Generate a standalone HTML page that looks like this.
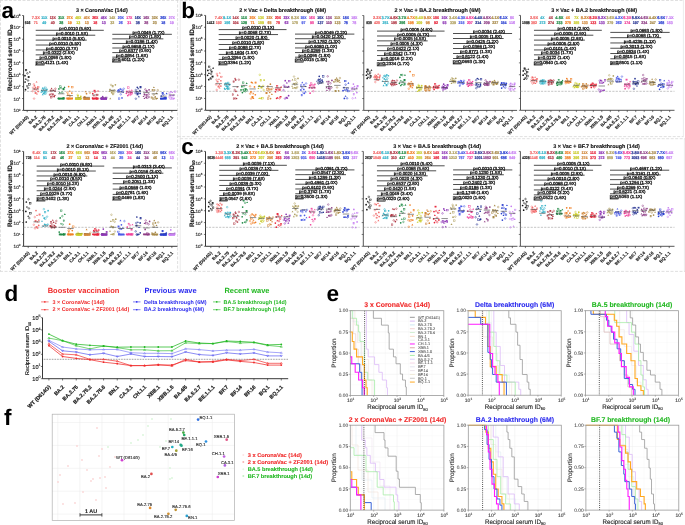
<!DOCTYPE html><html><head><meta charset="utf-8"><style>html,body{margin:0;padding:0;background:#fff;overflow:hidden;width:685px;height:525px;}svg{display:block;will-change:transform;}text{font-family:"Liberation Sans", sans-serif;}</style></head><body>
<svg width="685" height="525" viewBox="0 0 685 525" text-rendering="geometricPrecision">
<rect width="685" height="525" fill="#fff"/>
<line x1="0" y1="0.5" x2="684" y2="0.5" stroke="#d8d8d8" stroke-width="0.8" stroke-dasharray="3,1.5"/>
<line x1="0.5" y1="0" x2="0.5" y2="271.4" stroke="#d8d8d8" stroke-width="0.8" stroke-dasharray="3,1.5"/>
<line x1="177.6" y1="0" x2="177.6" y2="271.4" stroke="#d8d8d8" stroke-width="0.8" stroke-dasharray="3,1.5"/>
<line x1="180.2" y1="0" x2="180.2" y2="271.4" stroke="#e4e4e4" stroke-width="0.7"/>
<line x1="683.4" y1="0" x2="683.4" y2="136.6" stroke="#e4e4e4" stroke-width="0.7"/>
<line x1="684.4" y1="139" x2="684.4" y2="271.4" stroke="#e4e4e4" stroke-width="0.7"/>
<line x1="177.7" y1="136.6" x2="683.4" y2="136.6" stroke="#d8d8d8" stroke-width="0.8" stroke-dasharray="3,1.5"/>
<line x1="180.2" y1="138.7" x2="685" y2="138.7" stroke="#d8d8d8" stroke-width="0.8" stroke-dasharray="3,1.5"/>
<line x1="0" y1="271.4" x2="685" y2="271.4" stroke="#d8d8d8" stroke-width="0.8" stroke-dasharray="3,1.5"/>
<text x="101.8" y="12" font-size="5.42" fill="#111" font-weight="bold" text-anchor="middle" stroke="#111" stroke-width="0.12">3 × CoronaVac (14d)</text>
<text x="35.71" y="18.8" font-size="4" fill="#f26b6b" font-weight="bold" text-anchor="middle" textLength="8.1" lengthAdjust="spacingAndGlyphs" stroke="#f26b6b" stroke-width="0.22">7.3X</text>
<text x="35.71" y="24" font-size="4" fill="#f26b6b" font-weight="bold" text-anchor="middle" textLength="4" lengthAdjust="spacingAndGlyphs" stroke="#f26b6b" stroke-width="0.22">71</text>
<text x="44.22" y="18.8" font-size="4" fill="#36b3c9" font-weight="bold" text-anchor="middle" textLength="6.15" lengthAdjust="spacingAndGlyphs" stroke="#36b3c9" stroke-width="0.22">11X</text>
<text x="44.22" y="24" font-size="4" fill="#36b3c9" font-weight="bold" text-anchor="middle" textLength="4" lengthAdjust="spacingAndGlyphs" stroke="#36b3c9" stroke-width="0.22">49</text>
<text x="52.73" y="18.8" font-size="4" fill="#b03845" font-weight="bold" text-anchor="middle" textLength="6.15" lengthAdjust="spacingAndGlyphs" stroke="#b03845" stroke-width="0.22">13X</text>
<text x="52.73" y="24" font-size="4" fill="#b03845" font-weight="bold" text-anchor="middle" textLength="4" lengthAdjust="spacingAndGlyphs" stroke="#b03845" stroke-width="0.22">40</text>
<text x="61.24" y="18.8" font-size="4" fill="#1f8a45" font-weight="bold" text-anchor="middle" textLength="6.15" lengthAdjust="spacingAndGlyphs" stroke="#1f8a45" stroke-width="0.22">31X</text>
<text x="61.24" y="24" font-size="4" fill="#1f8a45" font-weight="bold" text-anchor="middle" textLength="4" lengthAdjust="spacingAndGlyphs" stroke="#1f8a45" stroke-width="0.22">28</text>
<text x="69.75" y="18.8" font-size="4" fill="#f07f24" font-weight="bold" text-anchor="middle" textLength="6.15" lengthAdjust="spacingAndGlyphs" stroke="#f07f24" stroke-width="0.22">27X</text>
<text x="69.75" y="24" font-size="4" fill="#f07f24" font-weight="bold" text-anchor="middle" textLength="4" lengthAdjust="spacingAndGlyphs" stroke="#f07f24" stroke-width="0.22">19</text>
<text x="78.26" y="18.8" font-size="4" fill="#c9cc2a" font-weight="bold" text-anchor="middle" textLength="6.15" lengthAdjust="spacingAndGlyphs" stroke="#c9cc2a" stroke-width="0.22">48X</text>
<text x="78.26" y="24" font-size="4" fill="#c9cc2a" font-weight="bold" text-anchor="middle" textLength="4" lengthAdjust="spacingAndGlyphs" stroke="#c9cc2a" stroke-width="0.22">13</text>
<text x="86.77" y="18.8" font-size="4" fill="#d1873a" font-weight="bold" text-anchor="middle" textLength="6.15" lengthAdjust="spacingAndGlyphs" stroke="#d1873a" stroke-width="0.22">40X</text>
<text x="86.77" y="24" font-size="4" fill="#d1873a" font-weight="bold" text-anchor="middle" textLength="4" lengthAdjust="spacingAndGlyphs" stroke="#d1873a" stroke-width="0.22">13</text>
<text x="95.28" y="18.8" font-size="4" fill="#e8263b" font-weight="bold" text-anchor="middle" textLength="6.15" lengthAdjust="spacingAndGlyphs" stroke="#e8263b" stroke-width="0.22">26X</text>
<text x="95.28" y="24" font-size="4" fill="#e8263b" font-weight="bold" text-anchor="middle" textLength="4" lengthAdjust="spacingAndGlyphs" stroke="#e8263b" stroke-width="0.22">18</text>
<text x="103.79" y="18.8" font-size="4" fill="#8d35b5" font-weight="bold" text-anchor="middle" textLength="6.15" lengthAdjust="spacingAndGlyphs" stroke="#8d35b5" stroke-width="0.22">48X</text>
<text x="103.79" y="24" font-size="4" fill="#8d35b5" font-weight="bold" text-anchor="middle" textLength="4" lengthAdjust="spacingAndGlyphs" stroke="#8d35b5" stroke-width="0.22">13</text>
<text x="112.3" y="18.8" font-size="4" fill="#b0a060" font-weight="bold" text-anchor="middle" textLength="6.15" lengthAdjust="spacingAndGlyphs" stroke="#b0a060" stroke-width="0.22">14X</text>
<text x="112.3" y="24" font-size="4" fill="#b0a060" font-weight="bold" text-anchor="middle" textLength="4" lengthAdjust="spacingAndGlyphs" stroke="#b0a060" stroke-width="0.22">32</text>
<text x="120.81" y="18.8" font-size="4" fill="#4b5be6" font-weight="bold" text-anchor="middle" textLength="6.15" lengthAdjust="spacingAndGlyphs" stroke="#4b5be6" stroke-width="0.22">20X</text>
<text x="120.81" y="24" font-size="4" fill="#4b5be6" font-weight="bold" text-anchor="middle" textLength="4" lengthAdjust="spacingAndGlyphs" stroke="#4b5be6" stroke-width="0.22">26</text>
<text x="129.32" y="18.8" font-size="4" fill="#f0409a" font-weight="bold" text-anchor="middle" textLength="6.15" lengthAdjust="spacingAndGlyphs" stroke="#f0409a" stroke-width="0.22">17X</text>
<text x="129.32" y="24" font-size="4" fill="#f0409a" font-weight="bold" text-anchor="middle" textLength="4" lengthAdjust="spacingAndGlyphs" stroke="#f0409a" stroke-width="0.22">31</text>
<text x="137.83" y="18.8" font-size="4" fill="#283593" font-weight="bold" text-anchor="middle" textLength="6.15" lengthAdjust="spacingAndGlyphs" stroke="#283593" stroke-width="0.22">16X</text>
<text x="137.83" y="24" font-size="4" fill="#283593" font-weight="bold" text-anchor="middle" textLength="4" lengthAdjust="spacingAndGlyphs" stroke="#283593" stroke-width="0.22">38</text>
<text x="146.34" y="18.8" font-size="4" fill="#8e3d85" font-weight="bold" text-anchor="middle" textLength="6.15" lengthAdjust="spacingAndGlyphs" stroke="#8e3d85" stroke-width="0.22">16X</text>
<text x="146.34" y="24" font-size="4" fill="#8e3d85" font-weight="bold" text-anchor="middle" textLength="4" lengthAdjust="spacingAndGlyphs" stroke="#8e3d85" stroke-width="0.22">28</text>
<text x="154.85" y="18.8" font-size="4" fill="#a88a4a" font-weight="bold" text-anchor="middle" textLength="6.15" lengthAdjust="spacingAndGlyphs" stroke="#a88a4a" stroke-width="0.22">32X</text>
<text x="154.85" y="24" font-size="4" fill="#a88a4a" font-weight="bold" text-anchor="middle" textLength="4" lengthAdjust="spacingAndGlyphs" stroke="#a88a4a" stroke-width="0.22">23</text>
<text x="163.36" y="18.8" font-size="4" fill="#2a3fd0" font-weight="bold" text-anchor="middle" textLength="6.15" lengthAdjust="spacingAndGlyphs" stroke="#2a3fd0" stroke-width="0.22">26X</text>
<text x="163.36" y="24" font-size="4" fill="#2a3fd0" font-weight="bold" text-anchor="middle" textLength="4" lengthAdjust="spacingAndGlyphs" stroke="#2a3fd0" stroke-width="0.22">18</text>
<text x="171.87" y="18.8" font-size="4" fill="#c77ef2" font-weight="bold" text-anchor="middle" textLength="6.15" lengthAdjust="spacingAndGlyphs" stroke="#c77ef2" stroke-width="0.22">27X</text>
<text x="171.87" y="24" font-size="4" fill="#c77ef2" font-weight="bold" text-anchor="middle" textLength="4" lengthAdjust="spacingAndGlyphs" stroke="#c77ef2" stroke-width="0.22">19</text>
<text x="27.6" y="24" font-size="4" fill="#222" font-weight="bold" text-anchor="middle" textLength="5.7" lengthAdjust="spacingAndGlyphs" stroke="#222" stroke-width="0.2">516</text>
<line x1="23.6" y1="15.52" x2="23.6" y2="110.4" stroke="#222" stroke-width="0.9" />
<line x1="23.6" y1="110.4" x2="177.3" y2="110.4" stroke="#222" stroke-width="0.9" />
<line x1="22" y1="110.4" x2="23.6" y2="110.4" stroke="#222" stroke-width="0.6" />
<text x="20.4" y="112.4" font-size="4.6" fill="#333" text-anchor="end" stroke="#333" stroke-width="0.15">10<tspan font-size="2.99" dy="-1.84">0</tspan></text>
<line x1="22" y1="98.54" x2="23.6" y2="98.54" stroke="#222" stroke-width="0.6" />
<text x="20.4" y="100.54" font-size="4.6" fill="#333" text-anchor="end" stroke="#333" stroke-width="0.15">10<tspan font-size="2.99" dy="-1.84">1</tspan></text>
<line x1="22" y1="86.68" x2="23.6" y2="86.68" stroke="#222" stroke-width="0.6" />
<text x="20.4" y="88.68" font-size="4.6" fill="#333" text-anchor="end" stroke="#333" stroke-width="0.15">10<tspan font-size="2.99" dy="-1.84">2</tspan></text>
<line x1="22" y1="74.82" x2="23.6" y2="74.82" stroke="#222" stroke-width="0.6" />
<text x="20.4" y="76.82" font-size="4.6" fill="#333" text-anchor="end" stroke="#333" stroke-width="0.15">10<tspan font-size="2.99" dy="-1.84">3</tspan></text>
<line x1="22" y1="62.96" x2="23.6" y2="62.96" stroke="#222" stroke-width="0.6" />
<text x="20.4" y="64.96" font-size="4.6" fill="#333" text-anchor="end" stroke="#333" stroke-width="0.15">10<tspan font-size="2.99" dy="-1.84">4</tspan></text>
<line x1="22" y1="51.1" x2="23.6" y2="51.1" stroke="#222" stroke-width="0.6" />
<text x="20.4" y="53.1" font-size="4.6" fill="#333" text-anchor="end" stroke="#333" stroke-width="0.15">10<tspan font-size="2.99" dy="-1.84">5</tspan></text>
<line x1="22" y1="39.24" x2="23.6" y2="39.24" stroke="#222" stroke-width="0.6" />
<text x="20.4" y="41.24" font-size="4.6" fill="#333" text-anchor="end" stroke="#333" stroke-width="0.15">10<tspan font-size="2.99" dy="-1.84">6</tspan></text>
<line x1="22" y1="27.38" x2="23.6" y2="27.38" stroke="#222" stroke-width="0.6" />
<text x="20.4" y="29.38" font-size="4.6" fill="#333" text-anchor="end" stroke="#333" stroke-width="0.15">10<tspan font-size="2.99" dy="-1.84">7</tspan></text>
<line x1="22" y1="15.52" x2="23.6" y2="15.52" stroke="#222" stroke-width="0.6" />
<text x="20.4" y="17.52" font-size="4.6" fill="#333" text-anchor="end" stroke="#333" stroke-width="0.15">10<tspan font-size="2.99" dy="-1.84">8</tspan></text>
<line x1="27.2" y1="110.4" x2="27.2" y2="112.2" stroke="#222" stroke-width="0.6" />
<line x1="35.71" y1="110.4" x2="35.71" y2="112.2" stroke="#222" stroke-width="0.6" />
<line x1="44.22" y1="110.4" x2="44.22" y2="112.2" stroke="#222" stroke-width="0.6" />
<line x1="52.73" y1="110.4" x2="52.73" y2="112.2" stroke="#222" stroke-width="0.6" />
<line x1="61.24" y1="110.4" x2="61.24" y2="112.2" stroke="#222" stroke-width="0.6" />
<line x1="69.75" y1="110.4" x2="69.75" y2="112.2" stroke="#222" stroke-width="0.6" />
<line x1="78.26" y1="110.4" x2="78.26" y2="112.2" stroke="#222" stroke-width="0.6" />
<line x1="86.77" y1="110.4" x2="86.77" y2="112.2" stroke="#222" stroke-width="0.6" />
<line x1="95.28" y1="110.4" x2="95.28" y2="112.2" stroke="#222" stroke-width="0.6" />
<line x1="103.79" y1="110.4" x2="103.79" y2="112.2" stroke="#222" stroke-width="0.6" />
<line x1="112.3" y1="110.4" x2="112.3" y2="112.2" stroke="#222" stroke-width="0.6" />
<line x1="120.81" y1="110.4" x2="120.81" y2="112.2" stroke="#222" stroke-width="0.6" />
<line x1="129.32" y1="110.4" x2="129.32" y2="112.2" stroke="#222" stroke-width="0.6" />
<line x1="137.83" y1="110.4" x2="137.83" y2="112.2" stroke="#222" stroke-width="0.6" />
<line x1="146.34" y1="110.4" x2="146.34" y2="112.2" stroke="#222" stroke-width="0.6" />
<line x1="154.85" y1="110.4" x2="154.85" y2="112.2" stroke="#222" stroke-width="0.6" />
<line x1="163.36" y1="110.4" x2="163.36" y2="112.2" stroke="#222" stroke-width="0.6" />
<line x1="171.87" y1="110.4" x2="171.87" y2="112.2" stroke="#222" stroke-width="0.6" />
<text transform="translate(11.9,57.86) rotate(-90)" font-size="6.4" font-weight="bold" fill="#111" stroke="#111" stroke-width="0.15" text-anchor="middle">Reciprocal serum ID<tspan font-size="4.2" dy="1.5">50</tspan></text>
<text transform="translate(28.9,117.4) rotate(-45)" font-size="4.4" font-weight="bold" fill="#1a1a1a" stroke="#1a1a1a" stroke-width="0.12" text-anchor="end">WT (D614G)</text>
<text transform="translate(37.41,117.4) rotate(-45)" font-size="4.4" font-weight="bold" fill="#1a1a1a" stroke="#1a1a1a" stroke-width="0.12" text-anchor="end">BA.2</text>
<text transform="translate(45.92,117.4) rotate(-45)" font-size="4.4" font-weight="bold" fill="#1a1a1a" stroke="#1a1a1a" stroke-width="0.12" text-anchor="end">BA.2.75</text>
<text transform="translate(54.43,117.4) rotate(-45)" font-size="4.4" font-weight="bold" fill="#1a1a1a" stroke="#1a1a1a" stroke-width="0.12" text-anchor="end">BA.2.75.2</text>
<text transform="translate(62.94,117.4) rotate(-45)" font-size="4.4" font-weight="bold" fill="#1a1a1a" stroke="#1a1a1a" stroke-width="0.12" text-anchor="end">BA.2.75.6</text>
<text transform="translate(71.45,117.4) rotate(-45)" font-size="4.4" font-weight="bold" fill="#1a1a1a" stroke="#1a1a1a" stroke-width="0.12" text-anchor="end">BN.1</text>
<text transform="translate(79.96,117.4) rotate(-45)" font-size="4.4" font-weight="bold" fill="#1a1a1a" stroke="#1a1a1a" stroke-width="0.12" text-anchor="end">CA.3.1</text>
<text transform="translate(88.47,117.4) rotate(-45)" font-size="4.4" font-weight="bold" fill="#1a1a1a" stroke="#1a1a1a" stroke-width="0.12" text-anchor="end">CH.1.1</text>
<text transform="translate(96.98,117.4) rotate(-45)" font-size="4.4" font-weight="bold" fill="#1a1a1a" stroke="#1a1a1a" stroke-width="0.12" text-anchor="end">XBB.1</text>
<text transform="translate(105.49,117.4) rotate(-45)" font-size="4.4" font-weight="bold" fill="#1a1a1a" stroke="#1a1a1a" stroke-width="0.12" text-anchor="end">XBB.1.5</text>
<text transform="translate(114,117.4) rotate(-45)" font-size="4.4" font-weight="bold" fill="#1a1a1a" stroke="#1a1a1a" stroke-width="0.12" text-anchor="end">BA.4/5</text>
<text transform="translate(122.51,117.4) rotate(-45)" font-size="4.4" font-weight="bold" fill="#1a1a1a" stroke="#1a1a1a" stroke-width="0.12" text-anchor="end">BA.5.2.7</text>
<text transform="translate(131.02,117.4) rotate(-45)" font-size="4.4" font-weight="bold" fill="#1a1a1a" stroke="#1a1a1a" stroke-width="0.12" text-anchor="end">BE.1.1.1</text>
<text transform="translate(139.53,117.4) rotate(-45)" font-size="4.4" font-weight="bold" fill="#1a1a1a" stroke="#1a1a1a" stroke-width="0.12" text-anchor="end">BF.7</text>
<text transform="translate(148.04,117.4) rotate(-45)" font-size="4.4" font-weight="bold" fill="#1a1a1a" stroke="#1a1a1a" stroke-width="0.12" text-anchor="end">BF.14</text>
<text transform="translate(156.55,117.4) rotate(-45)" font-size="4.4" font-weight="bold" fill="#1a1a1a" stroke="#1a1a1a" stroke-width="0.12" text-anchor="end">BF.16</text>
<text transform="translate(165.06,117.4) rotate(-45)" font-size="4.4" font-weight="bold" fill="#1a1a1a" stroke="#1a1a1a" stroke-width="0.12" text-anchor="end">BQ.1</text>
<text transform="translate(173.57,117.4) rotate(-45)" font-size="4.4" font-weight="bold" fill="#1a1a1a" stroke="#1a1a1a" stroke-width="0.12" text-anchor="end">BQ.1.1</text>
<line x1="23.6" y1="91.42" x2="177.3" y2="91.42" stroke="#999" stroke-width="0.55" stroke-dasharray="2.2,1.2"/>
<rect x="35.71" y="61.87" width="8.51" height="3.6" fill="none" stroke="#555" stroke-width="0.45"/>
<rect x="112.3" y="58.92" width="8.51" height="3.6" fill="none" stroke="#555" stroke-width="0.45"/>
<line x1="35.71" y1="30.3" x2="103.79" y2="30.3" stroke="#222" stroke-width="0.8" />
<text x="59.21" y="29.9" font-size="4.3" fill="#111" text-anchor="start" textLength="32" lengthAdjust="spacingAndGlyphs" stroke="#111" stroke-width="0.28">p=0.0010 (5.6X)</text>
<line x1="35.71" y1="35.21" x2="95.28" y2="35.21" stroke="#222" stroke-width="0.8" />
<text x="55.91" y="34.81" font-size="4.3" fill="#111" text-anchor="start" textLength="32" lengthAdjust="spacingAndGlyphs" stroke="#111" stroke-width="0.28">p=0.0010 (1.5X)</text>
<line x1="35.71" y1="40.12" x2="86.77" y2="40.12" stroke="#222" stroke-width="0.8" />
<text x="52.61" y="39.72" font-size="4.3" fill="#111" text-anchor="start" textLength="32" lengthAdjust="spacingAndGlyphs" stroke="#111" stroke-width="0.28">p=0.0010 (5.5X)</text>
<line x1="35.71" y1="45.03" x2="78.26" y2="45.03" stroke="#222" stroke-width="0.8" />
<text x="49.31" y="44.63" font-size="4.3" fill="#111" text-anchor="start" textLength="32" lengthAdjust="spacingAndGlyphs" stroke="#111" stroke-width="0.28">p=0.0010 (5.5X)</text>
<line x1="35.71" y1="49.94" x2="69.75" y2="49.94" stroke="#222" stroke-width="0.8" />
<text x="46.01" y="49.54" font-size="4.3" fill="#111" text-anchor="start" textLength="32" lengthAdjust="spacingAndGlyphs" stroke="#111" stroke-width="0.28">p=0.0020 (3.7X)</text>
<line x1="35.71" y1="54.85" x2="61.24" y2="54.85" stroke="#222" stroke-width="0.8" />
<text x="42.71" y="54.45" font-size="4.3" fill="#111" text-anchor="start" textLength="32" lengthAdjust="spacingAndGlyphs" stroke="#111" stroke-width="0.28">p=0.0322 (2.5X)</text>
<line x1="35.71" y1="59.76" x2="52.73" y2="59.76" stroke="#222" stroke-width="0.8" />
<text x="39.41" y="59.36" font-size="4.3" fill="#111" text-anchor="start" textLength="32" lengthAdjust="spacingAndGlyphs" stroke="#111" stroke-width="0.28">p=0.0098 (1.8X)</text>
<line x1="35.71" y1="64.67" x2="44.22" y2="64.67" stroke="#222" stroke-width="0.8" />
<text x="36.11" y="64.27" font-size="4.3" fill="#111" text-anchor="start" textLength="32" lengthAdjust="spacingAndGlyphs" stroke="#111" stroke-width="0.28">p=0.4121 (1.4X)</text>
<line x1="112.3" y1="34.3" x2="171.87" y2="34.3" stroke="#222" stroke-width="0.8" />
<text x="132.4" y="33.9" font-size="4.3" fill="#111" text-anchor="start" textLength="32" lengthAdjust="spacingAndGlyphs" stroke="#111" stroke-width="0.28">p=0.0049 (1.7X)</text>
<line x1="112.3" y1="38.87" x2="163.36" y2="38.87" stroke="#222" stroke-width="0.8" />
<text x="129.1" y="38.47" font-size="4.3" fill="#111" text-anchor="start" textLength="32" lengthAdjust="spacingAndGlyphs" stroke="#111" stroke-width="0.28">p=0.0020 (1.8X)</text>
<line x1="112.3" y1="43.44" x2="154.85" y2="43.44" stroke="#222" stroke-width="0.8" />
<text x="125.8" y="43.04" font-size="4.3" fill="#111" text-anchor="start" textLength="32" lengthAdjust="spacingAndGlyphs" stroke="#111" stroke-width="0.28">p=0.0186 (1.4X)</text>
<line x1="112.3" y1="48.01" x2="146.34" y2="48.01" stroke="#222" stroke-width="0.8" />
<text x="122.5" y="47.61" font-size="4.3" fill="#111" text-anchor="start" textLength="32" lengthAdjust="spacingAndGlyphs" stroke="#111" stroke-width="0.28">p=0.9658 (1.1X)</text>
<line x1="112.3" y1="52.58" x2="137.83" y2="52.58" stroke="#222" stroke-width="0.8" />
<text x="119.2" y="52.18" font-size="4.3" fill="#111" text-anchor="start" textLength="32" lengthAdjust="spacingAndGlyphs" stroke="#111" stroke-width="0.28">p=0.6377 (0.9X)</text>
<line x1="112.3" y1="57.15" x2="129.32" y2="57.15" stroke="#222" stroke-width="0.8" />
<text x="115.9" y="56.75" font-size="4.3" fill="#111" text-anchor="start" textLength="32" lengthAdjust="spacingAndGlyphs" stroke="#111" stroke-width="0.28">p=0.0854 (1.6X)</text>
<line x1="112.3" y1="61.72" x2="120.81" y2="61.72" stroke="#222" stroke-width="0.8" />
<text x="112.6" y="61.32" font-size="4.3" fill="#111" text-anchor="start" textLength="32" lengthAdjust="spacingAndGlyphs" stroke="#111" stroke-width="0.28">p=0.6011 (1.2X)</text>
<circle cx="25.53" cy="89.67" r="0.85" fill="#111111"/>
<circle cx="28.01" cy="87.83" r="0.8" fill="none" stroke="#111111" stroke-width="0.5"/>
<path d="M27.02 84.86l1.0 1.6h-2.0z" fill="#111111"/>
<rect x="28.67" y="83.68" width="1.5" height="1.5" fill="none" stroke="#111111" stroke-width="0.5"/>
<circle cx="25.11" cy="82.01" r="0.85" fill="#111111"/>
<circle cx="28" cy="80.51" r="0.8" fill="none" stroke="#111111" stroke-width="0.5"/>
<path d="M25.86 78.04l1.0 1.6h-2.0z" fill="#111111"/>
<rect x="28.02" y="76.26" width="1.5" height="1.5" fill="none" stroke="#111111" stroke-width="0.5"/>
<circle cx="24.99" cy="75.64" r="0.85" fill="#111111"/>
<circle cx="27.39" cy="73.36" r="0.8" fill="none" stroke="#111111" stroke-width="0.5"/>
<path d="M29.84 70.89l1.0 1.6h-2.0z" fill="#111111"/>
<rect x="25.32" y="69.35" width="1.5" height="1.5" fill="none" stroke="#111111" stroke-width="0.5"/>
<circle cx="34.07" cy="98.58" r="0.8" fill="none" stroke="#f26b6b" stroke-width="0.5"/>
<path d="M36.97 92.96l1.0 1.6h-2.0z" fill="#f26b6b"/>
<rect x="34.93" y="92.28" width="1.5" height="1.5" fill="none" stroke="#f26b6b" stroke-width="0.5"/>
<circle cx="38.09" cy="91.41" r="0.85" fill="#f26b6b"/>
<circle cx="32.66" cy="91.1" r="0.8" fill="none" stroke="#f26b6b" stroke-width="0.5"/>
<path d="M36.43 89.01l1.0 1.6h-2.0z" fill="#f26b6b"/>
<rect x="34.02" y="88.43" width="1.5" height="1.5" fill="none" stroke="#f26b6b" stroke-width="0.5"/>
<circle cx="37.52" cy="88.4" r="0.85" fill="#f26b6b"/>
<circle cx="33.13" cy="87.62" r="0.8" fill="none" stroke="#f26b6b" stroke-width="0.5"/>
<path d="M35.54 86.33l1.0 1.6h-2.0z" fill="#f26b6b"/>
<rect x="37.51" y="86.28" width="1.5" height="1.5" fill="none" stroke="#f26b6b" stroke-width="0.5"/>
<circle cx="34.51" cy="85.76" r="0.85" fill="#f26b6b"/>
<circle cx="33.82" cy="84.32" r="0.8" fill="none" stroke="#f26b6b" stroke-width="0.5"/>
<path d="M36.57 80.96l1.0 1.6h-2.0z" fill="#f26b6b"/>
<line x1="32.51" y1="89.05" x2="38.91" y2="89.05" stroke="#444" stroke-width="0.6" />
<path d="M42.72 93.59l1.0 1.6h-2.0z" fill="#36b3c9"/>
<rect x="44.58" y="93.18" width="1.5" height="1.5" fill="none" stroke="#36b3c9" stroke-width="0.5"/>
<circle cx="43.6" cy="93.31" r="0.85" fill="#36b3c9"/>
<circle cx="46.27" cy="92.15" r="0.8" fill="none" stroke="#36b3c9" stroke-width="0.5"/>
<path d="M41.29 91.14l1.0 1.6h-2.0z" fill="#36b3c9"/>
<rect x="43.94" y="91.26" width="1.5" height="1.5" fill="none" stroke="#36b3c9" stroke-width="0.5"/>
<circle cx="42.62" cy="91.43" r="0.85" fill="#36b3c9"/>
<circle cx="45.8" cy="90.74" r="0.8" fill="none" stroke="#36b3c9" stroke-width="0.5"/>
<path d="M41.64 89.51l1.0 1.6h-2.0z" fill="#36b3c9"/>
<rect x="43.66" y="89.02" width="1.5" height="1.5" fill="none" stroke="#36b3c9" stroke-width="0.5"/>
<circle cx="46.92" cy="89.34" r="0.85" fill="#36b3c9"/>
<circle cx="43.21" cy="88.67" r="0.8" fill="none" stroke="#36b3c9" stroke-width="0.5"/>
<path d="M42.7 87.03l1.0 1.6h-2.0z" fill="#36b3c9"/>
<rect x="44.64" y="87.02" width="1.5" height="1.5" fill="none" stroke="#36b3c9" stroke-width="0.5"/>
<line x1="41.02" y1="90.24" x2="47.42" y2="90.24" stroke="#444" stroke-width="0.6" />
<rect x="50.43" y="96.56" width="1.5" height="1.5" fill="none" stroke="#b03845" stroke-width="0.5"/>
<circle cx="54.21" cy="96.57" r="0.85" fill="#b03845"/>
<circle cx="52.68" cy="96.15" r="0.8" fill="none" stroke="#b03845" stroke-width="0.5"/>
<path d="M54.91 94.43l1.0 1.6h-2.0z" fill="#b03845"/>
<rect x="49.16" y="94.06" width="1.5" height="1.5" fill="none" stroke="#b03845" stroke-width="0.5"/>
<circle cx="52.95" cy="94.21" r="0.85" fill="#b03845"/>
<circle cx="51.34" cy="94.17" r="0.8" fill="none" stroke="#b03845" stroke-width="0.5"/>
<path d="M55 90.03l1.0 1.6h-2.0z" fill="#b03845"/>
<rect x="50.13" y="89.93" width="1.5" height="1.5" fill="none" stroke="#b03845" stroke-width="0.5"/>
<circle cx="53.19" cy="90.37" r="0.85" fill="#b03845"/>
<circle cx="55.41" cy="88.79" r="0.8" fill="none" stroke="#b03845" stroke-width="0.5"/>
<path d="M51.59 87.58l1.0 1.6h-2.0z" fill="#b03845"/>
<line x1="49.53" y1="90.83" x2="55.93" y2="90.83" stroke="#444" stroke-width="0.6" />
<circle cx="59.31" cy="98.66" r="0.85" fill="#1f8a45"/>
<circle cx="62.82" cy="98.5" r="0.8" fill="none" stroke="#1f8a45" stroke-width="0.5"/>
<path d="M60.86 97.77l1.0 1.6h-2.0z" fill="#1f8a45"/>
<rect x="63.07" y="97.66" width="1.5" height="1.5" fill="none" stroke="#1f8a45" stroke-width="0.5"/>
<circle cx="58.24" cy="98.4" r="0.85" fill="#1f8a45"/>
<circle cx="62.16" cy="92.51" r="0.8" fill="none" stroke="#1f8a45" stroke-width="0.5"/>
<path d="M59.76 91.56l1.0 1.6h-2.0z" fill="#1f8a45"/>
<rect x="62.77" y="88.42" width="1.5" height="1.5" fill="none" stroke="#1f8a45" stroke-width="0.5"/>
<circle cx="58.92" cy="88.88" r="0.85" fill="#1f8a45"/>
<circle cx="61.04" cy="88.16" r="0.8" fill="none" stroke="#1f8a45" stroke-width="0.5"/>
<path d="M64.52 86.28l1.0 1.6h-2.0z" fill="#1f8a45"/>
<rect x="59.61" y="85.8" width="1.5" height="1.5" fill="none" stroke="#1f8a45" stroke-width="0.5"/>
<line x1="58.04" y1="93.8" x2="64.44" y2="93.8" stroke="#444" stroke-width="0.6" />
<rect x="58.04" y="97.64" width="6.4" height="1.8" fill="#1f8a45"/>
<circle cx="68.02" cy="98.7" r="0.8" fill="none" stroke="#f07f24" stroke-width="0.5"/>
<path d="M70.89 97.76l1.0 1.6h-2.0z" fill="#f07f24"/>
<rect x="68.7" y="97.8" width="1.5" height="1.5" fill="none" stroke="#f07f24" stroke-width="0.5"/>
<circle cx="72.17" cy="98.35" r="0.85" fill="#f07f24"/>
<circle cx="67" cy="98.41" r="0.8" fill="none" stroke="#f07f24" stroke-width="0.5"/>
<path d="M69.95 94.85l1.0 1.6h-2.0z" fill="#f07f24"/>
<rect x="67.54" y="93.96" width="1.5" height="1.5" fill="none" stroke="#f07f24" stroke-width="0.5"/>
<circle cx="71.83" cy="93.1" r="0.85" fill="#f07f24"/>
<circle cx="67.41" cy="92.57" r="0.8" fill="none" stroke="#f07f24" stroke-width="0.5"/>
<path d="M69.89 90.05l1.0 1.6h-2.0z" fill="#f07f24"/>
<rect x="71.58" y="86.44" width="1.5" height="1.5" fill="none" stroke="#f07f24" stroke-width="0.5"/>
<circle cx="68.65" cy="86.58" r="0.85" fill="#f07f24"/>
<line x1="66.55" y1="95.58" x2="72.95" y2="95.58" stroke="#444" stroke-width="0.6" />
<rect x="66.55" y="97.64" width="6.4" height="1.8" fill="#f07f24"/>
<path d="M76.55 97.59l1.0 1.6h-2.0z" fill="#c9cc2a"/>
<rect x="78.72" y="97.87" width="1.5" height="1.5" fill="none" stroke="#c9cc2a" stroke-width="0.5"/>
<circle cx="77.92" cy="98.55" r="0.85" fill="#c9cc2a"/>
<circle cx="80.64" cy="98.72" r="0.8" fill="none" stroke="#c9cc2a" stroke-width="0.5"/>
<path d="M75.72 97.74l1.0 1.6h-2.0z" fill="#c9cc2a"/>
<rect x="78.46" y="97.69" width="1.5" height="1.5" fill="none" stroke="#c9cc2a" stroke-width="0.5"/>
<circle cx="77.11" cy="98.72" r="0.85" fill="#c9cc2a"/>
<circle cx="80.43" cy="98.39" r="0.8" fill="none" stroke="#c9cc2a" stroke-width="0.5"/>
<path d="M75.76 97.57l1.0 1.6h-2.0z" fill="#c9cc2a"/>
<rect x="77.27" y="95.65" width="1.5" height="1.5" fill="none" stroke="#c9cc2a" stroke-width="0.5"/>
<circle cx="80.82" cy="96.27" r="0.85" fill="#c9cc2a"/>
<circle cx="77.59" cy="94.92" r="0.8" fill="none" stroke="#c9cc2a" stroke-width="0.5"/>
<line x1="75.06" y1="97.95" x2="81.46" y2="97.95" stroke="#444" stroke-width="0.6" />
<rect x="75.06" y="97.64" width="6.4" height="2.2" fill="#c9cc2a"/>
<rect x="84.14" y="97.78" width="1.5" height="1.5" fill="none" stroke="#d1873a" stroke-width="0.5"/>
<circle cx="88.36" cy="98.67" r="0.85" fill="#d1873a"/>
<circle cx="86.2" cy="98.51" r="0.8" fill="none" stroke="#d1873a" stroke-width="0.5"/>
<path d="M89.18 97.53l1.0 1.6h-2.0z" fill="#d1873a"/>
<rect x="83.08" y="97.72" width="1.5" height="1.5" fill="none" stroke="#d1873a" stroke-width="0.5"/>
<circle cx="87.55" cy="98.35" r="0.85" fill="#d1873a"/>
<circle cx="85.61" cy="98.52" r="0.8" fill="none" stroke="#d1873a" stroke-width="0.5"/>
<path d="M88.28 97.52l1.0 1.6h-2.0z" fill="#d1873a"/>
<rect x="83.92" y="96.7" width="1.5" height="1.5" fill="none" stroke="#d1873a" stroke-width="0.5"/>
<circle cx="86.52" cy="93.64" r="0.85" fill="#d1873a"/>
<circle cx="89.9" cy="92.78" r="0.8" fill="none" stroke="#d1873a" stroke-width="0.5"/>
<path d="M85.55 90.72l1.0 1.6h-2.0z" fill="#d1873a"/>
<line x1="83.57" y1="97.35" x2="89.97" y2="97.35" stroke="#444" stroke-width="0.6" />
<rect x="83.57" y="97.64" width="6.4" height="2.2" fill="#d1873a"/>
<circle cx="93.14" cy="98.72" r="0.85" fill="#e8263b"/>
<circle cx="96.59" cy="98.66" r="0.8" fill="none" stroke="#e8263b" stroke-width="0.5"/>
<path d="M94.65 97.73l1.0 1.6h-2.0z" fill="#e8263b"/>
<rect x="96.58" y="97.94" width="1.5" height="1.5" fill="none" stroke="#e8263b" stroke-width="0.5"/>
<circle cx="92.54" cy="98" r="0.85" fill="#e8263b"/>
<circle cx="95.92" cy="97.64" r="0.8" fill="none" stroke="#e8263b" stroke-width="0.5"/>
<path d="M93.89 94.68l1.0 1.6h-2.0z" fill="#e8263b"/>
<rect x="96.45" y="94.14" width="1.5" height="1.5" fill="none" stroke="#e8263b" stroke-width="0.5"/>
<circle cx="92.77" cy="93.54" r="0.85" fill="#e8263b"/>
<circle cx="95.02" cy="91.95" r="0.8" fill="none" stroke="#e8263b" stroke-width="0.5"/>
<path d="M98.03 89.95l1.0 1.6h-2.0z" fill="#e8263b"/>
<rect x="93.84" y="90.08" width="1.5" height="1.5" fill="none" stroke="#e8263b" stroke-width="0.5"/>
<line x1="92.08" y1="94.98" x2="98.48" y2="94.98" stroke="#444" stroke-width="0.6" />
<rect x="92.08" y="97.64" width="6.4" height="1.8" fill="#e8263b"/>
<circle cx="101.74" cy="98.53" r="0.8" fill="none" stroke="#8d35b5" stroke-width="0.5"/>
<path d="M105.34 97.43l1.0 1.6h-2.0z" fill="#8d35b5"/>
<rect x="103" y="97.76" width="1.5" height="1.5" fill="none" stroke="#8d35b5" stroke-width="0.5"/>
<circle cx="106.19" cy="98.67" r="0.85" fill="#8d35b5"/>
<circle cx="101" cy="98.54" r="0.8" fill="none" stroke="#8d35b5" stroke-width="0.5"/>
<path d="M104.54 97.78l1.0 1.6h-2.0z" fill="#8d35b5"/>
<rect x="101.71" y="97.92" width="1.5" height="1.5" fill="none" stroke="#8d35b5" stroke-width="0.5"/>
<circle cx="105.86" cy="98.59" r="0.85" fill="#8d35b5"/>
<circle cx="101.51" cy="98.41" r="0.8" fill="none" stroke="#8d35b5" stroke-width="0.5"/>
<path d="M103.53 97.36l1.0 1.6h-2.0z" fill="#8d35b5"/>
<rect x="105.6" y="97.04" width="1.5" height="1.5" fill="none" stroke="#8d35b5" stroke-width="0.5"/>
<circle cx="102.69" cy="96.63" r="0.85" fill="#8d35b5"/>
<line x1="100.59" y1="97.95" x2="106.99" y2="97.95" stroke="#444" stroke-width="0.6" />
<rect x="100.59" y="97.64" width="6.4" height="2.2" fill="#8d35b5"/>
<path d="M110.26 97.59l1.0 1.6h-2.0z" fill="#b0a060"/>
<rect x="112.35" y="93.35" width="1.5" height="1.5" fill="none" stroke="#b0a060" stroke-width="0.5"/>
<circle cx="111.67" cy="92.66" r="0.85" fill="#b0a060"/>
<circle cx="114.33" cy="92.18" r="0.8" fill="none" stroke="#b0a060" stroke-width="0.5"/>
<path d="M109.44 90.48l1.0 1.6h-2.0z" fill="#b0a060"/>
<rect x="112.22" y="90.62" width="1.5" height="1.5" fill="none" stroke="#b0a060" stroke-width="0.5"/>
<circle cx="111.3" cy="90.86" r="0.85" fill="#b0a060"/>
<circle cx="114.37" cy="90.38" r="0.8" fill="none" stroke="#b0a060" stroke-width="0.5"/>
<path d="M110.01 88.34l1.0 1.6h-2.0z" fill="#b0a060"/>
<rect x="112.04" y="85.49" width="1.5" height="1.5" fill="none" stroke="#b0a060" stroke-width="0.5"/>
<circle cx="115.38" cy="84.86" r="0.85" fill="#b0a060"/>
<circle cx="111.04" cy="84.89" r="0.8" fill="none" stroke="#b0a060" stroke-width="0.5"/>
<line x1="109.1" y1="90.24" x2="115.5" y2="90.24" stroke="#444" stroke-width="0.6" />
<rect x="118.36" y="97.86" width="1.5" height="1.5" fill="none" stroke="#4b5be6" stroke-width="0.5"/>
<circle cx="122" cy="97.97" r="0.85" fill="#4b5be6"/>
<circle cx="120.75" cy="94.36" r="0.8" fill="none" stroke="#4b5be6" stroke-width="0.5"/>
<path d="M123.21 91.39l1.0 1.6h-2.0z" fill="#4b5be6"/>
<rect x="117.49" y="90.61" width="1.5" height="1.5" fill="none" stroke="#4b5be6" stroke-width="0.5"/>
<circle cx="121.6" cy="91.43" r="0.85" fill="#4b5be6"/>
<circle cx="119.27" cy="90.99" r="0.8" fill="none" stroke="#4b5be6" stroke-width="0.5"/>
<path d="M122.89 89.06l1.0 1.6h-2.0z" fill="#4b5be6"/>
<rect x="118.05" y="89.44" width="1.5" height="1.5" fill="none" stroke="#4b5be6" stroke-width="0.5"/>
<circle cx="120.91" cy="89.24" r="0.85" fill="#4b5be6"/>
<circle cx="123.69" cy="88.71" r="0.8" fill="none" stroke="#4b5be6" stroke-width="0.5"/>
<path d="M120.12 87.72l1.0 1.6h-2.0z" fill="#4b5be6"/>
<line x1="117.61" y1="92.02" x2="124.01" y2="92.02" stroke="#444" stroke-width="0.6" />
<circle cx="127.78" cy="95.61" r="0.85" fill="#f0409a"/>
<circle cx="130.48" cy="94.81" r="0.8" fill="none" stroke="#f0409a" stroke-width="0.5"/>
<path d="M128.79 93.54l1.0 1.6h-2.0z" fill="#f0409a"/>
<rect x="130.74" y="92.74" width="1.5" height="1.5" fill="none" stroke="#f0409a" stroke-width="0.5"/>
<circle cx="126.33" cy="93.31" r="0.85" fill="#f0409a"/>
<circle cx="130.28" cy="93.05" r="0.8" fill="none" stroke="#f0409a" stroke-width="0.5"/>
<path d="M128.38 91.63l1.0 1.6h-2.0z" fill="#f0409a"/>
<rect x="130.78" y="91.83" width="1.5" height="1.5" fill="none" stroke="#f0409a" stroke-width="0.5"/>
<circle cx="126.91" cy="91.43" r="0.85" fill="#f0409a"/>
<circle cx="129.41" cy="91.02" r="0.8" fill="none" stroke="#f0409a" stroke-width="0.5"/>
<path d="M131.82 89.17l1.0 1.6h-2.0z" fill="#f0409a"/>
<rect x="127.63" y="86.77" width="1.5" height="1.5" fill="none" stroke="#f0409a" stroke-width="0.5"/>
<line x1="126.12" y1="92.02" x2="132.52" y2="92.02" stroke="#444" stroke-width="0.6" />
<circle cx="135.86" cy="98.71" r="0.8" fill="none" stroke="#283593" stroke-width="0.5"/>
<path d="M138.83 95.74l1.0 1.6h-2.0z" fill="#283593"/>
<rect x="136.79" y="93.57" width="1.5" height="1.5" fill="none" stroke="#283593" stroke-width="0.5"/>
<circle cx="140.13" cy="93.46" r="0.85" fill="#283593"/>
<circle cx="135.44" cy="92.96" r="0.8" fill="none" stroke="#283593" stroke-width="0.5"/>
<path d="M138.53 91.91l1.0 1.6h-2.0z" fill="#283593"/>
<rect x="136.23" y="91.55" width="1.5" height="1.5" fill="none" stroke="#283593" stroke-width="0.5"/>
<circle cx="139.91" cy="90.69" r="0.85" fill="#283593"/>
<circle cx="135.82" cy="89.97" r="0.8" fill="none" stroke="#283593" stroke-width="0.5"/>
<path d="M138.13 87.56l1.0 1.6h-2.0z" fill="#283593"/>
<rect x="139.81" y="86.52" width="1.5" height="1.5" fill="none" stroke="#283593" stroke-width="0.5"/>
<circle cx="137.27" cy="87.24" r="0.85" fill="#283593"/>
<line x1="134.63" y1="91.42" x2="141.03" y2="91.42" stroke="#444" stroke-width="0.6" />
<path d="M144.41 97.43l1.0 1.6h-2.0z" fill="#8e3d85"/>
<rect x="146.58" y="96.83" width="1.5" height="1.5" fill="none" stroke="#8e3d85" stroke-width="0.5"/>
<circle cx="146.1" cy="97.37" r="0.85" fill="#8e3d85"/>
<circle cx="148.94" cy="96.97" r="0.8" fill="none" stroke="#8e3d85" stroke-width="0.5"/>
<path d="M143.57 95.51l1.0 1.6h-2.0z" fill="#8e3d85"/>
<rect x="146.09" y="94.46" width="1.5" height="1.5" fill="none" stroke="#8e3d85" stroke-width="0.5"/>
<circle cx="144.79" cy="94.63" r="0.85" fill="#8e3d85"/>
<circle cx="148.61" cy="94.28" r="0.8" fill="none" stroke="#8e3d85" stroke-width="0.5"/>
<path d="M144.14 92.93l1.0 1.6h-2.0z" fill="#8e3d85"/>
<rect x="145.98" y="90.66" width="1.5" height="1.5" fill="none" stroke="#8e3d85" stroke-width="0.5"/>
<circle cx="149.06" cy="89.84" r="0.85" fill="#8e3d85"/>
<circle cx="145.36" cy="89.38" r="0.8" fill="none" stroke="#8e3d85" stroke-width="0.5"/>
<line x1="143.14" y1="92.61" x2="149.54" y2="92.61" stroke="#444" stroke-width="0.6" />
<rect x="152.32" y="97.86" width="1.5" height="1.5" fill="none" stroke="#a88a4a" stroke-width="0.5"/>
<circle cx="156.4" cy="98.63" r="0.85" fill="#a88a4a"/>
<circle cx="154.67" cy="98.65" r="0.8" fill="none" stroke="#a88a4a" stroke-width="0.5"/>
<path d="M157.22 97.51l1.0 1.6h-2.0z" fill="#a88a4a"/>
<rect x="151.03" y="96.8" width="1.5" height="1.5" fill="none" stroke="#a88a4a" stroke-width="0.5"/>
<circle cx="155.24" cy="96.88" r="0.85" fill="#a88a4a"/>
<circle cx="153.77" cy="94.72" r="0.8" fill="none" stroke="#a88a4a" stroke-width="0.5"/>
<path d="M156.45 92.3l1.0 1.6h-2.0z" fill="#a88a4a"/>
<rect x="152.01" y="89.58" width="1.5" height="1.5" fill="none" stroke="#a88a4a" stroke-width="0.5"/>
<circle cx="154.64" cy="90" r="0.85" fill="#a88a4a"/>
<circle cx="157.77" cy="90.16" r="0.8" fill="none" stroke="#a88a4a" stroke-width="0.5"/>
<path d="M153.86 86.49l1.0 1.6h-2.0z" fill="#a88a4a"/>
<line x1="151.65" y1="93.8" x2="158.05" y2="93.8" stroke="#444" stroke-width="0.6" />
<circle cx="161.93" cy="98.62" r="0.85" fill="#2a3fd0"/>
<circle cx="164.41" cy="98.35" r="0.8" fill="none" stroke="#2a3fd0" stroke-width="0.5"/>
<path d="M163.06 97.66l1.0 1.6h-2.0z" fill="#2a3fd0"/>
<rect x="164.95" y="97.69" width="1.5" height="1.5" fill="none" stroke="#2a3fd0" stroke-width="0.5"/>
<circle cx="160.79" cy="98.71" r="0.85" fill="#2a3fd0"/>
<circle cx="163.74" cy="98.35" r="0.8" fill="none" stroke="#2a3fd0" stroke-width="0.5"/>
<path d="M162.03 97.56l1.0 1.6h-2.0z" fill="#2a3fd0"/>
<rect x="164.66" y="97.15" width="1.5" height="1.5" fill="none" stroke="#2a3fd0" stroke-width="0.5"/>
<circle cx="161.4" cy="96" r="0.85" fill="#2a3fd0"/>
<circle cx="163.46" cy="94.57" r="0.8" fill="none" stroke="#2a3fd0" stroke-width="0.5"/>
<path d="M166.64 92.6l1.0 1.6h-2.0z" fill="#2a3fd0"/>
<rect x="161.97" y="92.62" width="1.5" height="1.5" fill="none" stroke="#2a3fd0" stroke-width="0.5"/>
<line x1="160.16" y1="96.17" x2="166.56" y2="96.17" stroke="#444" stroke-width="0.6" />
<rect x="160.16" y="97.64" width="6.4" height="1.8" fill="#2a3fd0"/>
<circle cx="170.39" cy="98.69" r="0.8" fill="none" stroke="#c77ef2" stroke-width="0.5"/>
<path d="M173.26 97.79l1.0 1.6h-2.0z" fill="#c77ef2"/>
<rect x="171.17" y="97.72" width="1.5" height="1.5" fill="none" stroke="#c77ef2" stroke-width="0.5"/>
<circle cx="174.02" cy="98.35" r="0.85" fill="#c77ef2"/>
<circle cx="169.37" cy="97.02" r="0.8" fill="none" stroke="#c77ef2" stroke-width="0.5"/>
<path d="M172.6 94.74l1.0 1.6h-2.0z" fill="#c77ef2"/>
<rect x="169.82" y="94.92" width="1.5" height="1.5" fill="none" stroke="#c77ef2" stroke-width="0.5"/>
<circle cx="173.51" cy="95.37" r="0.85" fill="#c77ef2"/>
<circle cx="169.49" cy="93.07" r="0.8" fill="none" stroke="#c77ef2" stroke-width="0.5"/>
<path d="M172.33 91.46l1.0 1.6h-2.0z" fill="#c77ef2"/>
<rect x="174.39" y="90.9" width="1.5" height="1.5" fill="none" stroke="#c77ef2" stroke-width="0.5"/>
<circle cx="170.86" cy="91.74" r="0.85" fill="#c77ef2"/>
<line x1="168.67" y1="94.98" x2="175.07" y2="94.98" stroke="#444" stroke-width="0.6" />
<text x="282.6" y="12" font-size="5.42" fill="#111" font-weight="bold" text-anchor="middle" stroke="#111" stroke-width="0.12">2 × Vac + Delta breakthrough (6M)</text>
<text x="218.68" y="18.8" font-size="4" fill="#f26b6b" font-weight="bold" text-anchor="middle" textLength="8.1" lengthAdjust="spacingAndGlyphs" stroke="#f26b6b" stroke-width="0.22">7.4X</text>
<text x="218.68" y="24" font-size="4" fill="#f26b6b" font-weight="bold" text-anchor="middle" textLength="6" lengthAdjust="spacingAndGlyphs" stroke="#f26b6b" stroke-width="0.22">192</text>
<text x="227.16" y="18.8" font-size="4" fill="#36b3c9" font-weight="bold" text-anchor="middle" textLength="8.1" lengthAdjust="spacingAndGlyphs" stroke="#36b3c9" stroke-width="0.22">9.1X</text>
<text x="227.16" y="24" font-size="4" fill="#36b3c9" font-weight="bold" text-anchor="middle" textLength="6" lengthAdjust="spacingAndGlyphs" stroke="#36b3c9" stroke-width="0.22">156</text>
<text x="235.64" y="18.8" font-size="4" fill="#b03845" font-weight="bold" text-anchor="middle" textLength="6.15" lengthAdjust="spacingAndGlyphs" stroke="#b03845" stroke-width="0.22">14X</text>
<text x="235.64" y="24" font-size="4" fill="#b03845" font-weight="bold" text-anchor="middle" textLength="6" lengthAdjust="spacingAndGlyphs" stroke="#b03845" stroke-width="0.22">104</text>
<text x="244.12" y="18.8" font-size="4" fill="#1f8a45" font-weight="bold" text-anchor="middle" textLength="6.15" lengthAdjust="spacingAndGlyphs" stroke="#1f8a45" stroke-width="0.22">11X</text>
<text x="244.12" y="24" font-size="4" fill="#1f8a45" font-weight="bold" text-anchor="middle" textLength="6" lengthAdjust="spacingAndGlyphs" stroke="#1f8a45" stroke-width="0.22">128</text>
<text x="252.6" y="18.8" font-size="4" fill="#f07f24" font-weight="bold" text-anchor="middle" textLength="6.15" lengthAdjust="spacingAndGlyphs" stroke="#f07f24" stroke-width="0.22">20X</text>
<text x="252.6" y="24" font-size="4" fill="#f07f24" font-weight="bold" text-anchor="middle" textLength="4" lengthAdjust="spacingAndGlyphs" stroke="#f07f24" stroke-width="0.22">71</text>
<text x="261.08" y="18.8" font-size="4" fill="#c9cc2a" font-weight="bold" text-anchor="middle" textLength="6.15" lengthAdjust="spacingAndGlyphs" stroke="#c9cc2a" stroke-width="0.22">13X</text>
<text x="261.08" y="24" font-size="4" fill="#c9cc2a" font-weight="bold" text-anchor="middle" textLength="6" lengthAdjust="spacingAndGlyphs" stroke="#c9cc2a" stroke-width="0.22">109</text>
<text x="269.56" y="18.8" font-size="4" fill="#d1873a" font-weight="bold" text-anchor="middle" textLength="6.15" lengthAdjust="spacingAndGlyphs" stroke="#d1873a" stroke-width="0.22">22X</text>
<text x="269.56" y="24" font-size="4" fill="#d1873a" font-weight="bold" text-anchor="middle" textLength="4" lengthAdjust="spacingAndGlyphs" stroke="#d1873a" stroke-width="0.22">65</text>
<text x="278.04" y="18.8" font-size="4" fill="#e8263b" font-weight="bold" text-anchor="middle" textLength="6.15" lengthAdjust="spacingAndGlyphs" stroke="#e8263b" stroke-width="0.22">20X</text>
<text x="278.04" y="24" font-size="4" fill="#e8263b" font-weight="bold" text-anchor="middle" textLength="4" lengthAdjust="spacingAndGlyphs" stroke="#e8263b" stroke-width="0.22">70</text>
<text x="286.52" y="18.8" font-size="4" fill="#8d35b5" font-weight="bold" text-anchor="middle" textLength="6.15" lengthAdjust="spacingAndGlyphs" stroke="#8d35b5" stroke-width="0.22">23X</text>
<text x="286.52" y="24" font-size="4" fill="#8d35b5" font-weight="bold" text-anchor="middle" textLength="4" lengthAdjust="spacingAndGlyphs" stroke="#8d35b5" stroke-width="0.22">62</text>
<text x="295" y="18.8" font-size="4" fill="#b0a060" font-weight="bold" text-anchor="middle" textLength="8.1" lengthAdjust="spacingAndGlyphs" stroke="#b0a060" stroke-width="0.22">8.3X</text>
<text x="295" y="24" font-size="4" fill="#b0a060" font-weight="bold" text-anchor="middle" textLength="6" lengthAdjust="spacingAndGlyphs" stroke="#b0a060" stroke-width="0.22">170</text>
<text x="303.48" y="18.8" font-size="4" fill="#4b5be6" font-weight="bold" text-anchor="middle" textLength="6.15" lengthAdjust="spacingAndGlyphs" stroke="#4b5be6" stroke-width="0.22">15X</text>
<text x="303.48" y="24" font-size="4" fill="#4b5be6" font-weight="bold" text-anchor="middle" textLength="4" lengthAdjust="spacingAndGlyphs" stroke="#4b5be6" stroke-width="0.22">97</text>
<text x="311.96" y="18.8" font-size="4" fill="#f0409a" font-weight="bold" text-anchor="middle" textLength="6.15" lengthAdjust="spacingAndGlyphs" stroke="#f0409a" stroke-width="0.22">16X</text>
<text x="311.96" y="24" font-size="4" fill="#f0409a" font-weight="bold" text-anchor="middle" textLength="4" lengthAdjust="spacingAndGlyphs" stroke="#f0409a" stroke-width="0.22">90</text>
<text x="320.44" y="18.8" font-size="4" fill="#283593" font-weight="bold" text-anchor="middle" textLength="6.15" lengthAdjust="spacingAndGlyphs" stroke="#283593" stroke-width="0.22">10X</text>
<text x="320.44" y="24" font-size="4" fill="#283593" font-weight="bold" text-anchor="middle" textLength="6" lengthAdjust="spacingAndGlyphs" stroke="#283593" stroke-width="0.22">137</text>
<text x="328.92" y="18.8" font-size="4" fill="#8e3d85" font-weight="bold" text-anchor="middle" textLength="6.15" lengthAdjust="spacingAndGlyphs" stroke="#8e3d85" stroke-width="0.22">13X</text>
<text x="328.92" y="24" font-size="4" fill="#8e3d85" font-weight="bold" text-anchor="middle" textLength="6" lengthAdjust="spacingAndGlyphs" stroke="#8e3d85" stroke-width="0.22">110</text>
<text x="337.4" y="18.8" font-size="4" fill="#a88a4a" font-weight="bold" text-anchor="middle" textLength="6.15" lengthAdjust="spacingAndGlyphs" stroke="#a88a4a" stroke-width="0.22">11X</text>
<text x="337.4" y="24" font-size="4" fill="#a88a4a" font-weight="bold" text-anchor="middle" textLength="6" lengthAdjust="spacingAndGlyphs" stroke="#a88a4a" stroke-width="0.22">133</text>
<text x="345.88" y="18.8" font-size="4" fill="#2a3fd0" font-weight="bold" text-anchor="middle" textLength="6.15" lengthAdjust="spacingAndGlyphs" stroke="#2a3fd0" stroke-width="0.22">18X</text>
<text x="345.88" y="24" font-size="4" fill="#2a3fd0" font-weight="bold" text-anchor="middle" textLength="4" lengthAdjust="spacingAndGlyphs" stroke="#2a3fd0" stroke-width="0.22">78</text>
<text x="354.36" y="18.8" font-size="4" fill="#c77ef2" font-weight="bold" text-anchor="middle" textLength="6.15" lengthAdjust="spacingAndGlyphs" stroke="#c77ef2" stroke-width="0.22">18X</text>
<text x="354.36" y="24" font-size="4" fill="#c77ef2" font-weight="bold" text-anchor="middle" textLength="4" lengthAdjust="spacingAndGlyphs" stroke="#c77ef2" stroke-width="0.22">78</text>
<text x="210.6" y="24" font-size="4" fill="#222" font-weight="bold" text-anchor="middle" textLength="7.6" lengthAdjust="spacingAndGlyphs" stroke="#222" stroke-width="0.2">1412</text>
<line x1="205.6" y1="15.42" x2="205.6" y2="110.3" stroke="#222" stroke-width="0.9" />
<line x1="205.6" y1="110.3" x2="359.5" y2="110.3" stroke="#222" stroke-width="0.9" />
<line x1="204" y1="110.3" x2="205.6" y2="110.3" stroke="#222" stroke-width="0.6" />
<text x="202.4" y="112.3" font-size="4.6" fill="#333" text-anchor="end" stroke="#333" stroke-width="0.15">10<tspan font-size="2.99" dy="-1.84">0</tspan></text>
<line x1="204" y1="98.44" x2="205.6" y2="98.44" stroke="#222" stroke-width="0.6" />
<text x="202.4" y="100.44" font-size="4.6" fill="#333" text-anchor="end" stroke="#333" stroke-width="0.15">10<tspan font-size="2.99" dy="-1.84">1</tspan></text>
<line x1="204" y1="86.58" x2="205.6" y2="86.58" stroke="#222" stroke-width="0.6" />
<text x="202.4" y="88.58" font-size="4.6" fill="#333" text-anchor="end" stroke="#333" stroke-width="0.15">10<tspan font-size="2.99" dy="-1.84">2</tspan></text>
<line x1="204" y1="74.72" x2="205.6" y2="74.72" stroke="#222" stroke-width="0.6" />
<text x="202.4" y="76.72" font-size="4.6" fill="#333" text-anchor="end" stroke="#333" stroke-width="0.15">10<tspan font-size="2.99" dy="-1.84">3</tspan></text>
<line x1="204" y1="62.86" x2="205.6" y2="62.86" stroke="#222" stroke-width="0.6" />
<text x="202.4" y="64.86" font-size="4.6" fill="#333" text-anchor="end" stroke="#333" stroke-width="0.15">10<tspan font-size="2.99" dy="-1.84">4</tspan></text>
<line x1="204" y1="51" x2="205.6" y2="51" stroke="#222" stroke-width="0.6" />
<text x="202.4" y="53" font-size="4.6" fill="#333" text-anchor="end" stroke="#333" stroke-width="0.15">10<tspan font-size="2.99" dy="-1.84">5</tspan></text>
<line x1="204" y1="39.14" x2="205.6" y2="39.14" stroke="#222" stroke-width="0.6" />
<text x="202.4" y="41.14" font-size="4.6" fill="#333" text-anchor="end" stroke="#333" stroke-width="0.15">10<tspan font-size="2.99" dy="-1.84">6</tspan></text>
<line x1="204" y1="27.28" x2="205.6" y2="27.28" stroke="#222" stroke-width="0.6" />
<text x="202.4" y="29.28" font-size="4.6" fill="#333" text-anchor="end" stroke="#333" stroke-width="0.15">10<tspan font-size="2.99" dy="-1.84">7</tspan></text>
<line x1="204" y1="15.42" x2="205.6" y2="15.42" stroke="#222" stroke-width="0.6" />
<text x="202.4" y="17.42" font-size="4.6" fill="#333" text-anchor="end" stroke="#333" stroke-width="0.15">10<tspan font-size="2.99" dy="-1.84">8</tspan></text>
<line x1="210.2" y1="110.3" x2="210.2" y2="112.1" stroke="#222" stroke-width="0.6" />
<line x1="218.68" y1="110.3" x2="218.68" y2="112.1" stroke="#222" stroke-width="0.6" />
<line x1="227.16" y1="110.3" x2="227.16" y2="112.1" stroke="#222" stroke-width="0.6" />
<line x1="235.64" y1="110.3" x2="235.64" y2="112.1" stroke="#222" stroke-width="0.6" />
<line x1="244.12" y1="110.3" x2="244.12" y2="112.1" stroke="#222" stroke-width="0.6" />
<line x1="252.6" y1="110.3" x2="252.6" y2="112.1" stroke="#222" stroke-width="0.6" />
<line x1="261.08" y1="110.3" x2="261.08" y2="112.1" stroke="#222" stroke-width="0.6" />
<line x1="269.56" y1="110.3" x2="269.56" y2="112.1" stroke="#222" stroke-width="0.6" />
<line x1="278.04" y1="110.3" x2="278.04" y2="112.1" stroke="#222" stroke-width="0.6" />
<line x1="286.52" y1="110.3" x2="286.52" y2="112.1" stroke="#222" stroke-width="0.6" />
<line x1="295" y1="110.3" x2="295" y2="112.1" stroke="#222" stroke-width="0.6" />
<line x1="303.48" y1="110.3" x2="303.48" y2="112.1" stroke="#222" stroke-width="0.6" />
<line x1="311.96" y1="110.3" x2="311.96" y2="112.1" stroke="#222" stroke-width="0.6" />
<line x1="320.44" y1="110.3" x2="320.44" y2="112.1" stroke="#222" stroke-width="0.6" />
<line x1="328.92" y1="110.3" x2="328.92" y2="112.1" stroke="#222" stroke-width="0.6" />
<line x1="337.4" y1="110.3" x2="337.4" y2="112.1" stroke="#222" stroke-width="0.6" />
<line x1="345.88" y1="110.3" x2="345.88" y2="112.1" stroke="#222" stroke-width="0.6" />
<line x1="354.36" y1="110.3" x2="354.36" y2="112.1" stroke="#222" stroke-width="0.6" />
<text transform="translate(193.9,57.76) rotate(-90)" font-size="6.4" font-weight="bold" fill="#111" stroke="#111" stroke-width="0.15" text-anchor="middle">Reciprocal serum ID<tspan font-size="4.2" dy="1.5">50</tspan></text>
<text transform="translate(211.9,117.3) rotate(-45)" font-size="4.4" font-weight="bold" fill="#1a1a1a" stroke="#1a1a1a" stroke-width="0.12" text-anchor="end">WT (D614G)</text>
<text transform="translate(220.38,117.3) rotate(-45)" font-size="4.4" font-weight="bold" fill="#1a1a1a" stroke="#1a1a1a" stroke-width="0.12" text-anchor="end">BA.2</text>
<text transform="translate(228.86,117.3) rotate(-45)" font-size="4.4" font-weight="bold" fill="#1a1a1a" stroke="#1a1a1a" stroke-width="0.12" text-anchor="end">BA.2.75</text>
<text transform="translate(237.34,117.3) rotate(-45)" font-size="4.4" font-weight="bold" fill="#1a1a1a" stroke="#1a1a1a" stroke-width="0.12" text-anchor="end">BA.2.75.2</text>
<text transform="translate(245.82,117.3) rotate(-45)" font-size="4.4" font-weight="bold" fill="#1a1a1a" stroke="#1a1a1a" stroke-width="0.12" text-anchor="end">BA.2.75.6</text>
<text transform="translate(254.3,117.3) rotate(-45)" font-size="4.4" font-weight="bold" fill="#1a1a1a" stroke="#1a1a1a" stroke-width="0.12" text-anchor="end">BN.1</text>
<text transform="translate(262.78,117.3) rotate(-45)" font-size="4.4" font-weight="bold" fill="#1a1a1a" stroke="#1a1a1a" stroke-width="0.12" text-anchor="end">CA.3.1</text>
<text transform="translate(271.26,117.3) rotate(-45)" font-size="4.4" font-weight="bold" fill="#1a1a1a" stroke="#1a1a1a" stroke-width="0.12" text-anchor="end">CH.1.1</text>
<text transform="translate(279.74,117.3) rotate(-45)" font-size="4.4" font-weight="bold" fill="#1a1a1a" stroke="#1a1a1a" stroke-width="0.12" text-anchor="end">XBB.1</text>
<text transform="translate(288.22,117.3) rotate(-45)" font-size="4.4" font-weight="bold" fill="#1a1a1a" stroke="#1a1a1a" stroke-width="0.12" text-anchor="end">XBB.1.5</text>
<text transform="translate(296.7,117.3) rotate(-45)" font-size="4.4" font-weight="bold" fill="#1a1a1a" stroke="#1a1a1a" stroke-width="0.12" text-anchor="end">BA.4/5</text>
<text transform="translate(305.18,117.3) rotate(-45)" font-size="4.4" font-weight="bold" fill="#1a1a1a" stroke="#1a1a1a" stroke-width="0.12" text-anchor="end">BA.5.2.7</text>
<text transform="translate(313.66,117.3) rotate(-45)" font-size="4.4" font-weight="bold" fill="#1a1a1a" stroke="#1a1a1a" stroke-width="0.12" text-anchor="end">BE.1.1.1</text>
<text transform="translate(322.14,117.3) rotate(-45)" font-size="4.4" font-weight="bold" fill="#1a1a1a" stroke="#1a1a1a" stroke-width="0.12" text-anchor="end">BF.7</text>
<text transform="translate(330.62,117.3) rotate(-45)" font-size="4.4" font-weight="bold" fill="#1a1a1a" stroke="#1a1a1a" stroke-width="0.12" text-anchor="end">BF.14</text>
<text transform="translate(339.1,117.3) rotate(-45)" font-size="4.4" font-weight="bold" fill="#1a1a1a" stroke="#1a1a1a" stroke-width="0.12" text-anchor="end">BF.16</text>
<text transform="translate(347.58,117.3) rotate(-45)" font-size="4.4" font-weight="bold" fill="#1a1a1a" stroke="#1a1a1a" stroke-width="0.12" text-anchor="end">BQ.1</text>
<text transform="translate(356.06,117.3) rotate(-45)" font-size="4.4" font-weight="bold" fill="#1a1a1a" stroke="#1a1a1a" stroke-width="0.12" text-anchor="end">BQ.1.1</text>
<line x1="205.6" y1="91.32" x2="359.5" y2="91.32" stroke="#999" stroke-width="0.55" stroke-dasharray="2.2,1.2"/>
<rect x="218.68" y="61.59" width="8.48" height="3.6" fill="none" stroke="#555" stroke-width="0.45"/>
<rect x="295" y="59.02" width="8.48" height="3.6" fill="none" stroke="#555" stroke-width="0.45"/>
<line x1="218.68" y1="29.6" x2="286.52" y2="29.6" stroke="#222" stroke-width="0.8" />
<text x="242.18" y="29.2" font-size="4.3" fill="#111" text-anchor="start" textLength="32" lengthAdjust="spacingAndGlyphs" stroke="#111" stroke-width="0.28">p=0.0010 (3.1X)</text>
<line x1="218.68" y1="34.57" x2="278.04" y2="34.57" stroke="#222" stroke-width="0.8" />
<text x="238.88" y="34.17" font-size="4.3" fill="#111" text-anchor="start" textLength="32" lengthAdjust="spacingAndGlyphs" stroke="#111" stroke-width="0.28">p=0.0068 (2.7X)</text>
<line x1="218.68" y1="39.54" x2="269.56" y2="39.54" stroke="#222" stroke-width="0.8" />
<text x="235.58" y="39.14" font-size="4.3" fill="#111" text-anchor="start" textLength="32" lengthAdjust="spacingAndGlyphs" stroke="#111" stroke-width="0.28">p=0.0020 (1.8X)</text>
<line x1="218.68" y1="44.51" x2="261.08" y2="44.51" stroke="#222" stroke-width="0.8" />
<text x="232.28" y="44.11" font-size="4.3" fill="#111" text-anchor="start" textLength="32" lengthAdjust="spacingAndGlyphs" stroke="#111" stroke-width="0.28">p=0.0010 (1.8X)</text>
<line x1="218.68" y1="49.48" x2="252.6" y2="49.48" stroke="#222" stroke-width="0.8" />
<text x="228.98" y="49.08" font-size="4.3" fill="#111" text-anchor="start" textLength="32" lengthAdjust="spacingAndGlyphs" stroke="#111" stroke-width="0.28">p=0.0088 (2.7X)</text>
<line x1="218.68" y1="54.45" x2="244.12" y2="54.45" stroke="#222" stroke-width="0.8" />
<text x="225.68" y="54.05" font-size="4.3" fill="#111" text-anchor="start" textLength="32" lengthAdjust="spacingAndGlyphs" stroke="#111" stroke-width="0.28">p=0.1604 (1.5X)</text>
<line x1="218.68" y1="59.42" x2="235.64" y2="59.42" stroke="#222" stroke-width="0.8" />
<text x="222.38" y="59.02" font-size="4.3" fill="#111" text-anchor="start" textLength="32" lengthAdjust="spacingAndGlyphs" stroke="#111" stroke-width="0.28">p=0.3394 (1.8X)</text>
<line x1="218.68" y1="64.39" x2="227.16" y2="64.39" stroke="#222" stroke-width="0.8" />
<text x="219.08" y="63.99" font-size="4.3" fill="#111" text-anchor="start" textLength="32" lengthAdjust="spacingAndGlyphs" stroke="#111" stroke-width="0.28">p=0.3394 (1.2X)</text>
<line x1="295" y1="34.1" x2="354.36" y2="34.1" stroke="#222" stroke-width="0.8" />
<text x="315.1" y="33.7" font-size="4.3" fill="#111" text-anchor="start" textLength="32" lengthAdjust="spacingAndGlyphs" stroke="#111" stroke-width="0.28">p=0.0049 (2.2X)</text>
<line x1="295" y1="38.72" x2="345.88" y2="38.72" stroke="#222" stroke-width="0.8" />
<text x="311.8" y="38.32" font-size="4.3" fill="#111" text-anchor="start" textLength="32" lengthAdjust="spacingAndGlyphs" stroke="#111" stroke-width="0.28">p=0.0420 (2.3X)</text>
<line x1="295" y1="43.34" x2="337.4" y2="43.34" stroke="#222" stroke-width="0.8" />
<text x="308.5" y="42.94" font-size="4.3" fill="#111" text-anchor="start" textLength="32" lengthAdjust="spacingAndGlyphs" stroke="#111" stroke-width="0.28">p=0.1782 (1.3X)</text>
<line x1="295" y1="47.96" x2="328.92" y2="47.96" stroke="#222" stroke-width="0.8" />
<text x="305.2" y="47.56" font-size="4.3" fill="#111" text-anchor="start" textLength="32" lengthAdjust="spacingAndGlyphs" stroke="#111" stroke-width="0.28">p=0.9080 (1.0X)</text>
<line x1="295" y1="52.58" x2="320.44" y2="52.58" stroke="#222" stroke-width="0.8" />
<text x="301.9" y="52.18" font-size="4.3" fill="#111" text-anchor="start" textLength="32" lengthAdjust="spacingAndGlyphs" stroke="#111" stroke-width="0.28">p=0.0269 (1.3X)</text>
<line x1="295" y1="57.2" x2="311.96" y2="57.2" stroke="#222" stroke-width="0.8" />
<text x="298.6" y="56.8" font-size="4.3" fill="#111" text-anchor="start" textLength="32" lengthAdjust="spacingAndGlyphs" stroke="#111" stroke-width="0.28">p=0.0095 (1.8X)</text>
<line x1="295" y1="61.82" x2="303.48" y2="61.82" stroke="#222" stroke-width="0.8" />
<text x="295.3" y="61.42" font-size="4.3" fill="#111" text-anchor="start" textLength="32" lengthAdjust="spacingAndGlyphs" stroke="#111" stroke-width="0.28">p=0.0015 (1.8X)</text>
<circle cx="208.77" cy="79.64" r="0.85" fill="#111111"/>
<circle cx="210.95" cy="78.74" r="0.8" fill="none" stroke="#111111" stroke-width="0.5"/>
<path d="M210.23 76.96l1.0 1.6h-2.0z" fill="#111111"/>
<rect x="211.79" y="75.93" width="1.5" height="1.5" fill="none" stroke="#111111" stroke-width="0.5"/>
<circle cx="207.65" cy="75.31" r="0.85" fill="#111111"/>
<circle cx="211.07" cy="73.88" r="0.8" fill="none" stroke="#111111" stroke-width="0.5"/>
<path d="M208.95 72.3l1.0 1.6h-2.0z" fill="#111111"/>
<rect x="211.03" y="71.01" width="1.5" height="1.5" fill="none" stroke="#111111" stroke-width="0.5"/>
<circle cx="207.86" cy="70.39" r="0.85" fill="#111111"/>
<circle cx="210.59" cy="69.77" r="0.8" fill="none" stroke="#111111" stroke-width="0.5"/>
<path d="M213.13 67.12l1.0 1.6h-2.0z" fill="#111111"/>
<rect x="208.45" y="66.03" width="1.5" height="1.5" fill="none" stroke="#111111" stroke-width="0.5"/>
<circle cx="216.69" cy="89.93" r="0.8" fill="none" stroke="#f26b6b" stroke-width="0.5"/>
<path d="M219.56 86.97l1.0 1.6h-2.0z" fill="#f26b6b"/>
<rect x="217.8" y="85.79" width="1.5" height="1.5" fill="none" stroke="#f26b6b" stroke-width="0.5"/>
<circle cx="220.87" cy="86.12" r="0.85" fill="#f26b6b"/>
<circle cx="216.08" cy="84.53" r="0.8" fill="none" stroke="#f26b6b" stroke-width="0.5"/>
<path d="M219.48 83.59l1.0 1.6h-2.0z" fill="#f26b6b"/>
<rect x="216.86" y="81.06" width="1.5" height="1.5" fill="none" stroke="#f26b6b" stroke-width="0.5"/>
<circle cx="220.85" cy="80.76" r="0.85" fill="#f26b6b"/>
<circle cx="216.53" cy="79.77" r="0.8" fill="none" stroke="#f26b6b" stroke-width="0.5"/>
<path d="M218.97 78.25l1.0 1.6h-2.0z" fill="#f26b6b"/>
<rect x="220.63" y="76.19" width="1.5" height="1.5" fill="none" stroke="#f26b6b" stroke-width="0.5"/>
<circle cx="217.5" cy="75.64" r="0.85" fill="#f26b6b"/>
<circle cx="216.94" cy="73.89" r="0.8" fill="none" stroke="#f26b6b" stroke-width="0.5"/>
<path d="M219.8 71.97l1.0 1.6h-2.0z" fill="#f26b6b"/>
<line x1="215.48" y1="83.61" x2="221.88" y2="83.61" stroke="#444" stroke-width="0.6" />
<path d="M225.07 88.34l1.0 1.6h-2.0z" fill="#36b3c9"/>
<rect x="227.41" y="88.28" width="1.5" height="1.5" fill="none" stroke="#36b3c9" stroke-width="0.5"/>
<circle cx="226.98" cy="88.5" r="0.85" fill="#36b3c9"/>
<circle cx="229.17" cy="88.5" r="0.8" fill="none" stroke="#36b3c9" stroke-width="0.5"/>
<path d="M224.6 87.29l1.0 1.6h-2.0z" fill="#36b3c9"/>
<rect x="226.86" y="86.74" width="1.5" height="1.5" fill="none" stroke="#36b3c9" stroke-width="0.5"/>
<circle cx="226.2" cy="86.18" r="0.85" fill="#36b3c9"/>
<circle cx="228.71" cy="85.49" r="0.8" fill="none" stroke="#36b3c9" stroke-width="0.5"/>
<path d="M224.88 83.93l1.0 1.6h-2.0z" fill="#36b3c9"/>
<rect x="226.62" y="83.74" width="1.5" height="1.5" fill="none" stroke="#36b3c9" stroke-width="0.5"/>
<circle cx="229.79" cy="84.56" r="0.85" fill="#36b3c9"/>
<circle cx="226.19" cy="83.4" r="0.8" fill="none" stroke="#36b3c9" stroke-width="0.5"/>
<path d="M225.21 82.3l1.0 1.6h-2.0z" fill="#36b3c9"/>
<rect x="227.46" y="82.12" width="1.5" height="1.5" fill="none" stroke="#36b3c9" stroke-width="0.5"/>
<line x1="223.96" y1="84.21" x2="230.36" y2="84.21" stroke="#444" stroke-width="0.6" />
<rect x="233.2" y="97.85" width="1.5" height="1.5" fill="none" stroke="#b03845" stroke-width="0.5"/>
<circle cx="236.51" cy="98.49" r="0.85" fill="#b03845"/>
<circle cx="235.24" cy="98.44" r="0.8" fill="none" stroke="#b03845" stroke-width="0.5"/>
<path d="M237.76 94.03l1.0 1.6h-2.0z" fill="#b03845"/>
<rect x="232.21" y="93.77" width="1.5" height="1.5" fill="none" stroke="#b03845" stroke-width="0.5"/>
<circle cx="235.93" cy="91.36" r="0.85" fill="#b03845"/>
<circle cx="234.68" cy="89.98" r="0.8" fill="none" stroke="#b03845" stroke-width="0.5"/>
<path d="M237.3 85.89l1.0 1.6h-2.0z" fill="#b03845"/>
<rect x="233.04" y="80.85" width="1.5" height="1.5" fill="none" stroke="#b03845" stroke-width="0.5"/>
<circle cx="235.73" cy="79.94" r="0.85" fill="#b03845"/>
<circle cx="238.88" cy="79.68" r="0.8" fill="none" stroke="#b03845" stroke-width="0.5"/>
<path d="M235.06 77.57l1.0 1.6h-2.0z" fill="#b03845"/>
<line x1="232.44" y1="86.58" x2="238.84" y2="86.58" stroke="#444" stroke-width="0.6" />
<circle cx="242.42" cy="92.54" r="0.85" fill="#1f8a45"/>
<circle cx="245.26" cy="91.4" r="0.8" fill="none" stroke="#1f8a45" stroke-width="0.5"/>
<path d="M243.76 90.01l1.0 1.6h-2.0z" fill="#1f8a45"/>
<rect x="245.73" y="89.46" width="1.5" height="1.5" fill="none" stroke="#1f8a45" stroke-width="0.5"/>
<circle cx="241.04" cy="89.96" r="0.85" fill="#1f8a45"/>
<circle cx="244.71" cy="89.32" r="0.8" fill="none" stroke="#1f8a45" stroke-width="0.5"/>
<path d="M243.13 88.57l1.0 1.6h-2.0z" fill="#1f8a45"/>
<rect x="245.24" y="88.31" width="1.5" height="1.5" fill="none" stroke="#1f8a45" stroke-width="0.5"/>
<circle cx="241.9" cy="86.72" r="0.85" fill="#1f8a45"/>
<circle cx="243.92" cy="86.24" r="0.8" fill="none" stroke="#1f8a45" stroke-width="0.5"/>
<path d="M246.69 82.31l1.0 1.6h-2.0z" fill="#1f8a45"/>
<rect x="242.48" y="81.9" width="1.5" height="1.5" fill="none" stroke="#1f8a45" stroke-width="0.5"/>
<line x1="240.92" y1="85.39" x2="247.32" y2="85.39" stroke="#444" stroke-width="0.6" />
<circle cx="251.03" cy="98.61" r="0.8" fill="none" stroke="#f07f24" stroke-width="0.5"/>
<path d="M253.45 97.43l1.0 1.6h-2.0z" fill="#f07f24"/>
<rect x="251.75" y="96.65" width="1.5" height="1.5" fill="none" stroke="#f07f24" stroke-width="0.5"/>
<circle cx="255.32" cy="94.75" r="0.85" fill="#f07f24"/>
<circle cx="250.15" cy="93.67" r="0.8" fill="none" stroke="#f07f24" stroke-width="0.5"/>
<path d="M253.2 92.56l1.0 1.6h-2.0z" fill="#f07f24"/>
<rect x="250.42" y="91.32" width="1.5" height="1.5" fill="none" stroke="#f07f24" stroke-width="0.5"/>
<circle cx="254.5" cy="86.89" r="0.85" fill="#f07f24"/>
<circle cx="250.03" cy="86.38" r="0.8" fill="none" stroke="#f07f24" stroke-width="0.5"/>
<path d="M252.43 81.78l1.0 1.6h-2.0z" fill="#f07f24"/>
<rect x="254.89" y="81.92" width="1.5" height="1.5" fill="none" stroke="#f07f24" stroke-width="0.5"/>
<circle cx="251.43" cy="82.25" r="0.85" fill="#f07f24"/>
<line x1="249.4" y1="88.95" x2="255.8" y2="88.95" stroke="#444" stroke-width="0.6" />
<path d="M259.23 97.36l1.0 1.6h-2.0z" fill="#c9cc2a"/>
<rect x="261.72" y="97.51" width="1.5" height="1.5" fill="none" stroke="#c9cc2a" stroke-width="0.5"/>
<circle cx="261.04" cy="98.34" r="0.85" fill="#c9cc2a"/>
<circle cx="263.59" cy="90" r="0.8" fill="none" stroke="#c9cc2a" stroke-width="0.5"/>
<path d="M258.45 87.5l1.0 1.6h-2.0z" fill="#c9cc2a"/>
<rect x="260.78" y="86.96" width="1.5" height="1.5" fill="none" stroke="#c9cc2a" stroke-width="0.5"/>
<circle cx="259.51" cy="85.77" r="0.85" fill="#c9cc2a"/>
<circle cx="263.07" cy="85.82" r="0.8" fill="none" stroke="#c9cc2a" stroke-width="0.5"/>
<path d="M258.89 84.83l1.0 1.6h-2.0z" fill="#c9cc2a"/>
<rect x="260.14" y="79.61" width="1.5" height="1.5" fill="none" stroke="#c9cc2a" stroke-width="0.5"/>
<circle cx="264.1" cy="80.11" r="0.85" fill="#c9cc2a"/>
<circle cx="259.78" cy="74.83" r="0.8" fill="none" stroke="#c9cc2a" stroke-width="0.5"/>
<line x1="257.88" y1="86.58" x2="264.28" y2="86.58" stroke="#444" stroke-width="0.6" />
<rect x="267.36" y="97.78" width="1.5" height="1.5" fill="none" stroke="#d1873a" stroke-width="0.5"/>
<circle cx="270.56" cy="98.6" r="0.85" fill="#d1873a"/>
<circle cx="268.9" cy="96.15" r="0.8" fill="none" stroke="#d1873a" stroke-width="0.5"/>
<path d="M271.88 93.31l1.0 1.6h-2.0z" fill="#d1873a"/>
<rect x="265.76" y="92.29" width="1.5" height="1.5" fill="none" stroke="#d1873a" stroke-width="0.5"/>
<circle cx="269.77" cy="92.35" r="0.85" fill="#d1873a"/>
<circle cx="268.71" cy="90.29" r="0.8" fill="none" stroke="#d1873a" stroke-width="0.5"/>
<path d="M271.22 88.54l1.0 1.6h-2.0z" fill="#d1873a"/>
<rect x="266.62" y="88.74" width="1.5" height="1.5" fill="none" stroke="#d1873a" stroke-width="0.5"/>
<circle cx="269.91" cy="88.99" r="0.85" fill="#d1873a"/>
<circle cx="272.31" cy="88.52" r="0.8" fill="none" stroke="#d1873a" stroke-width="0.5"/>
<path d="M268.3 87.7l1.0 1.6h-2.0z" fill="#d1873a"/>
<rect x="267.24" y="85.82" width="1.5" height="1.5" fill="none" stroke="#d1873a" stroke-width="0.5"/>
<circle cx="270.37" cy="84.14" r="0.85" fill="#d1873a"/>
<line x1="266.36" y1="86.58" x2="272.76" y2="86.58" stroke="#444" stroke-width="0.6" />
<circle cx="276.61" cy="98.33" r="0.85" fill="#e8263b"/>
<circle cx="279.54" cy="98.25" r="0.8" fill="none" stroke="#e8263b" stroke-width="0.5"/>
<path d="M277.55 96.79l1.0 1.6h-2.0z" fill="#e8263b"/>
<rect x="279.89" y="96.24" width="1.5" height="1.5" fill="none" stroke="#e8263b" stroke-width="0.5"/>
<circle cx="275.54" cy="91.75" r="0.85" fill="#e8263b"/>
<circle cx="278.94" cy="89.9" r="0.8" fill="none" stroke="#e8263b" stroke-width="0.5"/>
<path d="M276.63 89.02l1.0 1.6h-2.0z" fill="#e8263b"/>
<rect x="279.29" y="89.02" width="1.5" height="1.5" fill="none" stroke="#e8263b" stroke-width="0.5"/>
<circle cx="275.97" cy="89.35" r="0.85" fill="#e8263b"/>
<circle cx="278.12" cy="88.68" r="0.8" fill="none" stroke="#e8263b" stroke-width="0.5"/>
<path d="M281.1 86.07l1.0 1.6h-2.0z" fill="#e8263b"/>
<rect x="276.34" y="85.73" width="1.5" height="1.5" fill="none" stroke="#e8263b" stroke-width="0.5"/>
<line x1="274.84" y1="87.77" x2="281.24" y2="87.77" stroke="#444" stroke-width="0.6" />
<circle cx="284.98" cy="98.6" r="0.8" fill="none" stroke="#8d35b5" stroke-width="0.5"/>
<path d="M287.37 97.13l1.0 1.6h-2.0z" fill="#8d35b5"/>
<rect x="285.8" y="97.08" width="1.5" height="1.5" fill="none" stroke="#8d35b5" stroke-width="0.5"/>
<circle cx="288.61" cy="95.63" r="0.85" fill="#8d35b5"/>
<circle cx="283.51" cy="90.14" r="0.8" fill="none" stroke="#8d35b5" stroke-width="0.5"/>
<path d="M287.4 86.41l1.0 1.6h-2.0z" fill="#8d35b5"/>
<rect x="284.68" y="86.16" width="1.5" height="1.5" fill="none" stroke="#8d35b5" stroke-width="0.5"/>
<circle cx="288.53" cy="86.54" r="0.85" fill="#8d35b5"/>
<circle cx="284" cy="85.51" r="0.8" fill="none" stroke="#8d35b5" stroke-width="0.5"/>
<path d="M286.83 81.86l1.0 1.6h-2.0z" fill="#8d35b5"/>
<rect x="288.53" y="80.38" width="1.5" height="1.5" fill="none" stroke="#8d35b5" stroke-width="0.5"/>
<circle cx="285.24" cy="80.71" r="0.85" fill="#8d35b5"/>
<line x1="283.32" y1="87.17" x2="289.72" y2="87.17" stroke="#444" stroke-width="0.6" />
<path d="M292.8 87.09l1.0 1.6h-2.0z" fill="#b0a060"/>
<rect x="295.44" y="87.34" width="1.5" height="1.5" fill="none" stroke="#b0a060" stroke-width="0.5"/>
<circle cx="294.45" cy="87.73" r="0.85" fill="#b0a060"/>
<circle cx="297.28" cy="86.97" r="0.8" fill="none" stroke="#b0a060" stroke-width="0.5"/>
<path d="M292.11 85.22l1.0 1.6h-2.0z" fill="#b0a060"/>
<rect x="294.68" y="83.6" width="1.5" height="1.5" fill="none" stroke="#b0a060" stroke-width="0.5"/>
<circle cx="293.96" cy="83.56" r="0.85" fill="#b0a060"/>
<circle cx="296.59" cy="82.53" r="0.8" fill="none" stroke="#b0a060" stroke-width="0.5"/>
<path d="M292.46 78.79l1.0 1.6h-2.0z" fill="#b0a060"/>
<rect x="294.51" y="78.8" width="1.5" height="1.5" fill="none" stroke="#b0a060" stroke-width="0.5"/>
<circle cx="298" cy="78.43" r="0.85" fill="#b0a060"/>
<circle cx="294.02" cy="76.55" r="0.8" fill="none" stroke="#b0a060" stroke-width="0.5"/>
<line x1="291.8" y1="84.21" x2="298.2" y2="84.21" stroke="#444" stroke-width="0.6" />
<rect x="301.15" y="94.42" width="1.5" height="1.5" fill="none" stroke="#4b5be6" stroke-width="0.5"/>
<circle cx="304.38" cy="93.33" r="0.85" fill="#4b5be6"/>
<circle cx="303.49" cy="92.78" r="0.8" fill="none" stroke="#4b5be6" stroke-width="0.5"/>
<path d="M305.63 90.8l1.0 1.6h-2.0z" fill="#4b5be6"/>
<rect x="300.19" y="89.36" width="1.5" height="1.5" fill="none" stroke="#4b5be6" stroke-width="0.5"/>
<circle cx="303.8" cy="89.46" r="0.85" fill="#4b5be6"/>
<circle cx="302.08" cy="87.76" r="0.8" fill="none" stroke="#4b5be6" stroke-width="0.5"/>
<path d="M305.4 85.47l1.0 1.6h-2.0z" fill="#4b5be6"/>
<rect x="300.39" y="84.82" width="1.5" height="1.5" fill="none" stroke="#4b5be6" stroke-width="0.5"/>
<circle cx="303.96" cy="84.82" r="0.85" fill="#4b5be6"/>
<circle cx="306.06" cy="83.44" r="0.8" fill="none" stroke="#4b5be6" stroke-width="0.5"/>
<path d="M302.26 81.58l1.0 1.6h-2.0z" fill="#4b5be6"/>
<line x1="300.28" y1="86.58" x2="306.68" y2="86.58" stroke="#444" stroke-width="0.6" />
<circle cx="310.1" cy="93.14" r="0.85" fill="#f0409a"/>
<circle cx="313.34" cy="91.15" r="0.8" fill="none" stroke="#f0409a" stroke-width="0.5"/>
<path d="M311.88 87.06l1.0 1.6h-2.0z" fill="#f0409a"/>
<rect x="313.89" y="87.22" width="1.5" height="1.5" fill="none" stroke="#f0409a" stroke-width="0.5"/>
<circle cx="309.37" cy="87.69" r="0.85" fill="#f0409a"/>
<circle cx="312.41" cy="87.51" r="0.8" fill="none" stroke="#f0409a" stroke-width="0.5"/>
<path d="M310.44 84.84l1.0 1.6h-2.0z" fill="#f0409a"/>
<rect x="313.34" y="84.81" width="1.5" height="1.5" fill="none" stroke="#f0409a" stroke-width="0.5"/>
<circle cx="309.86" cy="85.27" r="0.85" fill="#f0409a"/>
<circle cx="312" cy="85" r="0.8" fill="none" stroke="#f0409a" stroke-width="0.5"/>
<path d="M314.96 83.04l1.0 1.6h-2.0z" fill="#f0409a"/>
<rect x="310.45" y="82.8" width="1.5" height="1.5" fill="none" stroke="#f0409a" stroke-width="0.5"/>
<line x1="308.76" y1="87.77" x2="315.16" y2="87.77" stroke="#444" stroke-width="0.6" />
<circle cx="318.55" cy="83.57" r="0.8" fill="none" stroke="#283593" stroke-width="0.5"/>
<path d="M321.34 81.83l1.0 1.6h-2.0z" fill="#283593"/>
<rect x="319.27" y="81.64" width="1.5" height="1.5" fill="none" stroke="#283593" stroke-width="0.5"/>
<circle cx="322.66" cy="81.82" r="0.85" fill="#283593"/>
<circle cx="317.35" cy="81.42" r="0.8" fill="none" stroke="#283593" stroke-width="0.5"/>
<path d="M320.98 79.74l1.0 1.6h-2.0z" fill="#283593"/>
<rect x="318.37" y="79.57" width="1.5" height="1.5" fill="none" stroke="#283593" stroke-width="0.5"/>
<circle cx="322.12" cy="80.12" r="0.85" fill="#283593"/>
<circle cx="318.59" cy="79.6" r="0.8" fill="none" stroke="#283593" stroke-width="0.5"/>
<path d="M320.32 77.92l1.0 1.6h-2.0z" fill="#283593"/>
<rect x="322.5" y="75.72" width="1.5" height="1.5" fill="none" stroke="#283593" stroke-width="0.5"/>
<circle cx="319.24" cy="76.35" r="0.85" fill="#283593"/>
<line x1="317.24" y1="83.02" x2="323.64" y2="83.02" stroke="#444" stroke-width="0.6" />
<path d="M326.94 89.38l1.0 1.6h-2.0z" fill="#8e3d85"/>
<rect x="329.21" y="88.67" width="1.5" height="1.5" fill="none" stroke="#8e3d85" stroke-width="0.5"/>
<circle cx="328.56" cy="88.35" r="0.85" fill="#8e3d85"/>
<circle cx="331.45" cy="87.57" r="0.8" fill="none" stroke="#8e3d85" stroke-width="0.5"/>
<path d="M326.56 86.57l1.0 1.6h-2.0z" fill="#8e3d85"/>
<rect x="328.42" y="85.98" width="1.5" height="1.5" fill="none" stroke="#8e3d85" stroke-width="0.5"/>
<circle cx="328.04" cy="84.07" r="0.85" fill="#8e3d85"/>
<circle cx="330.53" cy="83.31" r="0.8" fill="none" stroke="#8e3d85" stroke-width="0.5"/>
<path d="M326.83 80.76l1.0 1.6h-2.0z" fill="#8e3d85"/>
<rect x="327.88" y="81.04" width="1.5" height="1.5" fill="none" stroke="#8e3d85" stroke-width="0.5"/>
<circle cx="331.94" cy="80.43" r="0.85" fill="#8e3d85"/>
<circle cx="327.7" cy="76.36" r="0.8" fill="none" stroke="#8e3d85" stroke-width="0.5"/>
<line x1="325.72" y1="86.58" x2="332.12" y2="86.58" stroke="#444" stroke-width="0.6" />
<rect x="334.84" y="90.29" width="1.5" height="1.5" fill="none" stroke="#a88a4a" stroke-width="0.5"/>
<circle cx="338.57" cy="90.84" r="0.85" fill="#a88a4a"/>
<circle cx="337.09" cy="87.45" r="0.8" fill="none" stroke="#a88a4a" stroke-width="0.5"/>
<path d="M339.83 81.18l1.0 1.6h-2.0z" fill="#a88a4a"/>
<rect x="333.56" y="81.22" width="1.5" height="1.5" fill="none" stroke="#a88a4a" stroke-width="0.5"/>
<circle cx="337.97" cy="81.4" r="0.85" fill="#a88a4a"/>
<circle cx="336.33" cy="81.26" r="0.8" fill="none" stroke="#a88a4a" stroke-width="0.5"/>
<path d="M339.2 79.51l1.0 1.6h-2.0z" fill="#a88a4a"/>
<rect x="334.82" y="79.22" width="1.5" height="1.5" fill="none" stroke="#a88a4a" stroke-width="0.5"/>
<circle cx="337.61" cy="79.94" r="0.85" fill="#a88a4a"/>
<circle cx="339.92" cy="78.04" r="0.8" fill="none" stroke="#a88a4a" stroke-width="0.5"/>
<path d="M336.65 77.07l1.0 1.6h-2.0z" fill="#a88a4a"/>
<line x1="334.2" y1="85.39" x2="340.6" y2="85.39" stroke="#444" stroke-width="0.6" />
<circle cx="344.34" cy="98.4" r="0.85" fill="#2a3fd0"/>
<circle cx="347.08" cy="98.35" r="0.8" fill="none" stroke="#2a3fd0" stroke-width="0.5"/>
<path d="M345.59 95.14l1.0 1.6h-2.0z" fill="#2a3fd0"/>
<rect x="347.65" y="90.35" width="1.5" height="1.5" fill="none" stroke="#2a3fd0" stroke-width="0.5"/>
<circle cx="343.04" cy="90.62" r="0.85" fill="#2a3fd0"/>
<circle cx="346.32" cy="90.03" r="0.8" fill="none" stroke="#2a3fd0" stroke-width="0.5"/>
<path d="M344.79 88.98l1.0 1.6h-2.0z" fill="#2a3fd0"/>
<rect x="346.66" y="87.92" width="1.5" height="1.5" fill="none" stroke="#2a3fd0" stroke-width="0.5"/>
<circle cx="343.99" cy="87.56" r="0.85" fill="#2a3fd0"/>
<circle cx="345.62" cy="84.65" r="0.8" fill="none" stroke="#2a3fd0" stroke-width="0.5"/>
<path d="M348.38 82.04l1.0 1.6h-2.0z" fill="#2a3fd0"/>
<rect x="344.57" y="80.27" width="1.5" height="1.5" fill="none" stroke="#2a3fd0" stroke-width="0.5"/>
<line x1="342.68" y1="87.77" x2="349.08" y2="87.77" stroke="#444" stroke-width="0.6" />
<circle cx="352.61" cy="98.34" r="0.8" fill="none" stroke="#c77ef2" stroke-width="0.5"/>
<path d="M355.4 96.8l1.0 1.6h-2.0z" fill="#c77ef2"/>
<rect x="353.16" y="93.53" width="1.5" height="1.5" fill="none" stroke="#c77ef2" stroke-width="0.5"/>
<circle cx="356.87" cy="92.62" r="0.85" fill="#c77ef2"/>
<circle cx="351.3" cy="90.58" r="0.8" fill="none" stroke="#c77ef2" stroke-width="0.5"/>
<path d="M354.59 88.55l1.0 1.6h-2.0z" fill="#c77ef2"/>
<rect x="352.66" y="87.65" width="1.5" height="1.5" fill="none" stroke="#c77ef2" stroke-width="0.5"/>
<circle cx="356.59" cy="88.2" r="0.85" fill="#c77ef2"/>
<circle cx="351.77" cy="88.03" r="0.8" fill="none" stroke="#c77ef2" stroke-width="0.5"/>
<path d="M354.53 85.49l1.0 1.6h-2.0z" fill="#c77ef2"/>
<rect x="356.89" y="85.47" width="1.5" height="1.5" fill="none" stroke="#c77ef2" stroke-width="0.5"/>
<circle cx="353.39" cy="84.05" r="0.85" fill="#c77ef2"/>
<line x1="351.16" y1="88.95" x2="357.56" y2="88.95" stroke="#444" stroke-width="0.6" />
<text x="437.5" y="12" font-size="5.42" fill="#111" font-weight="bold" text-anchor="middle" stroke="#111" stroke-width="0.12">2 × Vac + BA.2 breakthrough (6M)</text>
<text x="377.04" y="18.8" font-size="4" fill="#f26b6b" font-weight="bold" text-anchor="middle" textLength="8.1" lengthAdjust="spacingAndGlyphs" stroke="#f26b6b" stroke-width="0.22">2.2X</text>
<text x="377.04" y="24" font-size="4" fill="#f26b6b" font-weight="bold" text-anchor="middle" textLength="6" lengthAdjust="spacingAndGlyphs" stroke="#f26b6b" stroke-width="0.22">420</text>
<text x="385.48" y="18.8" font-size="4" fill="#36b3c9" font-weight="bold" text-anchor="middle" textLength="8.1" lengthAdjust="spacingAndGlyphs" stroke="#36b3c9" stroke-width="0.22">3.7X</text>
<text x="385.48" y="24" font-size="4" fill="#36b3c9" font-weight="bold" text-anchor="middle" textLength="6" lengthAdjust="spacingAndGlyphs" stroke="#36b3c9" stroke-width="0.22">251</text>
<text x="393.92" y="18.8" font-size="4" fill="#b03845" font-weight="bold" text-anchor="middle" textLength="8.1" lengthAdjust="spacingAndGlyphs" stroke="#b03845" stroke-width="0.22">4.8X</text>
<text x="393.92" y="24" font-size="4" fill="#b03845" font-weight="bold" text-anchor="middle" textLength="6" lengthAdjust="spacingAndGlyphs" stroke="#b03845" stroke-width="0.22">195</text>
<text x="402.36" y="18.8" font-size="4" fill="#1f8a45" font-weight="bold" text-anchor="middle" textLength="8.1" lengthAdjust="spacingAndGlyphs" stroke="#1f8a45" stroke-width="0.22">3.7X</text>
<text x="402.36" y="24" font-size="4" fill="#1f8a45" font-weight="bold" text-anchor="middle" textLength="6" lengthAdjust="spacingAndGlyphs" stroke="#1f8a45" stroke-width="0.22">256</text>
<text x="410.8" y="18.8" font-size="4" fill="#f07f24" font-weight="bold" text-anchor="middle" textLength="8.1" lengthAdjust="spacingAndGlyphs" stroke="#f07f24" stroke-width="0.22">4.7X</text>
<text x="410.8" y="24" font-size="4" fill="#f07f24" font-weight="bold" text-anchor="middle" textLength="6" lengthAdjust="spacingAndGlyphs" stroke="#f07f24" stroke-width="0.22">198</text>
<text x="419.24" y="18.8" font-size="4" fill="#c9cc2a" font-weight="bold" text-anchor="middle" textLength="8.1" lengthAdjust="spacingAndGlyphs" stroke="#c9cc2a" stroke-width="0.22">8.4X</text>
<text x="419.24" y="24" font-size="4" fill="#c9cc2a" font-weight="bold" text-anchor="middle" textLength="6" lengthAdjust="spacingAndGlyphs" stroke="#c9cc2a" stroke-width="0.22">109</text>
<text x="427.68" y="18.8" font-size="4" fill="#d1873a" font-weight="bold" text-anchor="middle" textLength="8.1" lengthAdjust="spacingAndGlyphs" stroke="#d1873a" stroke-width="0.22">9.5X</text>
<text x="427.68" y="24" font-size="4" fill="#d1873a" font-weight="bold" text-anchor="middle" textLength="4" lengthAdjust="spacingAndGlyphs" stroke="#d1873a" stroke-width="0.22">98</text>
<text x="436.12" y="18.8" font-size="4" fill="#e8263b" font-weight="bold" text-anchor="middle" textLength="6.15" lengthAdjust="spacingAndGlyphs" stroke="#e8263b" stroke-width="0.22">10X</text>
<text x="436.12" y="24" font-size="4" fill="#e8263b" font-weight="bold" text-anchor="middle" textLength="4" lengthAdjust="spacingAndGlyphs" stroke="#e8263b" stroke-width="0.22">92</text>
<text x="444.56" y="18.8" font-size="4" fill="#8d35b5" font-weight="bold" text-anchor="middle" textLength="6.15" lengthAdjust="spacingAndGlyphs" stroke="#8d35b5" stroke-width="0.22">10X</text>
<text x="444.56" y="24" font-size="4" fill="#8d35b5" font-weight="bold" text-anchor="middle" textLength="4" lengthAdjust="spacingAndGlyphs" stroke="#8d35b5" stroke-width="0.22">93</text>
<text x="453" y="18.8" font-size="4" fill="#b0a060" font-weight="bold" text-anchor="middle" textLength="8.1" lengthAdjust="spacingAndGlyphs" stroke="#b0a060" stroke-width="0.22">3.4X</text>
<text x="453" y="24" font-size="4" fill="#b0a060" font-weight="bold" text-anchor="middle" textLength="6" lengthAdjust="spacingAndGlyphs" stroke="#b0a060" stroke-width="0.22">339</text>
<text x="461.44" y="18.8" font-size="4" fill="#4b5be6" font-weight="bold" text-anchor="middle" textLength="8.1" lengthAdjust="spacingAndGlyphs" stroke="#4b5be6" stroke-width="0.22">4.3X</text>
<text x="461.44" y="24" font-size="4" fill="#4b5be6" font-weight="bold" text-anchor="middle" textLength="6" lengthAdjust="spacingAndGlyphs" stroke="#4b5be6" stroke-width="0.22">215</text>
<text x="469.88" y="18.8" font-size="4" fill="#f0409a" font-weight="bold" text-anchor="middle" textLength="8.1" lengthAdjust="spacingAndGlyphs" stroke="#f0409a" stroke-width="0.22">4.5X</text>
<text x="469.88" y="24" font-size="4" fill="#f0409a" font-weight="bold" text-anchor="middle" textLength="6" lengthAdjust="spacingAndGlyphs" stroke="#f0409a" stroke-width="0.22">207</text>
<text x="478.32" y="18.8" font-size="4" fill="#283593" font-weight="bold" text-anchor="middle" textLength="8.1" lengthAdjust="spacingAndGlyphs" stroke="#283593" stroke-width="0.22">4.4X</text>
<text x="478.32" y="24" font-size="4" fill="#283593" font-weight="bold" text-anchor="middle" textLength="6" lengthAdjust="spacingAndGlyphs" stroke="#283593" stroke-width="0.22">214</text>
<text x="486.76" y="18.8" font-size="4" fill="#8e3d85" font-weight="bold" text-anchor="middle" textLength="8.1" lengthAdjust="spacingAndGlyphs" stroke="#8e3d85" stroke-width="0.22">4.5X</text>
<text x="486.76" y="24" font-size="4" fill="#8e3d85" font-weight="bold" text-anchor="middle" textLength="6" lengthAdjust="spacingAndGlyphs" stroke="#8e3d85" stroke-width="0.22">209</text>
<text x="495.2" y="18.8" font-size="4" fill="#a88a4a" font-weight="bold" text-anchor="middle" textLength="8.1" lengthAdjust="spacingAndGlyphs" stroke="#a88a4a" stroke-width="0.22">4.1X</text>
<text x="495.2" y="24" font-size="4" fill="#a88a4a" font-weight="bold" text-anchor="middle" textLength="6" lengthAdjust="spacingAndGlyphs" stroke="#a88a4a" stroke-width="0.22">227</text>
<text x="503.64" y="18.8" font-size="4" fill="#2a3fd0" font-weight="bold" text-anchor="middle" textLength="8.1" lengthAdjust="spacingAndGlyphs" stroke="#2a3fd0" stroke-width="0.22">6.1X</text>
<text x="503.64" y="24" font-size="4" fill="#2a3fd0" font-weight="bold" text-anchor="middle" textLength="6" lengthAdjust="spacingAndGlyphs" stroke="#2a3fd0" stroke-width="0.22">154</text>
<text x="512.08" y="18.8" font-size="4" fill="#c77ef2" font-weight="bold" text-anchor="middle" textLength="4.2" lengthAdjust="spacingAndGlyphs" stroke="#c77ef2" stroke-width="0.22">8X</text>
<text x="512.08" y="24" font-size="4" fill="#c77ef2" font-weight="bold" text-anchor="middle" textLength="6" lengthAdjust="spacingAndGlyphs" stroke="#c77ef2" stroke-width="0.22">116</text>
<text x="369" y="24" font-size="4" fill="#222" font-weight="bold" text-anchor="middle" textLength="5.7" lengthAdjust="spacingAndGlyphs" stroke="#222" stroke-width="0.2">930</text>
<line x1="363.8" y1="15.52" x2="363.8" y2="110.4" stroke="#444" stroke-width="0.9" />
<line x1="363.8" y1="110.4" x2="517.1" y2="110.4" stroke="#444" stroke-width="0.9" />
<line x1="362.2" y1="110.4" x2="363.8" y2="110.4" stroke="#222" stroke-width="0.6" />
<line x1="362.2" y1="98.54" x2="363.8" y2="98.54" stroke="#222" stroke-width="0.6" />
<line x1="362.2" y1="86.68" x2="363.8" y2="86.68" stroke="#222" stroke-width="0.6" />
<line x1="362.2" y1="74.82" x2="363.8" y2="74.82" stroke="#222" stroke-width="0.6" />
<line x1="362.2" y1="62.96" x2="363.8" y2="62.96" stroke="#222" stroke-width="0.6" />
<line x1="362.2" y1="51.1" x2="363.8" y2="51.1" stroke="#222" stroke-width="0.6" />
<line x1="362.2" y1="39.24" x2="363.8" y2="39.24" stroke="#222" stroke-width="0.6" />
<line x1="362.2" y1="27.38" x2="363.8" y2="27.38" stroke="#222" stroke-width="0.6" />
<line x1="362.2" y1="15.52" x2="363.8" y2="15.52" stroke="#222" stroke-width="0.6" />
<line x1="368.6" y1="110.4" x2="368.6" y2="112.2" stroke="#222" stroke-width="0.6" />
<line x1="377.04" y1="110.4" x2="377.04" y2="112.2" stroke="#222" stroke-width="0.6" />
<line x1="385.48" y1="110.4" x2="385.48" y2="112.2" stroke="#222" stroke-width="0.6" />
<line x1="393.92" y1="110.4" x2="393.92" y2="112.2" stroke="#222" stroke-width="0.6" />
<line x1="402.36" y1="110.4" x2="402.36" y2="112.2" stroke="#222" stroke-width="0.6" />
<line x1="410.8" y1="110.4" x2="410.8" y2="112.2" stroke="#222" stroke-width="0.6" />
<line x1="419.24" y1="110.4" x2="419.24" y2="112.2" stroke="#222" stroke-width="0.6" />
<line x1="427.68" y1="110.4" x2="427.68" y2="112.2" stroke="#222" stroke-width="0.6" />
<line x1="436.12" y1="110.4" x2="436.12" y2="112.2" stroke="#222" stroke-width="0.6" />
<line x1="444.56" y1="110.4" x2="444.56" y2="112.2" stroke="#222" stroke-width="0.6" />
<line x1="453" y1="110.4" x2="453" y2="112.2" stroke="#222" stroke-width="0.6" />
<line x1="461.44" y1="110.4" x2="461.44" y2="112.2" stroke="#222" stroke-width="0.6" />
<line x1="469.88" y1="110.4" x2="469.88" y2="112.2" stroke="#222" stroke-width="0.6" />
<line x1="478.32" y1="110.4" x2="478.32" y2="112.2" stroke="#222" stroke-width="0.6" />
<line x1="486.76" y1="110.4" x2="486.76" y2="112.2" stroke="#222" stroke-width="0.6" />
<line x1="495.2" y1="110.4" x2="495.2" y2="112.2" stroke="#222" stroke-width="0.6" />
<line x1="503.64" y1="110.4" x2="503.64" y2="112.2" stroke="#222" stroke-width="0.6" />
<line x1="512.08" y1="110.4" x2="512.08" y2="112.2" stroke="#222" stroke-width="0.6" />
<text transform="translate(370.3,117.4) rotate(-45)" font-size="4.4" font-weight="bold" fill="#1a1a1a" stroke="#1a1a1a" stroke-width="0.12" text-anchor="end">WT (D614G)</text>
<text transform="translate(378.74,117.4) rotate(-45)" font-size="4.4" font-weight="bold" fill="#1a1a1a" stroke="#1a1a1a" stroke-width="0.12" text-anchor="end">BA.2</text>
<text transform="translate(387.18,117.4) rotate(-45)" font-size="4.4" font-weight="bold" fill="#1a1a1a" stroke="#1a1a1a" stroke-width="0.12" text-anchor="end">BA.2.75</text>
<text transform="translate(395.62,117.4) rotate(-45)" font-size="4.4" font-weight="bold" fill="#1a1a1a" stroke="#1a1a1a" stroke-width="0.12" text-anchor="end">BA.2.75.2</text>
<text transform="translate(404.06,117.4) rotate(-45)" font-size="4.4" font-weight="bold" fill="#1a1a1a" stroke="#1a1a1a" stroke-width="0.12" text-anchor="end">BA.2.75.6</text>
<text transform="translate(412.5,117.4) rotate(-45)" font-size="4.4" font-weight="bold" fill="#1a1a1a" stroke="#1a1a1a" stroke-width="0.12" text-anchor="end">BN.1</text>
<text transform="translate(420.94,117.4) rotate(-45)" font-size="4.4" font-weight="bold" fill="#1a1a1a" stroke="#1a1a1a" stroke-width="0.12" text-anchor="end">CA.3.1</text>
<text transform="translate(429.38,117.4) rotate(-45)" font-size="4.4" font-weight="bold" fill="#1a1a1a" stroke="#1a1a1a" stroke-width="0.12" text-anchor="end">CH.1.1</text>
<text transform="translate(437.82,117.4) rotate(-45)" font-size="4.4" font-weight="bold" fill="#1a1a1a" stroke="#1a1a1a" stroke-width="0.12" text-anchor="end">XBB.1</text>
<text transform="translate(446.26,117.4) rotate(-45)" font-size="4.4" font-weight="bold" fill="#1a1a1a" stroke="#1a1a1a" stroke-width="0.12" text-anchor="end">XBB.1.5</text>
<text transform="translate(454.7,117.4) rotate(-45)" font-size="4.4" font-weight="bold" fill="#1a1a1a" stroke="#1a1a1a" stroke-width="0.12" text-anchor="end">BA.4/5</text>
<text transform="translate(463.14,117.4) rotate(-45)" font-size="4.4" font-weight="bold" fill="#1a1a1a" stroke="#1a1a1a" stroke-width="0.12" text-anchor="end">BA.5.2.7</text>
<text transform="translate(471.58,117.4) rotate(-45)" font-size="4.4" font-weight="bold" fill="#1a1a1a" stroke="#1a1a1a" stroke-width="0.12" text-anchor="end">BE.1.1.1</text>
<text transform="translate(480.02,117.4) rotate(-45)" font-size="4.4" font-weight="bold" fill="#1a1a1a" stroke="#1a1a1a" stroke-width="0.12" text-anchor="end">BF.7</text>
<text transform="translate(488.46,117.4) rotate(-45)" font-size="4.4" font-weight="bold" fill="#1a1a1a" stroke="#1a1a1a" stroke-width="0.12" text-anchor="end">BF.14</text>
<text transform="translate(496.9,117.4) rotate(-45)" font-size="4.4" font-weight="bold" fill="#1a1a1a" stroke="#1a1a1a" stroke-width="0.12" text-anchor="end">BF.16</text>
<text transform="translate(505.34,117.4) rotate(-45)" font-size="4.4" font-weight="bold" fill="#1a1a1a" stroke="#1a1a1a" stroke-width="0.12" text-anchor="end">BQ.1</text>
<text transform="translate(513.78,117.4) rotate(-45)" font-size="4.4" font-weight="bold" fill="#1a1a1a" stroke="#1a1a1a" stroke-width="0.12" text-anchor="end">BQ.1.1</text>
<line x1="363.8" y1="91.42" x2="517.1" y2="91.42" stroke="#999" stroke-width="0.55" stroke-dasharray="2.2,1.2"/>
<rect x="377.04" y="62.53" width="8.44" height="3.6" fill="none" stroke="#555" stroke-width="0.45"/>
<rect x="453" y="60.7" width="8.44" height="3.6" fill="none" stroke="#555" stroke-width="0.45"/>
<line x1="377.04" y1="31.1" x2="444.56" y2="31.1" stroke="#222" stroke-width="0.8" />
<text x="400.54" y="30.7" font-size="4.3" fill="#111" text-anchor="start" textLength="32" lengthAdjust="spacingAndGlyphs" stroke="#111" stroke-width="0.28">p=0.0005 (4.6X)</text>
<line x1="377.04" y1="35.99" x2="436.12" y2="35.99" stroke="#222" stroke-width="0.8" />
<text x="397.24" y="35.59" font-size="4.3" fill="#111" text-anchor="start" textLength="32" lengthAdjust="spacingAndGlyphs" stroke="#111" stroke-width="0.28">p=0.0005 (4.7X)</text>
<line x1="377.04" y1="40.88" x2="427.68" y2="40.88" stroke="#222" stroke-width="0.8" />
<text x="393.94" y="40.48" font-size="4.3" fill="#111" text-anchor="start" textLength="32" lengthAdjust="spacingAndGlyphs" stroke="#111" stroke-width="0.28">p=0.0005 (4.5X)</text>
<line x1="377.04" y1="45.77" x2="419.24" y2="45.77" stroke="#222" stroke-width="0.8" />
<text x="390.64" y="45.37" font-size="4.3" fill="#111" text-anchor="start" textLength="32" lengthAdjust="spacingAndGlyphs" stroke="#111" stroke-width="0.28">p=0.0005 (4.3X)</text>
<line x1="377.04" y1="50.66" x2="410.8" y2="50.66" stroke="#222" stroke-width="0.8" />
<text x="387.34" y="50.26" font-size="4.3" fill="#111" text-anchor="start" textLength="32" lengthAdjust="spacingAndGlyphs" stroke="#111" stroke-width="0.28">p=0.0422 (2.1X)</text>
<line x1="377.04" y1="55.55" x2="402.36" y2="55.55" stroke="#222" stroke-width="0.8" />
<text x="384.04" y="55.15" font-size="4.3" fill="#111" text-anchor="start" textLength="32" lengthAdjust="spacingAndGlyphs" stroke="#111" stroke-width="0.28">p=0.0342 (1.7X)</text>
<line x1="377.04" y1="60.44" x2="393.92" y2="60.44" stroke="#222" stroke-width="0.8" />
<text x="380.74" y="60.04" font-size="4.3" fill="#111" text-anchor="start" textLength="32" lengthAdjust="spacingAndGlyphs" stroke="#111" stroke-width="0.28">p=0.0016 (2.2X)</text>
<line x1="377.04" y1="65.33" x2="385.48" y2="65.33" stroke="#222" stroke-width="0.8" />
<text x="377.44" y="64.93" font-size="4.3" fill="#111" text-anchor="start" textLength="32" lengthAdjust="spacingAndGlyphs" stroke="#111" stroke-width="0.28">p=0.2334 (1.7X)</text>
<line x1="453" y1="33.5" x2="512.08" y2="33.5" stroke="#222" stroke-width="0.8" />
<text x="473.1" y="33.1" font-size="4.3" fill="#111" text-anchor="start" textLength="32" lengthAdjust="spacingAndGlyphs" stroke="#111" stroke-width="0.28">p=0.0034 (2.4X)</text>
<line x1="453" y1="38.5" x2="503.64" y2="38.5" stroke="#222" stroke-width="0.8" />
<text x="469.8" y="38.1" font-size="4.3" fill="#111" text-anchor="start" textLength="32" lengthAdjust="spacingAndGlyphs" stroke="#111" stroke-width="0.28">p=0.0005 (1.8X)</text>
<line x1="453" y1="43.5" x2="495.2" y2="43.5" stroke="#222" stroke-width="0.8" />
<text x="466.5" y="43.1" font-size="4.3" fill="#111" text-anchor="start" textLength="32" lengthAdjust="spacingAndGlyphs" stroke="#111" stroke-width="0.28">p=0.0425 (1.2X)</text>
<line x1="453" y1="48.5" x2="486.76" y2="48.5" stroke="#222" stroke-width="0.8" />
<text x="463.2" y="48.1" font-size="4.3" fill="#111" text-anchor="start" textLength="32" lengthAdjust="spacingAndGlyphs" stroke="#111" stroke-width="0.28">p=0.0366 (1.3X)</text>
<line x1="453" y1="53.5" x2="478.32" y2="53.5" stroke="#222" stroke-width="0.8" />
<text x="459.9" y="53.1" font-size="4.3" fill="#111" text-anchor="start" textLength="32" lengthAdjust="spacingAndGlyphs" stroke="#111" stroke-width="0.28">p=0.8771 (1.3X)</text>
<line x1="453" y1="58.5" x2="469.88" y2="58.5" stroke="#222" stroke-width="0.8" />
<text x="456.6" y="58.1" font-size="4.3" fill="#111" text-anchor="start" textLength="32" lengthAdjust="spacingAndGlyphs" stroke="#111" stroke-width="0.28">p=0.8122 (1.4X)</text>
<line x1="453" y1="63.5" x2="461.44" y2="63.5" stroke="#222" stroke-width="0.8" />
<text x="453.3" y="63.1" font-size="4.3" fill="#111" text-anchor="start" textLength="32" lengthAdjust="spacingAndGlyphs" stroke="#111" stroke-width="0.28">p=0.0693 (1.3X)</text>
<circle cx="367.14" cy="78.38" r="0.85" fill="#111111"/>
<circle cx="369.85" cy="77.73" r="0.8" fill="none" stroke="#111111" stroke-width="0.5"/>
<path d="M368.01 76.21l1.0 1.6h-2.0z" fill="#111111"/>
<rect x="370.16" y="75.67" width="1.5" height="1.5" fill="none" stroke="#111111" stroke-width="0.5"/>
<circle cx="366.34" cy="75.27" r="0.85" fill="#111111"/>
<circle cx="369.23" cy="74.34" r="0.8" fill="none" stroke="#111111" stroke-width="0.5"/>
<path d="M367.49 72.92l1.0 1.6h-2.0z" fill="#111111"/>
<rect x="369.38" y="71.87" width="1.5" height="1.5" fill="none" stroke="#111111" stroke-width="0.5"/>
<circle cx="366.78" cy="71.84" r="0.85" fill="#111111"/>
<circle cx="368.34" cy="70.86" r="0.8" fill="none" stroke="#111111" stroke-width="0.5"/>
<path d="M371.44 69.22l1.0 1.6h-2.0z" fill="#111111"/>
<rect x="366.9" y="68.89" width="1.5" height="1.5" fill="none" stroke="#111111" stroke-width="0.5"/>
<circle cx="375.32" cy="82.05" r="0.8" fill="none" stroke="#f26b6b" stroke-width="0.5"/>
<path d="M378.18 79.11l1.0 1.6h-2.0z" fill="#f26b6b"/>
<rect x="375.89" y="78.67" width="1.5" height="1.5" fill="none" stroke="#f26b6b" stroke-width="0.5"/>
<circle cx="379.52" cy="77.83" r="0.85" fill="#f26b6b"/>
<circle cx="374.59" cy="77.32" r="0.8" fill="none" stroke="#f26b6b" stroke-width="0.5"/>
<path d="M377.24 76.2l1.0 1.6h-2.0z" fill="#f26b6b"/>
<rect x="375.03" y="76.35" width="1.5" height="1.5" fill="none" stroke="#f26b6b" stroke-width="0.5"/>
<circle cx="379.19" cy="77.06" r="0.85" fill="#f26b6b"/>
<circle cx="374.47" cy="77.01" r="0.8" fill="none" stroke="#f26b6b" stroke-width="0.5"/>
<path d="M377.39 75.98l1.0 1.6h-2.0z" fill="#f26b6b"/>
<rect x="379.25" y="75" width="1.5" height="1.5" fill="none" stroke="#f26b6b" stroke-width="0.5"/>
<circle cx="376.42" cy="75.87" r="0.85" fill="#f26b6b"/>
<circle cx="375.39" cy="75.36" r="0.8" fill="none" stroke="#f26b6b" stroke-width="0.5"/>
<path d="M378.12 73.1l1.0 1.6h-2.0z" fill="#f26b6b"/>
<line x1="373.84" y1="79.68" x2="380.24" y2="79.68" stroke="#444" stroke-width="0.6" />
<path d="M383.57 84.56l1.0 1.6h-2.0z" fill="#36b3c9"/>
<rect x="385.85" y="84.49" width="1.5" height="1.5" fill="none" stroke="#36b3c9" stroke-width="0.5"/>
<circle cx="384.9" cy="83.19" r="0.85" fill="#36b3c9"/>
<circle cx="388.28" cy="83.31" r="0.8" fill="none" stroke="#36b3c9" stroke-width="0.5"/>
<path d="M382.46 80.26l1.0 1.6h-2.0z" fill="#36b3c9"/>
<rect x="385.56" y="79.69" width="1.5" height="1.5" fill="none" stroke="#36b3c9" stroke-width="0.5"/>
<circle cx="384.36" cy="78.89" r="0.85" fill="#36b3c9"/>
<circle cx="387.4" cy="78.42" r="0.8" fill="none" stroke="#36b3c9" stroke-width="0.5"/>
<path d="M382.91 76.66l1.0 1.6h-2.0z" fill="#36b3c9"/>
<rect x="385.12" y="75.92" width="1.5" height="1.5" fill="none" stroke="#36b3c9" stroke-width="0.5"/>
<circle cx="388.43" cy="75.73" r="0.85" fill="#36b3c9"/>
<circle cx="384.8" cy="75.78" r="0.8" fill="none" stroke="#36b3c9" stroke-width="0.5"/>
<path d="M384.04 74.87l1.0 1.6h-2.0z" fill="#36b3c9"/>
<rect x="386.19" y="74.28" width="1.5" height="1.5" fill="none" stroke="#36b3c9" stroke-width="0.5"/>
<line x1="382.28" y1="81.46" x2="388.68" y2="81.46" stroke="#444" stroke-width="0.6" />
<rect x="391.74" y="84.4" width="1.5" height="1.5" fill="none" stroke="#b03845" stroke-width="0.5"/>
<circle cx="394.9" cy="84.7" r="0.85" fill="#b03845"/>
<circle cx="393.42" cy="84.28" r="0.8" fill="none" stroke="#b03845" stroke-width="0.5"/>
<path d="M396.64 83.46l1.0 1.6h-2.0z" fill="#b03845"/>
<rect x="390.74" y="83.31" width="1.5" height="1.5" fill="none" stroke="#b03845" stroke-width="0.5"/>
<circle cx="394.75" cy="83.01" r="0.85" fill="#b03845"/>
<circle cx="392.84" cy="83.11" r="0.8" fill="none" stroke="#b03845" stroke-width="0.5"/>
<path d="M395.46 81.23l1.0 1.6h-2.0z" fill="#b03845"/>
<rect x="391.17" y="80.85" width="1.5" height="1.5" fill="none" stroke="#b03845" stroke-width="0.5"/>
<circle cx="394.16" cy="80.81" r="0.85" fill="#b03845"/>
<circle cx="396.89" cy="80.52" r="0.8" fill="none" stroke="#b03845" stroke-width="0.5"/>
<path d="M392.7 79.34l1.0 1.6h-2.0z" fill="#b03845"/>
<line x1="390.72" y1="82.65" x2="397.12" y2="82.65" stroke="#444" stroke-width="0.6" />
<circle cx="400.82" cy="85.51" r="0.85" fill="#1f8a45"/>
<circle cx="403.66" cy="84.65" r="0.8" fill="none" stroke="#1f8a45" stroke-width="0.5"/>
<path d="M401.84 83.43l1.0 1.6h-2.0z" fill="#1f8a45"/>
<rect x="404.18" y="83.52" width="1.5" height="1.5" fill="none" stroke="#1f8a45" stroke-width="0.5"/>
<circle cx="399.38" cy="83.31" r="0.85" fill="#1f8a45"/>
<circle cx="402.77" cy="82.1" r="0.8" fill="none" stroke="#1f8a45" stroke-width="0.5"/>
<path d="M400.88 79.77l1.0 1.6h-2.0z" fill="#1f8a45"/>
<rect x="403.78" y="79.3" width="1.5" height="1.5" fill="none" stroke="#1f8a45" stroke-width="0.5"/>
<circle cx="399.89" cy="77.34" r="0.85" fill="#1f8a45"/>
<circle cx="402.31" cy="75.04" r="0.8" fill="none" stroke="#1f8a45" stroke-width="0.5"/>
<path d="M404.95 74.11l1.0 1.6h-2.0z" fill="#1f8a45"/>
<rect x="400.36" y="74.21" width="1.5" height="1.5" fill="none" stroke="#1f8a45" stroke-width="0.5"/>
<line x1="399.16" y1="82.17" x2="405.56" y2="82.17" stroke="#444" stroke-width="0.6" />
<circle cx="408.75" cy="88.76" r="0.8" fill="none" stroke="#f07f24" stroke-width="0.5"/>
<path d="M412.33 86.59l1.0 1.6h-2.0z" fill="#f07f24"/>
<rect x="409.81" y="85.72" width="1.5" height="1.5" fill="none" stroke="#f07f24" stroke-width="0.5"/>
<circle cx="412.94" cy="85.43" r="0.85" fill="#f07f24"/>
<circle cx="408.27" cy="84.48" r="0.8" fill="none" stroke="#f07f24" stroke-width="0.5"/>
<path d="M411.06 82.74l1.0 1.6h-2.0z" fill="#f07f24"/>
<rect x="408.94" y="83.09" width="1.5" height="1.5" fill="none" stroke="#f07f24" stroke-width="0.5"/>
<circle cx="412.52" cy="83.69" r="0.85" fill="#f07f24"/>
<circle cx="408.69" cy="83.5" r="0.8" fill="none" stroke="#f07f24" stroke-width="0.5"/>
<path d="M411.15 80.69l1.0 1.6h-2.0z" fill="#f07f24"/>
<rect x="412.71" y="74.59" width="1.5" height="1.5" fill="none" stroke="#f07f24" stroke-width="0.5"/>
<circle cx="410.09" cy="71.62" r="0.85" fill="#f07f24"/>
<line x1="407.6" y1="83.95" x2="414" y2="83.95" stroke="#444" stroke-width="0.6" />
<path d="M417.69 90.39l1.0 1.6h-2.0z" fill="#c9cc2a"/>
<rect x="419.55" y="89.44" width="1.5" height="1.5" fill="none" stroke="#c9cc2a" stroke-width="0.5"/>
<circle cx="418.85" cy="90.18" r="0.85" fill="#c9cc2a"/>
<circle cx="421.29" cy="88.77" r="0.8" fill="none" stroke="#c9cc2a" stroke-width="0.5"/>
<path d="M416.9 87.34l1.0 1.6h-2.0z" fill="#c9cc2a"/>
<rect x="419.1" y="86.98" width="1.5" height="1.5" fill="none" stroke="#c9cc2a" stroke-width="0.5"/>
<circle cx="418.07" cy="87.32" r="0.85" fill="#c9cc2a"/>
<circle cx="421.51" cy="87.37" r="0.8" fill="none" stroke="#c9cc2a" stroke-width="0.5"/>
<path d="M416.79 85.82l1.0 1.6h-2.0z" fill="#c9cc2a"/>
<rect x="418.39" y="85.43" width="1.5" height="1.5" fill="none" stroke="#c9cc2a" stroke-width="0.5"/>
<circle cx="421.76" cy="85.7" r="0.85" fill="#c9cc2a"/>
<circle cx="418.5" cy="85.07" r="0.8" fill="none" stroke="#c9cc2a" stroke-width="0.5"/>
<line x1="416.04" y1="87.63" x2="422.44" y2="87.63" stroke="#444" stroke-width="0.6" />
<rect x="425.05" y="89.98" width="1.5" height="1.5" fill="none" stroke="#d1873a" stroke-width="0.5"/>
<circle cx="429.1" cy="90.48" r="0.85" fill="#d1873a"/>
<circle cx="427.17" cy="90.39" r="0.8" fill="none" stroke="#d1873a" stroke-width="0.5"/>
<path d="M430.03 88.93l1.0 1.6h-2.0z" fill="#d1873a"/>
<rect x="424.47" y="88.67" width="1.5" height="1.5" fill="none" stroke="#d1873a" stroke-width="0.5"/>
<circle cx="428.53" cy="88.85" r="0.85" fill="#d1873a"/>
<circle cx="426.12" cy="88.22" r="0.8" fill="none" stroke="#d1873a" stroke-width="0.5"/>
<path d="M429.95 87l1.0 1.6h-2.0z" fill="#d1873a"/>
<rect x="424.53" y="86.87" width="1.5" height="1.5" fill="none" stroke="#d1873a" stroke-width="0.5"/>
<circle cx="427.89" cy="87.58" r="0.85" fill="#d1873a"/>
<circle cx="430.6" cy="87.44" r="0.8" fill="none" stroke="#d1873a" stroke-width="0.5"/>
<path d="M426.73 86.07l1.0 1.6h-2.0z" fill="#d1873a"/>
<rect x="424.75" y="85.56" width="1.5" height="1.5" fill="none" stroke="#d1873a" stroke-width="0.5"/>
<circle cx="429.26" cy="86.13" r="0.85" fill="#d1873a"/>
<line x1="424.48" y1="87.15" x2="430.88" y2="87.15" stroke="#444" stroke-width="0.6" />
<circle cx="434.13" cy="89.41" r="0.85" fill="#e8263b"/>
<circle cx="437.35" cy="87.89" r="0.8" fill="none" stroke="#e8263b" stroke-width="0.5"/>
<path d="M435.52 86.87l1.0 1.6h-2.0z" fill="#e8263b"/>
<rect x="437.6" y="87.15" width="1.5" height="1.5" fill="none" stroke="#e8263b" stroke-width="0.5"/>
<circle cx="433.25" cy="87.77" r="0.85" fill="#e8263b"/>
<circle cx="436.39" cy="87.53" r="0.8" fill="none" stroke="#e8263b" stroke-width="0.5"/>
<path d="M435.19 86.17l1.0 1.6h-2.0z" fill="#e8263b"/>
<rect x="437.33" y="85.98" width="1.5" height="1.5" fill="none" stroke="#e8263b" stroke-width="0.5"/>
<circle cx="433.68" cy="86.59" r="0.85" fill="#e8263b"/>
<circle cx="436.19" cy="86.19" r="0.8" fill="none" stroke="#e8263b" stroke-width="0.5"/>
<path d="M439.11 84.52l1.0 1.6h-2.0z" fill="#e8263b"/>
<rect x="434.32" y="83.57" width="1.5" height="1.5" fill="none" stroke="#e8263b" stroke-width="0.5"/>
<line x1="432.92" y1="87.15" x2="439.32" y2="87.15" stroke="#444" stroke-width="0.6" />
<circle cx="443.13" cy="89.91" r="0.8" fill="none" stroke="#8d35b5" stroke-width="0.5"/>
<path d="M445.48 87.81l1.0 1.6h-2.0z" fill="#8d35b5"/>
<rect x="443.39" y="87.58" width="1.5" height="1.5" fill="none" stroke="#8d35b5" stroke-width="0.5"/>
<circle cx="447.05" cy="88.16" r="0.85" fill="#8d35b5"/>
<circle cx="442.12" cy="87.81" r="0.8" fill="none" stroke="#8d35b5" stroke-width="0.5"/>
<path d="M445.35 86.7l1.0 1.6h-2.0z" fill="#8d35b5"/>
<rect x="442.82" y="86.62" width="1.5" height="1.5" fill="none" stroke="#8d35b5" stroke-width="0.5"/>
<circle cx="446.69" cy="87.1" r="0.85" fill="#8d35b5"/>
<circle cx="442.69" cy="86.41" r="0.8" fill="none" stroke="#8d35b5" stroke-width="0.5"/>
<path d="M444.96 84.47l1.0 1.6h-2.0z" fill="#8d35b5"/>
<rect x="446.92" y="84.67" width="1.5" height="1.5" fill="none" stroke="#8d35b5" stroke-width="0.5"/>
<circle cx="443.66" cy="84.22" r="0.85" fill="#8d35b5"/>
<line x1="441.36" y1="87.63" x2="447.76" y2="87.63" stroke="#444" stroke-width="0.6" />
<path d="M451.54 82.32l1.0 1.6h-2.0z" fill="#b0a060"/>
<rect x="453.72" y="81.49" width="1.5" height="1.5" fill="none" stroke="#b0a060" stroke-width="0.5"/>
<circle cx="453.07" cy="81.81" r="0.85" fill="#b0a060"/>
<circle cx="455.34" cy="82.03" r="0.8" fill="none" stroke="#b0a060" stroke-width="0.5"/>
<path d="M449.91 80.28l1.0 1.6h-2.0z" fill="#b0a060"/>
<rect x="452.9" y="80.46" width="1.5" height="1.5" fill="none" stroke="#b0a060" stroke-width="0.5"/>
<circle cx="452.14" cy="80.82" r="0.85" fill="#b0a060"/>
<circle cx="454.93" cy="80.78" r="0.8" fill="none" stroke="#b0a060" stroke-width="0.5"/>
<path d="M450.81 78.66l1.0 1.6h-2.0z" fill="#b0a060"/>
<rect x="452.5" y="78.61" width="1.5" height="1.5" fill="none" stroke="#b0a060" stroke-width="0.5"/>
<circle cx="455.79" cy="78.28" r="0.85" fill="#b0a060"/>
<circle cx="451.98" cy="78.18" r="0.8" fill="none" stroke="#b0a060" stroke-width="0.5"/>
<line x1="449.8" y1="81.46" x2="456.2" y2="81.46" stroke="#444" stroke-width="0.6" />
<rect x="459.15" y="84.96" width="1.5" height="1.5" fill="none" stroke="#4b5be6" stroke-width="0.5"/>
<circle cx="462.95" cy="83.95" r="0.85" fill="#4b5be6"/>
<circle cx="460.87" cy="83.49" r="0.8" fill="none" stroke="#4b5be6" stroke-width="0.5"/>
<path d="M463.85 82.33l1.0 1.6h-2.0z" fill="#4b5be6"/>
<rect x="457.74" y="81.82" width="1.5" height="1.5" fill="none" stroke="#4b5be6" stroke-width="0.5"/>
<circle cx="462.14" cy="82.59" r="0.85" fill="#4b5be6"/>
<circle cx="460.12" cy="82.39" r="0.8" fill="none" stroke="#4b5be6" stroke-width="0.5"/>
<path d="M463.45 80.73l1.0 1.6h-2.0z" fill="#4b5be6"/>
<rect x="458.42" y="81.1" width="1.5" height="1.5" fill="none" stroke="#4b5be6" stroke-width="0.5"/>
<circle cx="461.39" cy="81.22" r="0.85" fill="#4b5be6"/>
<circle cx="463.94" cy="80.7" r="0.8" fill="none" stroke="#4b5be6" stroke-width="0.5"/>
<path d="M460.81 79.41l1.0 1.6h-2.0z" fill="#4b5be6"/>
<line x1="458.24" y1="82.65" x2="464.64" y2="82.65" stroke="#444" stroke-width="0.6" />
<circle cx="468.25" cy="86.19" r="0.85" fill="#f0409a"/>
<circle cx="470.82" cy="85.26" r="0.8" fill="none" stroke="#f0409a" stroke-width="0.5"/>
<path d="M469.26 84.48l1.0 1.6h-2.0z" fill="#f0409a"/>
<rect x="471.6" y="84.12" width="1.5" height="1.5" fill="none" stroke="#f0409a" stroke-width="0.5"/>
<circle cx="467.14" cy="84.38" r="0.85" fill="#f0409a"/>
<circle cx="470.12" cy="84.05" r="0.8" fill="none" stroke="#f0409a" stroke-width="0.5"/>
<path d="M468.75 82.82l1.0 1.6h-2.0z" fill="#f0409a"/>
<rect x="470.98" y="82.21" width="1.5" height="1.5" fill="none" stroke="#f0409a" stroke-width="0.5"/>
<circle cx="467.48" cy="82.15" r="0.85" fill="#f0409a"/>
<circle cx="470.32" cy="82.25" r="0.8" fill="none" stroke="#f0409a" stroke-width="0.5"/>
<path d="M472.63 80.46l1.0 1.6h-2.0z" fill="#f0409a"/>
<rect x="468.48" y="79.35" width="1.5" height="1.5" fill="none" stroke="#f0409a" stroke-width="0.5"/>
<line x1="466.68" y1="83.36" x2="473.08" y2="83.36" stroke="#444" stroke-width="0.6" />
<circle cx="476.22" cy="88.22" r="0.8" fill="none" stroke="#283593" stroke-width="0.5"/>
<path d="M479.4 85.85l1.0 1.6h-2.0z" fill="#283593"/>
<rect x="477.02" y="85.92" width="1.5" height="1.5" fill="none" stroke="#283593" stroke-width="0.5"/>
<circle cx="480.51" cy="85.83" r="0.85" fill="#283593"/>
<circle cx="475.75" cy="84.87" r="0.8" fill="none" stroke="#283593" stroke-width="0.5"/>
<path d="M478.64 83.69l1.0 1.6h-2.0z" fill="#283593"/>
<rect x="476.04" y="83.67" width="1.5" height="1.5" fill="none" stroke="#283593" stroke-width="0.5"/>
<circle cx="480.49" cy="84.22" r="0.85" fill="#283593"/>
<circle cx="476.07" cy="80.21" r="0.8" fill="none" stroke="#283593" stroke-width="0.5"/>
<path d="M478.66 78.16l1.0 1.6h-2.0z" fill="#283593"/>
<rect x="480.35" y="78.5" width="1.5" height="1.5" fill="none" stroke="#283593" stroke-width="0.5"/>
<circle cx="477.32" cy="78.52" r="0.85" fill="#283593"/>
<line x1="475.12" y1="82.65" x2="481.52" y2="82.65" stroke="#444" stroke-width="0.6" />
<path d="M484.87 84.4l1.0 1.6h-2.0z" fill="#8e3d85"/>
<rect x="486.95" y="84.31" width="1.5" height="1.5" fill="none" stroke="#8e3d85" stroke-width="0.5"/>
<circle cx="486.32" cy="84.87" r="0.85" fill="#8e3d85"/>
<circle cx="488.85" cy="84.79" r="0.8" fill="none" stroke="#8e3d85" stroke-width="0.5"/>
<path d="M483.95 83.33l1.0 1.6h-2.0z" fill="#8e3d85"/>
<rect x="486.45" y="83.13" width="1.5" height="1.5" fill="none" stroke="#8e3d85" stroke-width="0.5"/>
<circle cx="485.41" cy="83.74" r="0.85" fill="#8e3d85"/>
<circle cx="488.36" cy="83.06" r="0.8" fill="none" stroke="#8e3d85" stroke-width="0.5"/>
<path d="M484.39 81.91l1.0 1.6h-2.0z" fill="#8e3d85"/>
<rect x="486.44" y="81.63" width="1.5" height="1.5" fill="none" stroke="#8e3d85" stroke-width="0.5"/>
<circle cx="489.97" cy="81.71" r="0.85" fill="#8e3d85"/>
<circle cx="485.57" cy="80.37" r="0.8" fill="none" stroke="#8e3d85" stroke-width="0.5"/>
<line x1="483.56" y1="83.12" x2="489.96" y2="83.12" stroke="#444" stroke-width="0.6" />
<rect x="492.76" y="84.06" width="1.5" height="1.5" fill="none" stroke="#a88a4a" stroke-width="0.5"/>
<circle cx="496.67" cy="84.18" r="0.85" fill="#a88a4a"/>
<circle cx="495.07" cy="83.54" r="0.8" fill="none" stroke="#a88a4a" stroke-width="0.5"/>
<path d="M497.55 82.71l1.0 1.6h-2.0z" fill="#a88a4a"/>
<rect x="491.63" y="82.43" width="1.5" height="1.5" fill="none" stroke="#a88a4a" stroke-width="0.5"/>
<circle cx="496.07" cy="83.35" r="0.85" fill="#a88a4a"/>
<circle cx="493.83" cy="82.87" r="0.8" fill="none" stroke="#a88a4a" stroke-width="0.5"/>
<path d="M497.38 82.14l1.0 1.6h-2.0z" fill="#a88a4a"/>
<rect x="491.89" y="81.19" width="1.5" height="1.5" fill="none" stroke="#a88a4a" stroke-width="0.5"/>
<circle cx="494.99" cy="81.97" r="0.85" fill="#a88a4a"/>
<circle cx="497.87" cy="81.92" r="0.8" fill="none" stroke="#a88a4a" stroke-width="0.5"/>
<path d="M494.5 79.48l1.0 1.6h-2.0z" fill="#a88a4a"/>
<line x1="492" y1="82.65" x2="498.4" y2="82.65" stroke="#444" stroke-width="0.6" />
<circle cx="501.65" cy="88.11" r="0.85" fill="#2a3fd0"/>
<circle cx="505.22" cy="87.66" r="0.8" fill="none" stroke="#2a3fd0" stroke-width="0.5"/>
<path d="M503.38 85.7l1.0 1.6h-2.0z" fill="#2a3fd0"/>
<rect x="504.94" y="84.38" width="1.5" height="1.5" fill="none" stroke="#2a3fd0" stroke-width="0.5"/>
<circle cx="500.87" cy="84.93" r="0.85" fill="#2a3fd0"/>
<circle cx="504.09" cy="84.78" r="0.8" fill="none" stroke="#2a3fd0" stroke-width="0.5"/>
<path d="M502.61 83.8l1.0 1.6h-2.0z" fill="#2a3fd0"/>
<rect x="504.58" y="83.02" width="1.5" height="1.5" fill="none" stroke="#2a3fd0" stroke-width="0.5"/>
<circle cx="501.45" cy="83.2" r="0.85" fill="#2a3fd0"/>
<circle cx="504.09" cy="83.12" r="0.8" fill="none" stroke="#2a3fd0" stroke-width="0.5"/>
<path d="M506.38 82.28l1.0 1.6h-2.0z" fill="#2a3fd0"/>
<rect x="501.7" y="82.34" width="1.5" height="1.5" fill="none" stroke="#2a3fd0" stroke-width="0.5"/>
<line x1="500.44" y1="84.66" x2="506.84" y2="84.66" stroke="#444" stroke-width="0.6" />
<circle cx="509.94" cy="89.98" r="0.8" fill="none" stroke="#c77ef2" stroke-width="0.5"/>
<path d="M513.67 88.78l1.0 1.6h-2.0z" fill="#c77ef2"/>
<rect x="510.7" y="88.59" width="1.5" height="1.5" fill="none" stroke="#c77ef2" stroke-width="0.5"/>
<circle cx="514.86" cy="88.53" r="0.85" fill="#c77ef2"/>
<circle cx="509.07" cy="88.42" r="0.8" fill="none" stroke="#c77ef2" stroke-width="0.5"/>
<path d="M512.63 85.56l1.0 1.6h-2.0z" fill="#c77ef2"/>
<rect x="510.16" y="85.63" width="1.5" height="1.5" fill="none" stroke="#c77ef2" stroke-width="0.5"/>
<circle cx="514.32" cy="84.72" r="0.85" fill="#c77ef2"/>
<circle cx="509.98" cy="84.49" r="0.8" fill="none" stroke="#c77ef2" stroke-width="0.5"/>
<path d="M512.3 83.22l1.0 1.6h-2.0z" fill="#c77ef2"/>
<rect x="514.03" y="82.83" width="1.5" height="1.5" fill="none" stroke="#c77ef2" stroke-width="0.5"/>
<circle cx="510.8" cy="83.29" r="0.85" fill="#c77ef2"/>
<line x1="508.88" y1="86.44" x2="515.28" y2="86.44" stroke="#444" stroke-width="0.6" />
<text x="594.1" y="12" font-size="5.42" fill="#111" font-weight="bold" text-anchor="middle" stroke="#111" stroke-width="0.12">3 × Vac + BA.2 breakthrough (6M)</text>
<text x="533.98" y="18.8" font-size="4" fill="#f26b6b" font-weight="bold" text-anchor="middle" textLength="8.1" lengthAdjust="spacingAndGlyphs" stroke="#f26b6b" stroke-width="0.22">2.5X</text>
<text x="533.98" y="24" font-size="4" fill="#f26b6b" font-weight="bold" text-anchor="middle" textLength="6" lengthAdjust="spacingAndGlyphs" stroke="#f26b6b" stroke-width="0.22">382</text>
<text x="542.46" y="18.8" font-size="4" fill="#36b3c9" font-weight="bold" text-anchor="middle" textLength="4.2" lengthAdjust="spacingAndGlyphs" stroke="#36b3c9" stroke-width="0.22">4X</text>
<text x="542.46" y="24" font-size="4" fill="#36b3c9" font-weight="bold" text-anchor="middle" textLength="6" lengthAdjust="spacingAndGlyphs" stroke="#36b3c9" stroke-width="0.22">272</text>
<text x="550.94" y="18.8" font-size="4" fill="#b03845" font-weight="bold" text-anchor="middle" textLength="4.2" lengthAdjust="spacingAndGlyphs" stroke="#b03845" stroke-width="0.22">4X</text>
<text x="550.94" y="24" font-size="4" fill="#b03845" font-weight="bold" text-anchor="middle" textLength="6" lengthAdjust="spacingAndGlyphs" stroke="#b03845" stroke-width="0.22">274</text>
<text x="559.42" y="18.8" font-size="4" fill="#1f8a45" font-weight="bold" text-anchor="middle" textLength="8.1" lengthAdjust="spacingAndGlyphs" stroke="#1f8a45" stroke-width="0.22">4.5X</text>
<text x="559.42" y="24" font-size="4" fill="#1f8a45" font-weight="bold" text-anchor="middle" textLength="6" lengthAdjust="spacingAndGlyphs" stroke="#1f8a45" stroke-width="0.22">233</text>
<text x="567.9" y="18.8" font-size="4" fill="#f07f24" font-weight="bold" text-anchor="middle" textLength="4.2" lengthAdjust="spacingAndGlyphs" stroke="#f07f24" stroke-width="0.22">4X</text>
<text x="567.9" y="24" font-size="4" fill="#f07f24" font-weight="bold" text-anchor="middle" textLength="6" lengthAdjust="spacingAndGlyphs" stroke="#f07f24" stroke-width="0.22">270</text>
<text x="576.38" y="18.8" font-size="4" fill="#c9cc2a" font-weight="bold" text-anchor="middle" textLength="4.2" lengthAdjust="spacingAndGlyphs" stroke="#c9cc2a" stroke-width="0.22">7X</text>
<text x="576.38" y="24" font-size="4" fill="#c9cc2a" font-weight="bold" text-anchor="middle" textLength="6" lengthAdjust="spacingAndGlyphs" stroke="#c9cc2a" stroke-width="0.22">155</text>
<text x="584.86" y="18.8" font-size="4" fill="#d1873a" font-weight="bold" text-anchor="middle" textLength="8.1" lengthAdjust="spacingAndGlyphs" stroke="#d1873a" stroke-width="0.22">8.2X</text>
<text x="584.86" y="24" font-size="4" fill="#d1873a" font-weight="bold" text-anchor="middle" textLength="6" lengthAdjust="spacingAndGlyphs" stroke="#d1873a" stroke-width="0.22">133</text>
<text x="593.34" y="18.8" font-size="4" fill="#e8263b" font-weight="bold" text-anchor="middle" textLength="8.1" lengthAdjust="spacingAndGlyphs" stroke="#e8263b" stroke-width="0.22">8.2X</text>
<text x="593.34" y="24" font-size="4" fill="#e8263b" font-weight="bold" text-anchor="middle" textLength="6" lengthAdjust="spacingAndGlyphs" stroke="#e8263b" stroke-width="0.22">133</text>
<text x="601.82" y="18.8" font-size="4" fill="#8d35b5" font-weight="bold" text-anchor="middle" textLength="8.1" lengthAdjust="spacingAndGlyphs" stroke="#8d35b5" stroke-width="0.22">8.2X</text>
<text x="601.82" y="24" font-size="4" fill="#8d35b5" font-weight="bold" text-anchor="middle" textLength="6" lengthAdjust="spacingAndGlyphs" stroke="#8d35b5" stroke-width="0.22">133</text>
<text x="610.3" y="18.8" font-size="4" fill="#b0a060" font-weight="bold" text-anchor="middle" textLength="8.1" lengthAdjust="spacingAndGlyphs" stroke="#b0a060" stroke-width="0.22">3.6X</text>
<text x="610.3" y="24" font-size="4" fill="#b0a060" font-weight="bold" text-anchor="middle" textLength="6" lengthAdjust="spacingAndGlyphs" stroke="#b0a060" stroke-width="0.22">279</text>
<text x="618.78" y="18.8" font-size="4" fill="#4b5be6" font-weight="bold" text-anchor="middle" textLength="8.1" lengthAdjust="spacingAndGlyphs" stroke="#4b5be6" stroke-width="0.22">4.2X</text>
<text x="618.78" y="24" font-size="4" fill="#4b5be6" font-weight="bold" text-anchor="middle" textLength="6" lengthAdjust="spacingAndGlyphs" stroke="#4b5be6" stroke-width="0.22">262</text>
<text x="627.26" y="18.8" font-size="4" fill="#f0409a" font-weight="bold" text-anchor="middle" textLength="8.1" lengthAdjust="spacingAndGlyphs" stroke="#f0409a" stroke-width="0.22">6.3X</text>
<text x="627.26" y="24" font-size="4" fill="#f0409a" font-weight="bold" text-anchor="middle" textLength="6" lengthAdjust="spacingAndGlyphs" stroke="#f0409a" stroke-width="0.22">174</text>
<text x="635.74" y="18.8" font-size="4" fill="#283593" font-weight="bold" text-anchor="middle" textLength="8.1" lengthAdjust="spacingAndGlyphs" stroke="#283593" stroke-width="0.22">5.5X</text>
<text x="635.74" y="24" font-size="4" fill="#283593" font-weight="bold" text-anchor="middle" textLength="6" lengthAdjust="spacingAndGlyphs" stroke="#283593" stroke-width="0.22">197</text>
<text x="644.22" y="18.8" font-size="4" fill="#8e3d85" font-weight="bold" text-anchor="middle" textLength="8.1" lengthAdjust="spacingAndGlyphs" stroke="#8e3d85" stroke-width="0.22">4.6X</text>
<text x="644.22" y="24" font-size="4" fill="#8e3d85" font-weight="bold" text-anchor="middle" textLength="6" lengthAdjust="spacingAndGlyphs" stroke="#8e3d85" stroke-width="0.22">234</text>
<text x="652.7" y="18.8" font-size="4" fill="#a88a4a" font-weight="bold" text-anchor="middle" textLength="8.1" lengthAdjust="spacingAndGlyphs" stroke="#a88a4a" stroke-width="0.22">4.4X</text>
<text x="652.7" y="24" font-size="4" fill="#a88a4a" font-weight="bold" text-anchor="middle" textLength="6" lengthAdjust="spacingAndGlyphs" stroke="#a88a4a" stroke-width="0.22">247</text>
<text x="661.18" y="18.8" font-size="4" fill="#2a3fd0" font-weight="bold" text-anchor="middle" textLength="8.1" lengthAdjust="spacingAndGlyphs" stroke="#2a3fd0" stroke-width="0.22">6.5X</text>
<text x="661.18" y="24" font-size="4" fill="#2a3fd0" font-weight="bold" text-anchor="middle" textLength="6" lengthAdjust="spacingAndGlyphs" stroke="#2a3fd0" stroke-width="0.22">168</text>
<text x="669.66" y="18.8" font-size="4" fill="#c77ef2" font-weight="bold" text-anchor="middle" textLength="8.1" lengthAdjust="spacingAndGlyphs" stroke="#c77ef2" stroke-width="0.22">7.1X</text>
<text x="669.66" y="24" font-size="4" fill="#c77ef2" font-weight="bold" text-anchor="middle" textLength="6" lengthAdjust="spacingAndGlyphs" stroke="#c77ef2" stroke-width="0.22">153</text>
<text x="525.9" y="24" font-size="4" fill="#222" font-weight="bold" text-anchor="middle" textLength="7.6" lengthAdjust="spacingAndGlyphs" stroke="#222" stroke-width="0.2">1088</text>
<line x1="520.5" y1="15.42" x2="520.5" y2="110.3" stroke="#444" stroke-width="0.9" />
<line x1="520.5" y1="110.3" x2="674.5" y2="110.3" stroke="#444" stroke-width="0.9" />
<line x1="518.9" y1="110.3" x2="520.5" y2="110.3" stroke="#222" stroke-width="0.6" />
<line x1="518.9" y1="98.44" x2="520.5" y2="98.44" stroke="#222" stroke-width="0.6" />
<line x1="518.9" y1="86.58" x2="520.5" y2="86.58" stroke="#222" stroke-width="0.6" />
<line x1="518.9" y1="74.72" x2="520.5" y2="74.72" stroke="#222" stroke-width="0.6" />
<line x1="518.9" y1="62.86" x2="520.5" y2="62.86" stroke="#222" stroke-width="0.6" />
<line x1="518.9" y1="51" x2="520.5" y2="51" stroke="#222" stroke-width="0.6" />
<line x1="518.9" y1="39.14" x2="520.5" y2="39.14" stroke="#222" stroke-width="0.6" />
<line x1="518.9" y1="27.28" x2="520.5" y2="27.28" stroke="#222" stroke-width="0.6" />
<line x1="518.9" y1="15.42" x2="520.5" y2="15.42" stroke="#222" stroke-width="0.6" />
<line x1="525.5" y1="110.3" x2="525.5" y2="112.1" stroke="#222" stroke-width="0.6" />
<line x1="533.98" y1="110.3" x2="533.98" y2="112.1" stroke="#222" stroke-width="0.6" />
<line x1="542.46" y1="110.3" x2="542.46" y2="112.1" stroke="#222" stroke-width="0.6" />
<line x1="550.94" y1="110.3" x2="550.94" y2="112.1" stroke="#222" stroke-width="0.6" />
<line x1="559.42" y1="110.3" x2="559.42" y2="112.1" stroke="#222" stroke-width="0.6" />
<line x1="567.9" y1="110.3" x2="567.9" y2="112.1" stroke="#222" stroke-width="0.6" />
<line x1="576.38" y1="110.3" x2="576.38" y2="112.1" stroke="#222" stroke-width="0.6" />
<line x1="584.86" y1="110.3" x2="584.86" y2="112.1" stroke="#222" stroke-width="0.6" />
<line x1="593.34" y1="110.3" x2="593.34" y2="112.1" stroke="#222" stroke-width="0.6" />
<line x1="601.82" y1="110.3" x2="601.82" y2="112.1" stroke="#222" stroke-width="0.6" />
<line x1="610.3" y1="110.3" x2="610.3" y2="112.1" stroke="#222" stroke-width="0.6" />
<line x1="618.78" y1="110.3" x2="618.78" y2="112.1" stroke="#222" stroke-width="0.6" />
<line x1="627.26" y1="110.3" x2="627.26" y2="112.1" stroke="#222" stroke-width="0.6" />
<line x1="635.74" y1="110.3" x2="635.74" y2="112.1" stroke="#222" stroke-width="0.6" />
<line x1="644.22" y1="110.3" x2="644.22" y2="112.1" stroke="#222" stroke-width="0.6" />
<line x1="652.7" y1="110.3" x2="652.7" y2="112.1" stroke="#222" stroke-width="0.6" />
<line x1="661.18" y1="110.3" x2="661.18" y2="112.1" stroke="#222" stroke-width="0.6" />
<line x1="669.66" y1="110.3" x2="669.66" y2="112.1" stroke="#222" stroke-width="0.6" />
<text transform="translate(527.2,117.3) rotate(-45)" font-size="4.4" font-weight="bold" fill="#1a1a1a" stroke="#1a1a1a" stroke-width="0.12" text-anchor="end">WT (D614G)</text>
<text transform="translate(535.68,117.3) rotate(-45)" font-size="4.4" font-weight="bold" fill="#1a1a1a" stroke="#1a1a1a" stroke-width="0.12" text-anchor="end">BA.2</text>
<text transform="translate(544.16,117.3) rotate(-45)" font-size="4.4" font-weight="bold" fill="#1a1a1a" stroke="#1a1a1a" stroke-width="0.12" text-anchor="end">BA.2.75</text>
<text transform="translate(552.64,117.3) rotate(-45)" font-size="4.4" font-weight="bold" fill="#1a1a1a" stroke="#1a1a1a" stroke-width="0.12" text-anchor="end">BA.2.75.2</text>
<text transform="translate(561.12,117.3) rotate(-45)" font-size="4.4" font-weight="bold" fill="#1a1a1a" stroke="#1a1a1a" stroke-width="0.12" text-anchor="end">BA.2.75.6</text>
<text transform="translate(569.6,117.3) rotate(-45)" font-size="4.4" font-weight="bold" fill="#1a1a1a" stroke="#1a1a1a" stroke-width="0.12" text-anchor="end">BN.1</text>
<text transform="translate(578.08,117.3) rotate(-45)" font-size="4.4" font-weight="bold" fill="#1a1a1a" stroke="#1a1a1a" stroke-width="0.12" text-anchor="end">CA.3.1</text>
<text transform="translate(586.56,117.3) rotate(-45)" font-size="4.4" font-weight="bold" fill="#1a1a1a" stroke="#1a1a1a" stroke-width="0.12" text-anchor="end">CH.1.1</text>
<text transform="translate(595.04,117.3) rotate(-45)" font-size="4.4" font-weight="bold" fill="#1a1a1a" stroke="#1a1a1a" stroke-width="0.12" text-anchor="end">XBB.1</text>
<text transform="translate(603.52,117.3) rotate(-45)" font-size="4.4" font-weight="bold" fill="#1a1a1a" stroke="#1a1a1a" stroke-width="0.12" text-anchor="end">XBB.1.5</text>
<text transform="translate(612,117.3) rotate(-45)" font-size="4.4" font-weight="bold" fill="#1a1a1a" stroke="#1a1a1a" stroke-width="0.12" text-anchor="end">BA.4/5</text>
<text transform="translate(620.48,117.3) rotate(-45)" font-size="4.4" font-weight="bold" fill="#1a1a1a" stroke="#1a1a1a" stroke-width="0.12" text-anchor="end">BA.5.2.7</text>
<text transform="translate(628.96,117.3) rotate(-45)" font-size="4.4" font-weight="bold" fill="#1a1a1a" stroke="#1a1a1a" stroke-width="0.12" text-anchor="end">BE.1.1.1</text>
<text transform="translate(637.44,117.3) rotate(-45)" font-size="4.4" font-weight="bold" fill="#1a1a1a" stroke="#1a1a1a" stroke-width="0.12" text-anchor="end">BF.7</text>
<text transform="translate(645.92,117.3) rotate(-45)" font-size="4.4" font-weight="bold" fill="#1a1a1a" stroke="#1a1a1a" stroke-width="0.12" text-anchor="end">BF.14</text>
<text transform="translate(654.4,117.3) rotate(-45)" font-size="4.4" font-weight="bold" fill="#1a1a1a" stroke="#1a1a1a" stroke-width="0.12" text-anchor="end">BF.16</text>
<text transform="translate(662.88,117.3) rotate(-45)" font-size="4.4" font-weight="bold" fill="#1a1a1a" stroke="#1a1a1a" stroke-width="0.12" text-anchor="end">BQ.1</text>
<text transform="translate(671.36,117.3) rotate(-45)" font-size="4.4" font-weight="bold" fill="#1a1a1a" stroke="#1a1a1a" stroke-width="0.12" text-anchor="end">BQ.1.1</text>
<line x1="520.5" y1="91.32" x2="674.5" y2="91.32" stroke="#999" stroke-width="0.55" stroke-dasharray="2.2,1.2"/>
<rect x="533.98" y="61.87" width="8.48" height="3.6" fill="none" stroke="#555" stroke-width="0.45"/>
<rect x="610.3" y="61.28" width="8.48" height="3.6" fill="none" stroke="#555" stroke-width="0.45"/>
<line x1="533.98" y1="30.3" x2="601.82" y2="30.3" stroke="#222" stroke-width="0.8" />
<text x="557.48" y="29.9" font-size="4.3" fill="#111" text-anchor="start" textLength="32" lengthAdjust="spacingAndGlyphs" stroke="#111" stroke-width="0.28">p=0.0010 (2.9X)</text>
<line x1="533.98" y1="35.21" x2="593.34" y2="35.21" stroke="#222" stroke-width="0.8" />
<text x="554.18" y="34.81" font-size="4.3" fill="#111" text-anchor="start" textLength="32" lengthAdjust="spacingAndGlyphs" stroke="#111" stroke-width="0.28">p=0.0005 (2.9X)</text>
<line x1="533.98" y1="40.12" x2="584.86" y2="40.12" stroke="#222" stroke-width="0.8" />
<text x="550.88" y="39.72" font-size="4.3" fill="#111" text-anchor="start" textLength="32" lengthAdjust="spacingAndGlyphs" stroke="#111" stroke-width="0.28">p=0.0005 (2.9X)</text>
<line x1="533.98" y1="45.03" x2="576.38" y2="45.03" stroke="#222" stroke-width="0.8" />
<text x="547.58" y="44.63" font-size="4.3" fill="#111" text-anchor="start" textLength="32" lengthAdjust="spacingAndGlyphs" stroke="#111" stroke-width="0.28">p=0.0005 (2.5X)</text>
<line x1="533.98" y1="49.94" x2="567.9" y2="49.94" stroke="#222" stroke-width="0.8" />
<text x="544.28" y="49.54" font-size="4.3" fill="#111" text-anchor="start" textLength="32" lengthAdjust="spacingAndGlyphs" stroke="#111" stroke-width="0.28">p=0.0101 (1.4X)</text>
<line x1="533.98" y1="54.85" x2="559.42" y2="54.85" stroke="#222" stroke-width="0.8" />
<text x="540.98" y="54.45" font-size="4.3" fill="#111" text-anchor="start" textLength="32" lengthAdjust="spacingAndGlyphs" stroke="#111" stroke-width="0.28">p=0.0034 (1.7X)</text>
<line x1="533.98" y1="59.76" x2="550.94" y2="59.76" stroke="#222" stroke-width="0.8" />
<text x="537.68" y="59.36" font-size="4.3" fill="#111" text-anchor="start" textLength="32" lengthAdjust="spacingAndGlyphs" stroke="#111" stroke-width="0.28">p=0.0122 (1.4X)</text>
<line x1="533.98" y1="64.67" x2="542.46" y2="64.67" stroke="#222" stroke-width="0.8" />
<text x="534.38" y="64.27" font-size="4.3" fill="#111" text-anchor="start" textLength="32" lengthAdjust="spacingAndGlyphs" stroke="#111" stroke-width="0.28">p=0.0840 (1.4X)</text>
<line x1="610.3" y1="32.4" x2="669.66" y2="32.4" stroke="#222" stroke-width="0.8" />
<text x="630.4" y="32" font-size="4.3" fill="#111" text-anchor="start" textLength="32" lengthAdjust="spacingAndGlyphs" stroke="#111" stroke-width="0.28">p=0.0693 (1.8X)</text>
<line x1="610.3" y1="37.68" x2="661.18" y2="37.68" stroke="#222" stroke-width="0.8" />
<text x="627.1" y="37.28" font-size="4.3" fill="#111" text-anchor="start" textLength="32" lengthAdjust="spacingAndGlyphs" stroke="#111" stroke-width="0.28">p=0.0068 (1.7X)</text>
<line x1="610.3" y1="42.96" x2="652.7" y2="42.96" stroke="#222" stroke-width="0.8" />
<text x="623.8" y="42.56" font-size="4.3" fill="#111" text-anchor="start" textLength="32" lengthAdjust="spacingAndGlyphs" stroke="#111" stroke-width="0.28">p=0.4235 (1.1X)</text>
<line x1="610.3" y1="48.24" x2="644.22" y2="48.24" stroke="#222" stroke-width="0.8" />
<text x="620.5" y="47.84" font-size="4.3" fill="#111" text-anchor="start" textLength="32" lengthAdjust="spacingAndGlyphs" stroke="#111" stroke-width="0.28">p=0.3013 (1.3X)</text>
<line x1="610.3" y1="53.52" x2="635.74" y2="53.52" stroke="#222" stroke-width="0.8" />
<text x="617.2" y="53.12" font-size="4.3" fill="#111" text-anchor="start" textLength="32" lengthAdjust="spacingAndGlyphs" stroke="#111" stroke-width="0.28">p=0.0834 (1.4X)</text>
<line x1="610.3" y1="58.8" x2="627.26" y2="58.8" stroke="#222" stroke-width="0.8" />
<text x="613.9" y="58.4" font-size="4.3" fill="#111" text-anchor="start" textLength="32" lengthAdjust="spacingAndGlyphs" stroke="#111" stroke-width="0.28">p=0.0815 (1.6X)</text>
<line x1="610.3" y1="64.08" x2="618.78" y2="64.08" stroke="#222" stroke-width="0.8" />
<text x="610.6" y="63.68" font-size="4.3" fill="#111" text-anchor="start" textLength="32" lengthAdjust="spacingAndGlyphs" stroke="#111" stroke-width="0.28">p=0.8501 (1.1X)</text>
<circle cx="524.11" cy="79.25" r="0.85" fill="#111111"/>
<circle cx="526.49" cy="78.65" r="0.8" fill="none" stroke="#111111" stroke-width="0.5"/>
<path d="M525.14 76.84l1.0 1.6h-2.0z" fill="#111111"/>
<rect x="526.72" y="75.41" width="1.5" height="1.5" fill="none" stroke="#111111" stroke-width="0.5"/>
<circle cx="523.12" cy="75.22" r="0.85" fill="#111111"/>
<circle cx="526.27" cy="74.17" r="0.8" fill="none" stroke="#111111" stroke-width="0.5"/>
<path d="M524.71 72.75l1.0 1.6h-2.0z" fill="#111111"/>
<rect x="526.46" y="71.35" width="1.5" height="1.5" fill="none" stroke="#111111" stroke-width="0.5"/>
<circle cx="523.27" cy="70.95" r="0.85" fill="#111111"/>
<circle cx="525.65" cy="69.88" r="0.8" fill="none" stroke="#111111" stroke-width="0.5"/>
<path d="M528.25 68.18l1.0 1.6h-2.0z" fill="#111111"/>
<rect x="523.9" y="67.76" width="1.5" height="1.5" fill="none" stroke="#111111" stroke-width="0.5"/>
<circle cx="532.56" cy="83.5" r="0.8" fill="none" stroke="#f26b6b" stroke-width="0.5"/>
<path d="M535.47 82.48l1.0 1.6h-2.0z" fill="#f26b6b"/>
<rect x="533.3" y="82.11" width="1.5" height="1.5" fill="none" stroke="#f26b6b" stroke-width="0.5"/>
<circle cx="536.63" cy="81.63" r="0.85" fill="#f26b6b"/>
<circle cx="531.42" cy="81.51" r="0.8" fill="none" stroke="#f26b6b" stroke-width="0.5"/>
<path d="M534.42 79.56l1.0 1.6h-2.0z" fill="#f26b6b"/>
<rect x="532.39" y="79.33" width="1.5" height="1.5" fill="none" stroke="#f26b6b" stroke-width="0.5"/>
<circle cx="536" cy="79.54" r="0.85" fill="#f26b6b"/>
<circle cx="531.65" cy="79.61" r="0.8" fill="none" stroke="#f26b6b" stroke-width="0.5"/>
<path d="M533.7 78.34l1.0 1.6h-2.0z" fill="#f26b6b"/>
<rect x="536.27" y="78.47" width="1.5" height="1.5" fill="none" stroke="#f26b6b" stroke-width="0.5"/>
<circle cx="532.75" cy="77.47" r="0.85" fill="#f26b6b"/>
<circle cx="532.08" cy="77.37" r="0.8" fill="none" stroke="#f26b6b" stroke-width="0.5"/>
<path d="M535.11 76.18l1.0 1.6h-2.0z" fill="#f26b6b"/>
<line x1="530.78" y1="80.65" x2="537.18" y2="80.65" stroke="#444" stroke-width="0.6" />
<path d="M541.05 83l1.0 1.6h-2.0z" fill="#36b3c9"/>
<rect x="542.59" y="83.14" width="1.5" height="1.5" fill="none" stroke="#36b3c9" stroke-width="0.5"/>
<circle cx="542.07" cy="83.22" r="0.85" fill="#36b3c9"/>
<circle cx="545.23" cy="83.15" r="0.8" fill="none" stroke="#36b3c9" stroke-width="0.5"/>
<path d="M539.98 81.92l1.0 1.6h-2.0z" fill="#36b3c9"/>
<rect x="542.53" y="81.99" width="1.5" height="1.5" fill="none" stroke="#36b3c9" stroke-width="0.5"/>
<circle cx="541.05" cy="81.75" r="0.85" fill="#36b3c9"/>
<circle cx="543.97" cy="81.81" r="0.8" fill="none" stroke="#36b3c9" stroke-width="0.5"/>
<path d="M540.03 80.55l1.0 1.6h-2.0z" fill="#36b3c9"/>
<rect x="541.98" y="80.71" width="1.5" height="1.5" fill="none" stroke="#36b3c9" stroke-width="0.5"/>
<circle cx="545.67" cy="81.42" r="0.85" fill="#36b3c9"/>
<circle cx="541.86" cy="80.99" r="0.8" fill="none" stroke="#36b3c9" stroke-width="0.5"/>
<path d="M540.99 79.32l1.0 1.6h-2.0z" fill="#36b3c9"/>
<rect x="542.64" y="79.46" width="1.5" height="1.5" fill="none" stroke="#36b3c9" stroke-width="0.5"/>
<line x1="539.26" y1="81.12" x2="545.66" y2="81.12" stroke="#444" stroke-width="0.6" />
<rect x="548.08" y="84.06" width="1.5" height="1.5" fill="none" stroke="#b03845" stroke-width="0.5"/>
<circle cx="551.89" cy="83.99" r="0.85" fill="#b03845"/>
<circle cx="550.47" cy="83.62" r="0.8" fill="none" stroke="#b03845" stroke-width="0.5"/>
<path d="M553.24 81.72l1.0 1.6h-2.0z" fill="#b03845"/>
<rect x="547.79" y="82.06" width="1.5" height="1.5" fill="none" stroke="#b03845" stroke-width="0.5"/>
<circle cx="551.69" cy="82.54" r="0.85" fill="#b03845"/>
<circle cx="550.1" cy="81.57" r="0.8" fill="none" stroke="#b03845" stroke-width="0.5"/>
<path d="M552.71 79.86l1.0 1.6h-2.0z" fill="#b03845"/>
<rect x="547.99" y="80.12" width="1.5" height="1.5" fill="none" stroke="#b03845" stroke-width="0.5"/>
<circle cx="551.28" cy="80.33" r="0.85" fill="#b03845"/>
<circle cx="553.59" cy="80.4" r="0.8" fill="none" stroke="#b03845" stroke-width="0.5"/>
<path d="M550.18 78.87l1.0 1.6h-2.0z" fill="#b03845"/>
<line x1="547.74" y1="81.84" x2="554.14" y2="81.84" stroke="#444" stroke-width="0.6" />
<circle cx="557.26" cy="85.14" r="0.85" fill="#1f8a45"/>
<circle cx="560.76" cy="84.44" r="0.8" fill="none" stroke="#1f8a45" stroke-width="0.5"/>
<path d="M558.94 83.56l1.0 1.6h-2.0z" fill="#1f8a45"/>
<rect x="560.88" y="82.84" width="1.5" height="1.5" fill="none" stroke="#1f8a45" stroke-width="0.5"/>
<circle cx="556.74" cy="83.61" r="0.85" fill="#1f8a45"/>
<circle cx="560.41" cy="83.2" r="0.8" fill="none" stroke="#1f8a45" stroke-width="0.5"/>
<path d="M558.27 81.95l1.0 1.6h-2.0z" fill="#1f8a45"/>
<rect x="560.87" y="81.54" width="1.5" height="1.5" fill="none" stroke="#1f8a45" stroke-width="0.5"/>
<circle cx="557.33" cy="82.22" r="0.85" fill="#1f8a45"/>
<circle cx="559.41" cy="82.06" r="0.8" fill="none" stroke="#1f8a45" stroke-width="0.5"/>
<path d="M562.56 79.61l1.0 1.6h-2.0z" fill="#1f8a45"/>
<rect x="558.12" y="79.22" width="1.5" height="1.5" fill="none" stroke="#1f8a45" stroke-width="0.5"/>
<line x1="556.22" y1="82.31" x2="562.62" y2="82.31" stroke="#444" stroke-width="0.6" />
<circle cx="565.84" cy="83.29" r="0.8" fill="none" stroke="#f07f24" stroke-width="0.5"/>
<path d="M568.94 81.9l1.0 1.6h-2.0z" fill="#f07f24"/>
<rect x="567.03" y="81.64" width="1.5" height="1.5" fill="none" stroke="#f07f24" stroke-width="0.5"/>
<circle cx="570.65" cy="82.14" r="0.85" fill="#f07f24"/>
<circle cx="565.54" cy="81.99" r="0.8" fill="none" stroke="#f07f24" stroke-width="0.5"/>
<path d="M568.16 80.7l1.0 1.6h-2.0z" fill="#f07f24"/>
<rect x="566.01" y="81.22" width="1.5" height="1.5" fill="none" stroke="#f07f24" stroke-width="0.5"/>
<circle cx="569.69" cy="81.7" r="0.85" fill="#f07f24"/>
<circle cx="565.64" cy="81.43" r="0.8" fill="none" stroke="#f07f24" stroke-width="0.5"/>
<path d="M567.65 79.09l1.0 1.6h-2.0z" fill="#f07f24"/>
<rect x="570.37" y="78.62" width="1.5" height="1.5" fill="none" stroke="#f07f24" stroke-width="0.5"/>
<circle cx="566.81" cy="78.62" r="0.85" fill="#f07f24"/>
<line x1="564.7" y1="81.12" x2="571.1" y2="81.12" stroke="#444" stroke-width="0.6" />
<path d="M574.44 86.7l1.0 1.6h-2.0z" fill="#c9cc2a"/>
<rect x="576.95" y="86.38" width="1.5" height="1.5" fill="none" stroke="#c9cc2a" stroke-width="0.5"/>
<circle cx="576.22" cy="87.09" r="0.85" fill="#c9cc2a"/>
<circle cx="578.43" cy="86.74" r="0.8" fill="none" stroke="#c9cc2a" stroke-width="0.5"/>
<path d="M573.32 85.56l1.0 1.6h-2.0z" fill="#c9cc2a"/>
<rect x="576.1" y="85.64" width="1.5" height="1.5" fill="none" stroke="#c9cc2a" stroke-width="0.5"/>
<circle cx="575.26" cy="86.26" r="0.85" fill="#c9cc2a"/>
<circle cx="578.25" cy="84.98" r="0.8" fill="none" stroke="#c9cc2a" stroke-width="0.5"/>
<path d="M574.52 83.97l1.0 1.6h-2.0z" fill="#c9cc2a"/>
<rect x="576.12" y="83.02" width="1.5" height="1.5" fill="none" stroke="#c9cc2a" stroke-width="0.5"/>
<circle cx="579.37" cy="83.97" r="0.85" fill="#c9cc2a"/>
<circle cx="575.34" cy="83.06" r="0.8" fill="none" stroke="#c9cc2a" stroke-width="0.5"/>
<line x1="573.18" y1="85.28" x2="579.58" y2="85.28" stroke="#444" stroke-width="0.6" />
<rect x="582.53" y="88.1" width="1.5" height="1.5" fill="none" stroke="#d1873a" stroke-width="0.5"/>
<circle cx="586.45" cy="88.08" r="0.85" fill="#d1873a"/>
<circle cx="584.77" cy="87.6" r="0.8" fill="none" stroke="#d1873a" stroke-width="0.5"/>
<path d="M586.88 86.37l1.0 1.6h-2.0z" fill="#d1873a"/>
<rect x="581.06" y="86.18" width="1.5" height="1.5" fill="none" stroke="#d1873a" stroke-width="0.5"/>
<circle cx="585.5" cy="86.61" r="0.85" fill="#d1873a"/>
<circle cx="584.01" cy="86.61" r="0.8" fill="none" stroke="#d1873a" stroke-width="0.5"/>
<path d="M586.48 85.29l1.0 1.6h-2.0z" fill="#d1873a"/>
<rect x="582.1" y="85.23" width="1.5" height="1.5" fill="none" stroke="#d1873a" stroke-width="0.5"/>
<circle cx="584.69" cy="85.51" r="0.85" fill="#d1873a"/>
<circle cx="587.98" cy="85.35" r="0.8" fill="none" stroke="#d1873a" stroke-width="0.5"/>
<path d="M584.35 84.4l1.0 1.6h-2.0z" fill="#d1873a"/>
<rect x="582.42" y="83.34" width="1.5" height="1.5" fill="none" stroke="#d1873a" stroke-width="0.5"/>
<circle cx="586.3" cy="83.91" r="0.85" fill="#d1873a"/>
<line x1="581.66" y1="85.99" x2="588.06" y2="85.99" stroke="#444" stroke-width="0.6" />
<circle cx="591.31" cy="87.42" r="0.85" fill="#e8263b"/>
<circle cx="594.27" cy="87.31" r="0.8" fill="none" stroke="#e8263b" stroke-width="0.5"/>
<path d="M593.34 85.26l1.0 1.6h-2.0z" fill="#e8263b"/>
<rect x="595.19" y="85.06" width="1.5" height="1.5" fill="none" stroke="#e8263b" stroke-width="0.5"/>
<circle cx="590.47" cy="85.38" r="0.85" fill="#e8263b"/>
<circle cx="593.93" cy="85.56" r="0.8" fill="none" stroke="#e8263b" stroke-width="0.5"/>
<path d="M591.87 84.42l1.0 1.6h-2.0z" fill="#e8263b"/>
<rect x="594.57" y="84.11" width="1.5" height="1.5" fill="none" stroke="#e8263b" stroke-width="0.5"/>
<circle cx="591.2" cy="84.41" r="0.85" fill="#e8263b"/>
<circle cx="593.21" cy="84.23" r="0.8" fill="none" stroke="#e8263b" stroke-width="0.5"/>
<path d="M596.13 83.16l1.0 1.6h-2.0z" fill="#e8263b"/>
<rect x="591.98" y="82.76" width="1.5" height="1.5" fill="none" stroke="#e8263b" stroke-width="0.5"/>
<line x1="590.14" y1="85.51" x2="596.54" y2="85.51" stroke="#444" stroke-width="0.6" />
<circle cx="600.02" cy="91.75" r="0.8" fill="none" stroke="#8d35b5" stroke-width="0.5"/>
<path d="M602.96 89.46l1.0 1.6h-2.0z" fill="#8d35b5"/>
<rect x="600.39" y="89.9" width="1.5" height="1.5" fill="none" stroke="#8d35b5" stroke-width="0.5"/>
<circle cx="604.07" cy="90.22" r="0.85" fill="#8d35b5"/>
<circle cx="598.82" cy="89.53" r="0.8" fill="none" stroke="#8d35b5" stroke-width="0.5"/>
<path d="M602.13 82.1l1.0 1.6h-2.0z" fill="#8d35b5"/>
<rect x="599.61" y="82.14" width="1.5" height="1.5" fill="none" stroke="#8d35b5" stroke-width="0.5"/>
<circle cx="603.44" cy="82.48" r="0.85" fill="#8d35b5"/>
<circle cx="599.62" cy="80.76" r="0.8" fill="none" stroke="#8d35b5" stroke-width="0.5"/>
<path d="M601.8 79.87l1.0 1.6h-2.0z" fill="#8d35b5"/>
<rect x="604.3" y="79.64" width="1.5" height="1.5" fill="none" stroke="#8d35b5" stroke-width="0.5"/>
<circle cx="600.69" cy="80.32" r="0.85" fill="#8d35b5"/>
<line x1="598.62" y1="85.99" x2="605.02" y2="85.99" stroke="#444" stroke-width="0.6" />
<path d="M608.41 83.58l1.0 1.6h-2.0z" fill="#b0a060"/>
<rect x="610.68" y="83.11" width="1.5" height="1.5" fill="none" stroke="#b0a060" stroke-width="0.5"/>
<circle cx="610.4" cy="82.74" r="0.85" fill="#b0a060"/>
<circle cx="612.79" cy="81.72" r="0.8" fill="none" stroke="#b0a060" stroke-width="0.5"/>
<path d="M607.4 78.77l1.0 1.6h-2.0z" fill="#b0a060"/>
<rect x="610.05" y="78.62" width="1.5" height="1.5" fill="none" stroke="#b0a060" stroke-width="0.5"/>
<circle cx="608.86" cy="79.13" r="0.85" fill="#b0a060"/>
<circle cx="612.47" cy="79.32" r="0.8" fill="none" stroke="#b0a060" stroke-width="0.5"/>
<path d="M608.43 77.89l1.0 1.6h-2.0z" fill="#b0a060"/>
<rect x="609.81" y="78.1" width="1.5" height="1.5" fill="none" stroke="#b0a060" stroke-width="0.5"/>
<circle cx="613.32" cy="75.9" r="0.85" fill="#b0a060"/>
<circle cx="609.25" cy="75.29" r="0.8" fill="none" stroke="#b0a060" stroke-width="0.5"/>
<line x1="607.1" y1="81.12" x2="613.5" y2="81.12" stroke="#444" stroke-width="0.6" />
<rect x="616.25" y="81.09" width="1.5" height="1.5" fill="none" stroke="#4b5be6" stroke-width="0.5"/>
<circle cx="619.76" cy="81.45" r="0.85" fill="#4b5be6"/>
<circle cx="618.82" cy="81.54" r="0.8" fill="none" stroke="#4b5be6" stroke-width="0.5"/>
<path d="M621.2 80.02l1.0 1.6h-2.0z" fill="#4b5be6"/>
<rect x="615.58" y="79.93" width="1.5" height="1.5" fill="none" stroke="#4b5be6" stroke-width="0.5"/>
<circle cx="619.12" cy="79.44" r="0.85" fill="#4b5be6"/>
<circle cx="617.55" cy="79.36" r="0.8" fill="none" stroke="#4b5be6" stroke-width="0.5"/>
<path d="M620.94 78.37l1.0 1.6h-2.0z" fill="#4b5be6"/>
<rect x="616.12" y="77.42" width="1.5" height="1.5" fill="none" stroke="#4b5be6" stroke-width="0.5"/>
<circle cx="618.79" cy="78.27" r="0.85" fill="#4b5be6"/>
<circle cx="621.93" cy="76.56" r="0.8" fill="none" stroke="#4b5be6" stroke-width="0.5"/>
<path d="M617.6 75.38l1.0 1.6h-2.0z" fill="#4b5be6"/>
<line x1="615.58" y1="81.84" x2="621.98" y2="81.84" stroke="#444" stroke-width="0.6" />
<circle cx="625.11" cy="88.66" r="0.85" fill="#f0409a"/>
<circle cx="628.63" cy="88.06" r="0.8" fill="none" stroke="#f0409a" stroke-width="0.5"/>
<path d="M626.82 85.73l1.0 1.6h-2.0z" fill="#f0409a"/>
<rect x="629.18" y="85.49" width="1.5" height="1.5" fill="none" stroke="#f0409a" stroke-width="0.5"/>
<circle cx="624.67" cy="85.99" r="0.85" fill="#f0409a"/>
<circle cx="627.62" cy="85.66" r="0.8" fill="none" stroke="#f0409a" stroke-width="0.5"/>
<path d="M626.29 84.06l1.0 1.6h-2.0z" fill="#f0409a"/>
<rect x="628.31" y="83.61" width="1.5" height="1.5" fill="none" stroke="#f0409a" stroke-width="0.5"/>
<circle cx="625.01" cy="84.15" r="0.85" fill="#f0409a"/>
<circle cx="627.53" cy="83.66" r="0.8" fill="none" stroke="#f0409a" stroke-width="0.5"/>
<path d="M630.09 80.77l1.0 1.6h-2.0z" fill="#f0409a"/>
<rect x="625.86" y="79.04" width="1.5" height="1.5" fill="none" stroke="#f0409a" stroke-width="0.5"/>
<line x1="624.06" y1="84.21" x2="630.46" y2="84.21" stroke="#444" stroke-width="0.6" />
<circle cx="633.89" cy="88.79" r="0.8" fill="none" stroke="#283593" stroke-width="0.5"/>
<path d="M636.95 84.88l1.0 1.6h-2.0z" fill="#283593"/>
<rect x="634.83" y="83.43" width="1.5" height="1.5" fill="none" stroke="#283593" stroke-width="0.5"/>
<circle cx="638.06" cy="83.78" r="0.85" fill="#283593"/>
<circle cx="633.18" cy="83.86" r="0.8" fill="none" stroke="#283593" stroke-width="0.5"/>
<path d="M636.56 82.7l1.0 1.6h-2.0z" fill="#283593"/>
<rect x="633.48" y="81.66" width="1.5" height="1.5" fill="none" stroke="#283593" stroke-width="0.5"/>
<circle cx="637.3" cy="82.48" r="0.85" fill="#283593"/>
<circle cx="633.22" cy="81.66" r="0.8" fill="none" stroke="#283593" stroke-width="0.5"/>
<path d="M636.04 80.54l1.0 1.6h-2.0z" fill="#283593"/>
<rect x="637.53" y="80.78" width="1.5" height="1.5" fill="none" stroke="#283593" stroke-width="0.5"/>
<circle cx="635.01" cy="78.67" r="0.85" fill="#283593"/>
<line x1="632.54" y1="83.02" x2="638.94" y2="83.02" stroke="#444" stroke-width="0.6" />
<path d="M642.71 82.98l1.0 1.6h-2.0z" fill="#8e3d85"/>
<rect x="644.43" y="83.01" width="1.5" height="1.5" fill="none" stroke="#8e3d85" stroke-width="0.5"/>
<circle cx="643.95" cy="83.83" r="0.85" fill="#8e3d85"/>
<circle cx="646.59" cy="83.41" r="0.8" fill="none" stroke="#8e3d85" stroke-width="0.5"/>
<path d="M641.59 80.99l1.0 1.6h-2.0z" fill="#8e3d85"/>
<rect x="644.31" y="79.91" width="1.5" height="1.5" fill="none" stroke="#8e3d85" stroke-width="0.5"/>
<circle cx="643.36" cy="80.73" r="0.85" fill="#8e3d85"/>
<circle cx="645.76" cy="79.9" r="0.8" fill="none" stroke="#8e3d85" stroke-width="0.5"/>
<path d="M642.05 77.77l1.0 1.6h-2.0z" fill="#8e3d85"/>
<rect x="643.62" y="77.83" width="1.5" height="1.5" fill="none" stroke="#8e3d85" stroke-width="0.5"/>
<circle cx="646.94" cy="78.73" r="0.85" fill="#8e3d85"/>
<circle cx="643.15" cy="75.06" r="0.8" fill="none" stroke="#8e3d85" stroke-width="0.5"/>
<line x1="641.02" y1="81.12" x2="647.42" y2="81.12" stroke="#444" stroke-width="0.6" />
<rect x="650.48" y="83.98" width="1.5" height="1.5" fill="none" stroke="#a88a4a" stroke-width="0.5"/>
<circle cx="653.58" cy="84.44" r="0.85" fill="#a88a4a"/>
<circle cx="652.63" cy="84.64" r="0.8" fill="none" stroke="#a88a4a" stroke-width="0.5"/>
<path d="M655.03 83.13l1.0 1.6h-2.0z" fill="#a88a4a"/>
<rect x="649.06" y="83.21" width="1.5" height="1.5" fill="none" stroke="#a88a4a" stroke-width="0.5"/>
<circle cx="653.45" cy="82.71" r="0.85" fill="#a88a4a"/>
<circle cx="651.15" cy="82.42" r="0.8" fill="none" stroke="#a88a4a" stroke-width="0.5"/>
<path d="M654.23 81.3l1.0 1.6h-2.0z" fill="#a88a4a"/>
<rect x="649.58" y="81.14" width="1.5" height="1.5" fill="none" stroke="#a88a4a" stroke-width="0.5"/>
<circle cx="652.87" cy="81.57" r="0.85" fill="#a88a4a"/>
<circle cx="655.65" cy="79.5" r="0.8" fill="none" stroke="#a88a4a" stroke-width="0.5"/>
<path d="M652.13 78.2l1.0 1.6h-2.0z" fill="#a88a4a"/>
<line x1="649.5" y1="82.31" x2="655.9" y2="82.31" stroke="#444" stroke-width="0.6" />
<circle cx="659.58" cy="89.34" r="0.85" fill="#2a3fd0"/>
<circle cx="662.72" cy="87.16" r="0.8" fill="none" stroke="#2a3fd0" stroke-width="0.5"/>
<path d="M660.87 86.44l1.0 1.6h-2.0z" fill="#2a3fd0"/>
<rect x="662.91" y="86.23" width="1.5" height="1.5" fill="none" stroke="#2a3fd0" stroke-width="0.5"/>
<circle cx="658.15" cy="86.09" r="0.85" fill="#2a3fd0"/>
<circle cx="661.6" cy="85.28" r="0.8" fill="none" stroke="#2a3fd0" stroke-width="0.5"/>
<path d="M660.26 84.03l1.0 1.6h-2.0z" fill="#2a3fd0"/>
<rect x="662.67" y="83.7" width="1.5" height="1.5" fill="none" stroke="#2a3fd0" stroke-width="0.5"/>
<circle cx="659.06" cy="84.48" r="0.85" fill="#2a3fd0"/>
<circle cx="661.16" cy="83.53" r="0.8" fill="none" stroke="#2a3fd0" stroke-width="0.5"/>
<path d="M664.21 79.68l1.0 1.6h-2.0z" fill="#2a3fd0"/>
<rect x="659.4" y="79.49" width="1.5" height="1.5" fill="none" stroke="#2a3fd0" stroke-width="0.5"/>
<line x1="657.98" y1="84.8" x2="664.38" y2="84.8" stroke="#444" stroke-width="0.6" />
<circle cx="667.73" cy="88.45" r="0.8" fill="none" stroke="#c77ef2" stroke-width="0.5"/>
<path d="M671.16 86.2l1.0 1.6h-2.0z" fill="#c77ef2"/>
<rect x="668.33" y="85.69" width="1.5" height="1.5" fill="none" stroke="#c77ef2" stroke-width="0.5"/>
<circle cx="672.36" cy="85.38" r="0.85" fill="#c77ef2"/>
<circle cx="666.96" cy="85.01" r="0.8" fill="none" stroke="#c77ef2" stroke-width="0.5"/>
<path d="M669.95 83.3l1.0 1.6h-2.0z" fill="#c77ef2"/>
<rect x="667.44" y="82.94" width="1.5" height="1.5" fill="none" stroke="#c77ef2" stroke-width="0.5"/>
<circle cx="671.57" cy="83.02" r="0.85" fill="#c77ef2"/>
<circle cx="667.22" cy="83.01" r="0.8" fill="none" stroke="#c77ef2" stroke-width="0.5"/>
<path d="M669.52 81.07l1.0 1.6h-2.0z" fill="#c77ef2"/>
<rect x="671.6" y="81.16" width="1.5" height="1.5" fill="none" stroke="#c77ef2" stroke-width="0.5"/>
<circle cx="668.76" cy="80.51" r="0.85" fill="#c77ef2"/>
<line x1="666.46" y1="85.28" x2="672.86" y2="85.28" stroke="#444" stroke-width="0.6" />
<text x="104.7" y="147.9" font-size="5.42" fill="#111" font-weight="bold" text-anchor="middle" stroke="#111" stroke-width="0.12">2 × CoronaVac + ZF2001 (14d)</text>
<text x="36.65" y="154.4" font-size="4" fill="#f26b6b" font-weight="bold" text-anchor="middle" textLength="8.1" lengthAdjust="spacingAndGlyphs" stroke="#f26b6b" stroke-width="0.22">6.4X</text>
<text x="36.65" y="159" font-size="4" fill="#f26b6b" font-weight="bold" text-anchor="middle" textLength="6" lengthAdjust="spacingAndGlyphs" stroke="#f26b6b" stroke-width="0.22">114</text>
<text x="45.1" y="154.4" font-size="4" fill="#36b3c9" font-weight="bold" text-anchor="middle" textLength="4.2" lengthAdjust="spacingAndGlyphs" stroke="#36b3c9" stroke-width="0.22">6X</text>
<text x="45.1" y="159" font-size="4" fill="#36b3c9" font-weight="bold" text-anchor="middle" textLength="4" lengthAdjust="spacingAndGlyphs" stroke="#36b3c9" stroke-width="0.22">91</text>
<text x="53.55" y="154.4" font-size="4" fill="#b03845" font-weight="bold" text-anchor="middle" textLength="6.15" lengthAdjust="spacingAndGlyphs" stroke="#b03845" stroke-width="0.22">17X</text>
<text x="53.55" y="159" font-size="4" fill="#b03845" font-weight="bold" text-anchor="middle" textLength="4" lengthAdjust="spacingAndGlyphs" stroke="#b03845" stroke-width="0.22">42</text>
<text x="62" y="154.4" font-size="4" fill="#1f8a45" font-weight="bold" text-anchor="middle" textLength="6.15" lengthAdjust="spacingAndGlyphs" stroke="#1f8a45" stroke-width="0.22">16X</text>
<text x="62" y="159" font-size="4" fill="#1f8a45" font-weight="bold" text-anchor="middle" textLength="4" lengthAdjust="spacingAndGlyphs" stroke="#1f8a45" stroke-width="0.22">46</text>
<text x="70.45" y="154.4" font-size="4" fill="#f07f24" font-weight="bold" text-anchor="middle" textLength="6.15" lengthAdjust="spacingAndGlyphs" stroke="#f07f24" stroke-width="0.22">27X</text>
<text x="70.45" y="159" font-size="4" fill="#f07f24" font-weight="bold" text-anchor="middle" textLength="4" lengthAdjust="spacingAndGlyphs" stroke="#f07f24" stroke-width="0.22">27</text>
<text x="78.9" y="154.4" font-size="4" fill="#c9cc2a" font-weight="bold" text-anchor="middle" textLength="6.15" lengthAdjust="spacingAndGlyphs" stroke="#c9cc2a" stroke-width="0.22">56X</text>
<text x="78.9" y="159" font-size="4" fill="#c9cc2a" font-weight="bold" text-anchor="middle" textLength="4" lengthAdjust="spacingAndGlyphs" stroke="#c9cc2a" stroke-width="0.22">13</text>
<text x="87.35" y="154.4" font-size="4" fill="#d1873a" font-weight="bold" text-anchor="middle" textLength="6.15" lengthAdjust="spacingAndGlyphs" stroke="#d1873a" stroke-width="0.22">56X</text>
<text x="87.35" y="159" font-size="4" fill="#d1873a" font-weight="bold" text-anchor="middle" textLength="4" lengthAdjust="spacingAndGlyphs" stroke="#d1873a" stroke-width="0.22">13</text>
<text x="95.8" y="154.4" font-size="4" fill="#e8263b" font-weight="bold" text-anchor="middle" textLength="6.15" lengthAdjust="spacingAndGlyphs" stroke="#e8263b" stroke-width="0.22">52X</text>
<text x="95.8" y="159" font-size="4" fill="#e8263b" font-weight="bold" text-anchor="middle" textLength="4" lengthAdjust="spacingAndGlyphs" stroke="#e8263b" stroke-width="0.22">14</text>
<text x="104.25" y="154.4" font-size="4" fill="#8d35b5" font-weight="bold" text-anchor="middle" textLength="6.15" lengthAdjust="spacingAndGlyphs" stroke="#8d35b5" stroke-width="0.22">56X</text>
<text x="104.25" y="159" font-size="4" fill="#8d35b5" font-weight="bold" text-anchor="middle" textLength="4" lengthAdjust="spacingAndGlyphs" stroke="#8d35b5" stroke-width="0.22">13</text>
<text x="112.7" y="154.4" font-size="4" fill="#b0a060" font-weight="bold" text-anchor="middle" textLength="6.15" lengthAdjust="spacingAndGlyphs" stroke="#b0a060" stroke-width="0.22">16X</text>
<text x="112.7" y="159" font-size="4" fill="#b0a060" font-weight="bold" text-anchor="middle" textLength="4" lengthAdjust="spacingAndGlyphs" stroke="#b0a060" stroke-width="0.22">44</text>
<text x="121.15" y="154.4" font-size="4" fill="#4b5be6" font-weight="bold" text-anchor="middle" textLength="6.15" lengthAdjust="spacingAndGlyphs" stroke="#4b5be6" stroke-width="0.22">28X</text>
<text x="121.15" y="159" font-size="4" fill="#4b5be6" font-weight="bold" text-anchor="middle" textLength="4" lengthAdjust="spacingAndGlyphs" stroke="#4b5be6" stroke-width="0.22">25</text>
<text x="129.6" y="154.4" font-size="4" fill="#f0409a" font-weight="bold" text-anchor="middle" textLength="6.15" lengthAdjust="spacingAndGlyphs" stroke="#f0409a" stroke-width="0.22">30X</text>
<text x="129.6" y="159" font-size="4" fill="#f0409a" font-weight="bold" text-anchor="middle" textLength="4" lengthAdjust="spacingAndGlyphs" stroke="#f0409a" stroke-width="0.22">24</text>
<text x="138.05" y="154.4" font-size="4" fill="#283593" font-weight="bold" text-anchor="middle" textLength="6.15" lengthAdjust="spacingAndGlyphs" stroke="#283593" stroke-width="0.22">16X</text>
<text x="138.05" y="159" font-size="4" fill="#283593" font-weight="bold" text-anchor="middle" textLength="4" lengthAdjust="spacingAndGlyphs" stroke="#283593" stroke-width="0.22">44</text>
<text x="146.5" y="154.4" font-size="4" fill="#8e3d85" font-weight="bold" text-anchor="middle" textLength="6.15" lengthAdjust="spacingAndGlyphs" stroke="#8e3d85" stroke-width="0.22">21X</text>
<text x="146.5" y="159" font-size="4" fill="#8e3d85" font-weight="bold" text-anchor="middle" textLength="4" lengthAdjust="spacingAndGlyphs" stroke="#8e3d85" stroke-width="0.22">34</text>
<text x="154.95" y="154.4" font-size="4" fill="#a88a4a" font-weight="bold" text-anchor="middle" textLength="6.15" lengthAdjust="spacingAndGlyphs" stroke="#a88a4a" stroke-width="0.22">16X</text>
<text x="154.95" y="159" font-size="4" fill="#a88a4a" font-weight="bold" text-anchor="middle" textLength="4" lengthAdjust="spacingAndGlyphs" stroke="#a88a4a" stroke-width="0.22">46</text>
<text x="163.4" y="154.4" font-size="4" fill="#2a3fd0" font-weight="bold" text-anchor="middle" textLength="6.15" lengthAdjust="spacingAndGlyphs" stroke="#2a3fd0" stroke-width="0.22">56X</text>
<text x="163.4" y="159" font-size="4" fill="#2a3fd0" font-weight="bold" text-anchor="middle" textLength="4" lengthAdjust="spacingAndGlyphs" stroke="#2a3fd0" stroke-width="0.22">13</text>
<text x="171.85" y="154.4" font-size="4" fill="#c77ef2" font-weight="bold" text-anchor="middle" textLength="6.15" lengthAdjust="spacingAndGlyphs" stroke="#c77ef2" stroke-width="0.22">56X</text>
<text x="171.85" y="159" font-size="4" fill="#c77ef2" font-weight="bold" text-anchor="middle" textLength="4" lengthAdjust="spacingAndGlyphs" stroke="#c77ef2" stroke-width="0.22">13</text>
<text x="28.6" y="159" font-size="4" fill="#222" font-weight="bold" text-anchor="middle" textLength="5.7" lengthAdjust="spacingAndGlyphs" stroke="#222" stroke-width="0.2">728</text>
<line x1="23.6" y1="151.42" x2="23.6" y2="246.3" stroke="#222" stroke-width="0.9" />
<line x1="23.6" y1="246.3" x2="177.5" y2="246.3" stroke="#222" stroke-width="0.9" />
<line x1="22" y1="246.3" x2="23.6" y2="246.3" stroke="#222" stroke-width="0.6" />
<text x="20.4" y="248.3" font-size="4.6" fill="#333" text-anchor="end" stroke="#333" stroke-width="0.15">10<tspan font-size="2.99" dy="-1.84">0</tspan></text>
<line x1="22" y1="234.44" x2="23.6" y2="234.44" stroke="#222" stroke-width="0.6" />
<text x="20.4" y="236.44" font-size="4.6" fill="#333" text-anchor="end" stroke="#333" stroke-width="0.15">10<tspan font-size="2.99" dy="-1.84">1</tspan></text>
<line x1="22" y1="222.58" x2="23.6" y2="222.58" stroke="#222" stroke-width="0.6" />
<text x="20.4" y="224.58" font-size="4.6" fill="#333" text-anchor="end" stroke="#333" stroke-width="0.15">10<tspan font-size="2.99" dy="-1.84">2</tspan></text>
<line x1="22" y1="210.72" x2="23.6" y2="210.72" stroke="#222" stroke-width="0.6" />
<text x="20.4" y="212.72" font-size="4.6" fill="#333" text-anchor="end" stroke="#333" stroke-width="0.15">10<tspan font-size="2.99" dy="-1.84">3</tspan></text>
<line x1="22" y1="198.86" x2="23.6" y2="198.86" stroke="#222" stroke-width="0.6" />
<text x="20.4" y="200.86" font-size="4.6" fill="#333" text-anchor="end" stroke="#333" stroke-width="0.15">10<tspan font-size="2.99" dy="-1.84">4</tspan></text>
<line x1="22" y1="187" x2="23.6" y2="187" stroke="#222" stroke-width="0.6" />
<text x="20.4" y="189" font-size="4.6" fill="#333" text-anchor="end" stroke="#333" stroke-width="0.15">10<tspan font-size="2.99" dy="-1.84">5</tspan></text>
<line x1="22" y1="175.14" x2="23.6" y2="175.14" stroke="#222" stroke-width="0.6" />
<text x="20.4" y="177.14" font-size="4.6" fill="#333" text-anchor="end" stroke="#333" stroke-width="0.15">10<tspan font-size="2.99" dy="-1.84">6</tspan></text>
<line x1="22" y1="163.28" x2="23.6" y2="163.28" stroke="#222" stroke-width="0.6" />
<text x="20.4" y="165.28" font-size="4.6" fill="#333" text-anchor="end" stroke="#333" stroke-width="0.15">10<tspan font-size="2.99" dy="-1.84">7</tspan></text>
<line x1="22" y1="151.42" x2="23.6" y2="151.42" stroke="#222" stroke-width="0.6" />
<text x="20.4" y="153.42" font-size="4.6" fill="#333" text-anchor="end" stroke="#333" stroke-width="0.15">10<tspan font-size="2.99" dy="-1.84">8</tspan></text>
<line x1="28.2" y1="246.3" x2="28.2" y2="248.1" stroke="#222" stroke-width="0.6" />
<line x1="36.65" y1="246.3" x2="36.65" y2="248.1" stroke="#222" stroke-width="0.6" />
<line x1="45.1" y1="246.3" x2="45.1" y2="248.1" stroke="#222" stroke-width="0.6" />
<line x1="53.55" y1="246.3" x2="53.55" y2="248.1" stroke="#222" stroke-width="0.6" />
<line x1="62" y1="246.3" x2="62" y2="248.1" stroke="#222" stroke-width="0.6" />
<line x1="70.45" y1="246.3" x2="70.45" y2="248.1" stroke="#222" stroke-width="0.6" />
<line x1="78.9" y1="246.3" x2="78.9" y2="248.1" stroke="#222" stroke-width="0.6" />
<line x1="87.35" y1="246.3" x2="87.35" y2="248.1" stroke="#222" stroke-width="0.6" />
<line x1="95.8" y1="246.3" x2="95.8" y2="248.1" stroke="#222" stroke-width="0.6" />
<line x1="104.25" y1="246.3" x2="104.25" y2="248.1" stroke="#222" stroke-width="0.6" />
<line x1="112.7" y1="246.3" x2="112.7" y2="248.1" stroke="#222" stroke-width="0.6" />
<line x1="121.15" y1="246.3" x2="121.15" y2="248.1" stroke="#222" stroke-width="0.6" />
<line x1="129.6" y1="246.3" x2="129.6" y2="248.1" stroke="#222" stroke-width="0.6" />
<line x1="138.05" y1="246.3" x2="138.05" y2="248.1" stroke="#222" stroke-width="0.6" />
<line x1="146.5" y1="246.3" x2="146.5" y2="248.1" stroke="#222" stroke-width="0.6" />
<line x1="154.95" y1="246.3" x2="154.95" y2="248.1" stroke="#222" stroke-width="0.6" />
<line x1="163.4" y1="246.3" x2="163.4" y2="248.1" stroke="#222" stroke-width="0.6" />
<line x1="171.85" y1="246.3" x2="171.85" y2="248.1" stroke="#222" stroke-width="0.6" />
<text transform="translate(11.9,193.76) rotate(-90)" font-size="6.4" font-weight="bold" fill="#111" stroke="#111" stroke-width="0.15" text-anchor="middle">Reciprocal serum ID<tspan font-size="4.2" dy="1.5">50</tspan></text>
<text transform="translate(29.9,253.3) rotate(-45)" font-size="4.4" font-weight="bold" fill="#1a1a1a" stroke="#1a1a1a" stroke-width="0.12" text-anchor="end">WT (D614G)</text>
<text transform="translate(38.35,253.3) rotate(-45)" font-size="4.4" font-weight="bold" fill="#1a1a1a" stroke="#1a1a1a" stroke-width="0.12" text-anchor="end">BA.2</text>
<text transform="translate(46.8,253.3) rotate(-45)" font-size="4.4" font-weight="bold" fill="#1a1a1a" stroke="#1a1a1a" stroke-width="0.12" text-anchor="end">BA.2.75</text>
<text transform="translate(55.25,253.3) rotate(-45)" font-size="4.4" font-weight="bold" fill="#1a1a1a" stroke="#1a1a1a" stroke-width="0.12" text-anchor="end">BA.2.75.2</text>
<text transform="translate(63.7,253.3) rotate(-45)" font-size="4.4" font-weight="bold" fill="#1a1a1a" stroke="#1a1a1a" stroke-width="0.12" text-anchor="end">BA.2.75.6</text>
<text transform="translate(72.15,253.3) rotate(-45)" font-size="4.4" font-weight="bold" fill="#1a1a1a" stroke="#1a1a1a" stroke-width="0.12" text-anchor="end">BN.1</text>
<text transform="translate(80.6,253.3) rotate(-45)" font-size="4.4" font-weight="bold" fill="#1a1a1a" stroke="#1a1a1a" stroke-width="0.12" text-anchor="end">CA.3.1</text>
<text transform="translate(89.05,253.3) rotate(-45)" font-size="4.4" font-weight="bold" fill="#1a1a1a" stroke="#1a1a1a" stroke-width="0.12" text-anchor="end">CH.1.1</text>
<text transform="translate(97.5,253.3) rotate(-45)" font-size="4.4" font-weight="bold" fill="#1a1a1a" stroke="#1a1a1a" stroke-width="0.12" text-anchor="end">XBB.1</text>
<text transform="translate(105.95,253.3) rotate(-45)" font-size="4.4" font-weight="bold" fill="#1a1a1a" stroke="#1a1a1a" stroke-width="0.12" text-anchor="end">XBB.1.5</text>
<text transform="translate(114.4,253.3) rotate(-45)" font-size="4.4" font-weight="bold" fill="#1a1a1a" stroke="#1a1a1a" stroke-width="0.12" text-anchor="end">BA.4/5</text>
<text transform="translate(122.85,253.3) rotate(-45)" font-size="4.4" font-weight="bold" fill="#1a1a1a" stroke="#1a1a1a" stroke-width="0.12" text-anchor="end">BA.5.2.7</text>
<text transform="translate(131.3,253.3) rotate(-45)" font-size="4.4" font-weight="bold" fill="#1a1a1a" stroke="#1a1a1a" stroke-width="0.12" text-anchor="end">BE.1.1.1</text>
<text transform="translate(139.75,253.3) rotate(-45)" font-size="4.4" font-weight="bold" fill="#1a1a1a" stroke="#1a1a1a" stroke-width="0.12" text-anchor="end">BF.7</text>
<text transform="translate(148.2,253.3) rotate(-45)" font-size="4.4" font-weight="bold" fill="#1a1a1a" stroke="#1a1a1a" stroke-width="0.12" text-anchor="end">BF.14</text>
<text transform="translate(156.65,253.3) rotate(-45)" font-size="4.4" font-weight="bold" fill="#1a1a1a" stroke="#1a1a1a" stroke-width="0.12" text-anchor="end">BF.16</text>
<text transform="translate(165.1,253.3) rotate(-45)" font-size="4.4" font-weight="bold" fill="#1a1a1a" stroke="#1a1a1a" stroke-width="0.12" text-anchor="end">BQ.1</text>
<text transform="translate(173.55,253.3) rotate(-45)" font-size="4.4" font-weight="bold" fill="#1a1a1a" stroke="#1a1a1a" stroke-width="0.12" text-anchor="end">BQ.1.1</text>
<line x1="23.6" y1="227.32" x2="177.5" y2="227.32" stroke="#999" stroke-width="0.55" stroke-dasharray="2.2,1.2"/>
<rect x="36.65" y="197.81" width="8.45" height="3.6" fill="none" stroke="#555" stroke-width="0.45"/>
<rect x="112.7" y="196.9" width="8.45" height="3.6" fill="none" stroke="#555" stroke-width="0.45"/>
<line x1="36.65" y1="166.1" x2="104.25" y2="166.1" stroke="#222" stroke-width="0.8" />
<text x="60.15" y="165.7" font-size="4.3" fill="#111" text-anchor="start" textLength="32" lengthAdjust="spacingAndGlyphs" stroke="#111" stroke-width="0.28">p=0.0010 (6.8X)</text>
<line x1="36.65" y1="171.03" x2="95.8" y2="171.03" stroke="#222" stroke-width="0.8" />
<text x="56.85" y="170.63" font-size="4.3" fill="#111" text-anchor="start" textLength="32" lengthAdjust="spacingAndGlyphs" stroke="#111" stroke-width="0.28">p=0.0010 (8.1X)</text>
<line x1="36.65" y1="175.96" x2="87.35" y2="175.96" stroke="#222" stroke-width="0.8" />
<text x="53.55" y="175.56" font-size="4.3" fill="#111" text-anchor="start" textLength="32" lengthAdjust="spacingAndGlyphs" stroke="#111" stroke-width="0.28">p=0.0010 (6.8X)</text>
<line x1="36.65" y1="180.89" x2="78.9" y2="180.89" stroke="#222" stroke-width="0.8" />
<text x="50.25" y="180.49" font-size="4.3" fill="#111" text-anchor="start" textLength="32" lengthAdjust="spacingAndGlyphs" stroke="#111" stroke-width="0.28">p=0.0010 (8.5X)</text>
<line x1="36.65" y1="185.82" x2="70.45" y2="185.82" stroke="#222" stroke-width="0.8" />
<text x="46.95" y="185.42" font-size="4.3" fill="#111" text-anchor="start" textLength="32" lengthAdjust="spacingAndGlyphs" stroke="#111" stroke-width="0.28">p=0.0010 (4.2X)</text>
<line x1="36.65" y1="190.75" x2="62" y2="190.75" stroke="#222" stroke-width="0.8" />
<text x="43.65" y="190.35" font-size="4.3" fill="#111" text-anchor="start" textLength="32" lengthAdjust="spacingAndGlyphs" stroke="#111" stroke-width="0.28">p=0.0244 (2.9X)</text>
<line x1="36.65" y1="195.68" x2="53.55" y2="195.68" stroke="#222" stroke-width="0.8" />
<text x="40.35" y="195.28" font-size="4.3" fill="#111" text-anchor="start" textLength="32" lengthAdjust="spacingAndGlyphs" stroke="#111" stroke-width="0.28">p=0.0029 (3.7X)</text>
<line x1="36.65" y1="200.61" x2="45.1" y2="200.61" stroke="#222" stroke-width="0.8" />
<text x="37.05" y="200.21" font-size="4.3" fill="#111" text-anchor="start" textLength="32" lengthAdjust="spacingAndGlyphs" stroke="#111" stroke-width="0.28">p=0.3402 (1.3X)</text>
<line x1="112.7" y1="167.9" x2="171.85" y2="167.9" stroke="#222" stroke-width="0.8" />
<text x="132.8" y="167.5" font-size="4.3" fill="#111" text-anchor="start" textLength="32" lengthAdjust="spacingAndGlyphs" stroke="#111" stroke-width="0.28">p=0.0313 (3.4X)</text>
<line x1="112.7" y1="173.2" x2="163.4" y2="173.2" stroke="#222" stroke-width="0.8" />
<text x="129.5" y="172.8" font-size="4.3" fill="#111" text-anchor="start" textLength="32" lengthAdjust="spacingAndGlyphs" stroke="#111" stroke-width="0.28">p=0.0156 (3.4X)</text>
<line x1="112.7" y1="178.5" x2="154.95" y2="178.5" stroke="#222" stroke-width="0.8" />
<text x="126.2" y="178.1" font-size="4.3" fill="#111" text-anchor="start" textLength="32" lengthAdjust="spacingAndGlyphs" stroke="#111" stroke-width="0.28">p=0.2500 (1.1X)</text>
<line x1="112.7" y1="183.8" x2="146.5" y2="183.8" stroke="#222" stroke-width="0.8" />
<text x="122.9" y="183.4" font-size="4.3" fill="#111" text-anchor="start" textLength="32" lengthAdjust="spacingAndGlyphs" stroke="#111" stroke-width="0.28">p=0.2051 (1.3X)</text>
<line x1="112.7" y1="189.1" x2="138.05" y2="189.1" stroke="#222" stroke-width="0.8" />
<text x="119.6" y="188.7" font-size="4.3" fill="#111" text-anchor="start" textLength="32" lengthAdjust="spacingAndGlyphs" stroke="#111" stroke-width="0.28">p=0.0569 (1.0X)</text>
<line x1="112.7" y1="194.4" x2="129.6" y2="194.4" stroke="#222" stroke-width="0.8" />
<text x="116.3" y="194" font-size="4.3" fill="#111" text-anchor="start" textLength="32" lengthAdjust="spacingAndGlyphs" stroke="#111" stroke-width="0.28">p=0.0781 (1.6X)</text>
<line x1="112.7" y1="199.7" x2="121.15" y2="199.7" stroke="#222" stroke-width="0.8" />
<text x="113" y="199.3" font-size="4.3" fill="#111" text-anchor="start" textLength="32" lengthAdjust="spacingAndGlyphs" stroke="#111" stroke-width="0.28">p=0.0469 (1.8X)</text>
<circle cx="26.24" cy="222.02" r="0.85" fill="#111111"/>
<circle cx="29.29" cy="218.1" r="0.8" fill="none" stroke="#111111" stroke-width="0.5"/>
<path d="M28.21 215.25l1.0 1.6h-2.0z" fill="#111111"/>
<rect x="29.67" y="212.57" width="1.5" height="1.5" fill="none" stroke="#111111" stroke-width="0.5"/>
<circle cx="25.84" cy="211.38" r="0.85" fill="#111111"/>
<circle cx="28.89" cy="208.42" r="0.8" fill="none" stroke="#111111" stroke-width="0.5"/>
<path d="M26.94 205.89l1.0 1.6h-2.0z" fill="#111111"/>
<rect x="29.51" y="202.59" width="1.5" height="1.5" fill="none" stroke="#111111" stroke-width="0.5"/>
<circle cx="26.31" cy="202" r="0.85" fill="#111111"/>
<circle cx="28.52" cy="199.21" r="0.8" fill="none" stroke="#111111" stroke-width="0.5"/>
<circle cx="35.05" cy="228.46" r="0.8" fill="none" stroke="#f26b6b" stroke-width="0.5"/>
<path d="M37.61 227.06l1.0 1.6h-2.0z" fill="#f26b6b"/>
<rect x="35.88" y="226.3" width="1.5" height="1.5" fill="none" stroke="#f26b6b" stroke-width="0.5"/>
<circle cx="38.72" cy="225.46" r="0.85" fill="#f26b6b"/>
<circle cx="33.83" cy="224.73" r="0.8" fill="none" stroke="#f26b6b" stroke-width="0.5"/>
<path d="M37.62 220.85l1.0 1.6h-2.0z" fill="#f26b6b"/>
<rect x="34.9" y="220.32" width="1.5" height="1.5" fill="none" stroke="#f26b6b" stroke-width="0.5"/>
<circle cx="38.81" cy="220.08" r="0.85" fill="#f26b6b"/>
<circle cx="34.77" cy="217.08" r="0.8" fill="none" stroke="#f26b6b" stroke-width="0.5"/>
<path d="M37.02 214.42l1.0 1.6h-2.0z" fill="#f26b6b"/>
<rect x="38.87" y="213.86" width="1.5" height="1.5" fill="none" stroke="#f26b6b" stroke-width="0.5"/>
<circle cx="36.01" cy="210.6" r="0.85" fill="#f26b6b"/>
<line x1="33.45" y1="221.87" x2="39.85" y2="221.87" stroke="#444" stroke-width="0.6" />
<path d="M43.22 225.43l1.0 1.6h-2.0z" fill="#36b3c9"/>
<rect x="45.67" y="224.62" width="1.5" height="1.5" fill="none" stroke="#36b3c9" stroke-width="0.5"/>
<circle cx="44.67" cy="224.41" r="0.85" fill="#36b3c9"/>
<circle cx="47.77" cy="224.48" r="0.8" fill="none" stroke="#36b3c9" stroke-width="0.5"/>
<path d="M42 220.27l1.0 1.6h-2.0z" fill="#36b3c9"/>
<rect x="44.56" y="217.83" width="1.5" height="1.5" fill="none" stroke="#36b3c9" stroke-width="0.5"/>
<circle cx="44.15" cy="218.19" r="0.85" fill="#36b3c9"/>
<circle cx="47.08" cy="216.62" r="0.8" fill="none" stroke="#36b3c9" stroke-width="0.5"/>
<path d="M42.77 214.67l1.0 1.6h-2.0z" fill="#36b3c9"/>
<rect x="44.33" y="211.42" width="1.5" height="1.5" fill="none" stroke="#36b3c9" stroke-width="0.5"/>
<circle cx="48.1" cy="210.72" r="0.85" fill="#36b3c9"/>
<circle cx="43.87" cy="209.14" r="0.8" fill="none" stroke="#36b3c9" stroke-width="0.5"/>
<line x1="41.9" y1="225.9" x2="48.3" y2="225.9" stroke="#444" stroke-width="0.6" />
<rect x="51.02" y="226.72" width="1.5" height="1.5" fill="none" stroke="#b03845" stroke-width="0.5"/>
<circle cx="54.49" cy="227.68" r="0.85" fill="#b03845"/>
<circle cx="53.21" cy="226.92" r="0.8" fill="none" stroke="#b03845" stroke-width="0.5"/>
<path d="M55.75 225.53l1.0 1.6h-2.0z" fill="#b03845"/>
<rect x="49.78" y="225.32" width="1.5" height="1.5" fill="none" stroke="#b03845" stroke-width="0.5"/>
<circle cx="54.44" cy="225.64" r="0.85" fill="#b03845"/>
<circle cx="52.25" cy="224.53" r="0.8" fill="none" stroke="#b03845" stroke-width="0.5"/>
<path d="M55.77 222.27l1.0 1.6h-2.0z" fill="#b03845"/>
<rect x="50.26" y="221.71" width="1.5" height="1.5" fill="none" stroke="#b03845" stroke-width="0.5"/>
<circle cx="53.61" cy="222.27" r="0.85" fill="#b03845"/>
<circle cx="56.34" cy="220.98" r="0.8" fill="none" stroke="#b03845" stroke-width="0.5"/>
<path d="M52.76 219.2l1.0 1.6h-2.0z" fill="#b03845"/>
<line x1="50.35" y1="227.32" x2="56.75" y2="227.32" stroke="#444" stroke-width="0.6" />
<circle cx="60.06" cy="234.29" r="0.85" fill="#1f8a45"/>
<circle cx="63.56" cy="234.6" r="0.8" fill="none" stroke="#1f8a45" stroke-width="0.5"/>
<path d="M61.42 233.53l1.0 1.6h-2.0z" fill="#1f8a45"/>
<rect x="63.71" y="233.51" width="1.5" height="1.5" fill="none" stroke="#1f8a45" stroke-width="0.5"/>
<circle cx="59.21" cy="232.07" r="0.85" fill="#1f8a45"/>
<circle cx="62.71" cy="224.49" r="0.8" fill="none" stroke="#1f8a45" stroke-width="0.5"/>
<path d="M61.01 222.66l1.0 1.6h-2.0z" fill="#1f8a45"/>
<rect x="63.19" y="219.94" width="1.5" height="1.5" fill="none" stroke="#1f8a45" stroke-width="0.5"/>
<circle cx="60.18" cy="217.97" r="0.85" fill="#1f8a45"/>
<circle cx="62.34" cy="216.16" r="0.8" fill="none" stroke="#1f8a45" stroke-width="0.5"/>
<path d="M64.8 213.28l1.0 1.6h-2.0z" fill="#1f8a45"/>
<rect x="60.52" y="209.92" width="1.5" height="1.5" fill="none" stroke="#1f8a45" stroke-width="0.5"/>
<line x1="58.8" y1="227.32" x2="65.2" y2="227.32" stroke="#444" stroke-width="0.6" />
<rect x="58.8" y="233.54" width="6.4" height="1.8" fill="#1f8a45"/>
<circle cx="68.5" cy="234.26" r="0.8" fill="none" stroke="#f07f24" stroke-width="0.5"/>
<path d="M71.49 233.44l1.0 1.6h-2.0z" fill="#f07f24"/>
<rect x="69.77" y="233.87" width="1.5" height="1.5" fill="none" stroke="#f07f24" stroke-width="0.5"/>
<circle cx="72.6" cy="234.36" r="0.85" fill="#f07f24"/>
<circle cx="68.1" cy="234.32" r="0.8" fill="none" stroke="#f07f24" stroke-width="0.5"/>
<path d="M70.91 233.47l1.0 1.6h-2.0z" fill="#f07f24"/>
<rect x="68.19" y="231.1" width="1.5" height="1.5" fill="none" stroke="#f07f24" stroke-width="0.5"/>
<circle cx="72.27" cy="230.54" r="0.85" fill="#f07f24"/>
<circle cx="68.62" cy="230.4" r="0.8" fill="none" stroke="#f07f24" stroke-width="0.5"/>
<path d="M70.31 228.02l1.0 1.6h-2.0z" fill="#f07f24"/>
<rect x="72.56" y="225.87" width="1.5" height="1.5" fill="none" stroke="#f07f24" stroke-width="0.5"/>
<circle cx="69.66" cy="224.18" r="0.85" fill="#f07f24"/>
<line x1="67.25" y1="228.51" x2="73.65" y2="228.51" stroke="#444" stroke-width="0.6" />
<rect x="67.25" y="233.54" width="6.4" height="1.8" fill="#f07f24"/>
<path d="M77.15 233.56l1.0 1.6h-2.0z" fill="#c9cc2a"/>
<rect x="79.55" y="233.6" width="1.5" height="1.5" fill="none" stroke="#c9cc2a" stroke-width="0.5"/>
<circle cx="78.49" cy="234.61" r="0.85" fill="#c9cc2a"/>
<circle cx="81.32" cy="234.36" r="0.8" fill="none" stroke="#c9cc2a" stroke-width="0.5"/>
<path d="M76.3 233.39l1.0 1.6h-2.0z" fill="#c9cc2a"/>
<rect x="78.97" y="233.51" width="1.5" height="1.5" fill="none" stroke="#c9cc2a" stroke-width="0.5"/>
<circle cx="77.96" cy="234.47" r="0.85" fill="#c9cc2a"/>
<circle cx="80.68" cy="234.62" r="0.8" fill="none" stroke="#c9cc2a" stroke-width="0.5"/>
<path d="M76.51 233.39l1.0 1.6h-2.0z" fill="#c9cc2a"/>
<rect x="77.91" y="233.71" width="1.5" height="1.5" fill="none" stroke="#c9cc2a" stroke-width="0.5"/>
<circle cx="82" cy="233.61" r="0.85" fill="#c9cc2a"/>
<circle cx="77.93" cy="232.73" r="0.8" fill="none" stroke="#c9cc2a" stroke-width="0.5"/>
<line x1="75.7" y1="233.85" x2="82.1" y2="233.85" stroke="#444" stroke-width="0.6" />
<rect x="75.7" y="233.54" width="6.4" height="2.2" fill="#c9cc2a"/>
<rect x="84.91" y="233.77" width="1.5" height="1.5" fill="none" stroke="#d1873a" stroke-width="0.5"/>
<circle cx="88.77" cy="234.4" r="0.85" fill="#d1873a"/>
<circle cx="87.4" cy="234.54" r="0.8" fill="none" stroke="#d1873a" stroke-width="0.5"/>
<path d="M89.62 233.45l1.0 1.6h-2.0z" fill="#d1873a"/>
<rect x="84.14" y="233.63" width="1.5" height="1.5" fill="none" stroke="#d1873a" stroke-width="0.5"/>
<circle cx="87.7" cy="234.59" r="0.85" fill="#d1873a"/>
<circle cx="86.18" cy="234.45" r="0.8" fill="none" stroke="#d1873a" stroke-width="0.5"/>
<path d="M89.39 233.65l1.0 1.6h-2.0z" fill="#d1873a"/>
<rect x="84.11" y="233.63" width="1.5" height="1.5" fill="none" stroke="#d1873a" stroke-width="0.5"/>
<circle cx="87.1" cy="234.41" r="0.85" fill="#d1873a"/>
<circle cx="90.25" cy="232.76" r="0.8" fill="none" stroke="#d1873a" stroke-width="0.5"/>
<path d="M86.58 228.61l1.0 1.6h-2.0z" fill="#d1873a"/>
<line x1="84.15" y1="233.85" x2="90.55" y2="233.85" stroke="#444" stroke-width="0.6" />
<rect x="84.15" y="233.54" width="6.4" height="2.2" fill="#d1873a"/>
<circle cx="94.19" cy="234.57" r="0.85" fill="#e8263b"/>
<circle cx="97.12" cy="234.59" r="0.8" fill="none" stroke="#e8263b" stroke-width="0.5"/>
<path d="M95.21 233.57l1.0 1.6h-2.0z" fill="#e8263b"/>
<rect x="97.61" y="233.73" width="1.5" height="1.5" fill="none" stroke="#e8263b" stroke-width="0.5"/>
<circle cx="92.92" cy="234.27" r="0.85" fill="#e8263b"/>
<circle cx="96.48" cy="234.57" r="0.8" fill="none" stroke="#e8263b" stroke-width="0.5"/>
<path d="M94.42 230.69l1.0 1.6h-2.0z" fill="#e8263b"/>
<rect x="96.73" y="230.13" width="1.5" height="1.5" fill="none" stroke="#e8263b" stroke-width="0.5"/>
<circle cx="93.74" cy="230.65" r="0.85" fill="#e8263b"/>
<circle cx="96.14" cy="230.3" r="0.8" fill="none" stroke="#e8263b" stroke-width="0.5"/>
<path d="M98.86 228.85l1.0 1.6h-2.0z" fill="#e8263b"/>
<rect x="94.42" y="228.61" width="1.5" height="1.5" fill="none" stroke="#e8263b" stroke-width="0.5"/>
<line x1="92.6" y1="232.07" x2="99" y2="232.07" stroke="#444" stroke-width="0.6" />
<rect x="92.6" y="233.54" width="6.4" height="1.8" fill="#e8263b"/>
<circle cx="102.1" cy="234.42" r="0.8" fill="none" stroke="#8d35b5" stroke-width="0.5"/>
<path d="M105.49 233.61l1.0 1.6h-2.0z" fill="#8d35b5"/>
<rect x="102.83" y="233.82" width="1.5" height="1.5" fill="none" stroke="#8d35b5" stroke-width="0.5"/>
<circle cx="106.34" cy="234.33" r="0.85" fill="#8d35b5"/>
<circle cx="101.65" cy="234.38" r="0.8" fill="none" stroke="#8d35b5" stroke-width="0.5"/>
<path d="M104.71 233.52l1.0 1.6h-2.0z" fill="#8d35b5"/>
<rect x="102.07" y="233.81" width="1.5" height="1.5" fill="none" stroke="#8d35b5" stroke-width="0.5"/>
<circle cx="105.92" cy="234.58" r="0.85" fill="#8d35b5"/>
<circle cx="102.3" cy="234.45" r="0.8" fill="none" stroke="#8d35b5" stroke-width="0.5"/>
<path d="M103.97 233.6l1.0 1.6h-2.0z" fill="#8d35b5"/>
<rect x="106.02" y="231.41" width="1.5" height="1.5" fill="none" stroke="#8d35b5" stroke-width="0.5"/>
<circle cx="103.29" cy="229.04" r="0.85" fill="#8d35b5"/>
<line x1="101.05" y1="233.85" x2="107.45" y2="233.85" stroke="#444" stroke-width="0.6" />
<rect x="101.05" y="233.54" width="6.4" height="2.2" fill="#8d35b5"/>
<path d="M111.07 233.47l1.0 1.6h-2.0z" fill="#b0a060"/>
<rect x="113.02" y="233.57" width="1.5" height="1.5" fill="none" stroke="#b0a060" stroke-width="0.5"/>
<circle cx="112.32" cy="234.35" r="0.85" fill="#b0a060"/>
<circle cx="114.86" cy="231.52" r="0.8" fill="none" stroke="#b0a060" stroke-width="0.5"/>
<path d="M110.01 230.08l1.0 1.6h-2.0z" fill="#b0a060"/>
<rect x="112.31" y="226.5" width="1.5" height="1.5" fill="none" stroke="#b0a060" stroke-width="0.5"/>
<circle cx="111.26" cy="226.25" r="0.85" fill="#b0a060"/>
<circle cx="114.65" cy="221.77" r="0.8" fill="none" stroke="#b0a060" stroke-width="0.5"/>
<path d="M110.88 220.32l1.0 1.6h-2.0z" fill="#b0a060"/>
<rect x="112.41" y="219.57" width="1.5" height="1.5" fill="none" stroke="#b0a060" stroke-width="0.5"/>
<circle cx="115.78" cy="219.14" r="0.85" fill="#b0a060"/>
<circle cx="111.45" cy="214.77" r="0.8" fill="none" stroke="#b0a060" stroke-width="0.5"/>
<line x1="109.5" y1="227.32" x2="115.9" y2="227.32" stroke="#444" stroke-width="0.6" />
<rect x="118.28" y="233.53" width="1.5" height="1.5" fill="none" stroke="#4b5be6" stroke-width="0.5"/>
<circle cx="122.07" cy="234.55" r="0.85" fill="#4b5be6"/>
<circle cx="120.83" cy="234.64" r="0.8" fill="none" stroke="#4b5be6" stroke-width="0.5"/>
<path d="M123.88 233.61l1.0 1.6h-2.0z" fill="#4b5be6"/>
<rect x="117.68" y="231.12" width="1.5" height="1.5" fill="none" stroke="#4b5be6" stroke-width="0.5"/>
<circle cx="121.45" cy="229" r="0.85" fill="#4b5be6"/>
<circle cx="120" cy="228.96" r="0.8" fill="none" stroke="#4b5be6" stroke-width="0.5"/>
<path d="M122.82 226.9l1.0 1.6h-2.0z" fill="#4b5be6"/>
<rect x="117.82" y="225.79" width="1.5" height="1.5" fill="none" stroke="#4b5be6" stroke-width="0.5"/>
<circle cx="121.42" cy="224.87" r="0.85" fill="#4b5be6"/>
<circle cx="124.43" cy="221.1" r="0.8" fill="none" stroke="#4b5be6" stroke-width="0.5"/>
<path d="M120.44 219.58l1.0 1.6h-2.0z" fill="#4b5be6"/>
<line x1="117.95" y1="228.51" x2="124.35" y2="228.51" stroke="#444" stroke-width="0.6" />
<rect x="117.95" y="233.54" width="6.4" height="1.8" fill="#4b5be6"/>
<circle cx="127.9" cy="234.59" r="0.85" fill="#f0409a"/>
<circle cx="130.79" cy="234.5" r="0.8" fill="none" stroke="#f0409a" stroke-width="0.5"/>
<path d="M129.06 233.39l1.0 1.6h-2.0z" fill="#f0409a"/>
<rect x="131.57" y="233.64" width="1.5" height="1.5" fill="none" stroke="#f0409a" stroke-width="0.5"/>
<circle cx="126.58" cy="234.34" r="0.85" fill="#f0409a"/>
<circle cx="129.9" cy="234.12" r="0.8" fill="none" stroke="#f0409a" stroke-width="0.5"/>
<path d="M128.37 232.86l1.0 1.6h-2.0z" fill="#f0409a"/>
<rect x="130.86" y="228.79" width="1.5" height="1.5" fill="none" stroke="#f0409a" stroke-width="0.5"/>
<circle cx="127.35" cy="227.1" r="0.85" fill="#f0409a"/>
<circle cx="129.88" cy="225.24" r="0.8" fill="none" stroke="#f0409a" stroke-width="0.5"/>
<path d="M132.48 223.63l1.0 1.6h-2.0z" fill="#f0409a"/>
<rect x="128.09" y="223.17" width="1.5" height="1.5" fill="none" stroke="#f0409a" stroke-width="0.5"/>
<line x1="126.4" y1="228.51" x2="132.8" y2="228.51" stroke="#444" stroke-width="0.6" />
<rect x="126.4" y="233.54" width="6.4" height="1.8" fill="#f0409a"/>
<circle cx="136.63" cy="234.56" r="0.8" fill="none" stroke="#283593" stroke-width="0.5"/>
<path d="M138.88 233.31l1.0 1.6h-2.0z" fill="#283593"/>
<rect x="136.79" y="233.86" width="1.5" height="1.5" fill="none" stroke="#283593" stroke-width="0.5"/>
<circle cx="140.23" cy="232.84" r="0.85" fill="#283593"/>
<circle cx="135.69" cy="231.39" r="0.8" fill="none" stroke="#283593" stroke-width="0.5"/>
<path d="M138.99 226.42l1.0 1.6h-2.0z" fill="#283593"/>
<rect x="135.82" y="224.97" width="1.5" height="1.5" fill="none" stroke="#283593" stroke-width="0.5"/>
<circle cx="140.16" cy="222.97" r="0.85" fill="#283593"/>
<circle cx="136.23" cy="222.97" r="0.8" fill="none" stroke="#283593" stroke-width="0.5"/>
<path d="M137.9 221.17l1.0 1.6h-2.0z" fill="#283593"/>
<rect x="139.93" y="217.52" width="1.5" height="1.5" fill="none" stroke="#283593" stroke-width="0.5"/>
<circle cx="136.83" cy="217" r="0.85" fill="#283593"/>
<line x1="134.85" y1="225.78" x2="141.25" y2="225.78" stroke="#444" stroke-width="0.6" />
<path d="M144.9 233.3l1.0 1.6h-2.0z" fill="#8e3d85"/>
<rect x="147.21" y="233.81" width="1.5" height="1.5" fill="none" stroke="#8e3d85" stroke-width="0.5"/>
<circle cx="146.17" cy="234.29" r="0.85" fill="#8e3d85"/>
<circle cx="149.02" cy="234.32" r="0.8" fill="none" stroke="#8e3d85" stroke-width="0.5"/>
<path d="M143.74 233.21l1.0 1.6h-2.0z" fill="#8e3d85"/>
<rect x="146.73" y="232.81" width="1.5" height="1.5" fill="none" stroke="#8e3d85" stroke-width="0.5"/>
<circle cx="145.18" cy="229.45" r="0.85" fill="#8e3d85"/>
<circle cx="148.58" cy="224.29" r="0.8" fill="none" stroke="#8e3d85" stroke-width="0.5"/>
<path d="M144.58 222.52l1.0 1.6h-2.0z" fill="#8e3d85"/>
<rect x="145.74" y="222.48" width="1.5" height="1.5" fill="none" stroke="#8e3d85" stroke-width="0.5"/>
<circle cx="149.61" cy="221.44" r="0.85" fill="#8e3d85"/>
<circle cx="145.69" cy="220.49" r="0.8" fill="none" stroke="#8e3d85" stroke-width="0.5"/>
<line x1="143.3" y1="227.92" x2="149.7" y2="227.92" stroke="#444" stroke-width="0.6" />
<rect x="143.3" y="233.54" width="6.4" height="1.8" fill="#8e3d85"/>
<rect x="152.57" y="233.5" width="1.5" height="1.5" fill="none" stroke="#a88a4a" stroke-width="0.5"/>
<circle cx="156.29" cy="234.58" r="0.85" fill="#a88a4a"/>
<circle cx="154.59" cy="234.59" r="0.8" fill="none" stroke="#a88a4a" stroke-width="0.5"/>
<path d="M157.09 233.67l1.0 1.6h-2.0z" fill="#a88a4a"/>
<rect x="151.45" y="232.84" width="1.5" height="1.5" fill="none" stroke="#a88a4a" stroke-width="0.5"/>
<circle cx="155.35" cy="232.34" r="0.85" fill="#a88a4a"/>
<circle cx="153.63" cy="226.26" r="0.8" fill="none" stroke="#a88a4a" stroke-width="0.5"/>
<path d="M156.53 224.41l1.0 1.6h-2.0z" fill="#a88a4a"/>
<rect x="152.38" y="222.88" width="1.5" height="1.5" fill="none" stroke="#a88a4a" stroke-width="0.5"/>
<circle cx="155.4" cy="222.97" r="0.85" fill="#a88a4a"/>
<circle cx="158.12" cy="222.41" r="0.8" fill="none" stroke="#a88a4a" stroke-width="0.5"/>
<path d="M154.25 219.59l1.0 1.6h-2.0z" fill="#a88a4a"/>
<line x1="151.75" y1="227.32" x2="158.15" y2="227.32" stroke="#444" stroke-width="0.6" />
<rect x="151.75" y="233.54" width="6.4" height="1.8" fill="#a88a4a"/>
<circle cx="161.91" cy="234.61" r="0.85" fill="#2a3fd0"/>
<circle cx="164.46" cy="234.55" r="0.8" fill="none" stroke="#2a3fd0" stroke-width="0.5"/>
<path d="M163.32 233.65l1.0 1.6h-2.0z" fill="#2a3fd0"/>
<rect x="165.29" y="233.7" width="1.5" height="1.5" fill="none" stroke="#2a3fd0" stroke-width="0.5"/>
<circle cx="160.38" cy="234.57" r="0.85" fill="#2a3fd0"/>
<circle cx="163.85" cy="234.49" r="0.8" fill="none" stroke="#2a3fd0" stroke-width="0.5"/>
<path d="M162.09 233.5l1.0 1.6h-2.0z" fill="#2a3fd0"/>
<rect x="164.92" y="233.55" width="1.5" height="1.5" fill="none" stroke="#2a3fd0" stroke-width="0.5"/>
<circle cx="161.22" cy="234.5" r="0.85" fill="#2a3fd0"/>
<circle cx="163.53" cy="234.62" r="0.8" fill="none" stroke="#2a3fd0" stroke-width="0.5"/>
<path d="M166.23 231.66l1.0 1.6h-2.0z" fill="#2a3fd0"/>
<rect x="161.9" y="230.31" width="1.5" height="1.5" fill="none" stroke="#2a3fd0" stroke-width="0.5"/>
<line x1="160.2" y1="233.85" x2="166.6" y2="233.85" stroke="#444" stroke-width="0.6" />
<rect x="160.2" y="233.54" width="6.4" height="2.2" fill="#2a3fd0"/>
<circle cx="169.66" cy="234.34" r="0.8" fill="none" stroke="#c77ef2" stroke-width="0.5"/>
<path d="M173.22 233.69l1.0 1.6h-2.0z" fill="#c77ef2"/>
<rect x="170.54" y="233.67" width="1.5" height="1.5" fill="none" stroke="#c77ef2" stroke-width="0.5"/>
<circle cx="174.4" cy="234.52" r="0.85" fill="#c77ef2"/>
<circle cx="169.35" cy="234.54" r="0.8" fill="none" stroke="#c77ef2" stroke-width="0.5"/>
<path d="M172.25 233.39l1.0 1.6h-2.0z" fill="#c77ef2"/>
<rect x="169.52" y="233.77" width="1.5" height="1.5" fill="none" stroke="#c77ef2" stroke-width="0.5"/>
<circle cx="173.52" cy="234.34" r="0.85" fill="#c77ef2"/>
<circle cx="170.02" cy="234.5" r="0.8" fill="none" stroke="#c77ef2" stroke-width="0.5"/>
<path d="M172.02 233.55l1.0 1.6h-2.0z" fill="#c77ef2"/>
<rect x="174.08" y="232.76" width="1.5" height="1.5" fill="none" stroke="#c77ef2" stroke-width="0.5"/>
<circle cx="170.79" cy="229.96" r="0.85" fill="#c77ef2"/>
<line x1="168.65" y1="233.85" x2="175.05" y2="233.85" stroke="#444" stroke-width="0.6" />
<rect x="168.65" y="233.54" width="6.4" height="2.2" fill="#c77ef2"/>
<text x="280" y="147.9" font-size="5.42" fill="#111" font-weight="bold" text-anchor="middle" stroke="#111" stroke-width="0.12">2 × Vac + BA.5 breakthrough (14d)</text>
<text x="219.25" y="154.4" font-size="4" fill="#f26b6b" font-weight="bold" text-anchor="middle" textLength="8.1" lengthAdjust="spacingAndGlyphs" stroke="#f26b6b" stroke-width="0.22">1.3X</text>
<text x="219.25" y="159" font-size="4" fill="#f26b6b" font-weight="bold" text-anchor="middle" textLength="8" lengthAdjust="spacingAndGlyphs" stroke="#f26b6b" stroke-width="0.22">4446</text>
<text x="227.7" y="154.4" font-size="4" fill="#36b3c9" font-weight="bold" text-anchor="middle" textLength="8.1" lengthAdjust="spacingAndGlyphs" stroke="#36b3c9" stroke-width="0.22">3.3X</text>
<text x="227.7" y="159" font-size="4" fill="#36b3c9" font-weight="bold" text-anchor="middle" textLength="6" lengthAdjust="spacingAndGlyphs" stroke="#36b3c9" stroke-width="0.22">555</text>
<text x="236.15" y="154.4" font-size="4" fill="#b03845" font-weight="bold" text-anchor="middle" textLength="8.1" lengthAdjust="spacingAndGlyphs" stroke="#b03845" stroke-width="0.22">6.2X</text>
<text x="236.15" y="159" font-size="4" fill="#b03845" font-weight="bold" text-anchor="middle" textLength="6" lengthAdjust="spacingAndGlyphs" stroke="#b03845" stroke-width="0.22">291</text>
<text x="244.6" y="154.4" font-size="4" fill="#1f8a45" font-weight="bold" text-anchor="middle" textLength="8.1" lengthAdjust="spacingAndGlyphs" stroke="#1f8a45" stroke-width="0.22">3.4X</text>
<text x="244.6" y="159" font-size="4" fill="#1f8a45" font-weight="bold" text-anchor="middle" textLength="6" lengthAdjust="spacingAndGlyphs" stroke="#1f8a45" stroke-width="0.22">542</text>
<text x="253.05" y="154.4" font-size="4" fill="#f07f24" font-weight="bold" text-anchor="middle" textLength="8.1" lengthAdjust="spacingAndGlyphs" stroke="#f07f24" stroke-width="0.22">6.7X</text>
<text x="253.05" y="159" font-size="4" fill="#f07f24" font-weight="bold" text-anchor="middle" textLength="6" lengthAdjust="spacingAndGlyphs" stroke="#f07f24" stroke-width="0.22">272</text>
<text x="261.5" y="154.4" font-size="4" fill="#c9cc2a" font-weight="bold" text-anchor="middle" textLength="8.1" lengthAdjust="spacingAndGlyphs" stroke="#c9cc2a" stroke-width="0.22">6.6X</text>
<text x="261.5" y="159" font-size="4" fill="#c9cc2a" font-weight="bold" text-anchor="middle" textLength="6" lengthAdjust="spacingAndGlyphs" stroke="#c9cc2a" stroke-width="0.22">207</text>
<text x="269.95" y="154.4" font-size="4" fill="#d1873a" font-weight="bold" text-anchor="middle" textLength="8.1" lengthAdjust="spacingAndGlyphs" stroke="#d1873a" stroke-width="0.22">5.6X</text>
<text x="269.95" y="159" font-size="4" fill="#d1873a" font-weight="bold" text-anchor="middle" textLength="6" lengthAdjust="spacingAndGlyphs" stroke="#d1873a" stroke-width="0.22">296</text>
<text x="278.4" y="154.4" font-size="4" fill="#e8263b" font-weight="bold" text-anchor="middle" textLength="4.2" lengthAdjust="spacingAndGlyphs" stroke="#e8263b" stroke-width="0.22">9X</text>
<text x="278.4" y="159" font-size="4" fill="#e8263b" font-weight="bold" text-anchor="middle" textLength="6" lengthAdjust="spacingAndGlyphs" stroke="#e8263b" stroke-width="0.22">283</text>
<text x="286.85" y="154.4" font-size="4" fill="#8d35b5" font-weight="bold" text-anchor="middle" textLength="4.2" lengthAdjust="spacingAndGlyphs" stroke="#8d35b5" stroke-width="0.22">5X</text>
<text x="286.85" y="159" font-size="4" fill="#8d35b5" font-weight="bold" text-anchor="middle" textLength="6" lengthAdjust="spacingAndGlyphs" stroke="#8d35b5" stroke-width="0.22">205</text>
<text x="295.3" y="154.4" font-size="4" fill="#b0a060" font-weight="bold" text-anchor="middle" textLength="8.1" lengthAdjust="spacingAndGlyphs" stroke="#b0a060" stroke-width="0.22">1.5X</text>
<text x="295.3" y="159" font-size="4" fill="#b0a060" font-weight="bold" text-anchor="middle" textLength="8" lengthAdjust="spacingAndGlyphs" stroke="#b0a060" stroke-width="0.22">1203</text>
<text x="303.75" y="154.4" font-size="4" fill="#4b5be6" font-weight="bold" text-anchor="middle" textLength="4.2" lengthAdjust="spacingAndGlyphs" stroke="#4b5be6" stroke-width="0.22">2X</text>
<text x="303.75" y="159" font-size="4" fill="#4b5be6" font-weight="bold" text-anchor="middle" textLength="6" lengthAdjust="spacingAndGlyphs" stroke="#4b5be6" stroke-width="0.22">931</text>
<text x="312.2" y="154.4" font-size="4" fill="#f0409a" font-weight="bold" text-anchor="middle" textLength="8.1" lengthAdjust="spacingAndGlyphs" stroke="#f0409a" stroke-width="0.22">2.6X</text>
<text x="312.2" y="159" font-size="4" fill="#f0409a" font-weight="bold" text-anchor="middle" textLength="6" lengthAdjust="spacingAndGlyphs" stroke="#f0409a" stroke-width="0.22">650</text>
<text x="320.65" y="154.4" font-size="4" fill="#283593" font-weight="bold" text-anchor="middle" textLength="8.1" lengthAdjust="spacingAndGlyphs" stroke="#283593" stroke-width="0.22">1.5X</text>
<text x="320.65" y="159" font-size="4" fill="#283593" font-weight="bold" text-anchor="middle" textLength="8" lengthAdjust="spacingAndGlyphs" stroke="#283593" stroke-width="0.22">1418</text>
<text x="329.1" y="154.4" font-size="4" fill="#8e3d85" font-weight="bold" text-anchor="middle" textLength="8.1" lengthAdjust="spacingAndGlyphs" stroke="#8e3d85" stroke-width="0.22">1.6X</text>
<text x="329.1" y="159" font-size="4" fill="#8e3d85" font-weight="bold" text-anchor="middle" textLength="8" lengthAdjust="spacingAndGlyphs" stroke="#8e3d85" stroke-width="0.22">1185</text>
<text x="337.55" y="154.4" font-size="4" fill="#a88a4a" font-weight="bold" text-anchor="middle" textLength="8.1" lengthAdjust="spacingAndGlyphs" stroke="#a88a4a" stroke-width="0.22">1.8X</text>
<text x="337.55" y="159" font-size="4" fill="#a88a4a" font-weight="bold" text-anchor="middle" textLength="6" lengthAdjust="spacingAndGlyphs" stroke="#a88a4a" stroke-width="0.22">991</text>
<text x="346" y="154.4" font-size="4" fill="#2a3fd0" font-weight="bold" text-anchor="middle" textLength="8.1" lengthAdjust="spacingAndGlyphs" stroke="#2a3fd0" stroke-width="0.22">3.5X</text>
<text x="346" y="159" font-size="4" fill="#2a3fd0" font-weight="bold" text-anchor="middle" textLength="6" lengthAdjust="spacingAndGlyphs" stroke="#2a3fd0" stroke-width="0.22">523</text>
<text x="354.45" y="154.4" font-size="4" fill="#c77ef2" font-weight="bold" text-anchor="middle" textLength="8.1" lengthAdjust="spacingAndGlyphs" stroke="#c77ef2" stroke-width="0.22">5.6X</text>
<text x="354.45" y="159" font-size="4" fill="#c77ef2" font-weight="bold" text-anchor="middle" textLength="6" lengthAdjust="spacingAndGlyphs" stroke="#c77ef2" stroke-width="0.22">327</text>
<text x="211.2" y="159" font-size="4" fill="#222" font-weight="bold" text-anchor="middle" textLength="7.6" lengthAdjust="spacingAndGlyphs" stroke="#222" stroke-width="0.2">5625</text>
<line x1="205.5" y1="151.42" x2="205.5" y2="246.3" stroke="#222" stroke-width="0.9" />
<line x1="205.5" y1="246.3" x2="359.5" y2="246.3" stroke="#222" stroke-width="0.9" />
<line x1="203.9" y1="246.3" x2="205.5" y2="246.3" stroke="#222" stroke-width="0.6" />
<text x="202.3" y="248.3" font-size="4.6" fill="#333" text-anchor="end" stroke="#333" stroke-width="0.15">10<tspan font-size="2.99" dy="-1.84">0</tspan></text>
<line x1="203.9" y1="234.44" x2="205.5" y2="234.44" stroke="#222" stroke-width="0.6" />
<text x="202.3" y="236.44" font-size="4.6" fill="#333" text-anchor="end" stroke="#333" stroke-width="0.15">10<tspan font-size="2.99" dy="-1.84">1</tspan></text>
<line x1="203.9" y1="222.58" x2="205.5" y2="222.58" stroke="#222" stroke-width="0.6" />
<text x="202.3" y="224.58" font-size="4.6" fill="#333" text-anchor="end" stroke="#333" stroke-width="0.15">10<tspan font-size="2.99" dy="-1.84">2</tspan></text>
<line x1="203.9" y1="210.72" x2="205.5" y2="210.72" stroke="#222" stroke-width="0.6" />
<text x="202.3" y="212.72" font-size="4.6" fill="#333" text-anchor="end" stroke="#333" stroke-width="0.15">10<tspan font-size="2.99" dy="-1.84">3</tspan></text>
<line x1="203.9" y1="198.86" x2="205.5" y2="198.86" stroke="#222" stroke-width="0.6" />
<text x="202.3" y="200.86" font-size="4.6" fill="#333" text-anchor="end" stroke="#333" stroke-width="0.15">10<tspan font-size="2.99" dy="-1.84">4</tspan></text>
<line x1="203.9" y1="187" x2="205.5" y2="187" stroke="#222" stroke-width="0.6" />
<text x="202.3" y="189" font-size="4.6" fill="#333" text-anchor="end" stroke="#333" stroke-width="0.15">10<tspan font-size="2.99" dy="-1.84">5</tspan></text>
<line x1="203.9" y1="175.14" x2="205.5" y2="175.14" stroke="#222" stroke-width="0.6" />
<text x="202.3" y="177.14" font-size="4.6" fill="#333" text-anchor="end" stroke="#333" stroke-width="0.15">10<tspan font-size="2.99" dy="-1.84">6</tspan></text>
<line x1="203.9" y1="163.28" x2="205.5" y2="163.28" stroke="#222" stroke-width="0.6" />
<text x="202.3" y="165.28" font-size="4.6" fill="#333" text-anchor="end" stroke="#333" stroke-width="0.15">10<tspan font-size="2.99" dy="-1.84">7</tspan></text>
<line x1="203.9" y1="151.42" x2="205.5" y2="151.42" stroke="#222" stroke-width="0.6" />
<text x="202.3" y="153.42" font-size="4.6" fill="#333" text-anchor="end" stroke="#333" stroke-width="0.15">10<tspan font-size="2.99" dy="-1.84">8</tspan></text>
<line x1="210.8" y1="246.3" x2="210.8" y2="248.1" stroke="#222" stroke-width="0.6" />
<line x1="219.25" y1="246.3" x2="219.25" y2="248.1" stroke="#222" stroke-width="0.6" />
<line x1="227.7" y1="246.3" x2="227.7" y2="248.1" stroke="#222" stroke-width="0.6" />
<line x1="236.15" y1="246.3" x2="236.15" y2="248.1" stroke="#222" stroke-width="0.6" />
<line x1="244.6" y1="246.3" x2="244.6" y2="248.1" stroke="#222" stroke-width="0.6" />
<line x1="253.05" y1="246.3" x2="253.05" y2="248.1" stroke="#222" stroke-width="0.6" />
<line x1="261.5" y1="246.3" x2="261.5" y2="248.1" stroke="#222" stroke-width="0.6" />
<line x1="269.95" y1="246.3" x2="269.95" y2="248.1" stroke="#222" stroke-width="0.6" />
<line x1="278.4" y1="246.3" x2="278.4" y2="248.1" stroke="#222" stroke-width="0.6" />
<line x1="286.85" y1="246.3" x2="286.85" y2="248.1" stroke="#222" stroke-width="0.6" />
<line x1="295.3" y1="246.3" x2="295.3" y2="248.1" stroke="#222" stroke-width="0.6" />
<line x1="303.75" y1="246.3" x2="303.75" y2="248.1" stroke="#222" stroke-width="0.6" />
<line x1="312.2" y1="246.3" x2="312.2" y2="248.1" stroke="#222" stroke-width="0.6" />
<line x1="320.65" y1="246.3" x2="320.65" y2="248.1" stroke="#222" stroke-width="0.6" />
<line x1="329.1" y1="246.3" x2="329.1" y2="248.1" stroke="#222" stroke-width="0.6" />
<line x1="337.55" y1="246.3" x2="337.55" y2="248.1" stroke="#222" stroke-width="0.6" />
<line x1="346" y1="246.3" x2="346" y2="248.1" stroke="#222" stroke-width="0.6" />
<line x1="354.45" y1="246.3" x2="354.45" y2="248.1" stroke="#222" stroke-width="0.6" />
<text transform="translate(193.8,193.76) rotate(-90)" font-size="6.4" font-weight="bold" fill="#111" stroke="#111" stroke-width="0.15" text-anchor="middle">Reciprocal serum ID<tspan font-size="4.2" dy="1.5">50</tspan></text>
<text transform="translate(212.5,253.3) rotate(-45)" font-size="4.4" font-weight="bold" fill="#1a1a1a" stroke="#1a1a1a" stroke-width="0.12" text-anchor="end">WT (D614G)</text>
<text transform="translate(220.95,253.3) rotate(-45)" font-size="4.4" font-weight="bold" fill="#1a1a1a" stroke="#1a1a1a" stroke-width="0.12" text-anchor="end">BA.2</text>
<text transform="translate(229.4,253.3) rotate(-45)" font-size="4.4" font-weight="bold" fill="#1a1a1a" stroke="#1a1a1a" stroke-width="0.12" text-anchor="end">BA.2.75</text>
<text transform="translate(237.85,253.3) rotate(-45)" font-size="4.4" font-weight="bold" fill="#1a1a1a" stroke="#1a1a1a" stroke-width="0.12" text-anchor="end">BA.2.75.2</text>
<text transform="translate(246.3,253.3) rotate(-45)" font-size="4.4" font-weight="bold" fill="#1a1a1a" stroke="#1a1a1a" stroke-width="0.12" text-anchor="end">BA.2.75.6</text>
<text transform="translate(254.75,253.3) rotate(-45)" font-size="4.4" font-weight="bold" fill="#1a1a1a" stroke="#1a1a1a" stroke-width="0.12" text-anchor="end">BN.1</text>
<text transform="translate(263.2,253.3) rotate(-45)" font-size="4.4" font-weight="bold" fill="#1a1a1a" stroke="#1a1a1a" stroke-width="0.12" text-anchor="end">CA.3.1</text>
<text transform="translate(271.65,253.3) rotate(-45)" font-size="4.4" font-weight="bold" fill="#1a1a1a" stroke="#1a1a1a" stroke-width="0.12" text-anchor="end">CH.1.1</text>
<text transform="translate(280.1,253.3) rotate(-45)" font-size="4.4" font-weight="bold" fill="#1a1a1a" stroke="#1a1a1a" stroke-width="0.12" text-anchor="end">XBB.1</text>
<text transform="translate(288.55,253.3) rotate(-45)" font-size="4.4" font-weight="bold" fill="#1a1a1a" stroke="#1a1a1a" stroke-width="0.12" text-anchor="end">XBB.1.5</text>
<text transform="translate(297,253.3) rotate(-45)" font-size="4.4" font-weight="bold" fill="#1a1a1a" stroke="#1a1a1a" stroke-width="0.12" text-anchor="end">BA.4/5</text>
<text transform="translate(305.45,253.3) rotate(-45)" font-size="4.4" font-weight="bold" fill="#1a1a1a" stroke="#1a1a1a" stroke-width="0.12" text-anchor="end">BA.5.2.7</text>
<text transform="translate(313.9,253.3) rotate(-45)" font-size="4.4" font-weight="bold" fill="#1a1a1a" stroke="#1a1a1a" stroke-width="0.12" text-anchor="end">BE.1.1.1</text>
<text transform="translate(322.35,253.3) rotate(-45)" font-size="4.4" font-weight="bold" fill="#1a1a1a" stroke="#1a1a1a" stroke-width="0.12" text-anchor="end">BF.7</text>
<text transform="translate(330.8,253.3) rotate(-45)" font-size="4.4" font-weight="bold" fill="#1a1a1a" stroke="#1a1a1a" stroke-width="0.12" text-anchor="end">BF.14</text>
<text transform="translate(339.25,253.3) rotate(-45)" font-size="4.4" font-weight="bold" fill="#1a1a1a" stroke="#1a1a1a" stroke-width="0.12" text-anchor="end">BF.16</text>
<text transform="translate(347.7,253.3) rotate(-45)" font-size="4.4" font-weight="bold" fill="#1a1a1a" stroke="#1a1a1a" stroke-width="0.12" text-anchor="end">BQ.1</text>
<text transform="translate(356.15,253.3) rotate(-45)" font-size="4.4" font-weight="bold" fill="#1a1a1a" stroke="#1a1a1a" stroke-width="0.12" text-anchor="end">BQ.1.1</text>
<line x1="205.5" y1="227.32" x2="359.5" y2="227.32" stroke="#999" stroke-width="0.55" stroke-dasharray="2.2,1.2"/>
<rect x="219.25" y="197.78" width="8.45" height="3.6" fill="none" stroke="#555" stroke-width="0.45"/>
<rect x="295.3" y="195.72" width="8.45" height="3.6" fill="none" stroke="#555" stroke-width="0.45"/>
<line x1="219.25" y1="165.3" x2="286.85" y2="165.3" stroke="#222" stroke-width="0.8" />
<text x="242.75" y="164.9" font-size="4.3" fill="#111" text-anchor="start" textLength="32" lengthAdjust="spacingAndGlyphs" stroke="#111" stroke-width="0.28">p=0.0039 (7.1X)</text>
<line x1="219.25" y1="170.34" x2="278.4" y2="170.34" stroke="#222" stroke-width="0.8" />
<text x="239.45" y="169.94" font-size="4.3" fill="#111" text-anchor="start" textLength="32" lengthAdjust="spacingAndGlyphs" stroke="#111" stroke-width="0.28">p=0.0039 (7.1X)</text>
<line x1="219.25" y1="175.38" x2="269.95" y2="175.38" stroke="#222" stroke-width="0.8" />
<text x="236.15" y="174.98" font-size="4.3" fill="#111" text-anchor="start" textLength="32" lengthAdjust="spacingAndGlyphs" stroke="#111" stroke-width="0.28">p=0.0039 (7.0X)</text>
<line x1="219.25" y1="180.42" x2="261.5" y2="180.42" stroke="#222" stroke-width="0.8" />
<text x="232.85" y="180.02" font-size="4.3" fill="#111" text-anchor="start" textLength="32" lengthAdjust="spacingAndGlyphs" stroke="#111" stroke-width="0.28">p=0.0039 (7.6X)</text>
<line x1="219.25" y1="185.46" x2="253.05" y2="185.46" stroke="#222" stroke-width="0.8" />
<text x="229.55" y="185.06" font-size="4.3" fill="#111" text-anchor="start" textLength="32" lengthAdjust="spacingAndGlyphs" stroke="#111" stroke-width="0.28">p=0.0039 (5.3X)</text>
<line x1="219.25" y1="190.5" x2="244.6" y2="190.5" stroke="#222" stroke-width="0.8" />
<text x="226.25" y="190.1" font-size="4.3" fill="#111" text-anchor="start" textLength="32" lengthAdjust="spacingAndGlyphs" stroke="#111" stroke-width="0.28">p=0.0391 (3.7X)</text>
<line x1="219.25" y1="195.54" x2="236.15" y2="195.54" stroke="#222" stroke-width="0.8" />
<text x="222.95" y="195.14" font-size="4.3" fill="#111" text-anchor="start" textLength="32" lengthAdjust="spacingAndGlyphs" stroke="#111" stroke-width="0.28">p=0.0039 (6.8X)</text>
<line x1="219.25" y1="200.58" x2="227.7" y2="200.58" stroke="#222" stroke-width="0.8" />
<text x="219.65" y="200.18" font-size="4.3" fill="#111" text-anchor="start" textLength="32" lengthAdjust="spacingAndGlyphs" stroke="#111" stroke-width="0.28">p=0.0547 (2.6X)</text>
<line x1="295.3" y1="169.9" x2="354.45" y2="169.9" stroke="#222" stroke-width="0.8" />
<text x="315.4" y="169.5" font-size="4.3" fill="#111" text-anchor="start" textLength="32" lengthAdjust="spacingAndGlyphs" stroke="#111" stroke-width="0.28">p=0.0391 (3.7X)</text>
<line x1="295.3" y1="174.67" x2="346" y2="174.67" stroke="#222" stroke-width="0.8" />
<text x="312.1" y="174.27" font-size="4.3" fill="#111" text-anchor="start" textLength="32" lengthAdjust="spacingAndGlyphs" stroke="#111" stroke-width="0.28">p=0.0547 (2.3X)</text>
<line x1="295.3" y1="179.44" x2="337.55" y2="179.44" stroke="#222" stroke-width="0.8" />
<text x="308.8" y="179.04" font-size="4.3" fill="#111" text-anchor="start" textLength="32" lengthAdjust="spacingAndGlyphs" stroke="#111" stroke-width="0.28">p=0.1289 (1.3X)</text>
<line x1="295.3" y1="184.21" x2="329.1" y2="184.21" stroke="#222" stroke-width="0.8" />
<text x="305.5" y="183.81" font-size="4.3" fill="#111" text-anchor="start" textLength="32" lengthAdjust="spacingAndGlyphs" stroke="#111" stroke-width="0.28">p=0.4961 (1.0X)</text>
<line x1="295.3" y1="188.98" x2="320.65" y2="188.98" stroke="#222" stroke-width="0.8" />
<text x="302.2" y="188.58" font-size="4.3" fill="#111" text-anchor="start" textLength="32" lengthAdjust="spacingAndGlyphs" stroke="#111" stroke-width="0.28">p=0.9102 (0.9X)</text>
<line x1="295.3" y1="193.75" x2="312.2" y2="193.75" stroke="#222" stroke-width="0.8" />
<text x="298.9" y="193.35" font-size="4.3" fill="#111" text-anchor="start" textLength="32" lengthAdjust="spacingAndGlyphs" stroke="#111" stroke-width="0.28">p=0.3742 (1.7X)</text>
<line x1="295.3" y1="198.52" x2="303.75" y2="198.52" stroke="#222" stroke-width="0.8" />
<text x="295.6" y="198.12" font-size="4.3" fill="#111" text-anchor="start" textLength="32" lengthAdjust="spacingAndGlyphs" stroke="#111" stroke-width="0.28">p=0.3500 (1.3X)</text>
<circle cx="208.95" cy="210.9" r="0.85" fill="#111111"/>
<circle cx="211.74" cy="209.99" r="0.8" fill="none" stroke="#111111" stroke-width="0.5"/>
<path d="M210.67 207.76l1.0 1.6h-2.0z" fill="#111111"/>
<rect x="212.37" y="206.89" width="1.5" height="1.5" fill="none" stroke="#111111" stroke-width="0.5"/>
<circle cx="208.68" cy="206.69" r="0.85" fill="#111111"/>
<circle cx="211.58" cy="205.26" r="0.8" fill="none" stroke="#111111" stroke-width="0.5"/>
<path d="M209.96 203.01l1.0 1.6h-2.0z" fill="#111111"/>
<rect x="212.02" y="202.56" width="1.5" height="1.5" fill="none" stroke="#111111" stroke-width="0.5"/>
<circle cx="208.94" cy="202.3" r="0.85" fill="#111111"/>
<circle cx="210.54" cy="200.88" r="0.8" fill="none" stroke="#111111" stroke-width="0.5"/>
<circle cx="217.28" cy="211.94" r="0.8" fill="none" stroke="#f26b6b" stroke-width="0.5"/>
<path d="M220.66 210.61l1.0 1.6h-2.0z" fill="#f26b6b"/>
<rect x="217.96" y="210.67" width="1.5" height="1.5" fill="none" stroke="#f26b6b" stroke-width="0.5"/>
<circle cx="221.56" cy="210.04" r="0.85" fill="#f26b6b"/>
<circle cx="216.66" cy="209.91" r="0.8" fill="none" stroke="#f26b6b" stroke-width="0.5"/>
<path d="M220.15 207.93l1.0 1.6h-2.0z" fill="#f26b6b"/>
<rect x="217.43" y="208.07" width="1.5" height="1.5" fill="none" stroke="#f26b6b" stroke-width="0.5"/>
<circle cx="220.94" cy="207.53" r="0.85" fill="#f26b6b"/>
<circle cx="217" cy="207.47" r="0.8" fill="none" stroke="#f26b6b" stroke-width="0.5"/>
<path d="M219.32 204.72l1.0 1.6h-2.0z" fill="#f26b6b"/>
<rect x="221.07" y="204.05" width="1.5" height="1.5" fill="none" stroke="#f26b6b" stroke-width="0.5"/>
<circle cx="218.33" cy="204.75" r="0.85" fill="#f26b6b"/>
<circle cx="217.23" cy="204.3" r="0.8" fill="none" stroke="#f26b6b" stroke-width="0.5"/>
<path d="M220.14 202.13l1.0 1.6h-2.0z" fill="#f26b6b"/>
<line x1="216.05" y1="208.47" x2="222.45" y2="208.47" stroke="#444" stroke-width="0.6" />
<path d="M225.86 216.19l1.0 1.6h-2.0z" fill="#36b3c9"/>
<rect x="227.91" y="216.5" width="1.5" height="1.5" fill="none" stroke="#36b3c9" stroke-width="0.5"/>
<circle cx="227.29" cy="216.52" r="0.85" fill="#36b3c9"/>
<circle cx="230.49" cy="216.4" r="0.8" fill="none" stroke="#36b3c9" stroke-width="0.5"/>
<path d="M224.74 214.62l1.0 1.6h-2.0z" fill="#36b3c9"/>
<rect x="227.67" y="214.74" width="1.5" height="1.5" fill="none" stroke="#36b3c9" stroke-width="0.5"/>
<circle cx="226.12" cy="213.41" r="0.85" fill="#36b3c9"/>
<circle cx="229.79" cy="212.91" r="0.8" fill="none" stroke="#36b3c9" stroke-width="0.5"/>
<path d="M225.29 211.77l1.0 1.6h-2.0z" fill="#36b3c9"/>
<rect x="227.13" y="211.95" width="1.5" height="1.5" fill="none" stroke="#36b3c9" stroke-width="0.5"/>
<circle cx="230.32" cy="212.69" r="0.85" fill="#36b3c9"/>
<circle cx="227.16" cy="207.16" r="0.8" fill="none" stroke="#36b3c9" stroke-width="0.5"/>
<line x1="224.5" y1="214.04" x2="230.9" y2="214.04" stroke="#444" stroke-width="0.6" />
<rect x="233.59" y="222.88" width="1.5" height="1.5" fill="none" stroke="#b03845" stroke-width="0.5"/>
<circle cx="237.45" cy="222.01" r="0.85" fill="#b03845"/>
<circle cx="236.12" cy="220.97" r="0.8" fill="none" stroke="#b03845" stroke-width="0.5"/>
<path d="M238.95 218.75l1.0 1.6h-2.0z" fill="#b03845"/>
<rect x="232.48" y="217.4" width="1.5" height="1.5" fill="none" stroke="#b03845" stroke-width="0.5"/>
<circle cx="236.61" cy="217.85" r="0.85" fill="#b03845"/>
<circle cx="234.82" cy="216.43" r="0.8" fill="none" stroke="#b03845" stroke-width="0.5"/>
<path d="M237.67 214.35l1.0 1.6h-2.0z" fill="#b03845"/>
<rect x="232.93" y="213.85" width="1.5" height="1.5" fill="none" stroke="#b03845" stroke-width="0.5"/>
<circle cx="235.85" cy="213.3" r="0.85" fill="#b03845"/>
<circle cx="238.86" cy="211.94" r="0.8" fill="none" stroke="#b03845" stroke-width="0.5"/>
<path d="M235.3 211.1l1.0 1.6h-2.0z" fill="#b03845"/>
<line x1="232.95" y1="216.29" x2="239.35" y2="216.29" stroke="#444" stroke-width="0.6" />
<circle cx="242.48" cy="222.78" r="0.85" fill="#1f8a45"/>
<circle cx="245.63" cy="222.08" r="0.8" fill="none" stroke="#1f8a45" stroke-width="0.5"/>
<path d="M244.67 221.21l1.0 1.6h-2.0z" fill="#1f8a45"/>
<rect x="246.19" y="219.49" width="1.5" height="1.5" fill="none" stroke="#1f8a45" stroke-width="0.5"/>
<circle cx="242.18" cy="216.74" r="0.85" fill="#1f8a45"/>
<circle cx="245.32" cy="214.31" r="0.8" fill="none" stroke="#1f8a45" stroke-width="0.5"/>
<path d="M243.09 212.59l1.0 1.6h-2.0z" fill="#1f8a45"/>
<rect x="245.88" y="210.45" width="1.5" height="1.5" fill="none" stroke="#1f8a45" stroke-width="0.5"/>
<circle cx="242.64" cy="207.04" r="0.85" fill="#1f8a45"/>
<circle cx="245.07" cy="202.89" r="0.8" fill="none" stroke="#1f8a45" stroke-width="0.5"/>
<path d="M247.16 201.52l1.0 1.6h-2.0z" fill="#1f8a45"/>
<rect x="243.01" y="200.22" width="1.5" height="1.5" fill="none" stroke="#1f8a45" stroke-width="0.5"/>
<line x1="241.4" y1="212.62" x2="247.8" y2="212.62" stroke="#444" stroke-width="0.6" />
<circle cx="251.18" cy="223.72" r="0.8" fill="none" stroke="#f07f24" stroke-width="0.5"/>
<path d="M254.57 221.95l1.0 1.6h-2.0z" fill="#f07f24"/>
<rect x="252.19" y="221.82" width="1.5" height="1.5" fill="none" stroke="#f07f24" stroke-width="0.5"/>
<circle cx="255.58" cy="222.24" r="0.85" fill="#f07f24"/>
<circle cx="250.05" cy="221.07" r="0.8" fill="none" stroke="#f07f24" stroke-width="0.5"/>
<path d="M253.42 219.13l1.0 1.6h-2.0z" fill="#f07f24"/>
<rect x="250.73" y="218.1" width="1.5" height="1.5" fill="none" stroke="#f07f24" stroke-width="0.5"/>
<circle cx="254.87" cy="216.1" r="0.85" fill="#f07f24"/>
<circle cx="250.51" cy="215.65" r="0.8" fill="none" stroke="#f07f24" stroke-width="0.5"/>
<path d="M253.5 214.11l1.0 1.6h-2.0z" fill="#f07f24"/>
<rect x="255.08" y="214.14" width="1.5" height="1.5" fill="none" stroke="#f07f24" stroke-width="0.5"/>
<circle cx="252.1" cy="214.05" r="0.85" fill="#f07f24"/>
<line x1="249.85" y1="217.6" x2="256.25" y2="217.6" stroke="#444" stroke-width="0.6" />
<path d="M259.88 222.7l1.0 1.6h-2.0z" fill="#c9cc2a"/>
<rect x="261.61" y="220.78" width="1.5" height="1.5" fill="none" stroke="#c9cc2a" stroke-width="0.5"/>
<circle cx="260.94" cy="221.21" r="0.85" fill="#c9cc2a"/>
<circle cx="263.5" cy="220.73" r="0.8" fill="none" stroke="#c9cc2a" stroke-width="0.5"/>
<path d="M258.61 218.52l1.0 1.6h-2.0z" fill="#c9cc2a"/>
<rect x="261.74" y="217.63" width="1.5" height="1.5" fill="none" stroke="#c9cc2a" stroke-width="0.5"/>
<circle cx="259.99" cy="218.6" r="0.85" fill="#c9cc2a"/>
<circle cx="263.78" cy="217.31" r="0.8" fill="none" stroke="#c9cc2a" stroke-width="0.5"/>
<path d="M259.17 216.49l1.0 1.6h-2.0z" fill="#c9cc2a"/>
<rect x="260.71" y="216.41" width="1.5" height="1.5" fill="none" stroke="#c9cc2a" stroke-width="0.5"/>
<circle cx="264.38" cy="216.27" r="0.85" fill="#c9cc2a"/>
<circle cx="260.24" cy="215.61" r="0.8" fill="none" stroke="#c9cc2a" stroke-width="0.5"/>
<line x1="258.3" y1="218.31" x2="264.7" y2="218.31" stroke="#444" stroke-width="0.6" />
<rect x="267.64" y="224.83" width="1.5" height="1.5" fill="none" stroke="#d1873a" stroke-width="0.5"/>
<circle cx="270.93" cy="224.51" r="0.85" fill="#d1873a"/>
<circle cx="269.78" cy="224.27" r="0.8" fill="none" stroke="#d1873a" stroke-width="0.5"/>
<path d="M272.06 220.65l1.0 1.6h-2.0z" fill="#d1873a"/>
<rect x="266.57" y="219.73" width="1.5" height="1.5" fill="none" stroke="#d1873a" stroke-width="0.5"/>
<circle cx="270.66" cy="220.17" r="0.85" fill="#d1873a"/>
<circle cx="268.56" cy="219.21" r="0.8" fill="none" stroke="#d1873a" stroke-width="0.5"/>
<path d="M271.88 218.1l1.0 1.6h-2.0z" fill="#d1873a"/>
<rect x="266.62" y="217.42" width="1.5" height="1.5" fill="none" stroke="#d1873a" stroke-width="0.5"/>
<circle cx="269.83" cy="217.63" r="0.85" fill="#d1873a"/>
<circle cx="272.96" cy="217.38" r="0.8" fill="none" stroke="#d1873a" stroke-width="0.5"/>
<path d="M269.14 215.87l1.0 1.6h-2.0z" fill="#d1873a"/>
<line x1="266.75" y1="218.31" x2="273.15" y2="218.31" stroke="#444" stroke-width="0.6" />
<circle cx="276.3" cy="227.17" r="0.85" fill="#e8263b"/>
<circle cx="279.62" cy="225.55" r="0.8" fill="none" stroke="#e8263b" stroke-width="0.5"/>
<path d="M278.27 223.95l1.0 1.6h-2.0z" fill="#e8263b"/>
<rect x="280.27" y="223.55" width="1.5" height="1.5" fill="none" stroke="#e8263b" stroke-width="0.5"/>
<circle cx="275.36" cy="223.11" r="0.85" fill="#e8263b"/>
<circle cx="278.99" cy="221.18" r="0.8" fill="none" stroke="#e8263b" stroke-width="0.5"/>
<path d="M277.33 219.63l1.0 1.6h-2.0z" fill="#e8263b"/>
<rect x="279.4" y="217.84" width="1.5" height="1.5" fill="none" stroke="#e8263b" stroke-width="0.5"/>
<circle cx="276.37" cy="216.99" r="0.85" fill="#e8263b"/>
<circle cx="278.4" cy="215.96" r="0.8" fill="none" stroke="#e8263b" stroke-width="0.5"/>
<path d="M281.64 214.67l1.0 1.6h-2.0z" fill="#e8263b"/>
<rect x="276.84" y="213.35" width="1.5" height="1.5" fill="none" stroke="#e8263b" stroke-width="0.5"/>
<line x1="275.2" y1="216.89" x2="281.6" y2="216.89" stroke="#444" stroke-width="0.6" />
<circle cx="284.78" cy="223.53" r="0.8" fill="none" stroke="#8d35b5" stroke-width="0.5"/>
<path d="M288.32 222.11l1.0 1.6h-2.0z" fill="#8d35b5"/>
<rect x="285.54" y="220.41" width="1.5" height="1.5" fill="none" stroke="#8d35b5" stroke-width="0.5"/>
<circle cx="289.19" cy="220.77" r="0.85" fill="#8d35b5"/>
<circle cx="283.85" cy="219.9" r="0.8" fill="none" stroke="#8d35b5" stroke-width="0.5"/>
<path d="M287.83 218.24l1.0 1.6h-2.0z" fill="#8d35b5"/>
<rect x="284.71" y="218.64" width="1.5" height="1.5" fill="none" stroke="#8d35b5" stroke-width="0.5"/>
<circle cx="289.06" cy="218.56" r="0.85" fill="#8d35b5"/>
<circle cx="284.63" cy="217.8" r="0.8" fill="none" stroke="#8d35b5" stroke-width="0.5"/>
<path d="M287.03 215.46l1.0 1.6h-2.0z" fill="#8d35b5"/>
<rect x="288.97" y="214.97" width="1.5" height="1.5" fill="none" stroke="#8d35b5" stroke-width="0.5"/>
<circle cx="286.14" cy="214.25" r="0.85" fill="#8d35b5"/>
<line x1="283.65" y1="216.89" x2="290.05" y2="216.89" stroke="#444" stroke-width="0.6" />
<path d="M293.86 215.56l1.0 1.6h-2.0z" fill="#b0a060"/>
<rect x="296.03" y="214.94" width="1.5" height="1.5" fill="none" stroke="#b0a060" stroke-width="0.5"/>
<circle cx="294.81" cy="214.37" r="0.85" fill="#b0a060"/>
<circle cx="297.6" cy="211.87" r="0.8" fill="none" stroke="#b0a060" stroke-width="0.5"/>
<path d="M292.5 210.73l1.0 1.6h-2.0z" fill="#b0a060"/>
<rect x="294.93" y="208.7" width="1.5" height="1.5" fill="none" stroke="#b0a060" stroke-width="0.5"/>
<circle cx="294.03" cy="207.25" r="0.85" fill="#b0a060"/>
<circle cx="297.51" cy="206.98" r="0.8" fill="none" stroke="#b0a060" stroke-width="0.5"/>
<path d="M292.9 205.25l1.0 1.6h-2.0z" fill="#b0a060"/>
<rect x="294.89" y="205.41" width="1.5" height="1.5" fill="none" stroke="#b0a060" stroke-width="0.5"/>
<circle cx="298.38" cy="206" r="0.85" fill="#b0a060"/>
<circle cx="294.65" cy="203.5" r="0.8" fill="none" stroke="#b0a060" stroke-width="0.5"/>
<line x1="292.1" y1="208.47" x2="298.5" y2="208.47" stroke="#444" stroke-width="0.6" />
<rect x="300.97" y="219.26" width="1.5" height="1.5" fill="none" stroke="#4b5be6" stroke-width="0.5"/>
<circle cx="304.75" cy="219.86" r="0.85" fill="#4b5be6"/>
<circle cx="303.31" cy="219.7" r="0.8" fill="none" stroke="#4b5be6" stroke-width="0.5"/>
<path d="M306.39 216.69l1.0 1.6h-2.0z" fill="#4b5be6"/>
<rect x="299.96" y="215.09" width="1.5" height="1.5" fill="none" stroke="#4b5be6" stroke-width="0.5"/>
<circle cx="304.54" cy="215.36" r="0.85" fill="#4b5be6"/>
<circle cx="302.52" cy="212.01" r="0.8" fill="none" stroke="#4b5be6" stroke-width="0.5"/>
<path d="M305.89 210.62l1.0 1.6h-2.0z" fill="#4b5be6"/>
<rect x="300.65" y="210.36" width="1.5" height="1.5" fill="none" stroke="#4b5be6" stroke-width="0.5"/>
<circle cx="304.17" cy="209.99" r="0.85" fill="#4b5be6"/>
<circle cx="306.97" cy="209.88" r="0.8" fill="none" stroke="#4b5be6" stroke-width="0.5"/>
<path d="M302.7 208.89l1.0 1.6h-2.0z" fill="#4b5be6"/>
<line x1="300.55" y1="209.89" x2="306.95" y2="209.89" stroke="#444" stroke-width="0.6" />
<circle cx="310.63" cy="224.76" r="0.85" fill="#f0409a"/>
<circle cx="313.18" cy="221.21" r="0.8" fill="none" stroke="#f0409a" stroke-width="0.5"/>
<path d="M312.14 218.48l1.0 1.6h-2.0z" fill="#f0409a"/>
<rect x="314.16" y="218.35" width="1.5" height="1.5" fill="none" stroke="#f0409a" stroke-width="0.5"/>
<circle cx="309.45" cy="217.15" r="0.85" fill="#f0409a"/>
<circle cx="312.97" cy="215.29" r="0.8" fill="none" stroke="#f0409a" stroke-width="0.5"/>
<path d="M310.76 211.63l1.0 1.6h-2.0z" fill="#f0409a"/>
<rect x="313.21" y="211.85" width="1.5" height="1.5" fill="none" stroke="#f0409a" stroke-width="0.5"/>
<circle cx="309.75" cy="211.15" r="0.85" fill="#f0409a"/>
<circle cx="312.3" cy="210.72" r="0.8" fill="none" stroke="#f0409a" stroke-width="0.5"/>
<path d="M314.81 208.72l1.0 1.6h-2.0z" fill="#f0409a"/>
<rect x="310.95" y="208.1" width="1.5" height="1.5" fill="none" stroke="#f0409a" stroke-width="0.5"/>
<line x1="309" y1="211.91" x2="315.4" y2="211.91" stroke="#444" stroke-width="0.6" />
<circle cx="318.79" cy="215.25" r="0.8" fill="none" stroke="#283593" stroke-width="0.5"/>
<path d="M321.82 211.73l1.0 1.6h-2.0z" fill="#283593"/>
<rect x="319.2" y="211.72" width="1.5" height="1.5" fill="none" stroke="#283593" stroke-width="0.5"/>
<circle cx="323.22" cy="212.26" r="0.85" fill="#283593"/>
<circle cx="317.74" cy="209.65" r="0.8" fill="none" stroke="#283593" stroke-width="0.5"/>
<path d="M321.26 208.65l1.0 1.6h-2.0z" fill="#283593"/>
<rect x="318.78" y="207.83" width="1.5" height="1.5" fill="none" stroke="#283593" stroke-width="0.5"/>
<circle cx="322.31" cy="208.01" r="0.85" fill="#283593"/>
<circle cx="318.63" cy="207.25" r="0.8" fill="none" stroke="#283593" stroke-width="0.5"/>
<path d="M320.92 206.07l1.0 1.6h-2.0z" fill="#283593"/>
<rect x="322.62" y="206.08" width="1.5" height="1.5" fill="none" stroke="#283593" stroke-width="0.5"/>
<circle cx="320.09" cy="206.44" r="0.85" fill="#283593"/>
<line x1="317.45" y1="209.18" x2="323.85" y2="209.18" stroke="#444" stroke-width="0.6" />
<path d="M327.05 216.38l1.0 1.6h-2.0z" fill="#8e3d85"/>
<rect x="329.5" y="215.05" width="1.5" height="1.5" fill="none" stroke="#8e3d85" stroke-width="0.5"/>
<circle cx="328.79" cy="215.71" r="0.85" fill="#8e3d85"/>
<circle cx="331.48" cy="215.13" r="0.8" fill="none" stroke="#8e3d85" stroke-width="0.5"/>
<path d="M326.47 211.48l1.0 1.6h-2.0z" fill="#8e3d85"/>
<rect x="328.69" y="211.16" width="1.5" height="1.5" fill="none" stroke="#8e3d85" stroke-width="0.5"/>
<circle cx="328.06" cy="212.06" r="0.85" fill="#8e3d85"/>
<circle cx="330.92" cy="211.19" r="0.8" fill="none" stroke="#8e3d85" stroke-width="0.5"/>
<path d="M326.84 209.78l1.0 1.6h-2.0z" fill="#8e3d85"/>
<rect x="328.6" y="208.21" width="1.5" height="1.5" fill="none" stroke="#8e3d85" stroke-width="0.5"/>
<circle cx="331.72" cy="207.73" r="0.85" fill="#8e3d85"/>
<circle cx="328.26" cy="204.52" r="0.8" fill="none" stroke="#8e3d85" stroke-width="0.5"/>
<line x1="325.9" y1="209.18" x2="332.3" y2="209.18" stroke="#444" stroke-width="0.6" />
<rect x="335.32" y="213.88" width="1.5" height="1.5" fill="none" stroke="#a88a4a" stroke-width="0.5"/>
<circle cx="338.37" cy="212.92" r="0.85" fill="#a88a4a"/>
<circle cx="337.23" cy="212.43" r="0.8" fill="none" stroke="#a88a4a" stroke-width="0.5"/>
<path d="M339.84 211.33l1.0 1.6h-2.0z" fill="#a88a4a"/>
<rect x="333.98" y="210.6" width="1.5" height="1.5" fill="none" stroke="#a88a4a" stroke-width="0.5"/>
<circle cx="338.49" cy="210.29" r="0.85" fill="#a88a4a"/>
<circle cx="336.33" cy="210.09" r="0.8" fill="none" stroke="#a88a4a" stroke-width="0.5"/>
<path d="M339.36 209.18l1.0 1.6h-2.0z" fill="#a88a4a"/>
<rect x="334.83" y="209" width="1.5" height="1.5" fill="none" stroke="#a88a4a" stroke-width="0.5"/>
<circle cx="337.55" cy="209.47" r="0.85" fill="#a88a4a"/>
<circle cx="340.34" cy="208.49" r="0.8" fill="none" stroke="#a88a4a" stroke-width="0.5"/>
<path d="M336.68 206.58l1.0 1.6h-2.0z" fill="#a88a4a"/>
<line x1="334.35" y1="210.36" x2="340.75" y2="210.36" stroke="#444" stroke-width="0.6" />
<circle cx="344.11" cy="217.15" r="0.85" fill="#2a3fd0"/>
<circle cx="347.5" cy="217.41" r="0.8" fill="none" stroke="#2a3fd0" stroke-width="0.5"/>
<path d="M345.78 216.11l1.0 1.6h-2.0z" fill="#2a3fd0"/>
<rect x="347.28" y="215.49" width="1.5" height="1.5" fill="none" stroke="#2a3fd0" stroke-width="0.5"/>
<circle cx="343" cy="211.89" r="0.85" fill="#2a3fd0"/>
<circle cx="346.77" cy="211.11" r="0.8" fill="none" stroke="#2a3fd0" stroke-width="0.5"/>
<path d="M344.49 209.57l1.0 1.6h-2.0z" fill="#2a3fd0"/>
<rect x="346.89" y="209.05" width="1.5" height="1.5" fill="none" stroke="#2a3fd0" stroke-width="0.5"/>
<circle cx="343.94" cy="209.79" r="0.85" fill="#2a3fd0"/>
<circle cx="345.99" cy="209.6" r="0.8" fill="none" stroke="#2a3fd0" stroke-width="0.5"/>
<path d="M348.85 208.31l1.0 1.6h-2.0z" fill="#2a3fd0"/>
<rect x="344.15" y="207.25" width="1.5" height="1.5" fill="none" stroke="#2a3fd0" stroke-width="0.5"/>
<line x1="342.8" y1="214.04" x2="349.2" y2="214.04" stroke="#444" stroke-width="0.6" />
<circle cx="352.36" cy="227.4" r="0.8" fill="none" stroke="#c77ef2" stroke-width="0.5"/>
<path d="M355.56 226.58l1.0 1.6h-2.0z" fill="#c77ef2"/>
<rect x="353" y="222.6" width="1.5" height="1.5" fill="none" stroke="#c77ef2" stroke-width="0.5"/>
<circle cx="357.08" cy="221.97" r="0.85" fill="#c77ef2"/>
<circle cx="351.35" cy="219.05" r="0.8" fill="none" stroke="#c77ef2" stroke-width="0.5"/>
<path d="M354.98 217.72l1.0 1.6h-2.0z" fill="#c77ef2"/>
<rect x="352.56" y="216.54" width="1.5" height="1.5" fill="none" stroke="#c77ef2" stroke-width="0.5"/>
<circle cx="356.28" cy="216.9" r="0.85" fill="#c77ef2"/>
<circle cx="352.61" cy="214.44" r="0.8" fill="none" stroke="#c77ef2" stroke-width="0.5"/>
<path d="M354.64 212.27l1.0 1.6h-2.0z" fill="#c77ef2"/>
<rect x="356.5" y="212.22" width="1.5" height="1.5" fill="none" stroke="#c77ef2" stroke-width="0.5"/>
<circle cx="353.87" cy="209.41" r="0.85" fill="#c77ef2"/>
<line x1="351.25" y1="216.06" x2="357.65" y2="216.06" stroke="#444" stroke-width="0.6" />
<text x="437.2" y="147.9" font-size="5.42" fill="#111" font-weight="bold" text-anchor="middle" stroke="#111" stroke-width="0.12">3 × Vac + BA.5 breakthrough (14d)</text>
<text x="376.96" y="154.4" font-size="4" fill="#f26b6b" font-weight="bold" text-anchor="middle" textLength="8.1" lengthAdjust="spacingAndGlyphs" stroke="#f26b6b" stroke-width="0.22">2.4X</text>
<text x="376.96" y="159" font-size="4" fill="#f26b6b" font-weight="bold" text-anchor="middle" textLength="8" lengthAdjust="spacingAndGlyphs" stroke="#f26b6b" stroke-width="0.22">1049</text>
<text x="385.42" y="154.4" font-size="4" fill="#36b3c9" font-weight="bold" text-anchor="middle" textLength="8.1" lengthAdjust="spacingAndGlyphs" stroke="#36b3c9" stroke-width="0.22">6.1X</text>
<text x="385.42" y="159" font-size="4" fill="#36b3c9" font-weight="bold" text-anchor="middle" textLength="6" lengthAdjust="spacingAndGlyphs" stroke="#36b3c9" stroke-width="0.22">416</text>
<text x="393.88" y="154.4" font-size="4" fill="#b03845" font-weight="bold" text-anchor="middle" textLength="8.1" lengthAdjust="spacingAndGlyphs" stroke="#b03845" stroke-width="0.22">8.2X</text>
<text x="393.88" y="159" font-size="4" fill="#b03845" font-weight="bold" text-anchor="middle" textLength="6" lengthAdjust="spacingAndGlyphs" stroke="#b03845" stroke-width="0.22">310</text>
<text x="402.34" y="154.4" font-size="4" fill="#1f8a45" font-weight="bold" text-anchor="middle" textLength="8.1" lengthAdjust="spacingAndGlyphs" stroke="#1f8a45" stroke-width="0.22">6.1X</text>
<text x="402.34" y="159" font-size="4" fill="#1f8a45" font-weight="bold" text-anchor="middle" textLength="6" lengthAdjust="spacingAndGlyphs" stroke="#1f8a45" stroke-width="0.22">417</text>
<text x="410.8" y="154.4" font-size="4" fill="#f07f24" font-weight="bold" text-anchor="middle" textLength="8.1" lengthAdjust="spacingAndGlyphs" stroke="#f07f24" stroke-width="0.22">6.2X</text>
<text x="410.8" y="159" font-size="4" fill="#f07f24" font-weight="bold" text-anchor="middle" textLength="6" lengthAdjust="spacingAndGlyphs" stroke="#f07f24" stroke-width="0.22">410</text>
<text x="419.26" y="154.4" font-size="4" fill="#c9cc2a" font-weight="bold" text-anchor="middle" textLength="6.15" lengthAdjust="spacingAndGlyphs" stroke="#c9cc2a" stroke-width="0.22">10X</text>
<text x="419.26" y="159" font-size="4" fill="#c9cc2a" font-weight="bold" text-anchor="middle" textLength="6" lengthAdjust="spacingAndGlyphs" stroke="#c9cc2a" stroke-width="0.22">255</text>
<text x="427.72" y="154.4" font-size="4" fill="#d1873a" font-weight="bold" text-anchor="middle" textLength="8.1" lengthAdjust="spacingAndGlyphs" stroke="#d1873a" stroke-width="0.22">9.6X</text>
<text x="427.72" y="159" font-size="4" fill="#d1873a" font-weight="bold" text-anchor="middle" textLength="6" lengthAdjust="spacingAndGlyphs" stroke="#d1873a" stroke-width="0.22">264</text>
<text x="436.18" y="154.4" font-size="4" fill="#e8263b" font-weight="bold" text-anchor="middle" textLength="6.15" lengthAdjust="spacingAndGlyphs" stroke="#e8263b" stroke-width="0.22">14X</text>
<text x="436.18" y="159" font-size="4" fill="#e8263b" font-weight="bold" text-anchor="middle" textLength="6" lengthAdjust="spacingAndGlyphs" stroke="#e8263b" stroke-width="0.22">186</text>
<text x="444.64" y="154.4" font-size="4" fill="#8d35b5" font-weight="bold" text-anchor="middle" textLength="6.15" lengthAdjust="spacingAndGlyphs" stroke="#8d35b5" stroke-width="0.22">15X</text>
<text x="444.64" y="159" font-size="4" fill="#8d35b5" font-weight="bold" text-anchor="middle" textLength="6" lengthAdjust="spacingAndGlyphs" stroke="#8d35b5" stroke-width="0.22">165</text>
<text x="453.1" y="154.4" font-size="4" fill="#b0a060" font-weight="bold" text-anchor="middle" textLength="8.1" lengthAdjust="spacingAndGlyphs" stroke="#b0a060" stroke-width="0.22">2.1X</text>
<text x="453.1" y="159" font-size="4" fill="#b0a060" font-weight="bold" text-anchor="middle" textLength="8" lengthAdjust="spacingAndGlyphs" stroke="#b0a060" stroke-width="0.22">1212</text>
<text x="461.56" y="154.4" font-size="4" fill="#4b5be6" font-weight="bold" text-anchor="middle" textLength="8.1" lengthAdjust="spacingAndGlyphs" stroke="#4b5be6" stroke-width="0.22">3.4X</text>
<text x="461.56" y="159" font-size="4" fill="#4b5be6" font-weight="bold" text-anchor="middle" textLength="6" lengthAdjust="spacingAndGlyphs" stroke="#4b5be6" stroke-width="0.22">757</text>
<text x="470.02" y="154.4" font-size="4" fill="#f0409a" font-weight="bold" text-anchor="middle" textLength="8.1" lengthAdjust="spacingAndGlyphs" stroke="#f0409a" stroke-width="0.22">1.4X</text>
<text x="470.02" y="159" font-size="4" fill="#f0409a" font-weight="bold" text-anchor="middle" textLength="6" lengthAdjust="spacingAndGlyphs" stroke="#f0409a" stroke-width="0.22">737</text>
<text x="478.48" y="154.4" font-size="4" fill="#283593" font-weight="bold" text-anchor="middle" textLength="8.1" lengthAdjust="spacingAndGlyphs" stroke="#283593" stroke-width="0.22">2.5X</text>
<text x="478.48" y="159" font-size="4" fill="#283593" font-weight="bold" text-anchor="middle" textLength="8" lengthAdjust="spacingAndGlyphs" stroke="#283593" stroke-width="0.22">1001</text>
<text x="486.94" y="154.4" font-size="4" fill="#8e3d85" font-weight="bold" text-anchor="middle" textLength="8.1" lengthAdjust="spacingAndGlyphs" stroke="#8e3d85" stroke-width="0.22">2.5X</text>
<text x="486.94" y="159" font-size="4" fill="#8e3d85" font-weight="bold" text-anchor="middle" textLength="8" lengthAdjust="spacingAndGlyphs" stroke="#8e3d85" stroke-width="0.22">1052</text>
<text x="495.4" y="154.4" font-size="4" fill="#a88a4a" font-weight="bold" text-anchor="middle" textLength="8.1" lengthAdjust="spacingAndGlyphs" stroke="#a88a4a" stroke-width="0.22">2.6X</text>
<text x="495.4" y="159" font-size="4" fill="#a88a4a" font-weight="bold" text-anchor="middle" textLength="6" lengthAdjust="spacingAndGlyphs" stroke="#a88a4a" stroke-width="0.22">901</text>
<text x="503.86" y="154.4" font-size="4" fill="#2a3fd0" font-weight="bold" text-anchor="middle" textLength="8.1" lengthAdjust="spacingAndGlyphs" stroke="#2a3fd0" stroke-width="0.22">3.9X</text>
<text x="503.86" y="159" font-size="4" fill="#2a3fd0" font-weight="bold" text-anchor="middle" textLength="6" lengthAdjust="spacingAndGlyphs" stroke="#2a3fd0" stroke-width="0.22">686</text>
<text x="512.32" y="154.4" font-size="4" fill="#c77ef2" font-weight="bold" text-anchor="middle" textLength="8.1" lengthAdjust="spacingAndGlyphs" stroke="#c77ef2" stroke-width="0.22">4.6X</text>
<text x="512.32" y="159" font-size="4" fill="#c77ef2" font-weight="bold" text-anchor="middle" textLength="6" lengthAdjust="spacingAndGlyphs" stroke="#c77ef2" stroke-width="0.22">549</text>
<text x="368.9" y="159" font-size="4" fill="#222" font-weight="bold" text-anchor="middle" textLength="7.6" lengthAdjust="spacingAndGlyphs" stroke="#222" stroke-width="0.2">2637</text>
<line x1="363.3" y1="151.42" x2="363.3" y2="246.3" stroke="#444" stroke-width="0.9" />
<line x1="363.3" y1="246.3" x2="517.5" y2="246.3" stroke="#444" stroke-width="0.9" />
<line x1="361.7" y1="246.3" x2="363.3" y2="246.3" stroke="#222" stroke-width="0.6" />
<line x1="361.7" y1="234.44" x2="363.3" y2="234.44" stroke="#222" stroke-width="0.6" />
<line x1="361.7" y1="222.58" x2="363.3" y2="222.58" stroke="#222" stroke-width="0.6" />
<line x1="361.7" y1="210.72" x2="363.3" y2="210.72" stroke="#222" stroke-width="0.6" />
<line x1="361.7" y1="198.86" x2="363.3" y2="198.86" stroke="#222" stroke-width="0.6" />
<line x1="361.7" y1="187" x2="363.3" y2="187" stroke="#222" stroke-width="0.6" />
<line x1="361.7" y1="175.14" x2="363.3" y2="175.14" stroke="#222" stroke-width="0.6" />
<line x1="361.7" y1="163.28" x2="363.3" y2="163.28" stroke="#222" stroke-width="0.6" />
<line x1="361.7" y1="151.42" x2="363.3" y2="151.42" stroke="#222" stroke-width="0.6" />
<line x1="368.5" y1="246.3" x2="368.5" y2="248.1" stroke="#222" stroke-width="0.6" />
<line x1="376.96" y1="246.3" x2="376.96" y2="248.1" stroke="#222" stroke-width="0.6" />
<line x1="385.42" y1="246.3" x2="385.42" y2="248.1" stroke="#222" stroke-width="0.6" />
<line x1="393.88" y1="246.3" x2="393.88" y2="248.1" stroke="#222" stroke-width="0.6" />
<line x1="402.34" y1="246.3" x2="402.34" y2="248.1" stroke="#222" stroke-width="0.6" />
<line x1="410.8" y1="246.3" x2="410.8" y2="248.1" stroke="#222" stroke-width="0.6" />
<line x1="419.26" y1="246.3" x2="419.26" y2="248.1" stroke="#222" stroke-width="0.6" />
<line x1="427.72" y1="246.3" x2="427.72" y2="248.1" stroke="#222" stroke-width="0.6" />
<line x1="436.18" y1="246.3" x2="436.18" y2="248.1" stroke="#222" stroke-width="0.6" />
<line x1="444.64" y1="246.3" x2="444.64" y2="248.1" stroke="#222" stroke-width="0.6" />
<line x1="453.1" y1="246.3" x2="453.1" y2="248.1" stroke="#222" stroke-width="0.6" />
<line x1="461.56" y1="246.3" x2="461.56" y2="248.1" stroke="#222" stroke-width="0.6" />
<line x1="470.02" y1="246.3" x2="470.02" y2="248.1" stroke="#222" stroke-width="0.6" />
<line x1="478.48" y1="246.3" x2="478.48" y2="248.1" stroke="#222" stroke-width="0.6" />
<line x1="486.94" y1="246.3" x2="486.94" y2="248.1" stroke="#222" stroke-width="0.6" />
<line x1="495.4" y1="246.3" x2="495.4" y2="248.1" stroke="#222" stroke-width="0.6" />
<line x1="503.86" y1="246.3" x2="503.86" y2="248.1" stroke="#222" stroke-width="0.6" />
<line x1="512.32" y1="246.3" x2="512.32" y2="248.1" stroke="#222" stroke-width="0.6" />
<text transform="translate(370.2,253.3) rotate(-45)" font-size="4.4" font-weight="bold" fill="#1a1a1a" stroke="#1a1a1a" stroke-width="0.12" text-anchor="end">WT (D614G)</text>
<text transform="translate(378.66,253.3) rotate(-45)" font-size="4.4" font-weight="bold" fill="#1a1a1a" stroke="#1a1a1a" stroke-width="0.12" text-anchor="end">BA.2</text>
<text transform="translate(387.12,253.3) rotate(-45)" font-size="4.4" font-weight="bold" fill="#1a1a1a" stroke="#1a1a1a" stroke-width="0.12" text-anchor="end">BA.2.75</text>
<text transform="translate(395.58,253.3) rotate(-45)" font-size="4.4" font-weight="bold" fill="#1a1a1a" stroke="#1a1a1a" stroke-width="0.12" text-anchor="end">BA.2.75.2</text>
<text transform="translate(404.04,253.3) rotate(-45)" font-size="4.4" font-weight="bold" fill="#1a1a1a" stroke="#1a1a1a" stroke-width="0.12" text-anchor="end">BA.2.75.6</text>
<text transform="translate(412.5,253.3) rotate(-45)" font-size="4.4" font-weight="bold" fill="#1a1a1a" stroke="#1a1a1a" stroke-width="0.12" text-anchor="end">BN.1</text>
<text transform="translate(420.96,253.3) rotate(-45)" font-size="4.4" font-weight="bold" fill="#1a1a1a" stroke="#1a1a1a" stroke-width="0.12" text-anchor="end">CA.3.1</text>
<text transform="translate(429.42,253.3) rotate(-45)" font-size="4.4" font-weight="bold" fill="#1a1a1a" stroke="#1a1a1a" stroke-width="0.12" text-anchor="end">CH.1.1</text>
<text transform="translate(437.88,253.3) rotate(-45)" font-size="4.4" font-weight="bold" fill="#1a1a1a" stroke="#1a1a1a" stroke-width="0.12" text-anchor="end">XBB.1</text>
<text transform="translate(446.34,253.3) rotate(-45)" font-size="4.4" font-weight="bold" fill="#1a1a1a" stroke="#1a1a1a" stroke-width="0.12" text-anchor="end">XBB.1.5</text>
<text transform="translate(454.8,253.3) rotate(-45)" font-size="4.4" font-weight="bold" fill="#1a1a1a" stroke="#1a1a1a" stroke-width="0.12" text-anchor="end">BA.4/5</text>
<text transform="translate(463.26,253.3) rotate(-45)" font-size="4.4" font-weight="bold" fill="#1a1a1a" stroke="#1a1a1a" stroke-width="0.12" text-anchor="end">BA.5.2.7</text>
<text transform="translate(471.72,253.3) rotate(-45)" font-size="4.4" font-weight="bold" fill="#1a1a1a" stroke="#1a1a1a" stroke-width="0.12" text-anchor="end">BE.1.1.1</text>
<text transform="translate(480.18,253.3) rotate(-45)" font-size="4.4" font-weight="bold" fill="#1a1a1a" stroke="#1a1a1a" stroke-width="0.12" text-anchor="end">BF.7</text>
<text transform="translate(488.64,253.3) rotate(-45)" font-size="4.4" font-weight="bold" fill="#1a1a1a" stroke="#1a1a1a" stroke-width="0.12" text-anchor="end">BF.14</text>
<text transform="translate(497.1,253.3) rotate(-45)" font-size="4.4" font-weight="bold" fill="#1a1a1a" stroke="#1a1a1a" stroke-width="0.12" text-anchor="end">BF.16</text>
<text transform="translate(505.56,253.3) rotate(-45)" font-size="4.4" font-weight="bold" fill="#1a1a1a" stroke="#1a1a1a" stroke-width="0.12" text-anchor="end">BQ.1</text>
<text transform="translate(514.02,253.3) rotate(-45)" font-size="4.4" font-weight="bold" fill="#1a1a1a" stroke="#1a1a1a" stroke-width="0.12" text-anchor="end">BQ.1.1</text>
<line x1="363.3" y1="227.32" x2="517.5" y2="227.32" stroke="#999" stroke-width="0.55" stroke-dasharray="2.2,1.2"/>
<rect x="376.96" y="198.07" width="8.46" height="3.6" fill="none" stroke="#555" stroke-width="0.45"/>
<rect x="453.1" y="196.32" width="8.46" height="3.6" fill="none" stroke="#555" stroke-width="0.45"/>
<line x1="376.96" y1="165.8" x2="444.64" y2="165.8" stroke="#222" stroke-width="0.8" />
<text x="400.46" y="165.4" font-size="4.3" fill="#111" text-anchor="start" textLength="32" lengthAdjust="spacingAndGlyphs" stroke="#111" stroke-width="0.28">p=0.0010 (5.4X)</text>
<line x1="376.96" y1="170.81" x2="436.18" y2="170.81" stroke="#222" stroke-width="0.8" />
<text x="397.16" y="170.41" font-size="4.3" fill="#111" text-anchor="start" textLength="32" lengthAdjust="spacingAndGlyphs" stroke="#111" stroke-width="0.28">p=0.0068 (5.6X)</text>
<line x1="376.96" y1="175.82" x2="427.72" y2="175.82" stroke="#222" stroke-width="0.8" />
<text x="393.86" y="175.42" font-size="4.3" fill="#111" text-anchor="start" textLength="32" lengthAdjust="spacingAndGlyphs" stroke="#111" stroke-width="0.28">p=0.0020 (4.3X)</text>
<line x1="376.96" y1="180.83" x2="419.26" y2="180.83" stroke="#222" stroke-width="0.8" />
<text x="390.56" y="180.43" font-size="4.3" fill="#111" text-anchor="start" textLength="32" lengthAdjust="spacingAndGlyphs" stroke="#111" stroke-width="0.28">p=0.0020 (4.3X)</text>
<line x1="376.96" y1="185.84" x2="410.8" y2="185.84" stroke="#222" stroke-width="0.8" />
<text x="387.26" y="185.44" font-size="4.3" fill="#111" text-anchor="start" textLength="32" lengthAdjust="spacingAndGlyphs" stroke="#111" stroke-width="0.28">p=0.6537 (2.8X)</text>
<line x1="376.96" y1="190.85" x2="402.34" y2="190.85" stroke="#222" stroke-width="0.8" />
<text x="383.96" y="190.45" font-size="4.3" fill="#111" text-anchor="start" textLength="32" lengthAdjust="spacingAndGlyphs" stroke="#111" stroke-width="0.28">p=0.0420 (1.5X)</text>
<line x1="376.96" y1="195.86" x2="393.88" y2="195.86" stroke="#222" stroke-width="0.8" />
<text x="380.66" y="195.46" font-size="4.3" fill="#111" text-anchor="start" textLength="32" lengthAdjust="spacingAndGlyphs" stroke="#111" stroke-width="0.28">p=0.0049 (3.4X)</text>
<line x1="376.96" y1="200.87" x2="385.42" y2="200.87" stroke="#222" stroke-width="0.8" />
<text x="377.36" y="200.47" font-size="4.3" fill="#111" text-anchor="start" textLength="32" lengthAdjust="spacingAndGlyphs" stroke="#111" stroke-width="0.28">p=0.0020 (2.6X)</text>
<line x1="453.1" y1="169.9" x2="512.32" y2="169.9" stroke="#222" stroke-width="0.8" />
<text x="473.2" y="169.5" font-size="4.3" fill="#111" text-anchor="start" textLength="32" lengthAdjust="spacingAndGlyphs" stroke="#111" stroke-width="0.28">p=0.0010 (3.3X)</text>
<line x1="453.1" y1="174.77" x2="503.86" y2="174.77" stroke="#222" stroke-width="0.8" />
<text x="469.9" y="174.37" font-size="4.3" fill="#111" text-anchor="start" textLength="32" lengthAdjust="spacingAndGlyphs" stroke="#111" stroke-width="0.28">p=0.1230 (1.5X)</text>
<line x1="453.1" y1="179.64" x2="495.4" y2="179.64" stroke="#222" stroke-width="0.8" />
<text x="466.6" y="179.24" font-size="4.3" fill="#111" text-anchor="start" textLength="32" lengthAdjust="spacingAndGlyphs" stroke="#111" stroke-width="0.28">p=0.1230 (1.3X)</text>
<line x1="453.1" y1="184.51" x2="486.94" y2="184.51" stroke="#222" stroke-width="0.8" />
<text x="463.3" y="184.11" font-size="4.3" fill="#111" text-anchor="start" textLength="32" lengthAdjust="spacingAndGlyphs" stroke="#111" stroke-width="0.28">p=0.2402 (1.3X)</text>
<line x1="453.1" y1="189.38" x2="478.48" y2="189.38" stroke="#222" stroke-width="0.8" />
<text x="460" y="188.98" font-size="4.3" fill="#111" text-anchor="start" textLength="32" lengthAdjust="spacingAndGlyphs" stroke="#111" stroke-width="0.28">p=0.0186 (1.3X)</text>
<line x1="453.1" y1="194.25" x2="470.02" y2="194.25" stroke="#222" stroke-width="0.8" />
<text x="456.7" y="193.85" font-size="4.3" fill="#111" text-anchor="start" textLength="32" lengthAdjust="spacingAndGlyphs" stroke="#111" stroke-width="0.28">p=0.1748 (1.6X)</text>
<line x1="453.1" y1="199.12" x2="461.56" y2="199.12" stroke="#222" stroke-width="0.8" />
<text x="453.4" y="198.72" font-size="4.3" fill="#111" text-anchor="start" textLength="32" lengthAdjust="spacingAndGlyphs" stroke="#111" stroke-width="0.28">p=0.0020 (1.6X)</text>
<circle cx="366.87" cy="209.67" r="0.85" fill="#111111"/>
<circle cx="369.88" cy="208.14" r="0.8" fill="none" stroke="#111111" stroke-width="0.5"/>
<path d="M368.54 205.9l1.0 1.6h-2.0z" fill="#111111"/>
<rect x="369.66" y="204.93" width="1.5" height="1.5" fill="none" stroke="#111111" stroke-width="0.5"/>
<circle cx="366.12" cy="204.63" r="0.85" fill="#111111"/>
<circle cx="369.1" cy="202.64" r="0.8" fill="none" stroke="#111111" stroke-width="0.5"/>
<path d="M367.73 200.56l1.0 1.6h-2.0z" fill="#111111"/>
<rect x="369.66" y="199.04" width="1.5" height="1.5" fill="none" stroke="#111111" stroke-width="0.5"/>
<circle cx="366.36" cy="198.76" r="0.85" fill="#111111"/>
<circle cx="368.86" cy="196.87" r="0.8" fill="none" stroke="#111111" stroke-width="0.5"/>
<circle cx="375.55" cy="222.37" r="0.8" fill="none" stroke="#f26b6b" stroke-width="0.5"/>
<path d="M378.35 219.58l1.0 1.6h-2.0z" fill="#f26b6b"/>
<rect x="376.02" y="217.12" width="1.5" height="1.5" fill="none" stroke="#f26b6b" stroke-width="0.5"/>
<circle cx="379.16" cy="216.53" r="0.85" fill="#f26b6b"/>
<circle cx="373.89" cy="215.59" r="0.8" fill="none" stroke="#f26b6b" stroke-width="0.5"/>
<path d="M377.23 214.41l1.0 1.6h-2.0z" fill="#f26b6b"/>
<rect x="375.32" y="213.18" width="1.5" height="1.5" fill="none" stroke="#f26b6b" stroke-width="0.5"/>
<circle cx="378.83" cy="212.39" r="0.85" fill="#f26b6b"/>
<circle cx="374.93" cy="210.17" r="0.8" fill="none" stroke="#f26b6b" stroke-width="0.5"/>
<path d="M376.93 208.06l1.0 1.6h-2.0z" fill="#f26b6b"/>
<rect x="378.86" y="205.11" width="1.5" height="1.5" fill="none" stroke="#f26b6b" stroke-width="0.5"/>
<circle cx="376.31" cy="204.62" r="0.85" fill="#f26b6b"/>
<circle cx="374.91" cy="204.11" r="0.8" fill="none" stroke="#f26b6b" stroke-width="0.5"/>
<path d="M378.03 202.47l1.0 1.6h-2.0z" fill="#f26b6b"/>
<line x1="373.76" y1="209.42" x2="380.16" y2="209.42" stroke="#444" stroke-width="0.6" />
<path d="M383.35 217.41l1.0 1.6h-2.0z" fill="#36b3c9"/>
<rect x="385.91" y="217.37" width="1.5" height="1.5" fill="none" stroke="#36b3c9" stroke-width="0.5"/>
<circle cx="384.85" cy="217.8" r="0.85" fill="#36b3c9"/>
<circle cx="387.8" cy="216.01" r="0.8" fill="none" stroke="#36b3c9" stroke-width="0.5"/>
<path d="M382.53 214.75l1.0 1.6h-2.0z" fill="#36b3c9"/>
<rect x="385.31" y="214.62" width="1.5" height="1.5" fill="none" stroke="#36b3c9" stroke-width="0.5"/>
<circle cx="384.29" cy="214.49" r="0.85" fill="#36b3c9"/>
<circle cx="387.63" cy="213.96" r="0.8" fill="none" stroke="#36b3c9" stroke-width="0.5"/>
<path d="M383.59 212.36l1.0 1.6h-2.0z" fill="#36b3c9"/>
<rect x="384.48" y="210.29" width="1.5" height="1.5" fill="none" stroke="#36b3c9" stroke-width="0.5"/>
<circle cx="388.69" cy="210.84" r="0.85" fill="#36b3c9"/>
<circle cx="384.56" cy="209.39" r="0.8" fill="none" stroke="#36b3c9" stroke-width="0.5"/>
<line x1="382.22" y1="215.11" x2="388.62" y2="215.11" stroke="#444" stroke-width="0.6" />
<rect x="391.34" y="223.89" width="1.5" height="1.5" fill="none" stroke="#b03845" stroke-width="0.5"/>
<circle cx="395.35" cy="221.62" r="0.85" fill="#b03845"/>
<circle cx="393.73" cy="220.4" r="0.8" fill="none" stroke="#b03845" stroke-width="0.5"/>
<path d="M396.67 218.75l1.0 1.6h-2.0z" fill="#b03845"/>
<rect x="390.6" y="215.33" width="1.5" height="1.5" fill="none" stroke="#b03845" stroke-width="0.5"/>
<circle cx="394.12" cy="216.08" r="0.85" fill="#b03845"/>
<circle cx="393.06" cy="215.02" r="0.8" fill="none" stroke="#b03845" stroke-width="0.5"/>
<path d="M395.83 213.79l1.0 1.6h-2.0z" fill="#b03845"/>
<rect x="390.86" y="214.32" width="1.5" height="1.5" fill="none" stroke="#b03845" stroke-width="0.5"/>
<circle cx="394.05" cy="209.32" r="0.85" fill="#b03845"/>
<circle cx="396.39" cy="208.74" r="0.8" fill="none" stroke="#b03845" stroke-width="0.5"/>
<path d="M392.72 207.98l1.0 1.6h-2.0z" fill="#b03845"/>
<line x1="390.68" y1="216.65" x2="397.08" y2="216.65" stroke="#444" stroke-width="0.6" />
<circle cx="400.72" cy="222.83" r="0.85" fill="#1f8a45"/>
<circle cx="403.43" cy="221.89" r="0.8" fill="none" stroke="#1f8a45" stroke-width="0.5"/>
<path d="M401.84 218.23l1.0 1.6h-2.0z" fill="#1f8a45"/>
<rect x="403.72" y="217.96" width="1.5" height="1.5" fill="none" stroke="#1f8a45" stroke-width="0.5"/>
<circle cx="399.71" cy="215.45" r="0.85" fill="#1f8a45"/>
<circle cx="402.67" cy="212.69" r="0.8" fill="none" stroke="#1f8a45" stroke-width="0.5"/>
<path d="M401.2 210.3l1.0 1.6h-2.0z" fill="#1f8a45"/>
<rect x="403.42" y="208.59" width="1.5" height="1.5" fill="none" stroke="#1f8a45" stroke-width="0.5"/>
<circle cx="399.75" cy="206.12" r="0.85" fill="#1f8a45"/>
<circle cx="402.38" cy="205.53" r="0.8" fill="none" stroke="#1f8a45" stroke-width="0.5"/>
<path d="M405.45 204.08l1.0 1.6h-2.0z" fill="#1f8a45"/>
<rect x="400.95" y="203.9" width="1.5" height="1.5" fill="none" stroke="#1f8a45" stroke-width="0.5"/>
<line x1="399.14" y1="213.33" x2="405.54" y2="213.33" stroke="#444" stroke-width="0.6" />
<circle cx="408.84" cy="226.71" r="0.8" fill="none" stroke="#f07f24" stroke-width="0.5"/>
<path d="M412.33 223.79l1.0 1.6h-2.0z" fill="#f07f24"/>
<rect x="409.69" y="219.94" width="1.5" height="1.5" fill="none" stroke="#f07f24" stroke-width="0.5"/>
<circle cx="412.84" cy="220.1" r="0.85" fill="#f07f24"/>
<circle cx="408.38" cy="220.21" r="0.8" fill="none" stroke="#f07f24" stroke-width="0.5"/>
<path d="M411.13 218.73l1.0 1.6h-2.0z" fill="#f07f24"/>
<rect x="408.5" y="215.87" width="1.5" height="1.5" fill="none" stroke="#f07f24" stroke-width="0.5"/>
<circle cx="412.57" cy="215.82" r="0.85" fill="#f07f24"/>
<circle cx="408.79" cy="213.95" r="0.8" fill="none" stroke="#f07f24" stroke-width="0.5"/>
<path d="M410.91 211.27l1.0 1.6h-2.0z" fill="#f07f24"/>
<rect x="413.09" y="209.46" width="1.5" height="1.5" fill="none" stroke="#f07f24" stroke-width="0.5"/>
<circle cx="410.03" cy="205.02" r="0.85" fill="#f07f24"/>
<line x1="407.6" y1="214.28" x2="414" y2="214.28" stroke="#444" stroke-width="0.6" />
<path d="M417.6 221.16l1.0 1.6h-2.0z" fill="#c9cc2a"/>
<rect x="419.96" y="220.6" width="1.5" height="1.5" fill="none" stroke="#c9cc2a" stroke-width="0.5"/>
<circle cx="419.31" cy="220.67" r="0.85" fill="#c9cc2a"/>
<circle cx="421.64" cy="219.91" r="0.8" fill="none" stroke="#c9cc2a" stroke-width="0.5"/>
<path d="M416.55 218.01l1.0 1.6h-2.0z" fill="#c9cc2a"/>
<rect x="419.26" y="218.2" width="1.5" height="1.5" fill="none" stroke="#c9cc2a" stroke-width="0.5"/>
<circle cx="418.12" cy="217.57" r="0.85" fill="#c9cc2a"/>
<circle cx="420.8" cy="216.11" r="0.8" fill="none" stroke="#c9cc2a" stroke-width="0.5"/>
<path d="M417.3 214.39l1.0 1.6h-2.0z" fill="#c9cc2a"/>
<rect x="418.47" y="212.67" width="1.5" height="1.5" fill="none" stroke="#c9cc2a" stroke-width="0.5"/>
<circle cx="422.23" cy="212.57" r="0.85" fill="#c9cc2a"/>
<circle cx="418.24" cy="210.43" r="0.8" fill="none" stroke="#c9cc2a" stroke-width="0.5"/>
<line x1="416.06" y1="217.84" x2="422.46" y2="217.84" stroke="#444" stroke-width="0.6" />
<rect x="425.46" y="223" width="1.5" height="1.5" fill="none" stroke="#d1873a" stroke-width="0.5"/>
<circle cx="429.3" cy="223.22" r="0.85" fill="#d1873a"/>
<circle cx="427.78" cy="220.52" r="0.8" fill="none" stroke="#d1873a" stroke-width="0.5"/>
<path d="M429.88 217.39l1.0 1.6h-2.0z" fill="#d1873a"/>
<rect x="424.26" y="215.03" width="1.5" height="1.5" fill="none" stroke="#d1873a" stroke-width="0.5"/>
<circle cx="428.22" cy="214.38" r="0.85" fill="#d1873a"/>
<circle cx="426.59" cy="214.1" r="0.8" fill="none" stroke="#d1873a" stroke-width="0.5"/>
<path d="M429.44 212.68l1.0 1.6h-2.0z" fill="#d1873a"/>
<rect x="424.77" y="212.65" width="1.5" height="1.5" fill="none" stroke="#d1873a" stroke-width="0.5"/>
<circle cx="427.95" cy="211.23" r="0.85" fill="#d1873a"/>
<circle cx="430.65" cy="211.23" r="0.8" fill="none" stroke="#d1873a" stroke-width="0.5"/>
<path d="M427.04 208.98l1.0 1.6h-2.0z" fill="#d1873a"/>
<line x1="424.52" y1="217.24" x2="430.92" y2="217.24" stroke="#444" stroke-width="0.6" />
<circle cx="434.49" cy="222.55" r="0.85" fill="#e8263b"/>
<circle cx="437.2" cy="222.23" r="0.8" fill="none" stroke="#e8263b" stroke-width="0.5"/>
<path d="M435.77 219.59l1.0 1.6h-2.0z" fill="#e8263b"/>
<rect x="438.2" y="219.3" width="1.5" height="1.5" fill="none" stroke="#e8263b" stroke-width="0.5"/>
<circle cx="433.62" cy="218.95" r="0.85" fill="#e8263b"/>
<circle cx="437.02" cy="217.69" r="0.8" fill="none" stroke="#e8263b" stroke-width="0.5"/>
<path d="M434.85 214.34l1.0 1.6h-2.0z" fill="#e8263b"/>
<rect x="437.57" y="212.11" width="1.5" height="1.5" fill="none" stroke="#e8263b" stroke-width="0.5"/>
<circle cx="433.97" cy="211.59" r="0.85" fill="#e8263b"/>
<circle cx="436.1" cy="211.04" r="0.8" fill="none" stroke="#e8263b" stroke-width="0.5"/>
<path d="M439.25 209.5l1.0 1.6h-2.0z" fill="#e8263b"/>
<rect x="434.81" y="206.08" width="1.5" height="1.5" fill="none" stroke="#e8263b" stroke-width="0.5"/>
<line x1="432.98" y1="218.55" x2="439.38" y2="218.55" stroke="#444" stroke-width="0.6" />
<circle cx="442.74" cy="227.13" r="0.8" fill="none" stroke="#8d35b5" stroke-width="0.5"/>
<path d="M445.74 225.7l1.0 1.6h-2.0z" fill="#8d35b5"/>
<rect x="443.46" y="221.78" width="1.5" height="1.5" fill="none" stroke="#8d35b5" stroke-width="0.5"/>
<circle cx="447.14" cy="221.97" r="0.85" fill="#8d35b5"/>
<circle cx="441.56" cy="221.99" r="0.8" fill="none" stroke="#8d35b5" stroke-width="0.5"/>
<path d="M445.33 220.36l1.0 1.6h-2.0z" fill="#8d35b5"/>
<rect x="442.45" y="220.68" width="1.5" height="1.5" fill="none" stroke="#8d35b5" stroke-width="0.5"/>
<circle cx="446.87" cy="220.57" r="0.85" fill="#8d35b5"/>
<circle cx="442.51" cy="213.39" r="0.8" fill="none" stroke="#8d35b5" stroke-width="0.5"/>
<path d="M444.6 209.4l1.0 1.6h-2.0z" fill="#8d35b5"/>
<rect x="446.65" y="209.41" width="1.5" height="1.5" fill="none" stroke="#8d35b5" stroke-width="0.5"/>
<circle cx="443.82" cy="208.93" r="0.85" fill="#8d35b5"/>
<line x1="441.44" y1="218.55" x2="447.84" y2="218.55" stroke="#444" stroke-width="0.6" />
<path d="M451.52 223.37l1.0 1.6h-2.0z" fill="#b0a060"/>
<rect x="453.59" y="219.87" width="1.5" height="1.5" fill="none" stroke="#b0a060" stroke-width="0.5"/>
<circle cx="453.04" cy="217.13" r="0.85" fill="#b0a060"/>
<circle cx="455.31" cy="216.66" r="0.8" fill="none" stroke="#b0a060" stroke-width="0.5"/>
<path d="M450.35 212.36l1.0 1.6h-2.0z" fill="#b0a060"/>
<rect x="452.62" y="211.59" width="1.5" height="1.5" fill="none" stroke="#b0a060" stroke-width="0.5"/>
<circle cx="451.67" cy="209.1" r="0.85" fill="#b0a060"/>
<circle cx="454.67" cy="208.61" r="0.8" fill="none" stroke="#b0a060" stroke-width="0.5"/>
<path d="M450.8 206.7l1.0 1.6h-2.0z" fill="#b0a060"/>
<rect x="452.46" y="205.93" width="1.5" height="1.5" fill="none" stroke="#b0a060" stroke-width="0.5"/>
<circle cx="456.16" cy="205.07" r="0.85" fill="#b0a060"/>
<circle cx="452.59" cy="204.92" r="0.8" fill="none" stroke="#b0a060" stroke-width="0.5"/>
<line x1="449.9" y1="208.94" x2="456.3" y2="208.94" stroke="#444" stroke-width="0.6" />
<rect x="458.93" y="213.68" width="1.5" height="1.5" fill="none" stroke="#4b5be6" stroke-width="0.5"/>
<circle cx="462.89" cy="212.03" r="0.85" fill="#4b5be6"/>
<circle cx="461.22" cy="211.85" r="0.8" fill="none" stroke="#4b5be6" stroke-width="0.5"/>
<path d="M463.75 210.36l1.0 1.6h-2.0z" fill="#4b5be6"/>
<rect x="458.08" y="210.52" width="1.5" height="1.5" fill="none" stroke="#4b5be6" stroke-width="0.5"/>
<circle cx="462.06" cy="211.1" r="0.85" fill="#4b5be6"/>
<circle cx="459.98" cy="210.08" r="0.8" fill="none" stroke="#4b5be6" stroke-width="0.5"/>
<path d="M463.83 209.17l1.0 1.6h-2.0z" fill="#4b5be6"/>
<rect x="458.75" y="207.71" width="1.5" height="1.5" fill="none" stroke="#4b5be6" stroke-width="0.5"/>
<circle cx="461.64" cy="206.32" r="0.85" fill="#4b5be6"/>
<circle cx="464.2" cy="206.33" r="0.8" fill="none" stroke="#4b5be6" stroke-width="0.5"/>
<path d="M460.82 205.05l1.0 1.6h-2.0z" fill="#4b5be6"/>
<line x1="458.36" y1="210.72" x2="464.76" y2="210.72" stroke="#444" stroke-width="0.6" />
<circle cx="468.6" cy="218.01" r="0.85" fill="#f0409a"/>
<circle cx="471.34" cy="217.68" r="0.8" fill="none" stroke="#f0409a" stroke-width="0.5"/>
<path d="M469.81 216.22l1.0 1.6h-2.0z" fill="#f0409a"/>
<rect x="472.02" y="216.69" width="1.5" height="1.5" fill="none" stroke="#f0409a" stroke-width="0.5"/>
<circle cx="467.5" cy="217.01" r="0.85" fill="#f0409a"/>
<circle cx="470.9" cy="216.06" r="0.8" fill="none" stroke="#f0409a" stroke-width="0.5"/>
<path d="M469.08 213.52l1.0 1.6h-2.0z" fill="#f0409a"/>
<rect x="470.78" y="211.29" width="1.5" height="1.5" fill="none" stroke="#f0409a" stroke-width="0.5"/>
<circle cx="467.77" cy="211.1" r="0.85" fill="#f0409a"/>
<circle cx="470.27" cy="209.55" r="0.8" fill="none" stroke="#f0409a" stroke-width="0.5"/>
<path d="M473.21 208.1l1.0 1.6h-2.0z" fill="#f0409a"/>
<rect x="468.69" y="205.72" width="1.5" height="1.5" fill="none" stroke="#f0409a" stroke-width="0.5"/>
<line x1="466.82" y1="211.31" x2="473.22" y2="211.31" stroke="#444" stroke-width="0.6" />
<circle cx="476.97" cy="224.46" r="0.8" fill="none" stroke="#283593" stroke-width="0.5"/>
<path d="M479.84 218.93l1.0 1.6h-2.0z" fill="#283593"/>
<rect x="477.66" y="218.8" width="1.5" height="1.5" fill="none" stroke="#283593" stroke-width="0.5"/>
<circle cx="480.64" cy="219.14" r="0.85" fill="#283593"/>
<circle cx="475.6" cy="217.22" r="0.8" fill="none" stroke="#283593" stroke-width="0.5"/>
<path d="M479.34 215.07l1.0 1.6h-2.0z" fill="#283593"/>
<rect x="476.69" y="212.81" width="1.5" height="1.5" fill="none" stroke="#283593" stroke-width="0.5"/>
<circle cx="480.16" cy="211.24" r="0.85" fill="#283593"/>
<circle cx="476.64" cy="209.06" r="0.8" fill="none" stroke="#283593" stroke-width="0.5"/>
<path d="M478.59 207.42l1.0 1.6h-2.0z" fill="#283593"/>
<rect x="480.25" y="205.85" width="1.5" height="1.5" fill="none" stroke="#283593" stroke-width="0.5"/>
<circle cx="477.78" cy="206.54" r="0.85" fill="#283593"/>
<line x1="475.28" y1="209.42" x2="481.68" y2="209.42" stroke="#444" stroke-width="0.6" />
<path d="M484.74 220.65l1.0 1.6h-2.0z" fill="#8e3d85"/>
<rect x="487.19" y="219.61" width="1.5" height="1.5" fill="none" stroke="#8e3d85" stroke-width="0.5"/>
<circle cx="486.68" cy="218.77" r="0.85" fill="#8e3d85"/>
<circle cx="489.44" cy="214.95" r="0.8" fill="none" stroke="#8e3d85" stroke-width="0.5"/>
<path d="M484.46 212.27l1.0 1.6h-2.0z" fill="#8e3d85"/>
<rect x="487.08" y="211.76" width="1.5" height="1.5" fill="none" stroke="#8e3d85" stroke-width="0.5"/>
<circle cx="485.88" cy="212.38" r="0.85" fill="#8e3d85"/>
<circle cx="488.79" cy="211.98" r="0.8" fill="none" stroke="#8e3d85" stroke-width="0.5"/>
<path d="M485.1 207.6l1.0 1.6h-2.0z" fill="#8e3d85"/>
<rect x="485.97" y="207.67" width="1.5" height="1.5" fill="none" stroke="#8e3d85" stroke-width="0.5"/>
<circle cx="489.85" cy="207.08" r="0.85" fill="#8e3d85"/>
<circle cx="485.82" cy="206.79" r="0.8" fill="none" stroke="#8e3d85" stroke-width="0.5"/>
<line x1="483.74" y1="210.13" x2="490.14" y2="210.13" stroke="#444" stroke-width="0.6" />
<rect x="492.75" y="216.58" width="1.5" height="1.5" fill="none" stroke="#a88a4a" stroke-width="0.5"/>
<circle cx="496.25" cy="215.95" r="0.85" fill="#a88a4a"/>
<circle cx="495.25" cy="214.86" r="0.8" fill="none" stroke="#a88a4a" stroke-width="0.5"/>
<path d="M497.84 212.38l1.0 1.6h-2.0z" fill="#a88a4a"/>
<rect x="491.63" y="211.89" width="1.5" height="1.5" fill="none" stroke="#a88a4a" stroke-width="0.5"/>
<circle cx="496.3" cy="211.92" r="0.85" fill="#a88a4a"/>
<circle cx="494" cy="211.47" r="0.8" fill="none" stroke="#a88a4a" stroke-width="0.5"/>
<path d="M497.1 209.44l1.0 1.6h-2.0z" fill="#a88a4a"/>
<rect x="492.44" y="209.45" width="1.5" height="1.5" fill="none" stroke="#a88a4a" stroke-width="0.5"/>
<circle cx="495.34" cy="209.99" r="0.85" fill="#a88a4a"/>
<circle cx="498.2" cy="207.03" r="0.8" fill="none" stroke="#a88a4a" stroke-width="0.5"/>
<path d="M494.68 204.6l1.0 1.6h-2.0z" fill="#a88a4a"/>
<line x1="492.2" y1="210.72" x2="498.6" y2="210.72" stroke="#444" stroke-width="0.6" />
<circle cx="502.37" cy="220.04" r="0.85" fill="#2a3fd0"/>
<circle cx="505.19" cy="218.5" r="0.8" fill="none" stroke="#2a3fd0" stroke-width="0.5"/>
<path d="M503.53 214.28l1.0 1.6h-2.0z" fill="#2a3fd0"/>
<rect x="505.31" y="214.03" width="1.5" height="1.5" fill="none" stroke="#2a3fd0" stroke-width="0.5"/>
<circle cx="501.45" cy="213.53" r="0.85" fill="#2a3fd0"/>
<circle cx="504.36" cy="213.3" r="0.8" fill="none" stroke="#2a3fd0" stroke-width="0.5"/>
<path d="M503.04 210.83l1.0 1.6h-2.0z" fill="#2a3fd0"/>
<rect x="505.11" y="208.5" width="1.5" height="1.5" fill="none" stroke="#2a3fd0" stroke-width="0.5"/>
<circle cx="501.93" cy="208.08" r="0.85" fill="#2a3fd0"/>
<circle cx="503.66" cy="207.82" r="0.8" fill="none" stroke="#2a3fd0" stroke-width="0.5"/>
<path d="M506.93 204.44l1.0 1.6h-2.0z" fill="#2a3fd0"/>
<rect x="501.97" y="204.34" width="1.5" height="1.5" fill="none" stroke="#2a3fd0" stroke-width="0.5"/>
<line x1="500.66" y1="211.31" x2="507.06" y2="211.31" stroke="#444" stroke-width="0.6" />
<circle cx="510.45" cy="227.39" r="0.8" fill="none" stroke="#c77ef2" stroke-width="0.5"/>
<path d="M513.54 225.16l1.0 1.6h-2.0z" fill="#c77ef2"/>
<rect x="511.64" y="218.62" width="1.5" height="1.5" fill="none" stroke="#c77ef2" stroke-width="0.5"/>
<circle cx="514.67" cy="219.25" r="0.85" fill="#c77ef2"/>
<circle cx="510" cy="218.98" r="0.8" fill="none" stroke="#c77ef2" stroke-width="0.5"/>
<path d="M513.04 216.98l1.0 1.6h-2.0z" fill="#c77ef2"/>
<rect x="510.28" y="214.65" width="1.5" height="1.5" fill="none" stroke="#c77ef2" stroke-width="0.5"/>
<circle cx="514.04" cy="213.37" r="0.85" fill="#c77ef2"/>
<circle cx="509.75" cy="211.97" r="0.8" fill="none" stroke="#c77ef2" stroke-width="0.5"/>
<path d="M512.72 210.74l1.0 1.6h-2.0z" fill="#c77ef2"/>
<rect x="514.42" y="209.15" width="1.5" height="1.5" fill="none" stroke="#c77ef2" stroke-width="0.5"/>
<circle cx="511.24" cy="206.31" r="0.85" fill="#c77ef2"/>
<line x1="509.12" y1="213.33" x2="515.52" y2="213.33" stroke="#444" stroke-width="0.6" />
<text x="596.5" y="147.9" font-size="5.42" fill="#111" font-weight="bold" text-anchor="middle" stroke="#111" stroke-width="0.12">3 × Vac + BF.7 breakthrough (14d)</text>
<text x="533.86" y="154.4" font-size="4" fill="#f26b6b" font-weight="bold" text-anchor="middle" textLength="8.1" lengthAdjust="spacingAndGlyphs" stroke="#f26b6b" stroke-width="0.22">3.7X</text>
<text x="533.86" y="159" font-size="4" fill="#f26b6b" font-weight="bold" text-anchor="middle" textLength="8" lengthAdjust="spacingAndGlyphs" stroke="#f26b6b" stroke-width="0.22">1146</text>
<text x="542.32" y="154.4" font-size="4" fill="#36b3c9" font-weight="bold" text-anchor="middle" textLength="8.1" lengthAdjust="spacingAndGlyphs" stroke="#36b3c9" stroke-width="0.22">6.1X</text>
<text x="542.32" y="159" font-size="4" fill="#36b3c9" font-weight="bold" text-anchor="middle" textLength="6" lengthAdjust="spacingAndGlyphs" stroke="#36b3c9" stroke-width="0.22">696</text>
<text x="550.78" y="154.4" font-size="4" fill="#b03845" font-weight="bold" text-anchor="middle" textLength="8.1" lengthAdjust="spacingAndGlyphs" stroke="#b03845" stroke-width="0.22">8.2X</text>
<text x="550.78" y="159" font-size="4" fill="#b03845" font-weight="bold" text-anchor="middle" textLength="6" lengthAdjust="spacingAndGlyphs" stroke="#b03845" stroke-width="0.22">613</text>
<text x="559.24" y="154.4" font-size="4" fill="#1f8a45" font-weight="bold" text-anchor="middle" textLength="8.1" lengthAdjust="spacingAndGlyphs" stroke="#1f8a45" stroke-width="0.22">8.6X</text>
<text x="559.24" y="159" font-size="4" fill="#1f8a45" font-weight="bold" text-anchor="middle" textLength="6" lengthAdjust="spacingAndGlyphs" stroke="#1f8a45" stroke-width="0.22">480</text>
<text x="567.7" y="154.4" font-size="4" fill="#f07f24" font-weight="bold" text-anchor="middle" textLength="6.15" lengthAdjust="spacingAndGlyphs" stroke="#f07f24" stroke-width="0.22">20X</text>
<text x="567.7" y="159" font-size="4" fill="#f07f24" font-weight="bold" text-anchor="middle" textLength="6" lengthAdjust="spacingAndGlyphs" stroke="#f07f24" stroke-width="0.22">388</text>
<text x="576.16" y="154.4" font-size="4" fill="#c9cc2a" font-weight="bold" text-anchor="middle" textLength="6.15" lengthAdjust="spacingAndGlyphs" stroke="#c9cc2a" stroke-width="0.22">11X</text>
<text x="576.16" y="159" font-size="4" fill="#c9cc2a" font-weight="bold" text-anchor="middle" textLength="6" lengthAdjust="spacingAndGlyphs" stroke="#c9cc2a" stroke-width="0.22">396</text>
<text x="584.62" y="154.4" font-size="4" fill="#d1873a" font-weight="bold" text-anchor="middle" textLength="6.15" lengthAdjust="spacingAndGlyphs" stroke="#d1873a" stroke-width="0.22">11X</text>
<text x="584.62" y="159" font-size="4" fill="#d1873a" font-weight="bold" text-anchor="middle" textLength="6" lengthAdjust="spacingAndGlyphs" stroke="#d1873a" stroke-width="0.22">374</text>
<text x="593.08" y="154.4" font-size="4" fill="#e8263b" font-weight="bold" text-anchor="middle" textLength="6.15" lengthAdjust="spacingAndGlyphs" stroke="#e8263b" stroke-width="0.22">11X</text>
<text x="593.08" y="159" font-size="4" fill="#e8263b" font-weight="bold" text-anchor="middle" textLength="6" lengthAdjust="spacingAndGlyphs" stroke="#e8263b" stroke-width="0.22">373</text>
<text x="601.54" y="154.4" font-size="4" fill="#8d35b5" font-weight="bold" text-anchor="middle" textLength="6.15" lengthAdjust="spacingAndGlyphs" stroke="#8d35b5" stroke-width="0.22">19X</text>
<text x="601.54" y="159" font-size="4" fill="#8d35b5" font-weight="bold" text-anchor="middle" textLength="6" lengthAdjust="spacingAndGlyphs" stroke="#8d35b5" stroke-width="0.22">372</text>
<text x="610" y="154.4" font-size="4" fill="#b0a060" font-weight="bold" text-anchor="middle" textLength="8.1" lengthAdjust="spacingAndGlyphs" stroke="#b0a060" stroke-width="0.22">5.2X</text>
<text x="610" y="159" font-size="4" fill="#b0a060" font-weight="bold" text-anchor="middle" textLength="6" lengthAdjust="spacingAndGlyphs" stroke="#b0a060" stroke-width="0.22">809</text>
<text x="618.46" y="154.4" font-size="4" fill="#4b5be6" font-weight="bold" text-anchor="middle" textLength="8.1" lengthAdjust="spacingAndGlyphs" stroke="#4b5be6" stroke-width="0.22">5.6X</text>
<text x="618.46" y="159" font-size="4" fill="#4b5be6" font-weight="bold" text-anchor="middle" textLength="6" lengthAdjust="spacingAndGlyphs" stroke="#4b5be6" stroke-width="0.22">749</text>
<text x="626.92" y="154.4" font-size="4" fill="#f0409a" font-weight="bold" text-anchor="middle" textLength="8.1" lengthAdjust="spacingAndGlyphs" stroke="#f0409a" stroke-width="0.22">5.6X</text>
<text x="626.92" y="159" font-size="4" fill="#f0409a" font-weight="bold" text-anchor="middle" textLength="6" lengthAdjust="spacingAndGlyphs" stroke="#f0409a" stroke-width="0.22">773</text>
<text x="635.38" y="154.4" font-size="4" fill="#283593" font-weight="bold" text-anchor="middle" textLength="8.1" lengthAdjust="spacingAndGlyphs" stroke="#283593" stroke-width="0.22">3.8X</text>
<text x="635.38" y="159" font-size="4" fill="#283593" font-weight="bold" text-anchor="middle" textLength="8" lengthAdjust="spacingAndGlyphs" stroke="#283593" stroke-width="0.22">1093</text>
<text x="643.84" y="154.4" font-size="4" fill="#8e3d85" font-weight="bold" text-anchor="middle" textLength="8.1" lengthAdjust="spacingAndGlyphs" stroke="#8e3d85" stroke-width="0.22">6.1X</text>
<text x="643.84" y="159" font-size="4" fill="#8e3d85" font-weight="bold" text-anchor="middle" textLength="6" lengthAdjust="spacingAndGlyphs" stroke="#8e3d85" stroke-width="0.22">696</text>
<text x="652.3" y="154.4" font-size="4" fill="#a88a4a" font-weight="bold" text-anchor="middle" textLength="8.1" lengthAdjust="spacingAndGlyphs" stroke="#a88a4a" stroke-width="0.22">4.3X</text>
<text x="652.3" y="159" font-size="4" fill="#a88a4a" font-weight="bold" text-anchor="middle" textLength="6" lengthAdjust="spacingAndGlyphs" stroke="#a88a4a" stroke-width="0.22">983</text>
<text x="660.76" y="154.4" font-size="4" fill="#2a3fd0" font-weight="bold" text-anchor="middle" textLength="8.1" lengthAdjust="spacingAndGlyphs" stroke="#2a3fd0" stroke-width="0.22">7.7X</text>
<text x="660.76" y="159" font-size="4" fill="#2a3fd0" font-weight="bold" text-anchor="middle" textLength="6" lengthAdjust="spacingAndGlyphs" stroke="#2a3fd0" stroke-width="0.22">550</text>
<text x="669.22" y="154.4" font-size="4" fill="#c77ef2" font-weight="bold" text-anchor="middle" textLength="8.1" lengthAdjust="spacingAndGlyphs" stroke="#c77ef2" stroke-width="0.22">6.4X</text>
<text x="669.22" y="159" font-size="4" fill="#c77ef2" font-weight="bold" text-anchor="middle" textLength="6" lengthAdjust="spacingAndGlyphs" stroke="#c77ef2" stroke-width="0.22">657</text>
<text x="525.8" y="159" font-size="4" fill="#222" font-weight="bold" text-anchor="middle" textLength="7.6" lengthAdjust="spacingAndGlyphs" stroke="#222" stroke-width="0.2">4228</text>
<line x1="520.4" y1="151.42" x2="520.4" y2="246.3" stroke="#444" stroke-width="0.9" />
<line x1="520.4" y1="246.3" x2="674.5" y2="246.3" stroke="#444" stroke-width="0.9" />
<line x1="518.8" y1="246.3" x2="520.4" y2="246.3" stroke="#222" stroke-width="0.6" />
<line x1="518.8" y1="234.44" x2="520.4" y2="234.44" stroke="#222" stroke-width="0.6" />
<line x1="518.8" y1="222.58" x2="520.4" y2="222.58" stroke="#222" stroke-width="0.6" />
<line x1="518.8" y1="210.72" x2="520.4" y2="210.72" stroke="#222" stroke-width="0.6" />
<line x1="518.8" y1="198.86" x2="520.4" y2="198.86" stroke="#222" stroke-width="0.6" />
<line x1="518.8" y1="187" x2="520.4" y2="187" stroke="#222" stroke-width="0.6" />
<line x1="518.8" y1="175.14" x2="520.4" y2="175.14" stroke="#222" stroke-width="0.6" />
<line x1="518.8" y1="163.28" x2="520.4" y2="163.28" stroke="#222" stroke-width="0.6" />
<line x1="518.8" y1="151.42" x2="520.4" y2="151.42" stroke="#222" stroke-width="0.6" />
<line x1="525.4" y1="246.3" x2="525.4" y2="248.1" stroke="#222" stroke-width="0.6" />
<line x1="533.86" y1="246.3" x2="533.86" y2="248.1" stroke="#222" stroke-width="0.6" />
<line x1="542.32" y1="246.3" x2="542.32" y2="248.1" stroke="#222" stroke-width="0.6" />
<line x1="550.78" y1="246.3" x2="550.78" y2="248.1" stroke="#222" stroke-width="0.6" />
<line x1="559.24" y1="246.3" x2="559.24" y2="248.1" stroke="#222" stroke-width="0.6" />
<line x1="567.7" y1="246.3" x2="567.7" y2="248.1" stroke="#222" stroke-width="0.6" />
<line x1="576.16" y1="246.3" x2="576.16" y2="248.1" stroke="#222" stroke-width="0.6" />
<line x1="584.62" y1="246.3" x2="584.62" y2="248.1" stroke="#222" stroke-width="0.6" />
<line x1="593.08" y1="246.3" x2="593.08" y2="248.1" stroke="#222" stroke-width="0.6" />
<line x1="601.54" y1="246.3" x2="601.54" y2="248.1" stroke="#222" stroke-width="0.6" />
<line x1="610" y1="246.3" x2="610" y2="248.1" stroke="#222" stroke-width="0.6" />
<line x1="618.46" y1="246.3" x2="618.46" y2="248.1" stroke="#222" stroke-width="0.6" />
<line x1="626.92" y1="246.3" x2="626.92" y2="248.1" stroke="#222" stroke-width="0.6" />
<line x1="635.38" y1="246.3" x2="635.38" y2="248.1" stroke="#222" stroke-width="0.6" />
<line x1="643.84" y1="246.3" x2="643.84" y2="248.1" stroke="#222" stroke-width="0.6" />
<line x1="652.3" y1="246.3" x2="652.3" y2="248.1" stroke="#222" stroke-width="0.6" />
<line x1="660.76" y1="246.3" x2="660.76" y2="248.1" stroke="#222" stroke-width="0.6" />
<line x1="669.22" y1="246.3" x2="669.22" y2="248.1" stroke="#222" stroke-width="0.6" />
<text transform="translate(527.1,253.3) rotate(-45)" font-size="4.4" font-weight="bold" fill="#1a1a1a" stroke="#1a1a1a" stroke-width="0.12" text-anchor="end">WT (D614G)</text>
<text transform="translate(535.56,253.3) rotate(-45)" font-size="4.4" font-weight="bold" fill="#1a1a1a" stroke="#1a1a1a" stroke-width="0.12" text-anchor="end">BA.2</text>
<text transform="translate(544.02,253.3) rotate(-45)" font-size="4.4" font-weight="bold" fill="#1a1a1a" stroke="#1a1a1a" stroke-width="0.12" text-anchor="end">BA.2.75</text>
<text transform="translate(552.48,253.3) rotate(-45)" font-size="4.4" font-weight="bold" fill="#1a1a1a" stroke="#1a1a1a" stroke-width="0.12" text-anchor="end">BA.2.75.2</text>
<text transform="translate(560.94,253.3) rotate(-45)" font-size="4.4" font-weight="bold" fill="#1a1a1a" stroke="#1a1a1a" stroke-width="0.12" text-anchor="end">BA.2.75.6</text>
<text transform="translate(569.4,253.3) rotate(-45)" font-size="4.4" font-weight="bold" fill="#1a1a1a" stroke="#1a1a1a" stroke-width="0.12" text-anchor="end">BN.1</text>
<text transform="translate(577.86,253.3) rotate(-45)" font-size="4.4" font-weight="bold" fill="#1a1a1a" stroke="#1a1a1a" stroke-width="0.12" text-anchor="end">CA.3.1</text>
<text transform="translate(586.32,253.3) rotate(-45)" font-size="4.4" font-weight="bold" fill="#1a1a1a" stroke="#1a1a1a" stroke-width="0.12" text-anchor="end">CH.1.1</text>
<text transform="translate(594.78,253.3) rotate(-45)" font-size="4.4" font-weight="bold" fill="#1a1a1a" stroke="#1a1a1a" stroke-width="0.12" text-anchor="end">XBB.1</text>
<text transform="translate(603.24,253.3) rotate(-45)" font-size="4.4" font-weight="bold" fill="#1a1a1a" stroke="#1a1a1a" stroke-width="0.12" text-anchor="end">XBB.1.5</text>
<text transform="translate(611.7,253.3) rotate(-45)" font-size="4.4" font-weight="bold" fill="#1a1a1a" stroke="#1a1a1a" stroke-width="0.12" text-anchor="end">BA.4/5</text>
<text transform="translate(620.16,253.3) rotate(-45)" font-size="4.4" font-weight="bold" fill="#1a1a1a" stroke="#1a1a1a" stroke-width="0.12" text-anchor="end">BA.5.2.7</text>
<text transform="translate(628.62,253.3) rotate(-45)" font-size="4.4" font-weight="bold" fill="#1a1a1a" stroke="#1a1a1a" stroke-width="0.12" text-anchor="end">BE.1.1.1</text>
<text transform="translate(637.08,253.3) rotate(-45)" font-size="4.4" font-weight="bold" fill="#1a1a1a" stroke="#1a1a1a" stroke-width="0.12" text-anchor="end">BF.7</text>
<text transform="translate(645.54,253.3) rotate(-45)" font-size="4.4" font-weight="bold" fill="#1a1a1a" stroke="#1a1a1a" stroke-width="0.12" text-anchor="end">BF.14</text>
<text transform="translate(654,253.3) rotate(-45)" font-size="4.4" font-weight="bold" fill="#1a1a1a" stroke="#1a1a1a" stroke-width="0.12" text-anchor="end">BF.16</text>
<text transform="translate(662.46,253.3) rotate(-45)" font-size="4.4" font-weight="bold" fill="#1a1a1a" stroke="#1a1a1a" stroke-width="0.12" text-anchor="end">BQ.1</text>
<text transform="translate(670.92,253.3) rotate(-45)" font-size="4.4" font-weight="bold" fill="#1a1a1a" stroke="#1a1a1a" stroke-width="0.12" text-anchor="end">BQ.1.1</text>
<line x1="520.4" y1="227.32" x2="674.5" y2="227.32" stroke="#999" stroke-width="0.55" stroke-dasharray="2.2,1.2"/>
<rect x="533.86" y="197.01" width="8.46" height="3.6" fill="none" stroke="#555" stroke-width="0.45"/>
<rect x="610" y="195.72" width="8.46" height="3.6" fill="none" stroke="#555" stroke-width="0.45"/>
<line x1="533.86" y1="165.3" x2="601.54" y2="165.3" stroke="#222" stroke-width="0.8" />
<text x="557.36" y="164.9" font-size="4.3" fill="#111" text-anchor="start" textLength="32" lengthAdjust="spacingAndGlyphs" stroke="#111" stroke-width="0.28">p=0.0005 (3.1X)</text>
<line x1="533.86" y1="170.23" x2="593.08" y2="170.23" stroke="#222" stroke-width="0.8" />
<text x="554.06" y="169.83" font-size="4.3" fill="#111" text-anchor="start" textLength="32" lengthAdjust="spacingAndGlyphs" stroke="#111" stroke-width="0.28">p=0.0010 (3.1X)</text>
<line x1="533.86" y1="175.16" x2="584.62" y2="175.16" stroke="#222" stroke-width="0.8" />
<text x="550.76" y="174.76" font-size="4.3" fill="#111" text-anchor="start" textLength="32" lengthAdjust="spacingAndGlyphs" stroke="#111" stroke-width="0.28">p=0.0005 (2.9X)</text>
<line x1="533.86" y1="180.09" x2="576.16" y2="180.09" stroke="#222" stroke-width="0.8" />
<text x="547.46" y="179.69" font-size="4.3" fill="#111" text-anchor="start" textLength="32" lengthAdjust="spacingAndGlyphs" stroke="#111" stroke-width="0.28">p=0.0010 (2.8X)</text>
<line x1="533.86" y1="185.02" x2="567.7" y2="185.02" stroke="#222" stroke-width="0.8" />
<text x="544.16" y="184.62" font-size="4.3" fill="#111" text-anchor="start" textLength="32" lengthAdjust="spacingAndGlyphs" stroke="#111" stroke-width="0.28">p=0.0068 (2.9X)</text>
<line x1="533.86" y1="189.95" x2="559.24" y2="189.95" stroke="#222" stroke-width="0.8" />
<text x="540.86" y="189.55" font-size="4.3" fill="#111" text-anchor="start" textLength="32" lengthAdjust="spacingAndGlyphs" stroke="#111" stroke-width="0.28">p=0.0122 (3.4X)</text>
<line x1="533.86" y1="194.88" x2="550.78" y2="194.88" stroke="#222" stroke-width="0.8" />
<text x="537.56" y="194.48" font-size="4.3" fill="#111" text-anchor="start" textLength="32" lengthAdjust="spacingAndGlyphs" stroke="#111" stroke-width="0.28">p=0.0034 (3.2X)</text>
<line x1="533.86" y1="199.81" x2="542.32" y2="199.81" stroke="#222" stroke-width="0.8" />
<text x="534.26" y="199.41" font-size="4.3" fill="#111" text-anchor="start" textLength="32" lengthAdjust="spacingAndGlyphs" stroke="#111" stroke-width="0.28">p=0.0522 (1.6X)</text>
<line x1="610" y1="170.2" x2="669.22" y2="170.2" stroke="#222" stroke-width="0.8" />
<text x="630.1" y="169.8" font-size="4.3" fill="#111" text-anchor="start" textLength="32" lengthAdjust="spacingAndGlyphs" stroke="#111" stroke-width="0.28">p=0.4697 (1.2X)</text>
<line x1="610" y1="174.92" x2="660.76" y2="174.92" stroke="#222" stroke-width="0.8" />
<text x="626.8" y="174.52" font-size="4.3" fill="#111" text-anchor="start" textLength="32" lengthAdjust="spacingAndGlyphs" stroke="#111" stroke-width="0.28">p=0.3161 (1.5X)</text>
<line x1="610" y1="179.64" x2="652.3" y2="179.64" stroke="#222" stroke-width="0.8" />
<text x="623.5" y="179.24" font-size="4.3" fill="#111" text-anchor="start" textLength="32" lengthAdjust="spacingAndGlyphs" stroke="#111" stroke-width="0.28">p=0.0640 (0.8X)</text>
<line x1="610" y1="184.36" x2="643.84" y2="184.36" stroke="#222" stroke-width="0.8" />
<text x="620.2" y="183.96" font-size="4.3" fill="#111" text-anchor="start" textLength="32" lengthAdjust="spacingAndGlyphs" stroke="#111" stroke-width="0.28">p=0.1294 (1.3X)</text>
<line x1="610" y1="189.08" x2="635.38" y2="189.08" stroke="#222" stroke-width="0.8" />
<text x="616.9" y="188.68" font-size="4.3" fill="#111" text-anchor="start" textLength="32" lengthAdjust="spacingAndGlyphs" stroke="#111" stroke-width="0.28">p=0.0269 (0.7X)</text>
<line x1="610" y1="193.8" x2="626.92" y2="193.8" stroke="#222" stroke-width="0.8" />
<text x="613.6" y="193.4" font-size="4.3" fill="#111" text-anchor="start" textLength="32" lengthAdjust="spacingAndGlyphs" stroke="#111" stroke-width="0.28">p=0.6221 (1.0X)</text>
<line x1="610" y1="198.52" x2="618.46" y2="198.52" stroke="#222" stroke-width="0.8" />
<text x="610.3" y="198.12" font-size="4.3" fill="#111" text-anchor="start" textLength="32" lengthAdjust="spacingAndGlyphs" stroke="#111" stroke-width="0.28">p=0.5093 (1.1X)</text>
<circle cx="523.64" cy="210.15" r="0.85" fill="#111111"/>
<circle cx="526.63" cy="208.82" r="0.8" fill="none" stroke="#111111" stroke-width="0.5"/>
<path d="M525.44 206.34l1.0 1.6h-2.0z" fill="#111111"/>
<rect x="526.67" y="205.62" width="1.5" height="1.5" fill="none" stroke="#111111" stroke-width="0.5"/>
<circle cx="522.62" cy="205.52" r="0.85" fill="#111111"/>
<circle cx="525.67" cy="204.14" r="0.8" fill="none" stroke="#111111" stroke-width="0.5"/>
<path d="M523.97 201.98l1.0 1.6h-2.0z" fill="#111111"/>
<rect x="526.16" y="201.24" width="1.5" height="1.5" fill="none" stroke="#111111" stroke-width="0.5"/>
<circle cx="523.13" cy="200.56" r="0.85" fill="#111111"/>
<circle cx="525.5" cy="199.01" r="0.8" fill="none" stroke="#111111" stroke-width="0.5"/>
<circle cx="532.06" cy="212.64" r="0.8" fill="none" stroke="#f26b6b" stroke-width="0.5"/>
<path d="M534.75 211.1l1.0 1.6h-2.0z" fill="#f26b6b"/>
<rect x="532.81" y="210.98" width="1.5" height="1.5" fill="none" stroke="#f26b6b" stroke-width="0.5"/>
<circle cx="536.16" cy="211.44" r="0.85" fill="#f26b6b"/>
<circle cx="531.47" cy="211.07" r="0.8" fill="none" stroke="#f26b6b" stroke-width="0.5"/>
<path d="M534.84 210l1.0 1.6h-2.0z" fill="#f26b6b"/>
<rect x="532.3" y="209.63" width="1.5" height="1.5" fill="none" stroke="#f26b6b" stroke-width="0.5"/>
<circle cx="535.57" cy="210.21" r="0.85" fill="#f26b6b"/>
<circle cx="531.75" cy="209.42" r="0.8" fill="none" stroke="#f26b6b" stroke-width="0.5"/>
<path d="M534.36 208.6l1.0 1.6h-2.0z" fill="#f26b6b"/>
<rect x="536.26" y="207.94" width="1.5" height="1.5" fill="none" stroke="#f26b6b" stroke-width="0.5"/>
<circle cx="532.62" cy="207.68" r="0.85" fill="#f26b6b"/>
<circle cx="531.8" cy="206.73" r="0.8" fill="none" stroke="#f26b6b" stroke-width="0.5"/>
<path d="M535.15 205.04l1.0 1.6h-2.0z" fill="#f26b6b"/>
<line x1="530.66" y1="209.42" x2="537.06" y2="209.42" stroke="#444" stroke-width="0.6" />
<path d="M540.91 214.12l1.0 1.6h-2.0z" fill="#36b3c9"/>
<rect x="543.04" y="211.5" width="1.5" height="1.5" fill="none" stroke="#36b3c9" stroke-width="0.5"/>
<circle cx="542.21" cy="212.33" r="0.85" fill="#36b3c9"/>
<circle cx="545.07" cy="211.88" r="0.8" fill="none" stroke="#36b3c9" stroke-width="0.5"/>
<path d="M539.92 210.02l1.0 1.6h-2.0z" fill="#36b3c9"/>
<rect x="542.4" y="209.16" width="1.5" height="1.5" fill="none" stroke="#36b3c9" stroke-width="0.5"/>
<circle cx="540.97" cy="208.91" r="0.85" fill="#36b3c9"/>
<circle cx="544.46" cy="208.34" r="0.8" fill="none" stroke="#36b3c9" stroke-width="0.5"/>
<path d="M540.4 206.75l1.0 1.6h-2.0z" fill="#36b3c9"/>
<rect x="541.41" y="205.67" width="1.5" height="1.5" fill="none" stroke="#36b3c9" stroke-width="0.5"/>
<circle cx="545.27" cy="205.48" r="0.85" fill="#36b3c9"/>
<circle cx="541.29" cy="201.16" r="0.8" fill="none" stroke="#36b3c9" stroke-width="0.5"/>
<line x1="539.12" y1="213.33" x2="545.52" y2="213.33" stroke="#444" stroke-width="0.6" />
<rect x="548.03" y="217.71" width="1.5" height="1.5" fill="none" stroke="#b03845" stroke-width="0.5"/>
<circle cx="552.36" cy="218.39" r="0.85" fill="#b03845"/>
<circle cx="550.87" cy="218.48" r="0.8" fill="none" stroke="#b03845" stroke-width="0.5"/>
<path d="M552.88 215.29l1.0 1.6h-2.0z" fill="#b03845"/>
<rect x="546.95" y="215.02" width="1.5" height="1.5" fill="none" stroke="#b03845" stroke-width="0.5"/>
<circle cx="551.63" cy="215.16" r="0.85" fill="#b03845"/>
<circle cx="549.62" cy="214.4" r="0.8" fill="none" stroke="#b03845" stroke-width="0.5"/>
<path d="M552.4 211.13l1.0 1.6h-2.0z" fill="#b03845"/>
<rect x="547.64" y="211.21" width="1.5" height="1.5" fill="none" stroke="#b03845" stroke-width="0.5"/>
<circle cx="550.63" cy="210.89" r="0.85" fill="#b03845"/>
<circle cx="553.74" cy="210.91" r="0.8" fill="none" stroke="#b03845" stroke-width="0.5"/>
<path d="M549.98 209.77l1.0 1.6h-2.0z" fill="#b03845"/>
<line x1="547.58" y1="214.63" x2="553.98" y2="214.63" stroke="#444" stroke-width="0.6" />
<circle cx="557.14" cy="214.18" r="0.85" fill="#1f8a45"/>
<circle cx="560.43" cy="214.09" r="0.8" fill="none" stroke="#1f8a45" stroke-width="0.5"/>
<path d="M559.3 213.11l1.0 1.6h-2.0z" fill="#1f8a45"/>
<rect x="560.85" y="213.18" width="1.5" height="1.5" fill="none" stroke="#1f8a45" stroke-width="0.5"/>
<circle cx="556.65" cy="213.41" r="0.85" fill="#1f8a45"/>
<circle cx="560.22" cy="212.61" r="0.8" fill="none" stroke="#1f8a45" stroke-width="0.5"/>
<path d="M557.7 210.76l1.0 1.6h-2.0z" fill="#1f8a45"/>
<rect x="560" y="210.24" width="1.5" height="1.5" fill="none" stroke="#1f8a45" stroke-width="0.5"/>
<circle cx="556.97" cy="210.99" r="0.85" fill="#1f8a45"/>
<circle cx="559.27" cy="210.62" r="0.8" fill="none" stroke="#1f8a45" stroke-width="0.5"/>
<path d="M562.36 208.67l1.0 1.6h-2.0z" fill="#1f8a45"/>
<rect x="557.38" y="208.2" width="1.5" height="1.5" fill="none" stroke="#1f8a45" stroke-width="0.5"/>
<line x1="556.04" y1="213.33" x2="562.44" y2="213.33" stroke="#444" stroke-width="0.6" />
<circle cx="565.93" cy="217.64" r="0.8" fill="none" stroke="#f07f24" stroke-width="0.5"/>
<path d="M568.89 216.32l1.0 1.6h-2.0z" fill="#f07f24"/>
<rect x="566.33" y="216.52" width="1.5" height="1.5" fill="none" stroke="#f07f24" stroke-width="0.5"/>
<circle cx="570.34" cy="216.66" r="0.85" fill="#f07f24"/>
<circle cx="564.69" cy="215.72" r="0.8" fill="none" stroke="#f07f24" stroke-width="0.5"/>
<path d="M568.6 213.98l1.0 1.6h-2.0z" fill="#f07f24"/>
<rect x="565.96" y="212.69" width="1.5" height="1.5" fill="none" stroke="#f07f24" stroke-width="0.5"/>
<circle cx="569.9" cy="213.22" r="0.85" fill="#f07f24"/>
<circle cx="565.32" cy="213.14" r="0.8" fill="none" stroke="#f07f24" stroke-width="0.5"/>
<path d="M568.06 209.85l1.0 1.6h-2.0z" fill="#f07f24"/>
<rect x="569.65" y="207.26" width="1.5" height="1.5" fill="none" stroke="#f07f24" stroke-width="0.5"/>
<circle cx="566.7" cy="207.83" r="0.85" fill="#f07f24"/>
<line x1="564.5" y1="215.94" x2="570.9" y2="215.94" stroke="#444" stroke-width="0.6" />
<path d="M574.59 216.64l1.0 1.6h-2.0z" fill="#c9cc2a"/>
<rect x="576.73" y="216.81" width="1.5" height="1.5" fill="none" stroke="#c9cc2a" stroke-width="0.5"/>
<circle cx="575.65" cy="215.99" r="0.85" fill="#c9cc2a"/>
<circle cx="578.34" cy="215.42" r="0.8" fill="none" stroke="#c9cc2a" stroke-width="0.5"/>
<path d="M573.48 214.18l1.0 1.6h-2.0z" fill="#c9cc2a"/>
<rect x="575.87" y="214.21" width="1.5" height="1.5" fill="none" stroke="#c9cc2a" stroke-width="0.5"/>
<circle cx="575.32" cy="215.04" r="0.85" fill="#c9cc2a"/>
<circle cx="578.42" cy="214.58" r="0.8" fill="none" stroke="#c9cc2a" stroke-width="0.5"/>
<path d="M573.97 213.3l1.0 1.6h-2.0z" fill="#c9cc2a"/>
<rect x="575.39" y="213.6" width="1.5" height="1.5" fill="none" stroke="#c9cc2a" stroke-width="0.5"/>
<circle cx="578.8" cy="212.22" r="0.85" fill="#c9cc2a"/>
<circle cx="575.48" cy="212.02" r="0.8" fill="none" stroke="#c9cc2a" stroke-width="0.5"/>
<line x1="572.96" y1="215.94" x2="579.36" y2="215.94" stroke="#444" stroke-width="0.6" />
<rect x="582.32" y="217.65" width="1.5" height="1.5" fill="none" stroke="#d1873a" stroke-width="0.5"/>
<circle cx="585.42" cy="218.56" r="0.85" fill="#d1873a"/>
<circle cx="584.58" cy="218.24" r="0.8" fill="none" stroke="#d1873a" stroke-width="0.5"/>
<path d="M587.23 216.69l1.0 1.6h-2.0z" fill="#d1873a"/>
<rect x="581.28" y="216.66" width="1.5" height="1.5" fill="none" stroke="#d1873a" stroke-width="0.5"/>
<circle cx="585.61" cy="215.75" r="0.85" fill="#d1873a"/>
<circle cx="583.69" cy="215.56" r="0.8" fill="none" stroke="#d1873a" stroke-width="0.5"/>
<path d="M586.37 213.59l1.0 1.6h-2.0z" fill="#d1873a"/>
<rect x="581.82" y="212.83" width="1.5" height="1.5" fill="none" stroke="#d1873a" stroke-width="0.5"/>
<circle cx="584.77" cy="213.04" r="0.85" fill="#d1873a"/>
<circle cx="587.32" cy="212.41" r="0.8" fill="none" stroke="#d1873a" stroke-width="0.5"/>
<path d="M583.43 211.57l1.0 1.6h-2.0z" fill="#d1873a"/>
<line x1="581.42" y1="216.65" x2="587.82" y2="216.65" stroke="#444" stroke-width="0.6" />
<circle cx="591.41" cy="217.06" r="0.85" fill="#e8263b"/>
<circle cx="594.21" cy="216.86" r="0.8" fill="none" stroke="#e8263b" stroke-width="0.5"/>
<path d="M592.4 215.86l1.0 1.6h-2.0z" fill="#e8263b"/>
<rect x="594.52" y="216.04" width="1.5" height="1.5" fill="none" stroke="#e8263b" stroke-width="0.5"/>
<circle cx="590.55" cy="216.61" r="0.85" fill="#e8263b"/>
<circle cx="593.71" cy="216.32" r="0.8" fill="none" stroke="#e8263b" stroke-width="0.5"/>
<path d="M591.58 215.23l1.0 1.6h-2.0z" fill="#e8263b"/>
<rect x="594.06" y="214.85" width="1.5" height="1.5" fill="none" stroke="#e8263b" stroke-width="0.5"/>
<circle cx="591.07" cy="214.75" r="0.85" fill="#e8263b"/>
<circle cx="593.04" cy="214.03" r="0.8" fill="none" stroke="#e8263b" stroke-width="0.5"/>
<path d="M596.27 212.65l1.0 1.6h-2.0z" fill="#e8263b"/>
<rect x="591.41" y="212.58" width="1.5" height="1.5" fill="none" stroke="#e8263b" stroke-width="0.5"/>
<line x1="589.88" y1="215.94" x2="596.28" y2="215.94" stroke="#444" stroke-width="0.6" />
<circle cx="599.75" cy="219.86" r="0.8" fill="none" stroke="#8d35b5" stroke-width="0.5"/>
<path d="M602.7 216.76l1.0 1.6h-2.0z" fill="#8d35b5"/>
<rect x="600.82" y="216.81" width="1.5" height="1.5" fill="none" stroke="#8d35b5" stroke-width="0.5"/>
<circle cx="604.28" cy="216.98" r="0.85" fill="#8d35b5"/>
<circle cx="599.21" cy="216.18" r="0.8" fill="none" stroke="#8d35b5" stroke-width="0.5"/>
<path d="M602.48 215.19l1.0 1.6h-2.0z" fill="#8d35b5"/>
<rect x="599.89" y="213.72" width="1.5" height="1.5" fill="none" stroke="#8d35b5" stroke-width="0.5"/>
<circle cx="603.83" cy="213.49" r="0.85" fill="#8d35b5"/>
<circle cx="599.62" cy="212.26" r="0.8" fill="none" stroke="#8d35b5" stroke-width="0.5"/>
<path d="M601.54 211.25l1.0 1.6h-2.0z" fill="#8d35b5"/>
<rect x="603.46" y="211.13" width="1.5" height="1.5" fill="none" stroke="#8d35b5" stroke-width="0.5"/>
<circle cx="600.61" cy="211.27" r="0.85" fill="#8d35b5"/>
<line x1="598.34" y1="217.24" x2="604.74" y2="217.24" stroke="#444" stroke-width="0.6" />
<path d="M608.27 214.16l1.0 1.6h-2.0z" fill="#b0a060"/>
<rect x="610.39" y="213.08" width="1.5" height="1.5" fill="none" stroke="#b0a060" stroke-width="0.5"/>
<circle cx="609.55" cy="212.76" r="0.85" fill="#b0a060"/>
<circle cx="612.36" cy="212.88" r="0.8" fill="none" stroke="#b0a060" stroke-width="0.5"/>
<path d="M607.35 211.6l1.0 1.6h-2.0z" fill="#b0a060"/>
<rect x="609.49" y="210.99" width="1.5" height="1.5" fill="none" stroke="#b0a060" stroke-width="0.5"/>
<circle cx="608.68" cy="211.71" r="0.85" fill="#b0a060"/>
<circle cx="612.21" cy="211.32" r="0.8" fill="none" stroke="#b0a060" stroke-width="0.5"/>
<path d="M608.02 209.6l1.0 1.6h-2.0z" fill="#b0a060"/>
<rect x="609.38" y="208.94" width="1.5" height="1.5" fill="none" stroke="#b0a060" stroke-width="0.5"/>
<circle cx="612.53" cy="209.25" r="0.85" fill="#b0a060"/>
<circle cx="609.23" cy="208.66" r="0.8" fill="none" stroke="#b0a060" stroke-width="0.5"/>
<line x1="606.8" y1="210.13" x2="613.2" y2="210.13" stroke="#444" stroke-width="0.6" />
<rect x="616.03" y="214.79" width="1.5" height="1.5" fill="none" stroke="#4b5be6" stroke-width="0.5"/>
<circle cx="619.71" cy="214.99" r="0.85" fill="#4b5be6"/>
<circle cx="618.54" cy="214" r="0.8" fill="none" stroke="#4b5be6" stroke-width="0.5"/>
<path d="M620.89 212.66l1.0 1.6h-2.0z" fill="#4b5be6"/>
<rect x="614.69" y="212.59" width="1.5" height="1.5" fill="none" stroke="#4b5be6" stroke-width="0.5"/>
<circle cx="618.84" cy="213.26" r="0.85" fill="#4b5be6"/>
<circle cx="616.87" cy="212.77" r="0.8" fill="none" stroke="#4b5be6" stroke-width="0.5"/>
<path d="M620.65 211.71l1.0 1.6h-2.0z" fill="#4b5be6"/>
<rect x="615.69" y="211.36" width="1.5" height="1.5" fill="none" stroke="#4b5be6" stroke-width="0.5"/>
<circle cx="618.35" cy="211.94" r="0.85" fill="#4b5be6"/>
<circle cx="621.2" cy="210.6" r="0.8" fill="none" stroke="#4b5be6" stroke-width="0.5"/>
<path d="M617.44 208l1.0 1.6h-2.0z" fill="#4b5be6"/>
<line x1="615.26" y1="211.91" x2="621.66" y2="211.91" stroke="#444" stroke-width="0.6" />
<circle cx="625.33" cy="215.99" r="0.85" fill="#f0409a"/>
<circle cx="628.07" cy="215.79" r="0.8" fill="none" stroke="#f0409a" stroke-width="0.5"/>
<path d="M626.76 214.36l1.0 1.6h-2.0z" fill="#f0409a"/>
<rect x="628.6" y="214.34" width="1.5" height="1.5" fill="none" stroke="#f0409a" stroke-width="0.5"/>
<circle cx="624.4" cy="213.42" r="0.85" fill="#f0409a"/>
<circle cx="627.37" cy="213.34" r="0.8" fill="none" stroke="#f0409a" stroke-width="0.5"/>
<path d="M625.4 212.05l1.0 1.6h-2.0z" fill="#f0409a"/>
<rect x="628.25" y="212.06" width="1.5" height="1.5" fill="none" stroke="#f0409a" stroke-width="0.5"/>
<circle cx="624.46" cy="211.69" r="0.85" fill="#f0409a"/>
<circle cx="626.71" cy="211.51" r="0.8" fill="none" stroke="#f0409a" stroke-width="0.5"/>
<path d="M629.54 210.04l1.0 1.6h-2.0z" fill="#f0409a"/>
<rect x="625.07" y="210.08" width="1.5" height="1.5" fill="none" stroke="#f0409a" stroke-width="0.5"/>
<line x1="623.72" y1="211.91" x2="630.12" y2="211.91" stroke="#444" stroke-width="0.6" />
<circle cx="633.47" cy="214.38" r="0.8" fill="none" stroke="#283593" stroke-width="0.5"/>
<path d="M636.32 212.67l1.0 1.6h-2.0z" fill="#283593"/>
<rect x="634.39" y="212.31" width="1.5" height="1.5" fill="none" stroke="#283593" stroke-width="0.5"/>
<circle cx="637.62" cy="212.06" r="0.85" fill="#283593"/>
<circle cx="632.9" cy="211.93" r="0.8" fill="none" stroke="#283593" stroke-width="0.5"/>
<path d="M635.85 210.96l1.0 1.6h-2.0z" fill="#283593"/>
<rect x="633.66" y="210.96" width="1.5" height="1.5" fill="none" stroke="#283593" stroke-width="0.5"/>
<circle cx="637.26" cy="209.79" r="0.85" fill="#283593"/>
<circle cx="632.89" cy="208.25" r="0.8" fill="none" stroke="#283593" stroke-width="0.5"/>
<path d="M635.57 206.85l1.0 1.6h-2.0z" fill="#283593"/>
<rect x="637.87" y="207.12" width="1.5" height="1.5" fill="none" stroke="#283593" stroke-width="0.5"/>
<circle cx="634.11" cy="207.68" r="0.85" fill="#283593"/>
<line x1="632.18" y1="210.72" x2="638.58" y2="210.72" stroke="#444" stroke-width="0.6" />
<path d="M642.25 214.53l1.0 1.6h-2.0z" fill="#8e3d85"/>
<rect x="644.64" y="214.38" width="1.5" height="1.5" fill="none" stroke="#8e3d85" stroke-width="0.5"/>
<circle cx="643.46" cy="214.87" r="0.85" fill="#8e3d85"/>
<circle cx="646.12" cy="214.71" r="0.8" fill="none" stroke="#8e3d85" stroke-width="0.5"/>
<path d="M641.45 212.95l1.0 1.6h-2.0z" fill="#8e3d85"/>
<rect x="643.73" y="211.49" width="1.5" height="1.5" fill="none" stroke="#8e3d85" stroke-width="0.5"/>
<circle cx="642.33" cy="211.09" r="0.85" fill="#8e3d85"/>
<circle cx="645.96" cy="209.99" r="0.8" fill="none" stroke="#8e3d85" stroke-width="0.5"/>
<path d="M641.72 208.32l1.0 1.6h-2.0z" fill="#8e3d85"/>
<rect x="643.56" y="207.99" width="1.5" height="1.5" fill="none" stroke="#8e3d85" stroke-width="0.5"/>
<circle cx="646.97" cy="208.51" r="0.85" fill="#8e3d85"/>
<circle cx="642.79" cy="205.78" r="0.8" fill="none" stroke="#8e3d85" stroke-width="0.5"/>
<line x1="640.64" y1="210.72" x2="647.04" y2="210.72" stroke="#444" stroke-width="0.6" />
<rect x="650.09" y="215.46" width="1.5" height="1.5" fill="none" stroke="#a88a4a" stroke-width="0.5"/>
<circle cx="653.58" cy="215.05" r="0.85" fill="#a88a4a"/>
<circle cx="651.82" cy="212.59" r="0.8" fill="none" stroke="#a88a4a" stroke-width="0.5"/>
<path d="M655.04 211.22l1.0 1.6h-2.0z" fill="#a88a4a"/>
<rect x="648.48" y="211.09" width="1.5" height="1.5" fill="none" stroke="#a88a4a" stroke-width="0.5"/>
<circle cx="653.3" cy="210.48" r="0.85" fill="#a88a4a"/>
<circle cx="650.87" cy="210.23" r="0.8" fill="none" stroke="#a88a4a" stroke-width="0.5"/>
<path d="M654.52 209.02l1.0 1.6h-2.0z" fill="#a88a4a"/>
<rect x="649.42" y="208.93" width="1.5" height="1.5" fill="none" stroke="#a88a4a" stroke-width="0.5"/>
<circle cx="652.33" cy="209.58" r="0.85" fill="#a88a4a"/>
<circle cx="654.8" cy="209.07" r="0.8" fill="none" stroke="#a88a4a" stroke-width="0.5"/>
<path d="M651.05 207.97l1.0 1.6h-2.0z" fill="#a88a4a"/>
<line x1="649.1" y1="210.13" x2="655.5" y2="210.13" stroke="#444" stroke-width="0.6" />
<circle cx="658.57" cy="216.29" r="0.85" fill="#2a3fd0"/>
<circle cx="661.81" cy="215.57" r="0.8" fill="none" stroke="#2a3fd0" stroke-width="0.5"/>
<path d="M660.39 213.8l1.0 1.6h-2.0z" fill="#2a3fd0"/>
<rect x="662.75" y="213.31" width="1.5" height="1.5" fill="none" stroke="#2a3fd0" stroke-width="0.5"/>
<circle cx="658.36" cy="213.95" r="0.85" fill="#2a3fd0"/>
<circle cx="661.54" cy="213.97" r="0.8" fill="none" stroke="#2a3fd0" stroke-width="0.5"/>
<path d="M659.4 212.64l1.0 1.6h-2.0z" fill="#2a3fd0"/>
<rect x="661.67" y="211.91" width="1.5" height="1.5" fill="none" stroke="#2a3fd0" stroke-width="0.5"/>
<circle cx="658.64" cy="212.31" r="0.85" fill="#2a3fd0"/>
<circle cx="660.59" cy="211.82" r="0.8" fill="none" stroke="#2a3fd0" stroke-width="0.5"/>
<path d="M663.92 210.17l1.0 1.6h-2.0z" fill="#2a3fd0"/>
<rect x="659.49" y="208.94" width="1.5" height="1.5" fill="none" stroke="#2a3fd0" stroke-width="0.5"/>
<line x1="657.56" y1="211.91" x2="663.96" y2="211.91" stroke="#444" stroke-width="0.6" />
<circle cx="667.8" cy="216.87" r="0.8" fill="none" stroke="#c77ef2" stroke-width="0.5"/>
<path d="M670.03 214.19l1.0 1.6h-2.0z" fill="#c77ef2"/>
<rect x="668.09" y="212.49" width="1.5" height="1.5" fill="none" stroke="#c77ef2" stroke-width="0.5"/>
<circle cx="671.69" cy="212.93" r="0.85" fill="#c77ef2"/>
<circle cx="666.31" cy="212.36" r="0.8" fill="none" stroke="#c77ef2" stroke-width="0.5"/>
<path d="M670.12 210.21l1.0 1.6h-2.0z" fill="#c77ef2"/>
<rect x="667.1" y="209.8" width="1.5" height="1.5" fill="none" stroke="#c77ef2" stroke-width="0.5"/>
<circle cx="670.98" cy="210.37" r="0.85" fill="#c77ef2"/>
<circle cx="667.33" cy="210.61" r="0.8" fill="none" stroke="#c77ef2" stroke-width="0.5"/>
<path d="M669.11 208.51l1.0 1.6h-2.0z" fill="#c77ef2"/>
<rect x="671.53" y="208.56" width="1.5" height="1.5" fill="none" stroke="#c77ef2" stroke-width="0.5"/>
<circle cx="668.3" cy="207.73" r="0.85" fill="#c77ef2"/>
<line x1="666.02" y1="211.91" x2="672.42" y2="211.91" stroke="#444" stroke-width="0.6" />
<text x="1.4" y="17.6" font-size="22.5" fill="#000" font-weight="bold" text-anchor="start" >a</text>
<text x="181.3" y="17.8" font-size="22.5" fill="#000" font-weight="bold" text-anchor="start" >b</text>
<text x="181.2" y="154.2" font-size="22.5" fill="#000" font-weight="bold" text-anchor="start" >c</text>
<text x="4.6" y="301" font-size="22.5" fill="#000" font-weight="bold" text-anchor="start" >d</text>
<text x="326.6" y="300.8" font-size="22.5" fill="#000" font-weight="bold" text-anchor="start" >e</text>
<text x="4" y="424.8" font-size="22.5" fill="#000" font-weight="bold" text-anchor="start" >f</text>
<text x="47.7" y="292.7" font-size="7.5" fill="#f02a2a" font-weight="bold" text-anchor="start" textLength="71.6" lengthAdjust="spacingAndGlyphs" >Booster vaccination</text>
<text x="144.5" y="292.7" font-size="7.5" fill="#2b2bee" font-weight="bold" text-anchor="start" textLength="52.2" lengthAdjust="spacingAndGlyphs" >Previous wave</text>
<text x="224.4" y="293" font-size="7.5" fill="#22b822" font-weight="bold" text-anchor="start" textLength="45.1" lengthAdjust="spacingAndGlyphs" >Recent wave</text>
<line x1="41.1" y1="301.9" x2="48.6" y2="301.9" stroke="#f02a2a" stroke-width="0.6" />
<circle cx="44.85" cy="301.9" r="0.8" fill="#f02a2a"/>
<text x="52.5" y="303.6" font-size="5.4" fill="#f02a2a" font-weight="bold" text-anchor="stroke="#f02a2a" stroke-width="0.1"" textLength="52.1" lengthAdjust="spacingAndGlyphs" >3 × CoronaVac (14d)</text>
<line x1="41.1" y1="309.7" x2="48.6" y2="309.7" stroke="#f02a2a" stroke-width="0.6" />
<circle cx="44.85" cy="309.7" r="0.8" fill="#f02a2a"/>
<text x="52.5" y="311.4" font-size="5.4" fill="#f02a2a" font-weight="bold" text-anchor="stroke="#f02a2a" stroke-width="0.1"" textLength="76.7" lengthAdjust="spacingAndGlyphs" >2 × CoronaVac + ZF2001 (14d)</text>
<line x1="133" y1="301.9" x2="140.5" y2="301.9" stroke="#2b2bee" stroke-width="0.6" />
<circle cx="136.75" cy="301.9" r="0.8" fill="#2b2bee"/>
<text x="144" y="303.6" font-size="5.4" fill="#2b2bee" font-weight="bold" text-anchor="stroke="#2b2bee" stroke-width="0.1"" textLength="62.5" lengthAdjust="spacingAndGlyphs" >Delta breakthrough (6M)</text>
<line x1="133" y1="309.7" x2="140.5" y2="309.7" stroke="#2b2bee" stroke-width="0.6" />
<circle cx="136.75" cy="309.7" r="0.8" fill="#2b2bee"/>
<text x="144" y="311.4" font-size="5.4" fill="#2b2bee" font-weight="bold" text-anchor="stroke="#2b2bee" stroke-width="0.1"" textLength="60" lengthAdjust="spacingAndGlyphs" >BA.2 breakthrough (6M)</text>
<line x1="213" y1="301.9" x2="220.5" y2="301.9" stroke="#22b822" stroke-width="0.6" />
<circle cx="216.75" cy="301.9" r="0.8" fill="#22b822"/>
<text x="223.6" y="303.6" font-size="5.4" fill="#22b822" font-weight="bold" text-anchor="stroke="#22b822" stroke-width="0.1"" textLength="63" lengthAdjust="spacingAndGlyphs" >BA.5 breakthrough (14d)</text>
<line x1="213" y1="309.7" x2="220.5" y2="309.7" stroke="#22b822" stroke-width="0.6" />
<circle cx="216.75" cy="309.7" r="0.8" fill="#22b822"/>
<text x="223.6" y="311.4" font-size="5.4" fill="#22b822" font-weight="bold" text-anchor="stroke="#22b822" stroke-width="0.1"" textLength="62" lengthAdjust="spacingAndGlyphs" >BF.7 breakthrough (14d)</text>
<line x1="42.5" y1="317.7" x2="42.5" y2="378.7" stroke="#222" stroke-width="0.9" />
<line x1="42.5" y1="378.7" x2="288.2" y2="378.7" stroke="#222" stroke-width="0.9" />
<line x1="40.9" y1="378.7" x2="42.5" y2="378.7" stroke="#222" stroke-width="0.6" />
<text x="40.6" y="380.7" font-size="5.6" fill="#222" text-anchor="end" stroke="#222" stroke-width="0.15">10<tspan font-size="3.64" dy="-2.24">0</tspan></text>
<line x1="40.9" y1="366.5" x2="42.5" y2="366.5" stroke="#222" stroke-width="0.6" />
<text x="40.6" y="368.5" font-size="5.6" fill="#222" text-anchor="end" stroke="#222" stroke-width="0.15">10<tspan font-size="3.64" dy="-2.24">1</tspan></text>
<line x1="40.9" y1="354.3" x2="42.5" y2="354.3" stroke="#222" stroke-width="0.6" />
<text x="40.6" y="356.3" font-size="5.6" fill="#222" text-anchor="end" stroke="#222" stroke-width="0.15">10<tspan font-size="3.64" dy="-2.24">2</tspan></text>
<line x1="40.9" y1="342.1" x2="42.5" y2="342.1" stroke="#222" stroke-width="0.6" />
<text x="40.6" y="344.1" font-size="5.6" fill="#222" text-anchor="end" stroke="#222" stroke-width="0.15">10<tspan font-size="3.64" dy="-2.24">3</tspan></text>
<line x1="40.9" y1="329.9" x2="42.5" y2="329.9" stroke="#222" stroke-width="0.6" />
<text x="40.6" y="331.9" font-size="5.6" fill="#222" text-anchor="end" stroke="#222" stroke-width="0.15">10<tspan font-size="3.64" dy="-2.24">4</tspan></text>
<line x1="40.9" y1="317.7" x2="42.5" y2="317.7" stroke="#222" stroke-width="0.6" />
<text x="40.6" y="319.7" font-size="5.6" fill="#222" text-anchor="end" stroke="#222" stroke-width="0.15">10<tspan font-size="3.64" dy="-2.24">5</tspan></text>
<line x1="48.9" y1="378.7" x2="48.9" y2="380.5" stroke="#222" stroke-width="0.6" />
<text transform="translate(51,387.3) rotate(-45)" font-size="5.3" font-weight="bold" fill="#1a1a1a" stroke="#1a1a1a" stroke-width="0.2" text-anchor="end">WT (D614G)</text>
<line x1="62.57" y1="378.7" x2="62.57" y2="380.5" stroke="#222" stroke-width="0.6" />
<text transform="translate(64.67,387.3) rotate(-45)" font-size="5.3" font-weight="bold" fill="#1a1a1a" stroke="#1a1a1a" stroke-width="0.2" text-anchor="end">BA.2</text>
<line x1="76.24" y1="378.7" x2="76.24" y2="380.5" stroke="#222" stroke-width="0.6" />
<text transform="translate(78.34,387.3) rotate(-45)" font-size="5.3" font-weight="bold" fill="#1a1a1a" stroke="#1a1a1a" stroke-width="0.2" text-anchor="end">BA.2.75</text>
<line x1="89.91" y1="378.7" x2="89.91" y2="380.5" stroke="#222" stroke-width="0.6" />
<text transform="translate(92.01,387.3) rotate(-45)" font-size="5.3" font-weight="bold" fill="#1a1a1a" stroke="#1a1a1a" stroke-width="0.2" text-anchor="end">BA.2.75.2</text>
<line x1="103.58" y1="378.7" x2="103.58" y2="380.5" stroke="#222" stroke-width="0.6" />
<text transform="translate(105.68,387.3) rotate(-45)" font-size="5.3" font-weight="bold" fill="#1a1a1a" stroke="#1a1a1a" stroke-width="0.2" text-anchor="end">BA.2.75.6</text>
<line x1="117.25" y1="378.7" x2="117.25" y2="380.5" stroke="#222" stroke-width="0.6" />
<text transform="translate(119.35,387.3) rotate(-45)" font-size="5.3" font-weight="bold" fill="#1a1a1a" stroke="#1a1a1a" stroke-width="0.2" text-anchor="end">BN.1</text>
<line x1="130.92" y1="378.7" x2="130.92" y2="380.5" stroke="#222" stroke-width="0.6" />
<text transform="translate(133.02,387.3) rotate(-45)" font-size="5.3" font-weight="bold" fill="#1a1a1a" stroke="#1a1a1a" stroke-width="0.2" text-anchor="end">CA.3.1</text>
<line x1="144.59" y1="378.7" x2="144.59" y2="380.5" stroke="#222" stroke-width="0.6" />
<text transform="translate(146.69,387.3) rotate(-45)" font-size="5.3" font-weight="bold" fill="#1a1a1a" stroke="#1a1a1a" stroke-width="0.2" text-anchor="end">CH.1.1</text>
<line x1="158.26" y1="378.7" x2="158.26" y2="380.5" stroke="#222" stroke-width="0.6" />
<text transform="translate(160.36,387.3) rotate(-45)" font-size="5.3" font-weight="bold" fill="#1a1a1a" stroke="#1a1a1a" stroke-width="0.2" text-anchor="end">XBB.1</text>
<line x1="171.93" y1="378.7" x2="171.93" y2="380.5" stroke="#222" stroke-width="0.6" />
<text transform="translate(174.03,387.3) rotate(-45)" font-size="5.3" font-weight="bold" fill="#1a1a1a" stroke="#1a1a1a" stroke-width="0.2" text-anchor="end">XBB.1.5</text>
<line x1="185.6" y1="378.7" x2="185.6" y2="380.5" stroke="#222" stroke-width="0.6" />
<text transform="translate(187.7,387.3) rotate(-45)" font-size="5.3" font-weight="bold" fill="#1a1a1a" stroke="#1a1a1a" stroke-width="0.2" text-anchor="end">BA.4/5</text>
<line x1="199.27" y1="378.7" x2="199.27" y2="380.5" stroke="#222" stroke-width="0.6" />
<text transform="translate(201.37,387.3) rotate(-45)" font-size="5.3" font-weight="bold" fill="#1a1a1a" stroke="#1a1a1a" stroke-width="0.2" text-anchor="end">BA.5.2.7</text>
<line x1="212.94" y1="378.7" x2="212.94" y2="380.5" stroke="#222" stroke-width="0.6" />
<text transform="translate(215.04,387.3) rotate(-45)" font-size="5.3" font-weight="bold" fill="#1a1a1a" stroke="#1a1a1a" stroke-width="0.2" text-anchor="end">BE.1.1.1</text>
<line x1="226.61" y1="378.7" x2="226.61" y2="380.5" stroke="#222" stroke-width="0.6" />
<text transform="translate(228.71,387.3) rotate(-45)" font-size="5.3" font-weight="bold" fill="#1a1a1a" stroke="#1a1a1a" stroke-width="0.2" text-anchor="end">BF.7</text>
<line x1="240.28" y1="378.7" x2="240.28" y2="380.5" stroke="#222" stroke-width="0.6" />
<text transform="translate(242.38,387.3) rotate(-45)" font-size="5.3" font-weight="bold" fill="#1a1a1a" stroke="#1a1a1a" stroke-width="0.2" text-anchor="end">BF.14</text>
<line x1="253.95" y1="378.7" x2="253.95" y2="380.5" stroke="#222" stroke-width="0.6" />
<text transform="translate(256.05,387.3) rotate(-45)" font-size="5.3" font-weight="bold" fill="#1a1a1a" stroke="#1a1a1a" stroke-width="0.2" text-anchor="end">BF.16</text>
<line x1="267.62" y1="378.7" x2="267.62" y2="380.5" stroke="#222" stroke-width="0.6" />
<text transform="translate(269.72,387.3) rotate(-45)" font-size="5.3" font-weight="bold" fill="#1a1a1a" stroke="#1a1a1a" stroke-width="0.2" text-anchor="end">BQ.1</text>
<line x1="281.29" y1="378.7" x2="281.29" y2="380.5" stroke="#222" stroke-width="0.6" />
<text transform="translate(283.39,387.3) rotate(-45)" font-size="5.3" font-weight="bold" fill="#1a1a1a" stroke="#1a1a1a" stroke-width="0.2" text-anchor="end">BQ.1.1</text>
<text transform="translate(29.4,348.5) rotate(-90)" font-size="5.4" fill="#111" stroke="#111" stroke-width="0.15" text-anchor="middle">Reciprocal serum ID<tspan font-size="3.6" dy="1.2">50</tspan></text>
<line x1="42.5" y1="359.3" x2="288.2" y2="359.3" stroke="#222" stroke-width="0.6" stroke-dasharray="0.7,0.9"/>
<polyline points="48.9,334.1 62.57,340.7 76.24,344.2 89.91,345.3 103.58,346 117.25,347.2 130.92,347 144.59,347 158.26,347 171.93,347 185.6,341 199.27,343 212.94,343.6 226.61,341 240.28,341.5 253.95,342.3 267.62,344.9 281.29,344.4" fill="none" stroke="#22b822" stroke-width="0.75" opacity="1"/>
<circle cx="48.9" cy="334.1" r="0.9" fill="#22b822"/>
<circle cx="62.57" cy="340.7" r="0.9" fill="#22b822"/>
<circle cx="76.24" cy="344.2" r="0.9" fill="#22b822"/>
<circle cx="89.91" cy="345.3" r="0.9" fill="#22b822"/>
<circle cx="103.58" cy="346" r="0.9" fill="#22b822"/>
<circle cx="117.25" cy="347.2" r="0.9" fill="#22b822"/>
<circle cx="130.92" cy="347" r="0.9" fill="#22b822"/>
<circle cx="144.59" cy="347" r="0.9" fill="#22b822"/>
<circle cx="158.26" cy="347" r="0.9" fill="#22b822"/>
<circle cx="171.93" cy="347" r="0.9" fill="#22b822"/>
<circle cx="185.6" cy="341" r="0.9" fill="#22b822"/>
<circle cx="199.27" cy="343" r="0.9" fill="#22b822"/>
<circle cx="212.94" cy="343.6" r="0.9" fill="#22b822"/>
<circle cx="226.61" cy="341" r="0.9" fill="#22b822"/>
<circle cx="240.28" cy="341.5" r="0.9" fill="#22b822"/>
<circle cx="253.95" cy="342.3" r="0.9" fill="#22b822"/>
<circle cx="267.62" cy="344.9" r="0.9" fill="#22b822"/>
<circle cx="281.29" cy="344.4" r="0.9" fill="#22b822"/>
<polyline points="48.9,338.1 62.57,340.7 76.24,345.7 89.91,348.9 103.58,346 117.25,347.6 130.92,349.8 144.59,349.8 158.26,350.8 171.93,350.7 185.6,342.8 199.27,343.6 212.94,343.6 226.61,341.5 240.28,343 253.95,342.5 267.62,345.4 281.29,346.7" fill="none" stroke="#22b822" stroke-width="0.75" opacity="0.8"/>
<path d="M48.9 337.1l1 1.6h-2z" fill="none" stroke="#22b822" stroke-width="0.5"/>
<path d="M62.57 339.7l1 1.6h-2z" fill="none" stroke="#22b822" stroke-width="0.5"/>
<path d="M76.24 344.7l1 1.6h-2z" fill="none" stroke="#22b822" stroke-width="0.5"/>
<path d="M89.91 347.9l1 1.6h-2z" fill="none" stroke="#22b822" stroke-width="0.5"/>
<path d="M103.58 345l1 1.6h-2z" fill="none" stroke="#22b822" stroke-width="0.5"/>
<path d="M117.25 346.6l1 1.6h-2z" fill="none" stroke="#22b822" stroke-width="0.5"/>
<path d="M130.92 348.8l1 1.6h-2z" fill="none" stroke="#22b822" stroke-width="0.5"/>
<path d="M144.59 348.8l1 1.6h-2z" fill="none" stroke="#22b822" stroke-width="0.5"/>
<path d="M158.26 349.8l1 1.6h-2z" fill="none" stroke="#22b822" stroke-width="0.5"/>
<path d="M171.93 349.7l1 1.6h-2z" fill="none" stroke="#22b822" stroke-width="0.5"/>
<path d="M185.6 341.8l1 1.6h-2z" fill="none" stroke="#22b822" stroke-width="0.5"/>
<path d="M199.27 342.6l1 1.6h-2z" fill="none" stroke="#22b822" stroke-width="0.5"/>
<path d="M212.94 342.6l1 1.6h-2z" fill="none" stroke="#22b822" stroke-width="0.5"/>
<path d="M226.61 340.5l1 1.6h-2z" fill="none" stroke="#22b822" stroke-width="0.5"/>
<path d="M240.28 342l1 1.6h-2z" fill="none" stroke="#22b822" stroke-width="0.5"/>
<path d="M253.95 341.5l1 1.6h-2z" fill="none" stroke="#22b822" stroke-width="0.5"/>
<path d="M267.62 344.4l1 1.6h-2z" fill="none" stroke="#22b822" stroke-width="0.5"/>
<path d="M281.29 345.7l1 1.6h-2z" fill="none" stroke="#22b822" stroke-width="0.5"/>
<polyline points="48.9,340.4 62.57,347 76.24,348.9 89.91,349.8 103.58,349.5 117.25,349.5 130.92,352.7 144.59,353.3 158.26,353.3 171.93,353.6 185.6,348.8 199.27,349.6 212.94,350.9 226.61,350.1 240.28,350.1 253.95,349.3 267.62,352 281.29,352.8" fill="none" stroke="#7b7bf5" stroke-width="0.75" opacity="0.9"/>
<path d="M48.9 339.4l1 1.6h-2z" fill="none" stroke="#7b7bf5" stroke-width="0.5"/>
<path d="M62.57 346l1 1.6h-2z" fill="none" stroke="#7b7bf5" stroke-width="0.5"/>
<path d="M76.24 347.9l1 1.6h-2z" fill="none" stroke="#7b7bf5" stroke-width="0.5"/>
<path d="M89.91 348.8l1 1.6h-2z" fill="none" stroke="#7b7bf5" stroke-width="0.5"/>
<path d="M103.58 348.5l1 1.6h-2z" fill="none" stroke="#7b7bf5" stroke-width="0.5"/>
<path d="M117.25 348.5l1 1.6h-2z" fill="none" stroke="#7b7bf5" stroke-width="0.5"/>
<path d="M130.92 351.7l1 1.6h-2z" fill="none" stroke="#7b7bf5" stroke-width="0.5"/>
<path d="M144.59 352.3l1 1.6h-2z" fill="none" stroke="#7b7bf5" stroke-width="0.5"/>
<path d="M158.26 352.3l1 1.6h-2z" fill="none" stroke="#7b7bf5" stroke-width="0.5"/>
<path d="M171.93 352.6l1 1.6h-2z" fill="none" stroke="#7b7bf5" stroke-width="0.5"/>
<path d="M185.6 347.8l1 1.6h-2z" fill="none" stroke="#7b7bf5" stroke-width="0.5"/>
<path d="M199.27 348.6l1 1.6h-2z" fill="none" stroke="#7b7bf5" stroke-width="0.5"/>
<path d="M212.94 349.9l1 1.6h-2z" fill="none" stroke="#7b7bf5" stroke-width="0.5"/>
<path d="M226.61 349.1l1 1.6h-2z" fill="none" stroke="#7b7bf5" stroke-width="0.5"/>
<path d="M240.28 349.1l1 1.6h-2z" fill="none" stroke="#7b7bf5" stroke-width="0.5"/>
<path d="M253.95 348.3l1 1.6h-2z" fill="none" stroke="#7b7bf5" stroke-width="0.5"/>
<path d="M267.62 351l1 1.6h-2z" fill="none" stroke="#7b7bf5" stroke-width="0.5"/>
<path d="M281.29 351.8l1 1.6h-2z" fill="none" stroke="#7b7bf5" stroke-width="0.5"/>
<polyline points="48.9,341.3 62.57,350.8 76.24,352.1 89.91,354.8 103.58,353.3 117.25,356.5 130.92,354 144.59,356.5 158.26,356.5 171.93,356.7 185.6,352 199.27,354.6 212.94,355.4 226.61,352.8 240.28,354 253.95,353 267.62,355.9 281.29,355.9" fill="none" stroke="#5555ee" stroke-width="0.75" opacity="0.9"/>
<path d="M48.9 342.3l1 -1.6h-2z" fill="none" stroke="#5555ee" stroke-width="0.5"/>
<path d="M62.57 351.8l1 -1.6h-2z" fill="none" stroke="#5555ee" stroke-width="0.5"/>
<path d="M76.24 353.1l1 -1.6h-2z" fill="none" stroke="#5555ee" stroke-width="0.5"/>
<path d="M89.91 355.8l1 -1.6h-2z" fill="none" stroke="#5555ee" stroke-width="0.5"/>
<path d="M103.58 354.3l1 -1.6h-2z" fill="none" stroke="#5555ee" stroke-width="0.5"/>
<path d="M117.25 357.5l1 -1.6h-2z" fill="none" stroke="#5555ee" stroke-width="0.5"/>
<path d="M130.92 355l1 -1.6h-2z" fill="none" stroke="#5555ee" stroke-width="0.5"/>
<path d="M144.59 357.5l1 -1.6h-2z" fill="none" stroke="#5555ee" stroke-width="0.5"/>
<path d="M158.26 357.5l1 -1.6h-2z" fill="none" stroke="#5555ee" stroke-width="0.5"/>
<path d="M171.93 357.7l1 -1.6h-2z" fill="none" stroke="#5555ee" stroke-width="0.5"/>
<path d="M185.6 353l1 -1.6h-2z" fill="none" stroke="#5555ee" stroke-width="0.5"/>
<path d="M199.27 355.6l1 -1.6h-2z" fill="none" stroke="#5555ee" stroke-width="0.5"/>
<path d="M212.94 356.4l1 -1.6h-2z" fill="none" stroke="#5555ee" stroke-width="0.5"/>
<path d="M226.61 353.8l1 -1.6h-2z" fill="none" stroke="#5555ee" stroke-width="0.5"/>
<path d="M240.28 355l1 -1.6h-2z" fill="none" stroke="#5555ee" stroke-width="0.5"/>
<path d="M253.95 354l1 -1.6h-2z" fill="none" stroke="#5555ee" stroke-width="0.5"/>
<path d="M267.62 356.9l1 -1.6h-2z" fill="none" stroke="#5555ee" stroke-width="0.5"/>
<path d="M281.29 356.9l1 -1.6h-2z" fill="none" stroke="#5555ee" stroke-width="0.5"/>
<polyline points="48.9,343.8 62.57,354 76.24,354.8 89.91,359.3 103.58,359.3 117.25,361.2 130.92,365.6 144.59,365.6 158.26,364.6 171.93,365.9 185.6,359.3 199.27,362 212.94,361.4 226.61,359.3 240.28,360.6 253.95,359.3 267.62,363.3 281.29,363.3" fill="none" stroke="#f02a2a" stroke-width="0.75" opacity="0.9"/>
<path d="M48.9 342.8l1 1.6h-2z" fill="none" stroke="#f02a2a" stroke-width="0.5"/>
<path d="M62.57 353l1 1.6h-2z" fill="none" stroke="#f02a2a" stroke-width="0.5"/>
<path d="M76.24 353.8l1 1.6h-2z" fill="none" stroke="#f02a2a" stroke-width="0.5"/>
<path d="M89.91 358.3l1 1.6h-2z" fill="none" stroke="#f02a2a" stroke-width="0.5"/>
<path d="M103.58 358.3l1 1.6h-2z" fill="none" stroke="#f02a2a" stroke-width="0.5"/>
<path d="M117.25 360.2l1 1.6h-2z" fill="none" stroke="#f02a2a" stroke-width="0.5"/>
<path d="M130.92 364.6l1 1.6h-2z" fill="none" stroke="#f02a2a" stroke-width="0.5"/>
<path d="M144.59 364.6l1 1.6h-2z" fill="none" stroke="#f02a2a" stroke-width="0.5"/>
<path d="M158.26 363.6l1 1.6h-2z" fill="none" stroke="#f02a2a" stroke-width="0.5"/>
<path d="M171.93 364.9l1 1.6h-2z" fill="none" stroke="#f02a2a" stroke-width="0.5"/>
<path d="M185.6 358.3l1 1.6h-2z" fill="none" stroke="#f02a2a" stroke-width="0.5"/>
<path d="M199.27 361l1 1.6h-2z" fill="none" stroke="#f02a2a" stroke-width="0.5"/>
<path d="M212.94 360.4l1 1.6h-2z" fill="none" stroke="#f02a2a" stroke-width="0.5"/>
<path d="M226.61 358.3l1 1.6h-2z" fill="none" stroke="#f02a2a" stroke-width="0.5"/>
<path d="M240.28 359.6l1 1.6h-2z" fill="none" stroke="#f02a2a" stroke-width="0.5"/>
<path d="M253.95 358.3l1 1.6h-2z" fill="none" stroke="#f02a2a" stroke-width="0.5"/>
<path d="M267.62 362.3l1 1.6h-2z" fill="none" stroke="#f02a2a" stroke-width="0.5"/>
<path d="M281.29 362.3l1 1.6h-2z" fill="none" stroke="#f02a2a" stroke-width="0.5"/>
<polyline points="48.9,345.7 62.57,356.5 76.24,358.4 89.91,359.7 103.58,362.2 117.25,363.7 130.92,365.6 144.59,365.6 158.26,365 171.93,365 185.6,360.6 199.27,362 212.94,362 226.61,359.9 240.28,361.4 253.95,362.5 267.62,365.1 281.29,365.1" fill="none" stroke="#f02a2a" stroke-width="0.75" opacity="1"/>
<circle cx="48.9" cy="345.7" r="0.9" fill="#f02a2a"/>
<circle cx="62.57" cy="356.5" r="0.9" fill="#f02a2a"/>
<circle cx="76.24" cy="358.4" r="0.9" fill="#f02a2a"/>
<circle cx="89.91" cy="359.7" r="0.9" fill="#f02a2a"/>
<circle cx="103.58" cy="362.2" r="0.9" fill="#f02a2a"/>
<circle cx="117.25" cy="363.7" r="0.9" fill="#f02a2a"/>
<circle cx="130.92" cy="365.6" r="0.9" fill="#f02a2a"/>
<circle cx="144.59" cy="365.6" r="0.9" fill="#f02a2a"/>
<circle cx="158.26" cy="365" r="0.9" fill="#f02a2a"/>
<circle cx="171.93" cy="365" r="0.9" fill="#f02a2a"/>
<circle cx="185.6" cy="360.6" r="0.9" fill="#f02a2a"/>
<circle cx="199.27" cy="362" r="0.9" fill="#f02a2a"/>
<circle cx="212.94" cy="362" r="0.9" fill="#f02a2a"/>
<circle cx="226.61" cy="359.9" r="0.9" fill="#f02a2a"/>
<circle cx="240.28" cy="361.4" r="0.9" fill="#f02a2a"/>
<circle cx="253.95" cy="362.5" r="0.9" fill="#f02a2a"/>
<circle cx="267.62" cy="365.1" r="0.9" fill="#f02a2a"/>
<circle cx="281.29" cy="365.1" r="0.9" fill="#f02a2a"/>
<line x1="361.99" y1="310.7" x2="361.99" y2="395.5" stroke="#f4f4f4" stroke-width="0.4" />
<line x1="350.3" y1="321.3" x2="443.8" y2="321.3" stroke="#f4f4f4" stroke-width="0.4" />
<line x1="385.36" y1="310.7" x2="385.36" y2="395.5" stroke="#f4f4f4" stroke-width="0.4" />
<line x1="350.3" y1="342.5" x2="443.8" y2="342.5" stroke="#f4f4f4" stroke-width="0.4" />
<line x1="408.74" y1="310.7" x2="408.74" y2="395.5" stroke="#f4f4f4" stroke-width="0.4" />
<line x1="350.3" y1="363.7" x2="443.8" y2="363.7" stroke="#f4f4f4" stroke-width="0.4" />
<line x1="432.11" y1="310.7" x2="432.11" y2="395.5" stroke="#f4f4f4" stroke-width="0.4" />
<line x1="350.3" y1="384.9" x2="443.8" y2="384.9" stroke="#f4f4f4" stroke-width="0.4" />
<line x1="373.68" y1="310.7" x2="373.68" y2="395.5" stroke="#ececec" stroke-width="0.5" />
<line x1="350.3" y1="331.9" x2="443.8" y2="331.9" stroke="#ececec" stroke-width="0.5" />
<line x1="397.05" y1="310.7" x2="397.05" y2="395.5" stroke="#ececec" stroke-width="0.5" />
<line x1="350.3" y1="353.1" x2="443.8" y2="353.1" stroke="#ececec" stroke-width="0.5" />
<line x1="420.43" y1="310.7" x2="420.43" y2="395.5" stroke="#ececec" stroke-width="0.5" />
<line x1="350.3" y1="374.3" x2="443.8" y2="374.3" stroke="#ececec" stroke-width="0.5" />
<path d="M350.06 310.57 L354.86 310.57 L354.86 325.15 L357.43 325.15 L357.43 342.31 L361.72 342.31 L361.72 359.46 L368.58 359.46 L368.58 380.04 L372.01 380.04 L372.01 395.48" fill="none" stroke="#f2e0d6" stroke-width="0.6" stroke-linejoin="miter"/>
<path d="M353.15 310.57 L353.15 321.72 L358.29 321.72 L358.29 340.59 L360.86 340.59 L360.86 364.6 L366.87 364.6 L366.87 395.48" fill="none" stroke="#e0ecf4" stroke-width="0.6" stroke-linejoin="miter"/>
<path d="M350.06 318.29 L353.15 318.29 L353.15 333.73 L355.72 333.73 L355.72 349.17 L358.29 349.17 L358.29 364.6 L360.86 364.6 L360.86 380.04 L363.44 380.04 L363.44 395.48" fill="none" stroke="#e4c6c6" stroke-width="0.6" stroke-linejoin="miter"/>
<path d="M366.35 310.57 L366.35 349.17 L368.24 349.17 L368.24 356.89 L374.59 356.89 L374.59 364.6 L378.87 364.6 L378.87 372.32 L382.31 372.32 L382.31 380.04 L386.59 380.04 L386.59 387.76 L387.45 387.76 L387.45 395.48" fill="none" stroke="#dcbaf7" stroke-width="0.8" stroke-linejoin="miter"/>
<path d="M350.06 310.57 L352.29 310.57 L352.29 318.29 L356.58 318.29 L356.58 325.15 L358.63 325.15 L358.63 332.01 L360.01 332.01 L360.01 341.45 L364.3 341.45 L364.3 372.32 L367.73 372.32 L367.73 380.04 L374.59 380.04 L374.59 395.48" fill="none" stroke="#a8eca8" stroke-width="0.8" stroke-linejoin="miter"/>
<path d="M373.39 310.57 L373.39 318.29 L381.45 318.29 L381.45 325.15 L388.31 325.15 L388.31 332.87 L389.17 332.87 L389.17 349.17 L393.45 349.17 L393.45 356.89 L396.03 356.89 L396.03 363.75 L400.32 363.75 L400.32 374.04 L402.55 374.04 L402.55 380.04 L405.46 380.04 L405.46 386.9 L406.32 386.9 L406.32 395.48" fill="none" stroke="#999999" stroke-width="0.8" stroke-linejoin="miter"/>
<path d="M350.06 332.01 L352.29 332.01 L352.29 341.45 L354 341.45 L354 349.17 L356.58 349.17 L356.58 356.89 L362.58 356.89 L362.58 364.6 L364.3 364.6 L364.3 380.04 L366.01 380.04 L366.01 387.76 L367.21 387.76 L367.21 395.48" fill="none" stroke="#ffa820" stroke-width="1.1" stroke-linejoin="miter"/>
<path d="M350.06 363.75 L359.66 363.75 L359.66 372.32 L361.72 372.32 L361.72 380.04 L362.07 380.04 L362.07 395.48" fill="none" stroke="#3b64d8" stroke-width="1" stroke-linejoin="miter"/>
<path d="M350.06 356.89 L351.77 356.89 L351.77 363.75 L355.2 363.75 L355.2 372.32 L358.63 372.32 L358.63 380.04 L362.58 380.04 L362.58 387.76 L364.3 387.76 L364.3 395.48" fill="none" stroke="#ff1aff" stroke-width="1.1" stroke-linejoin="miter"/>
<line x1="364.6" y1="310.7" x2="364.6" y2="395.5" stroke="#000" stroke-width="0.75" stroke-dasharray="0.9,1.2"/>
<rect x="350.3" y="310.7" width="93.5" height="84.8" fill="none" stroke="#9a9a9a" stroke-width="0.8"/>
<text x="348.1" y="312.4" font-size="5" fill="#444" text-anchor="end" textLength="9.4" lengthAdjust="spacingAndGlyphs" stroke="#444" stroke-width="0.06">1.00</text>
<line x1="348.7" y1="310.7" x2="350.3" y2="310.7" stroke="#888" stroke-width="0.6" />
<line x1="350.3" y1="395.5" x2="350.3" y2="397" stroke="#888" stroke-width="0.6" />
<text x="348.1" y="333.6" font-size="5" fill="#444" text-anchor="end" textLength="9.4" lengthAdjust="spacingAndGlyphs" stroke="#444" stroke-width="0.06">0.75</text>
<line x1="348.7" y1="331.9" x2="350.3" y2="331.9" stroke="#888" stroke-width="0.6" />
<line x1="373.68" y1="395.5" x2="373.68" y2="397" stroke="#888" stroke-width="0.6" />
<text x="348.1" y="354.8" font-size="5" fill="#444" text-anchor="end" textLength="9.4" lengthAdjust="spacingAndGlyphs" stroke="#444" stroke-width="0.06">0.50</text>
<line x1="348.7" y1="353.1" x2="350.3" y2="353.1" stroke="#888" stroke-width="0.6" />
<line x1="397.05" y1="395.5" x2="397.05" y2="397" stroke="#888" stroke-width="0.6" />
<text x="348.1" y="376" font-size="5" fill="#444" text-anchor="end" textLength="9.4" lengthAdjust="spacingAndGlyphs" stroke="#444" stroke-width="0.06">0.25</text>
<line x1="348.7" y1="374.3" x2="350.3" y2="374.3" stroke="#888" stroke-width="0.6" />
<line x1="420.43" y1="395.5" x2="420.43" y2="397" stroke="#888" stroke-width="0.6" />
<text x="348.1" y="397.2" font-size="5" fill="#444" text-anchor="end" textLength="9.4" lengthAdjust="spacingAndGlyphs" stroke="#444" stroke-width="0.06">0.00</text>
<line x1="348.7" y1="395.5" x2="350.3" y2="395.5" stroke="#888" stroke-width="0.6" />
<line x1="443.8" y1="395.5" x2="443.8" y2="397" stroke="#888" stroke-width="0.6" />
<text x="350.7" y="402.4" font-size="5" fill="#333" text-anchor="middle" stroke="#333" stroke-width="0.1">10<tspan font-size="3.25" dy="-2">1</tspan></text>
<text x="374.07" y="402.4" font-size="5" fill="#333" text-anchor="middle" stroke="#333" stroke-width="0.1">10<tspan font-size="3.25" dy="-2">2</tspan></text>
<text x="397.45" y="402.4" font-size="5" fill="#333" text-anchor="middle" stroke="#333" stroke-width="0.1">10<tspan font-size="3.25" dy="-2">3</tspan></text>
<text x="420.82" y="402.4" font-size="5" fill="#333" text-anchor="middle" stroke="#333" stroke-width="0.1">10<tspan font-size="3.25" dy="-2">4</tspan></text>
<text x="444.2" y="402.4" font-size="5" fill="#333" text-anchor="middle" stroke="#333" stroke-width="0.1">10<tspan font-size="3.25" dy="-2">5</tspan></text>
<text x="397.45" y="409.4" font-size="6.6" fill="#222" text-anchor="middle" textLength="60.5" lengthAdjust="spacingAndGlyphs" stroke="#222" stroke-width="0.12">Reciprocal serum ID<tspan font-size="4.3" dy="1.3">50</tspan></text>
<text transform="translate(336,353.1) rotate(-90)" font-size="6.3" fill="#222" stroke="#222" stroke-width="0.12" text-anchor="middle">Proportion</text>
<text x="397.2" y="307" font-size="6.9" fill="#f02a2a" font-weight="bold" text-anchor="middle" stroke="#f02a2a" stroke-width="0.1">3 x CoronaVac (14d)</text>
<line x1="409.9" y1="317.3" x2="414.8" y2="317.3" stroke="#999999" stroke-width="1" />
<text x="418" y="318.6" font-size="3.9" fill="#4a4a4a" text-anchor="start" stroke="#4a4a4a" stroke-width="0.05">WT (D614G)</text>
<line x1="409.9" y1="321.11" x2="414.8" y2="321.11" stroke="#dcbaf7" stroke-width="1" />
<text x="418" y="322.41" font-size="3.9" fill="#4a4a4a" text-anchor="start" stroke="#4a4a4a" stroke-width="0.05">BA.2</text>
<line x1="409.9" y1="324.92" x2="414.8" y2="324.92" stroke="#cfe8f3" stroke-width="1" />
<text x="418" y="326.22" font-size="3.9" fill="#4a4a4a" text-anchor="start" stroke="#4a4a4a" stroke-width="0.05">BA.2.75</text>
<line x1="409.9" y1="328.73" x2="414.8" y2="328.73" stroke="#f3d3d3" stroke-width="1" />
<text x="418" y="330.03" font-size="3.9" fill="#4a4a4a" text-anchor="start" stroke="#4a4a4a" stroke-width="0.05">BA.2.75.2</text>
<line x1="409.9" y1="332.54" x2="414.8" y2="332.54" stroke="#d3efd3" stroke-width="1" />
<text x="418" y="333.84" font-size="3.9" fill="#4a4a4a" text-anchor="start" stroke="#4a4a4a" stroke-width="0.05">BA.2.75.6</text>
<line x1="409.9" y1="336.35" x2="414.8" y2="336.35" stroke="#f7dcc8" stroke-width="1" />
<text x="418" y="337.65" font-size="3.9" fill="#4a4a4a" text-anchor="start" stroke="#4a4a4a" stroke-width="0.05">BN.1</text>
<line x1="409.9" y1="340.16" x2="414.8" y2="340.16" stroke="#ececec" stroke-width="1" />
<text x="418" y="341.46" font-size="3.9" fill="#4a4a4a" text-anchor="start" stroke="#4a4a4a" stroke-width="0.05">CA.3.1</text>
<line x1="409.9" y1="343.97" x2="414.8" y2="343.97" stroke="#ff1aff" stroke-width="1" />
<text x="418" y="345.27" font-size="3.9" fill="#4a4a4a" text-anchor="start" stroke="#4a4a4a" stroke-width="0.05">CH.1.1</text>
<line x1="409.9" y1="347.78" x2="414.8" y2="347.78" stroke="#d8a8a8" stroke-width="1" />
<text x="418" y="349.08" font-size="3.9" fill="#4a4a4a" text-anchor="start" stroke="#4a4a4a" stroke-width="0.05">XBB.1</text>
<line x1="409.9" y1="351.59" x2="414.8" y2="351.59" stroke="#3b64d8" stroke-width="1" />
<text x="418" y="352.89" font-size="3.9" fill="#4a4a4a" text-anchor="start" stroke="#4a4a4a" stroke-width="0.05">XBB.1.5</text>
<line x1="409.9" y1="355.4" x2="414.8" y2="355.4" stroke="#a8eca8" stroke-width="1" />
<text x="418" y="356.7" font-size="3.9" fill="#4a4a4a" text-anchor="start" stroke="#4a4a4a" stroke-width="0.05">BA.4/5</text>
<line x1="409.9" y1="359.21" x2="414.8" y2="359.21" stroke="#d8d0f8" stroke-width="1" />
<text x="418" y="360.51" font-size="3.9" fill="#4a4a4a" text-anchor="start" stroke="#4a4a4a" stroke-width="0.05">BA.5.2.7</text>
<line x1="409.9" y1="363.02" x2="414.8" y2="363.02" stroke="#f8d8e8" stroke-width="1" />
<text x="418" y="364.32" font-size="3.9" fill="#4a4a4a" text-anchor="start" stroke="#4a4a4a" stroke-width="0.05">BE.1.1.1</text>
<line x1="409.9" y1="366.83" x2="414.8" y2="366.83" stroke="#e4e4f0" stroke-width="1" />
<text x="418" y="368.13" font-size="3.9" fill="#4a4a4a" text-anchor="start" stroke="#4a4a4a" stroke-width="0.05">BF.7</text>
<line x1="409.9" y1="370.64" x2="414.8" y2="370.64" stroke="#ece4ec" stroke-width="1" />
<text x="418" y="371.94" font-size="3.9" fill="#4a4a4a" text-anchor="start" stroke="#4a4a4a" stroke-width="0.05">BF.14</text>
<line x1="409.9" y1="374.45" x2="414.8" y2="374.45" stroke="#f0ead8" stroke-width="1" />
<text x="418" y="375.75" font-size="3.9" fill="#4a4a4a" text-anchor="start" stroke="#4a4a4a" stroke-width="0.05">BF.16</text>
<line x1="409.9" y1="378.26" x2="414.8" y2="378.26" stroke="#c8c8c8" stroke-width="1" />
<text x="418" y="379.56" font-size="3.9" fill="#4a4a4a" text-anchor="start" stroke="#4a4a4a" stroke-width="0.05">BQ.1</text>
<line x1="409.9" y1="382.07" x2="414.8" y2="382.07" stroke="#ffa820" stroke-width="1" />
<text x="418" y="383.37" font-size="3.9" fill="#4a4a4a" text-anchor="start" stroke="#4a4a4a" stroke-width="0.05">BQ.1.1</text>
<line x1="479.74" y1="310.7" x2="479.74" y2="395.2" stroke="#f4f4f4" stroke-width="0.4" />
<line x1="468.1" y1="321.26" x2="561.2" y2="321.26" stroke="#f4f4f4" stroke-width="0.4" />
<line x1="503.01" y1="310.7" x2="503.01" y2="395.2" stroke="#f4f4f4" stroke-width="0.4" />
<line x1="468.1" y1="342.39" x2="561.2" y2="342.39" stroke="#f4f4f4" stroke-width="0.4" />
<line x1="526.29" y1="310.7" x2="526.29" y2="395.2" stroke="#f4f4f4" stroke-width="0.4" />
<line x1="468.1" y1="363.51" x2="561.2" y2="363.51" stroke="#f4f4f4" stroke-width="0.4" />
<line x1="549.56" y1="310.7" x2="549.56" y2="395.2" stroke="#f4f4f4" stroke-width="0.4" />
<line x1="468.1" y1="384.64" x2="561.2" y2="384.64" stroke="#f4f4f4" stroke-width="0.4" />
<line x1="491.38" y1="310.7" x2="491.38" y2="395.2" stroke="#ececec" stroke-width="0.5" />
<line x1="468.1" y1="331.82" x2="561.2" y2="331.82" stroke="#ececec" stroke-width="0.5" />
<line x1="514.65" y1="310.7" x2="514.65" y2="395.2" stroke="#ececec" stroke-width="0.5" />
<line x1="468.1" y1="352.95" x2="561.2" y2="352.95" stroke="#ececec" stroke-width="0.5" />
<line x1="537.93" y1="310.7" x2="537.93" y2="395.2" stroke="#ececec" stroke-width="0.5" />
<line x1="468.1" y1="374.07" x2="561.2" y2="374.07" stroke="#ececec" stroke-width="0.5" />
<path d="M483.1 310.71 L483.1 336.9 L492.62 336.9 L492.62 365.48 L498.57 365.48 L498.57 382.14 L511.67 382.14 L511.67 395.24" fill="none" stroke="#f2e0d6" stroke-width="0.6" stroke-linejoin="miter"/>
<path d="M486.67 310.71 L486.67 322.62 L491.43 322.62 L491.43 353.57 L497.38 353.57 L497.38 375 L509.29 375 L509.29 395.24" fill="none" stroke="#e0ecf4" stroke-width="0.6" stroke-linejoin="miter"/>
<path d="M493.81 310.71 L493.81 332.14 L496.19 332.14 L496.19 346.43 L500.24 346.43 L500.24 365.48 L504.52 365.48 L504.52 382.14 L518.81 382.14 L518.81 389.29 L520.71 389.29 L520.71 395.24" fill="none" stroke="#dcbaf7" stroke-width="0.8" stroke-linejoin="miter"/>
<path d="M489.05 310.71 L489.05 332.14 L493.81 332.14 L493.81 346.43 L496.19 346.43 L496.19 360.71 L499.76 360.71 L499.76 375 L506.9 375 L506.9 382.14 L515.24 382.14 L515.24 395.24" fill="none" stroke="#a8eca8" stroke-width="0.8" stroke-linejoin="miter"/>
<path d="M508.81 310.71 L508.81 317.86 L510.48 317.86 L510.48 324.29 L515.95 324.29 L515.95 332.14 L517.62 332.14 L517.62 345.24 L520 345.24 L520 359.52 L522.38 359.52 L522.38 374.52 L527.14 374.52 L527.14 382.14 L528.81 382.14 L528.81 389.29 L530.24 389.29 L530.24 395.24" fill="none" stroke="#999999" stroke-width="0.8" stroke-linejoin="miter"/>
<path d="M468.1 310.71 L475.24 310.71 L475.24 317.38 L485.48 317.38 L485.48 324.29 L487.86 324.29 L487.86 346.43 L490.24 346.43 L490.24 366.67 L496.19 366.67 L496.19 374.52 L502.14 374.52 L502.14 382.14 L504.05 382.14 L504.05 395.24" fill="none" stroke="#ffa820" stroke-width="1.1" stroke-linejoin="miter"/>
<path d="M468.1 317.38 L480.71 317.38 L480.71 324.29 L487.86 324.29 L487.86 352.38 L490.24 352.38 L490.24 359.52 L491.43 359.52 L491.43 367.86 L492.62 367.86 L492.62 374.52 L496.19 374.52 L496.19 382.14 L506.43 382.14 L506.43 395.24" fill="none" stroke="#3b64d8" stroke-width="1" stroke-linejoin="miter"/>
<path d="M468.1 324.29 L489.76 324.29 L489.76 353.57 L492.62 353.57 L492.62 366.67 L495 366.67 L495 374.52 L497.86 374.52 L497.86 382.14 L499.29 382.14 L499.29 395.24" fill="none" stroke="#ff1aff" stroke-width="1.1" stroke-linejoin="miter"/>
<line x1="482.4" y1="310.7" x2="482.4" y2="395.2" stroke="#000" stroke-width="0.75" stroke-dasharray="0.9,1.2"/>
<rect x="468.1" y="310.7" width="93.1" height="84.5" fill="none" stroke="#9a9a9a" stroke-width="0.8"/>
<text x="465.9" y="312.4" font-size="5" fill="#444" text-anchor="end" textLength="9.4" lengthAdjust="spacingAndGlyphs" stroke="#444" stroke-width="0.06">1.00</text>
<line x1="466.5" y1="310.7" x2="468.1" y2="310.7" stroke="#888" stroke-width="0.6" />
<line x1="468.1" y1="395.2" x2="468.1" y2="396.7" stroke="#888" stroke-width="0.6" />
<text x="465.9" y="333.52" font-size="5" fill="#444" text-anchor="end" textLength="9.4" lengthAdjust="spacingAndGlyphs" stroke="#444" stroke-width="0.06">0.75</text>
<line x1="466.5" y1="331.82" x2="468.1" y2="331.82" stroke="#888" stroke-width="0.6" />
<line x1="491.38" y1="395.2" x2="491.38" y2="396.7" stroke="#888" stroke-width="0.6" />
<text x="465.9" y="354.65" font-size="5" fill="#444" text-anchor="end" textLength="9.4" lengthAdjust="spacingAndGlyphs" stroke="#444" stroke-width="0.06">0.50</text>
<line x1="466.5" y1="352.95" x2="468.1" y2="352.95" stroke="#888" stroke-width="0.6" />
<line x1="514.65" y1="395.2" x2="514.65" y2="396.7" stroke="#888" stroke-width="0.6" />
<text x="465.9" y="375.77" font-size="5" fill="#444" text-anchor="end" textLength="9.4" lengthAdjust="spacingAndGlyphs" stroke="#444" stroke-width="0.06">0.25</text>
<line x1="466.5" y1="374.07" x2="468.1" y2="374.07" stroke="#888" stroke-width="0.6" />
<line x1="537.93" y1="395.2" x2="537.93" y2="396.7" stroke="#888" stroke-width="0.6" />
<text x="465.9" y="396.9" font-size="5" fill="#444" text-anchor="end" textLength="9.4" lengthAdjust="spacingAndGlyphs" stroke="#444" stroke-width="0.06">0.00</text>
<line x1="466.5" y1="395.2" x2="468.1" y2="395.2" stroke="#888" stroke-width="0.6" />
<line x1="561.2" y1="395.2" x2="561.2" y2="396.7" stroke="#888" stroke-width="0.6" />
<text x="468.5" y="402.1" font-size="5" fill="#333" text-anchor="middle" stroke="#333" stroke-width="0.1">10<tspan font-size="3.25" dy="-2">1</tspan></text>
<text x="491.77" y="402.1" font-size="5" fill="#333" text-anchor="middle" stroke="#333" stroke-width="0.1">10<tspan font-size="3.25" dy="-2">2</tspan></text>
<text x="515.05" y="402.1" font-size="5" fill="#333" text-anchor="middle" stroke="#333" stroke-width="0.1">10<tspan font-size="3.25" dy="-2">3</tspan></text>
<text x="538.33" y="402.1" font-size="5" fill="#333" text-anchor="middle" stroke="#333" stroke-width="0.1">10<tspan font-size="3.25" dy="-2">4</tspan></text>
<text x="561.6" y="402.1" font-size="5" fill="#333" text-anchor="middle" stroke="#333" stroke-width="0.1">10<tspan font-size="3.25" dy="-2">5</tspan></text>
<text x="515.05" y="409.1" font-size="6.6" fill="#222" text-anchor="middle" textLength="60.5" lengthAdjust="spacingAndGlyphs" stroke="#222" stroke-width="0.12">Reciprocal serum ID<tspan font-size="4.3" dy="1.3">50</tspan></text>
<text transform="translate(453.8,352.95) rotate(-90)" font-size="6.3" fill="#222" stroke="#222" stroke-width="0.12" text-anchor="middle">Proportion</text>
<text x="514.6" y="307" font-size="6.9" fill="#2b2bee" font-weight="bold" text-anchor="middle" stroke="#2b2bee" stroke-width="0.1">Delta breakthrough (6M)</text>
<line x1="597.14" y1="310.7" x2="597.14" y2="395.2" stroke="#f4f4f4" stroke-width="0.4" />
<line x1="585.5" y1="321.26" x2="678.6" y2="321.26" stroke="#f4f4f4" stroke-width="0.4" />
<line x1="620.41" y1="310.7" x2="620.41" y2="395.2" stroke="#f4f4f4" stroke-width="0.4" />
<line x1="585.5" y1="342.39" x2="678.6" y2="342.39" stroke="#f4f4f4" stroke-width="0.4" />
<line x1="643.69" y1="310.7" x2="643.69" y2="395.2" stroke="#f4f4f4" stroke-width="0.4" />
<line x1="585.5" y1="363.51" x2="678.6" y2="363.51" stroke="#f4f4f4" stroke-width="0.4" />
<line x1="666.96" y1="310.7" x2="666.96" y2="395.2" stroke="#f4f4f4" stroke-width="0.4" />
<line x1="585.5" y1="384.64" x2="678.6" y2="384.64" stroke="#f4f4f4" stroke-width="0.4" />
<line x1="608.77" y1="310.7" x2="608.77" y2="395.2" stroke="#ececec" stroke-width="0.5" />
<line x1="585.5" y1="331.82" x2="678.6" y2="331.82" stroke="#ececec" stroke-width="0.5" />
<line x1="632.05" y1="310.7" x2="632.05" y2="395.2" stroke="#ececec" stroke-width="0.5" />
<line x1="585.5" y1="352.95" x2="678.6" y2="352.95" stroke="#ececec" stroke-width="0.5" />
<line x1="655.33" y1="310.7" x2="655.33" y2="395.2" stroke="#ececec" stroke-width="0.5" />
<line x1="585.5" y1="374.07" x2="678.6" y2="374.07" stroke="#ececec" stroke-width="0.5" />
<path d="M619.52 310.71 L619.52 329.76 L624.29 329.76 L624.29 346.43 L631.43 346.43 L631.43 365.48 L636.19 365.48 L636.19 382.14 L640.95 382.14 L640.95 395.24" fill="none" stroke="#efe6e6" stroke-width="0.6" stroke-linejoin="miter"/>
<path d="M600.48 310.71 L600.48 316.67 L604.05 316.67 L604.05 332.14 L610 332.14 L610 344.05 L619.52 344.05 L619.52 360.71 L624.29 360.71 L624.29 375 L627.86 375 L627.86 386.9 L631.43 386.9 L631.43 395.24" fill="none" stroke="#d7b4b4" stroke-width="0.7" stroke-linejoin="miter"/>
<path d="M626.67 310.71 L626.67 322.62 L629.05 322.62 L629.05 334.52 L633.81 334.52 L633.81 351.19 L638.57 351.19 L638.57 365.48 L643.33 365.48 L643.33 379.76 L646.19 379.76 L646.19 389.29 L648.1 389.29 L648.1 395.24" fill="none" stroke="#dcbaf7" stroke-width="0.8" stroke-linejoin="miter"/>
<path d="M614.76 310.71 L614.76 322.62 L631.43 322.62 L631.43 332.14 L635 332.14 L635 344.05 L638.57 344.05 L638.57 360.71 L640.95 360.71 L640.95 375 L642.86 375 L642.86 386.9 L644.52 386.9 L644.52 395.24" fill="none" stroke="#a8eca8" stroke-width="0.8" stroke-linejoin="miter"/>
<path d="M630.24 310.71 L630.24 317.86 L632.62 317.86 L632.62 325 L635.71 325 L635.71 336.9 L638.57 336.9 L638.57 344.05 L640.48 344.05 L640.48 352.38 L643.33 352.38 L643.33 360.71 L646.9 360.71 L646.9 370.24 L650.48 370.24 L650.48 375 L655.24 375 L655.24 382.14 L660 382.14 L660 389.29 L661.9 389.29 L661.9 395.24" fill="none" stroke="#999999" stroke-width="0.8" stroke-linejoin="miter"/>
<path d="M593.33 310.71 L593.33 314.29 L614.29 314.29 L614.29 320.24 L616.67 320.24 L616.67 326.19 L619.05 326.19 L619.05 336.9 L621.9 336.9 L621.9 344.05 L626.67 344.05 L626.67 353.57 L630.95 353.57 L630.95 360.71 L635 360.71 L635 378.57 L637.38 378.57 L637.38 385.71 L640.95 385.71 L640.95 390.48 L643.33 390.48 L643.33 395.24" fill="none" stroke="#ffa820" stroke-width="1.1" stroke-linejoin="miter"/>
<path d="M590.95 310.71 L590.95 314.29 L606.43 314.29 L606.43 320.24 L608.81 320.24 L608.81 326.19 L611.19 326.19 L611.19 332.14 L613.57 332.14 L613.57 339.29 L617.14 339.29 L617.14 348.81 L620.71 348.81 L620.71 360.71 L624.29 360.71 L624.29 378.57 L629.05 378.57 L629.05 384.52 L632.62 384.52 L632.62 389.29 L635 389.29 L635 395.24" fill="none" stroke="#3b64d8" stroke-width="1" stroke-linejoin="miter"/>
<path d="M605.24 310.71 L605.24 316.67 L607.62 316.67 L607.62 326.19 L611.9 326.19 L611.9 332.14 L614.76 332.14 L614.76 342.86 L619.05 342.86 L619.05 353.57 L621.43 353.57 L621.43 366.67 L626.19 366.67 L626.19 377.38 L629.52 377.38 L629.52 386.9 L633.33 386.9 L633.33 395.24" fill="none" stroke="#ff1aff" stroke-width="1.1" stroke-linejoin="miter"/>
<line x1="599.3" y1="310.7" x2="599.3" y2="395.2" stroke="#000" stroke-width="0.75" stroke-dasharray="0.9,1.2"/>
<rect x="585.5" y="310.7" width="93.1" height="84.5" fill="none" stroke="#9a9a9a" stroke-width="0.8"/>
<text x="583.3" y="312.4" font-size="5" fill="#444" text-anchor="end" textLength="9.4" lengthAdjust="spacingAndGlyphs" stroke="#444" stroke-width="0.06">1.00</text>
<line x1="583.9" y1="310.7" x2="585.5" y2="310.7" stroke="#888" stroke-width="0.6" />
<line x1="585.5" y1="395.2" x2="585.5" y2="396.7" stroke="#888" stroke-width="0.6" />
<text x="583.3" y="333.52" font-size="5" fill="#444" text-anchor="end" textLength="9.4" lengthAdjust="spacingAndGlyphs" stroke="#444" stroke-width="0.06">0.75</text>
<line x1="583.9" y1="331.82" x2="585.5" y2="331.82" stroke="#888" stroke-width="0.6" />
<line x1="608.77" y1="395.2" x2="608.77" y2="396.7" stroke="#888" stroke-width="0.6" />
<text x="583.3" y="354.65" font-size="5" fill="#444" text-anchor="end" textLength="9.4" lengthAdjust="spacingAndGlyphs" stroke="#444" stroke-width="0.06">0.50</text>
<line x1="583.9" y1="352.95" x2="585.5" y2="352.95" stroke="#888" stroke-width="0.6" />
<line x1="632.05" y1="395.2" x2="632.05" y2="396.7" stroke="#888" stroke-width="0.6" />
<text x="583.3" y="375.77" font-size="5" fill="#444" text-anchor="end" textLength="9.4" lengthAdjust="spacingAndGlyphs" stroke="#444" stroke-width="0.06">0.25</text>
<line x1="583.9" y1="374.07" x2="585.5" y2="374.07" stroke="#888" stroke-width="0.6" />
<line x1="655.33" y1="395.2" x2="655.33" y2="396.7" stroke="#888" stroke-width="0.6" />
<text x="583.3" y="396.9" font-size="5" fill="#444" text-anchor="end" textLength="9.4" lengthAdjust="spacingAndGlyphs" stroke="#444" stroke-width="0.06">0.00</text>
<line x1="583.9" y1="395.2" x2="585.5" y2="395.2" stroke="#888" stroke-width="0.6" />
<line x1="678.6" y1="395.2" x2="678.6" y2="396.7" stroke="#888" stroke-width="0.6" />
<text x="585.9" y="402.1" font-size="5" fill="#333" text-anchor="middle" stroke="#333" stroke-width="0.1">10<tspan font-size="3.25" dy="-2">1</tspan></text>
<text x="609.17" y="402.1" font-size="5" fill="#333" text-anchor="middle" stroke="#333" stroke-width="0.1">10<tspan font-size="3.25" dy="-2">2</tspan></text>
<text x="632.45" y="402.1" font-size="5" fill="#333" text-anchor="middle" stroke="#333" stroke-width="0.1">10<tspan font-size="3.25" dy="-2">3</tspan></text>
<text x="655.73" y="402.1" font-size="5" fill="#333" text-anchor="middle" stroke="#333" stroke-width="0.1">10<tspan font-size="3.25" dy="-2">4</tspan></text>
<text x="679" y="402.1" font-size="5" fill="#333" text-anchor="middle" stroke="#333" stroke-width="0.1">10<tspan font-size="3.25" dy="-2">5</tspan></text>
<text x="632.45" y="409.1" font-size="6.6" fill="#222" text-anchor="middle" textLength="60.5" lengthAdjust="spacingAndGlyphs" stroke="#222" stroke-width="0.12">Reciprocal serum ID<tspan font-size="4.3" dy="1.3">50</tspan></text>
<text transform="translate(571.2,352.95) rotate(-90)" font-size="6.3" fill="#222" stroke="#222" stroke-width="0.12" text-anchor="middle">Proportion</text>
<text x="632" y="307" font-size="6.9" fill="#22b822" font-weight="bold" text-anchor="middle" stroke="#22b822" stroke-width="0.1">BA.5 breakthrough (14d)</text>
<line x1="362" y1="425.2" x2="362" y2="510.1" stroke="#f4f4f4" stroke-width="0.4" />
<line x1="350.3" y1="435.81" x2="443.9" y2="435.81" stroke="#f4f4f4" stroke-width="0.4" />
<line x1="385.4" y1="425.2" x2="385.4" y2="510.1" stroke="#f4f4f4" stroke-width="0.4" />
<line x1="350.3" y1="457.04" x2="443.9" y2="457.04" stroke="#f4f4f4" stroke-width="0.4" />
<line x1="408.8" y1="425.2" x2="408.8" y2="510.1" stroke="#f4f4f4" stroke-width="0.4" />
<line x1="350.3" y1="478.26" x2="443.9" y2="478.26" stroke="#f4f4f4" stroke-width="0.4" />
<line x1="432.2" y1="425.2" x2="432.2" y2="510.1" stroke="#f4f4f4" stroke-width="0.4" />
<line x1="350.3" y1="499.49" x2="443.9" y2="499.49" stroke="#f4f4f4" stroke-width="0.4" />
<line x1="373.7" y1="425.2" x2="373.7" y2="510.1" stroke="#ececec" stroke-width="0.5" />
<line x1="350.3" y1="446.43" x2="443.9" y2="446.43" stroke="#ececec" stroke-width="0.5" />
<line x1="397.1" y1="425.2" x2="397.1" y2="510.1" stroke="#ececec" stroke-width="0.5" />
<line x1="350.3" y1="467.65" x2="443.9" y2="467.65" stroke="#ececec" stroke-width="0.5" />
<line x1="420.5" y1="425.2" x2="420.5" y2="510.1" stroke="#ececec" stroke-width="0.5" />
<line x1="350.3" y1="488.88" x2="443.9" y2="488.88" stroke="#ececec" stroke-width="0.5" />
<path d="M352 425.2 L352 445 L358 445 L358 470 L368 470 L368 492 L378 492 L378 510.1" fill="none" stroke="#f2e0d6" stroke-width="0.6" stroke-linejoin="miter"/>
<path d="M356 425.2 L356 455 L362 455 L362 480 L372 480 L372 498 L385 498 L385 510.1" fill="none" stroke="#e0ecf4" stroke-width="0.6" stroke-linejoin="miter"/>
<path d="M363 425.2 L363 438 L372 438 L372 462 L380 462 L380 486 L390 486 L390 510.1" fill="none" stroke="#f0e4f0" stroke-width="0.6" stroke-linejoin="miter"/>
<path d="M361.7 425.2 L361.7 440 L365.2 440 L365.2 447.7 L366.9 447.7 L366.9 455.4 L370.3 455.4 L370.3 463.2 L375.4 463.2 L375.4 471.7 L379.7 471.7 L379.7 479.5 L384 479.5 L384 487.2 L396 487.2 L396 494.9 L397.7 494.9 L397.7 501.8 L398.9 501.8 L398.9 510.1" fill="none" stroke="#dcbaf7" stroke-width="0.8" stroke-linejoin="miter"/>
<path d="M350.3 447.7 L354 447.7 L354 455.4 L366 455.4 L366 471.7 L377.2 471.7 L377.2 487.2 L383.2 487.2 L383.2 494.9 L393.5 494.9 L393.5 501.8 L394.3 501.8 L394.3 510.1" fill="none" stroke="#a8eca8" stroke-width="0.8" stroke-linejoin="miter"/>
<path d="M375.1 425.2 L375.1 432.6 L384 432.6 L384 440 L385 440 L385 447.9 L388 447.9 L388 456.2 L396.2 456.2 L396.2 471.2 L398 471.2 L398 479 L399.4 479 L399.4 487.3 L415.4 487.3 L415.4 494.5 L420.3 494.5 L420.3 502.7 L421.3 502.7 L421.3 510.1" fill="none" stroke="#999999" stroke-width="0.8" stroke-linejoin="miter"/>
<path d="M350.6 487.2 L356.6 487.2 L356.6 494.9 L364.3 494.9 L364.3 502.6 L371.2 502.6 L371.2 510.1" fill="none" stroke="#3b64d8" stroke-width="1" stroke-linejoin="miter"/>
<path d="M350.6 471.7 L351.8 471.7 L351.8 479.5 L356.6 479.5 L356.6 487.2 L358.3 487.2 L358.3 494.9 L364.3 494.9 L364.3 510.1" fill="none" stroke="#ffa820" stroke-width="1.1" stroke-linejoin="miter"/>
<path d="M350.6 479.5 L351.8 479.5 L351.8 487.2 L356.6 487.2 L356.6 494.9 L360.9 494.9 L360.9 510.1" fill="none" stroke="#ff1aff" stroke-width="1.1" stroke-linejoin="miter"/>
<line x1="363.9" y1="425.2" x2="363.9" y2="510.1" stroke="#000" stroke-width="0.75" stroke-dasharray="0.9,1.2"/>
<rect x="350.3" y="425.2" width="93.6" height="84.9" fill="none" stroke="#9a9a9a" stroke-width="0.8"/>
<text x="348.1" y="426.9" font-size="5" fill="#444" text-anchor="end" textLength="9.4" lengthAdjust="spacingAndGlyphs" stroke="#444" stroke-width="0.06">1.00</text>
<line x1="348.7" y1="425.2" x2="350.3" y2="425.2" stroke="#888" stroke-width="0.6" />
<line x1="350.3" y1="510.1" x2="350.3" y2="511.6" stroke="#888" stroke-width="0.6" />
<text x="348.1" y="448.12" font-size="5" fill="#444" text-anchor="end" textLength="9.4" lengthAdjust="spacingAndGlyphs" stroke="#444" stroke-width="0.06">0.75</text>
<line x1="348.7" y1="446.43" x2="350.3" y2="446.43" stroke="#888" stroke-width="0.6" />
<line x1="373.7" y1="510.1" x2="373.7" y2="511.6" stroke="#888" stroke-width="0.6" />
<text x="348.1" y="469.35" font-size="5" fill="#444" text-anchor="end" textLength="9.4" lengthAdjust="spacingAndGlyphs" stroke="#444" stroke-width="0.06">0.50</text>
<line x1="348.7" y1="467.65" x2="350.3" y2="467.65" stroke="#888" stroke-width="0.6" />
<line x1="397.1" y1="510.1" x2="397.1" y2="511.6" stroke="#888" stroke-width="0.6" />
<text x="348.1" y="490.57" font-size="5" fill="#444" text-anchor="end" textLength="9.4" lengthAdjust="spacingAndGlyphs" stroke="#444" stroke-width="0.06">0.25</text>
<line x1="348.7" y1="488.88" x2="350.3" y2="488.88" stroke="#888" stroke-width="0.6" />
<line x1="420.5" y1="510.1" x2="420.5" y2="511.6" stroke="#888" stroke-width="0.6" />
<text x="348.1" y="511.8" font-size="5" fill="#444" text-anchor="end" textLength="9.4" lengthAdjust="spacingAndGlyphs" stroke="#444" stroke-width="0.06">0.00</text>
<line x1="348.7" y1="510.1" x2="350.3" y2="510.1" stroke="#888" stroke-width="0.6" />
<line x1="443.9" y1="510.1" x2="443.9" y2="511.6" stroke="#888" stroke-width="0.6" />
<text x="350.7" y="517" font-size="5" fill="#333" text-anchor="middle" stroke="#333" stroke-width="0.1">10<tspan font-size="3.25" dy="-2">1</tspan></text>
<text x="374.1" y="517" font-size="5" fill="#333" text-anchor="middle" stroke="#333" stroke-width="0.1">10<tspan font-size="3.25" dy="-2">2</tspan></text>
<text x="397.5" y="517" font-size="5" fill="#333" text-anchor="middle" stroke="#333" stroke-width="0.1">10<tspan font-size="3.25" dy="-2">3</tspan></text>
<text x="420.9" y="517" font-size="5" fill="#333" text-anchor="middle" stroke="#333" stroke-width="0.1">10<tspan font-size="3.25" dy="-2">4</tspan></text>
<text x="444.3" y="517" font-size="5" fill="#333" text-anchor="middle" stroke="#333" stroke-width="0.1">10<tspan font-size="3.25" dy="-2">5</tspan></text>
<text x="397.5" y="524" font-size="6.6" fill="#222" text-anchor="middle" textLength="60.5" lengthAdjust="spacingAndGlyphs" stroke="#222" stroke-width="0.12">Reciprocal serum ID<tspan font-size="4.3" dy="1.3">50</tspan></text>
<text transform="translate(336,467.65) rotate(-90)" font-size="6.3" fill="#222" stroke="#222" stroke-width="0.12" text-anchor="middle">Proportion</text>
<text x="397.5" y="421.9" font-size="6.9" fill="#f02a2a" font-weight="bold" text-anchor="middle" stroke="#f02a2a" stroke-width="0.1">2 x CoronaVac + ZF2001 (14d)</text>
<line x1="479.93" y1="425.2" x2="479.93" y2="510.1" stroke="#f4f4f4" stroke-width="0.4" />
<line x1="468.3" y1="435.81" x2="561.3" y2="435.81" stroke="#f4f4f4" stroke-width="0.4" />
<line x1="503.18" y1="425.2" x2="503.18" y2="510.1" stroke="#f4f4f4" stroke-width="0.4" />
<line x1="468.3" y1="457.04" x2="561.3" y2="457.04" stroke="#f4f4f4" stroke-width="0.4" />
<line x1="526.42" y1="425.2" x2="526.42" y2="510.1" stroke="#f4f4f4" stroke-width="0.4" />
<line x1="468.3" y1="478.26" x2="561.3" y2="478.26" stroke="#f4f4f4" stroke-width="0.4" />
<line x1="549.67" y1="425.2" x2="549.67" y2="510.1" stroke="#f4f4f4" stroke-width="0.4" />
<line x1="468.3" y1="499.49" x2="561.3" y2="499.49" stroke="#f4f4f4" stroke-width="0.4" />
<line x1="491.55" y1="425.2" x2="491.55" y2="510.1" stroke="#ececec" stroke-width="0.5" />
<line x1="468.3" y1="446.43" x2="561.3" y2="446.43" stroke="#ececec" stroke-width="0.5" />
<line x1="514.8" y1="425.2" x2="514.8" y2="510.1" stroke="#ececec" stroke-width="0.5" />
<line x1="468.3" y1="467.65" x2="561.3" y2="467.65" stroke="#ececec" stroke-width="0.5" />
<line x1="538.05" y1="425.2" x2="538.05" y2="510.1" stroke="#ececec" stroke-width="0.5" />
<line x1="468.3" y1="488.88" x2="561.3" y2="488.88" stroke="#ececec" stroke-width="0.5" />
<path d="M490.79 425.2 L490.79 444.5 L495.74 444.5 L495.74 469.26 L501.93 469.26 L501.93 494.01 L509.36 494.01 L509.36 510.1" fill="none" stroke="#f2e0d6" stroke-width="0.6" stroke-linejoin="miter"/>
<path d="M495.74 425.2 L495.74 451.93 L500.69 451.93 L500.69 476.68 L506.88 476.68 L506.88 498.96 L515.54 498.96 L515.54 510.1" fill="none" stroke="#e0ecf4" stroke-width="0.6" stroke-linejoin="miter"/>
<path d="M493.27 425.2 L493.27 437.08 L498.22 437.08 L498.22 456.88 L503.17 456.88 L503.17 476.68 L508.12 476.68 L508.12 494.01 L514.31 494.01 L514.31 503.91 L519.26 503.91 L519.26 510.1" fill="none" stroke="#dcbaf7" stroke-width="0.8" stroke-linejoin="miter"/>
<path d="M488.32 425.2 L488.32 439.55 L493.27 439.55 L493.27 459.36 L496.98 459.36 L496.98 476.68 L500.69 476.68 L500.69 494.01 L505.64 494.01 L505.64 503.91 L510.59 503.91 L510.59 510.1" fill="none" stroke="#a8eca8" stroke-width="0.8" stroke-linejoin="miter"/>
<path d="M506.88 425.2 L506.88 432.13 L508.12 432.13 L508.12 439.55 L509.85 439.55 L509.85 448.22 L511.83 448.22 L511.83 456.88 L514.31 456.88 L514.31 479.16 L518.02 479.16 L518.02 486.58 L521.73 486.58 L521.73 494.01 L524.21 494.01 L524.21 501.44 L527.92 501.44 L527.92 510.1" fill="none" stroke="#999999" stroke-width="0.8" stroke-linejoin="miter"/>
<path d="M468.51 425.2 L485.84 425.2 L485.84 432.13 L488.32 432.13 L488.32 448.22 L490.79 448.22 L490.79 461.83 L493.27 461.83 L493.27 474.21 L495.74 474.21 L495.74 489.06 L498.22 489.06 L498.22 496.49 L501.93 496.49 L501.93 503.91 L503.91 503.91 L503.91 510.1" fill="none" stroke="#ffa820" stroke-width="1.1" stroke-linejoin="miter"/>
<path d="M484.6 425.2 L484.6 429.65 L487.08 429.65 L487.08 444.5 L489.06 444.5 L489.06 459.36 L491.53 459.36 L491.53 476.68 L494.01 476.68 L494.01 489.06 L496.98 489.06 L496.98 498.96 L499.95 498.96 L499.95 505.15 L501.93 505.15 L501.93 510.1" fill="none" stroke="#3b64d8" stroke-width="1" stroke-linejoin="miter"/>
<path d="M486.58 425.2 L486.58 434.6 L488.32 434.6 L488.32 451.93 L490.05 451.93 L490.05 469.26 L492.03 469.26 L492.03 484.11 L494.5 484.11 L494.5 496.49 L496.49 496.49 L496.49 503.91 L498.22 503.91 L498.22 510.1" fill="none" stroke="#ff1aff" stroke-width="1.1" stroke-linejoin="miter"/>
<line x1="482.6" y1="425.2" x2="482.6" y2="510.1" stroke="#000" stroke-width="0.75" stroke-dasharray="0.9,1.2"/>
<rect x="468.3" y="425.2" width="93" height="84.9" fill="none" stroke="#9a9a9a" stroke-width="0.8"/>
<text x="466.1" y="426.9" font-size="5" fill="#444" text-anchor="end" textLength="9.4" lengthAdjust="spacingAndGlyphs" stroke="#444" stroke-width="0.06">1.00</text>
<line x1="466.7" y1="425.2" x2="468.3" y2="425.2" stroke="#888" stroke-width="0.6" />
<line x1="468.3" y1="510.1" x2="468.3" y2="511.6" stroke="#888" stroke-width="0.6" />
<text x="466.1" y="448.12" font-size="5" fill="#444" text-anchor="end" textLength="9.4" lengthAdjust="spacingAndGlyphs" stroke="#444" stroke-width="0.06">0.75</text>
<line x1="466.7" y1="446.43" x2="468.3" y2="446.43" stroke="#888" stroke-width="0.6" />
<line x1="491.55" y1="510.1" x2="491.55" y2="511.6" stroke="#888" stroke-width="0.6" />
<text x="466.1" y="469.35" font-size="5" fill="#444" text-anchor="end" textLength="9.4" lengthAdjust="spacingAndGlyphs" stroke="#444" stroke-width="0.06">0.50</text>
<line x1="466.7" y1="467.65" x2="468.3" y2="467.65" stroke="#888" stroke-width="0.6" />
<line x1="514.8" y1="510.1" x2="514.8" y2="511.6" stroke="#888" stroke-width="0.6" />
<text x="466.1" y="490.57" font-size="5" fill="#444" text-anchor="end" textLength="9.4" lengthAdjust="spacingAndGlyphs" stroke="#444" stroke-width="0.06">0.25</text>
<line x1="466.7" y1="488.88" x2="468.3" y2="488.88" stroke="#888" stroke-width="0.6" />
<line x1="538.05" y1="510.1" x2="538.05" y2="511.6" stroke="#888" stroke-width="0.6" />
<text x="466.1" y="511.8" font-size="5" fill="#444" text-anchor="end" textLength="9.4" lengthAdjust="spacingAndGlyphs" stroke="#444" stroke-width="0.06">0.00</text>
<line x1="466.7" y1="510.1" x2="468.3" y2="510.1" stroke="#888" stroke-width="0.6" />
<line x1="561.3" y1="510.1" x2="561.3" y2="511.6" stroke="#888" stroke-width="0.6" />
<text x="468.7" y="517" font-size="5" fill="#333" text-anchor="middle" stroke="#333" stroke-width="0.1">10<tspan font-size="3.25" dy="-2">1</tspan></text>
<text x="491.95" y="517" font-size="5" fill="#333" text-anchor="middle" stroke="#333" stroke-width="0.1">10<tspan font-size="3.25" dy="-2">2</tspan></text>
<text x="515.2" y="517" font-size="5" fill="#333" text-anchor="middle" stroke="#333" stroke-width="0.1">10<tspan font-size="3.25" dy="-2">3</tspan></text>
<text x="538.45" y="517" font-size="5" fill="#333" text-anchor="middle" stroke="#333" stroke-width="0.1">10<tspan font-size="3.25" dy="-2">4</tspan></text>
<text x="561.7" y="517" font-size="5" fill="#333" text-anchor="middle" stroke="#333" stroke-width="0.1">10<tspan font-size="3.25" dy="-2">5</tspan></text>
<text x="515.2" y="524" font-size="6.6" fill="#222" text-anchor="middle" textLength="60.5" lengthAdjust="spacingAndGlyphs" stroke="#222" stroke-width="0.12">Reciprocal serum ID<tspan font-size="4.3" dy="1.3">50</tspan></text>
<text transform="translate(454,467.65) rotate(-90)" font-size="6.3" fill="#222" stroke="#222" stroke-width="0.12" text-anchor="middle">Proportion</text>
<text x="514.9" y="421.9" font-size="6.9" fill="#2b2bee" font-weight="bold" text-anchor="middle" stroke="#2b2bee" stroke-width="0.1">BA.2 breakthrough (6M)</text>
<line x1="597.51" y1="425.2" x2="597.51" y2="510.1" stroke="#f4f4f4" stroke-width="0.4" />
<line x1="585.9" y1="435.81" x2="678.8" y2="435.81" stroke="#f4f4f4" stroke-width="0.4" />
<line x1="620.74" y1="425.2" x2="620.74" y2="510.1" stroke="#f4f4f4" stroke-width="0.4" />
<line x1="585.9" y1="457.04" x2="678.8" y2="457.04" stroke="#f4f4f4" stroke-width="0.4" />
<line x1="643.96" y1="425.2" x2="643.96" y2="510.1" stroke="#f4f4f4" stroke-width="0.4" />
<line x1="585.9" y1="478.26" x2="678.8" y2="478.26" stroke="#f4f4f4" stroke-width="0.4" />
<line x1="667.19" y1="425.2" x2="667.19" y2="510.1" stroke="#f4f4f4" stroke-width="0.4" />
<line x1="585.9" y1="499.49" x2="678.8" y2="499.49" stroke="#f4f4f4" stroke-width="0.4" />
<line x1="609.12" y1="425.2" x2="609.12" y2="510.1" stroke="#ececec" stroke-width="0.5" />
<line x1="585.9" y1="446.43" x2="678.8" y2="446.43" stroke="#ececec" stroke-width="0.5" />
<line x1="632.35" y1="425.2" x2="632.35" y2="510.1" stroke="#ececec" stroke-width="0.5" />
<line x1="585.9" y1="467.65" x2="678.8" y2="467.65" stroke="#ececec" stroke-width="0.5" />
<line x1="655.57" y1="425.2" x2="655.57" y2="510.1" stroke="#ececec" stroke-width="0.5" />
<line x1="585.9" y1="488.88" x2="678.8" y2="488.88" stroke="#ececec" stroke-width="0.5" />
<path d="M619.85 425.2 L619.85 444.5 L624.31 444.5 L624.31 464.31 L629.26 464.31 L629.26 489.06 L634.21 489.06 L634.21 510.1" fill="none" stroke="#f2e0d6" stroke-width="0.6" stroke-linejoin="miter"/>
<path d="M623.07 425.2 L623.07 449.46 L628.02 449.46 L628.02 476.68 L633.71 476.68 L633.71 498.96 L636.68 498.96 L636.68 510.1" fill="none" stroke="#e0ecf4" stroke-width="0.6" stroke-linejoin="miter"/>
<path d="M625.54 425.2 L625.54 437.08 L629.26 437.08 L629.26 454.41 L632.23 454.41 L632.23 471.73 L635.45 471.73 L635.45 489.06 L639.16 489.06 L639.16 501.44 L641.63 501.44 L641.63 510.1" fill="none" stroke="#dcbaf7" stroke-width="0.8" stroke-linejoin="miter"/>
<path d="M621.83 425.2 L621.83 434.6 L625.54 434.6 L625.54 451.93 L628.02 451.93 L628.02 469.26 L631.73 469.26 L631.73 486.58 L635.45 486.58 L635.45 498.96 L637.92 498.96 L637.92 510.1" fill="none" stroke="#a8eca8" stroke-width="0.8" stroke-linejoin="miter"/>
<path d="M639.65 425.2 L639.65 432.13 L641.63 432.13 L641.63 439.55 L644.6 439.55 L644.6 448.22 L647.08 448.22 L647.08 459.36 L649.06 459.36 L649.06 468.02 L650.3 468.02 L650.3 479.16 L651.53 479.16 L651.53 494.01 L653.51 494.01 L653.51 503.91 L654.5 503.91 L654.5 510.1" fill="none" stroke="#999999" stroke-width="0.8" stroke-linejoin="miter"/>
<path d="M585.94 425.2 L617.38 425.2 L617.38 439.55 L619.85 439.55 L619.85 445.74 L625.54 445.74 L625.54 453.17 L628.02 453.17 L628.02 461.83 L630.5 461.83 L630.5 469.26 L631.73 469.26 L631.73 481.63 L636.68 481.63 L636.68 489.06 L640.4 489.06 L640.4 496.49 L644.11 496.49 L644.11 503.91 L645.35 503.91 L645.35 510.1" fill="none" stroke="#ffa820" stroke-width="1.1" stroke-linejoin="miter"/>
<path d="M614.41 425.2 L614.41 432.13 L616.88 432.13 L616.88 438.32 L618.86 438.32 L618.86 451.93 L621.34 451.93 L621.34 465.54 L623.81 465.54 L623.81 474.21 L624.8 474.21 L624.8 481.63 L629.26 481.63 L629.26 489.06 L631.73 489.06 L631.73 496.49 L634.7 496.49 L634.7 503.91 L635.45 503.91 L635.45 510.1" fill="none" stroke="#3b64d8" stroke-width="1" stroke-linejoin="miter"/>
<path d="M618.12 425.2 L618.12 432.13 L619.85 432.13 L619.85 446.98 L621.83 446.98 L621.83 460.59 L623.81 460.59 L623.81 469.26 L625.54 469.26 L625.54 480.4 L626.78 480.4 L626.78 489.06 L628.02 489.06 L628.02 496.49 L629.26 496.49 L629.26 510.1" fill="none" stroke="#ff1aff" stroke-width="1.1" stroke-linejoin="miter"/>
<line x1="599.6" y1="425.2" x2="599.6" y2="510.1" stroke="#000" stroke-width="0.75" stroke-dasharray="0.9,1.2"/>
<rect x="585.9" y="425.2" width="92.9" height="84.9" fill="none" stroke="#9a9a9a" stroke-width="0.8"/>
<text x="583.7" y="426.9" font-size="5" fill="#444" text-anchor="end" textLength="9.4" lengthAdjust="spacingAndGlyphs" stroke="#444" stroke-width="0.06">1.00</text>
<line x1="584.3" y1="425.2" x2="585.9" y2="425.2" stroke="#888" stroke-width="0.6" />
<line x1="585.9" y1="510.1" x2="585.9" y2="511.6" stroke="#888" stroke-width="0.6" />
<text x="583.7" y="448.12" font-size="5" fill="#444" text-anchor="end" textLength="9.4" lengthAdjust="spacingAndGlyphs" stroke="#444" stroke-width="0.06">0.75</text>
<line x1="584.3" y1="446.43" x2="585.9" y2="446.43" stroke="#888" stroke-width="0.6" />
<line x1="609.12" y1="510.1" x2="609.12" y2="511.6" stroke="#888" stroke-width="0.6" />
<text x="583.7" y="469.35" font-size="5" fill="#444" text-anchor="end" textLength="9.4" lengthAdjust="spacingAndGlyphs" stroke="#444" stroke-width="0.06">0.50</text>
<line x1="584.3" y1="467.65" x2="585.9" y2="467.65" stroke="#888" stroke-width="0.6" />
<line x1="632.35" y1="510.1" x2="632.35" y2="511.6" stroke="#888" stroke-width="0.6" />
<text x="583.7" y="490.57" font-size="5" fill="#444" text-anchor="end" textLength="9.4" lengthAdjust="spacingAndGlyphs" stroke="#444" stroke-width="0.06">0.25</text>
<line x1="584.3" y1="488.88" x2="585.9" y2="488.88" stroke="#888" stroke-width="0.6" />
<line x1="655.57" y1="510.1" x2="655.57" y2="511.6" stroke="#888" stroke-width="0.6" />
<text x="583.7" y="511.8" font-size="5" fill="#444" text-anchor="end" textLength="9.4" lengthAdjust="spacingAndGlyphs" stroke="#444" stroke-width="0.06">0.00</text>
<line x1="584.3" y1="510.1" x2="585.9" y2="510.1" stroke="#888" stroke-width="0.6" />
<line x1="678.8" y1="510.1" x2="678.8" y2="511.6" stroke="#888" stroke-width="0.6" />
<text x="586.3" y="517" font-size="5" fill="#333" text-anchor="middle" stroke="#333" stroke-width="0.1">10<tspan font-size="3.25" dy="-2">1</tspan></text>
<text x="609.52" y="517" font-size="5" fill="#333" text-anchor="middle" stroke="#333" stroke-width="0.1">10<tspan font-size="3.25" dy="-2">2</tspan></text>
<text x="632.75" y="517" font-size="5" fill="#333" text-anchor="middle" stroke="#333" stroke-width="0.1">10<tspan font-size="3.25" dy="-2">3</tspan></text>
<text x="655.97" y="517" font-size="5" fill="#333" text-anchor="middle" stroke="#333" stroke-width="0.1">10<tspan font-size="3.25" dy="-2">4</tspan></text>
<text x="679.2" y="517" font-size="5" fill="#333" text-anchor="middle" stroke="#333" stroke-width="0.1">10<tspan font-size="3.25" dy="-2">5</tspan></text>
<text x="632.75" y="524" font-size="6.6" fill="#222" text-anchor="middle" textLength="60.5" lengthAdjust="spacingAndGlyphs" stroke="#222" stroke-width="0.12">Reciprocal serum ID<tspan font-size="4.3" dy="1.3">50</tspan></text>
<text transform="translate(571.6,467.65) rotate(-90)" font-size="6.3" fill="#222" stroke="#222" stroke-width="0.12" text-anchor="middle">Proportion</text>
<text x="630.5" y="421.9" font-size="6.9" fill="#22b822" font-weight="bold" text-anchor="middle" stroke="#22b822" stroke-width="0.1">BF.7 breakthrough (14d)</text>
<line x1="57.8" y1="414.2" x2="57.8" y2="520.4" stroke="#ebebeb" stroke-width="0.5" />
<line x1="79.87" y1="414.2" x2="79.87" y2="520.4" stroke="#ebebeb" stroke-width="0.5" />
<line x1="101.94" y1="414.2" x2="101.94" y2="520.4" stroke="#ebebeb" stroke-width="0.5" />
<line x1="124.01" y1="414.2" x2="124.01" y2="520.4" stroke="#ebebeb" stroke-width="0.5" />
<line x1="146.08" y1="414.2" x2="146.08" y2="520.4" stroke="#ebebeb" stroke-width="0.5" />
<line x1="168.15" y1="414.2" x2="168.15" y2="520.4" stroke="#ebebeb" stroke-width="0.5" />
<line x1="190.22" y1="414.2" x2="190.22" y2="520.4" stroke="#ebebeb" stroke-width="0.5" />
<line x1="212.29" y1="414.2" x2="212.29" y2="520.4" stroke="#ebebeb" stroke-width="0.5" />
<line x1="52.2" y1="422.5" x2="234.5" y2="422.5" stroke="#ebebeb" stroke-width="0.5" />
<line x1="52.2" y1="445.4" x2="234.5" y2="445.4" stroke="#ebebeb" stroke-width="0.5" />
<line x1="52.2" y1="468.3" x2="234.5" y2="468.3" stroke="#ebebeb" stroke-width="0.5" />
<line x1="52.2" y1="491.2" x2="234.5" y2="491.2" stroke="#ebebeb" stroke-width="0.5" />
<line x1="52.2" y1="514.1" x2="234.5" y2="514.1" stroke="#ebebeb" stroke-width="0.5" />
<rect x="52.2" y="414.2" width="182.3" height="106.2" fill="none" stroke="#b0b0b0" stroke-width="0.7"/>
<circle cx="60" cy="475" r="0.9" fill="#fbd5d5"/>
<circle cx="68" cy="466" r="0.9" fill="#fbd5d5"/>
<circle cx="77" cy="446" r="0.9" fill="#fbd5d5"/>
<circle cx="82" cy="460" r="0.9" fill="#fbd5d5"/>
<circle cx="83" cy="492" r="0.9" fill="#fbd5d5"/>
<circle cx="87" cy="470" r="0.9" fill="#fbd5d5"/>
<circle cx="91" cy="481" r="0.9" fill="#fbd5d5"/>
<circle cx="93" cy="479" r="0.9" fill="#fbd5d5"/>
<circle cx="96" cy="500" r="0.9" fill="#fbd5d5"/>
<circle cx="99" cy="456" r="0.9" fill="#fbd5d5"/>
<circle cx="100" cy="478" r="0.9" fill="#fbd5d5"/>
<circle cx="102" cy="449" r="0.9" fill="#fbd5d5"/>
<circle cx="105" cy="477" r="0.9" fill="#fbd5d5"/>
<circle cx="106" cy="488" r="0.9" fill="#fbd5d5"/>
<circle cx="110" cy="467" r="0.9" fill="#fbd5d5"/>
<circle cx="115" cy="457" r="0.9" fill="#fbd5d5"/>
<circle cx="97" cy="428" r="0.9" fill="#fbd5d5"/>
<circle cx="75" cy="503" r="0.9" fill="#fbd5d5"/>
<circle cx="63" cy="504" r="0.9" fill="#fbd5d5"/>
<circle cx="58" cy="482" r="0.9" fill="#fbd5d5"/>
<circle cx="108" cy="447" r="0.9" fill="#d8f5d8"/>
<circle cx="131" cy="443" r="0.9" fill="#d8f5d8"/>
<circle cx="138" cy="440" r="0.9" fill="#d8f5d8"/>
<circle cx="143" cy="435" r="0.9" fill="#d8f5d8"/>
<circle cx="148" cy="426" r="0.9" fill="#d8f5d8"/>
<circle cx="152" cy="419" r="0.9" fill="#d8f5d8"/>
<circle cx="160" cy="447" r="0.9" fill="#d8f5d8"/>
<circle cx="170" cy="468" r="0.9" fill="#d8f5d8"/>
<circle cx="170" cy="479" r="0.9" fill="#d8f5d8"/>
<circle cx="172" cy="478" r="0.9" fill="#d8f5d8"/>
<circle cx="166" cy="441" r="0.9" fill="#d8f5d8"/>
<circle cx="171" cy="419" r="0.9" fill="#d8f5d8"/>
<circle cx="122" cy="460.2" r="1.35" fill="#d040d0"/>
<text x="116" y="458.6" font-size="4.2" fill="#222" text-anchor="start" stroke="#222" stroke-width="0.1">WT (D614G)</text>
<circle cx="151.4" cy="473.9" r="1.35" fill="#e05050"/>
<text x="141" y="478.4" font-size="4.2" fill="#222" text-anchor="start" stroke="#222" stroke-width="0.1">BA.2</text>
<circle cx="150.1" cy="507.9" r="1.35" fill="#e08a2a"/>
<text x="137.2" y="505.9" font-size="4.2" fill="#222" text-anchor="start" stroke="#222" stroke-width="0.1">BA.2.75</text>
<circle cx="198.1" cy="419.6" r="1.35" fill="#3070e0"/>
<text x="199.4" y="418.6" font-size="4.2" fill="#222" text-anchor="start" stroke="#222" stroke-width="0.1">BQ.1.1</text>
<circle cx="183.4" cy="432.6" r="1.35" fill="#44aa44"/>
<text x="168.9" y="430.6" font-size="4.2" fill="#222" text-anchor="start" stroke="#222" stroke-width="0.1">BA.5.2.7</text>
<circle cx="184.2" cy="435" r="1.35" fill="#22aa66"/>
<text x="181.5" y="439.6" font-size="4.2" fill="#222" text-anchor="start" stroke="#222" stroke-width="0.1">BE.1.1.1</text>
<circle cx="226.7" cy="439.7" r="1.35" fill="#e05a8a"/>
<text x="213.8" y="437.8" font-size="4.2" fill="#222" text-anchor="start" stroke="#222" stroke-width="0.1">XBB.1.5</text>
<circle cx="180.7" cy="444.9" r="1.35" fill="#22aa88"/>
<text x="168.4" y="443" font-size="4.2" fill="#222" text-anchor="start" stroke="#222" stroke-width="0.1">BF.14</text>
<circle cx="206" cy="441.5" r="1.35" fill="#2a90e0"/>
<text x="196" y="445.6" font-size="4.2" fill="#222" text-anchor="start" stroke="#222" stroke-width="0.1">BQ.1</text>
<circle cx="172.3" cy="447" r="1.35" fill="#22b0c0"/>
<text x="161.8" y="449.5" font-size="4.2" fill="#222" text-anchor="start" stroke="#222" stroke-width="0.1">BF.7</text>
<circle cx="181.5" cy="445.7" r="1.35" fill="#22aa88"/>
<text x="182" y="451.4" font-size="4.2" fill="#222" text-anchor="start" stroke="#222" stroke-width="0.1">BF.16</text>
<circle cx="176.3" cy="450.7" r="1.35" fill="#a0a030"/>
<text x="164.5" y="455.6" font-size="4.2" fill="#222" text-anchor="start" stroke="#222" stroke-width="0.1">BA.4/5</text>
<circle cx="224.1" cy="456.5" r="1.35" fill="#c060e0"/>
<text x="211.7" y="454.5" font-size="4.2" fill="#222" text-anchor="start" stroke="#222" stroke-width="0.1">CH.1.1</text>
<circle cx="224.9" cy="465.4" r="1.35" fill="#b060e0"/>
<text x="220.9" y="463.5" font-size="4.2" fill="#222" text-anchor="start" stroke="#222" stroke-width="0.1">CA.3.1</text>
<circle cx="217.8" cy="477" r="1.35" fill="#d040d0"/>
<text x="217.8" y="475" font-size="4.2" fill="#222" text-anchor="start" stroke="#222" stroke-width="0.1">XBB.1</text>
<circle cx="175.7" cy="509.8" r="1.35" fill="#c09030"/>
<text x="172.3" y="507.9" font-size="4.2" fill="#222" text-anchor="start" stroke="#222" stroke-width="0.1">BA.2.75.6</text>
<circle cx="168.4" cy="513.8" r="1.35" fill="#d09030"/>
<text x="153.9" y="518.1" font-size="4.2" fill="#222" text-anchor="start" stroke="#222" stroke-width="0.1">BA.2.75.2</text>
<circle cx="186.8" cy="515.9" r="1.35" fill="#2aa0d0"/>
<text x="188.1" y="518.6" font-size="4.2" fill="#222" text-anchor="start" stroke="#222" stroke-width="0.1">BN.1</text>
<line x1="80" y1="514.9" x2="101.9" y2="514.9" stroke="#333" stroke-width="1" />
<line x1="80" y1="513.2" x2="80" y2="516.6" stroke="#333" stroke-width="0.8" />
<line x1="101.9" y1="513.2" x2="101.9" y2="516.6" stroke="#333" stroke-width="0.8" />
<text x="91" y="512.9" font-size="5.4" fill="#222" font-weight="bold" text-anchor="middle" stroke="#222" stroke-width="0.1">1 AU</text>
<circle cx="243.3" cy="455" r="1.0" fill="#fde4e4"/>
<text x="247.7" y="456.9" font-size="5.5" fill="#f02a2a" font-weight="bold" text-anchor="start" textLength="54.1" lengthAdjust="spacingAndGlyphs" stroke="#f02a2a" stroke-width="0.1">3 x CoronaVac (14d)</text>
<circle cx="243.3" cy="462.1" r="1.0" fill="#f8b4b4"/>
<text x="247.7" y="464" font-size="5.5" fill="#f02a2a" font-weight="bold" text-anchor="start" textLength="80.4" lengthAdjust="spacingAndGlyphs" stroke="#f02a2a" stroke-width="0.1">2 x CoronaVac + ZF2001 (14d)</text>
<circle cx="243.3" cy="469.2" r="1.0" fill="#e4f8e4"/>
<text x="247.7" y="471.1" font-size="5.5" fill="#22b822" font-weight="bold" text-anchor="start" textLength="65.2" lengthAdjust="spacingAndGlyphs" stroke="#22b822" stroke-width="0.1">BA.5 breakthrough (14d)</text>
<circle cx="243.3" cy="476" r="1.0" fill="#c4f0c4"/>
<text x="247.7" y="477.9" font-size="5.5" fill="#22b822" font-weight="bold" text-anchor="start" textLength="64.5" lengthAdjust="spacingAndGlyphs" stroke="#22b822" stroke-width="0.1">BF.7 breakthrough (14d)</text>
</svg></body></html>
